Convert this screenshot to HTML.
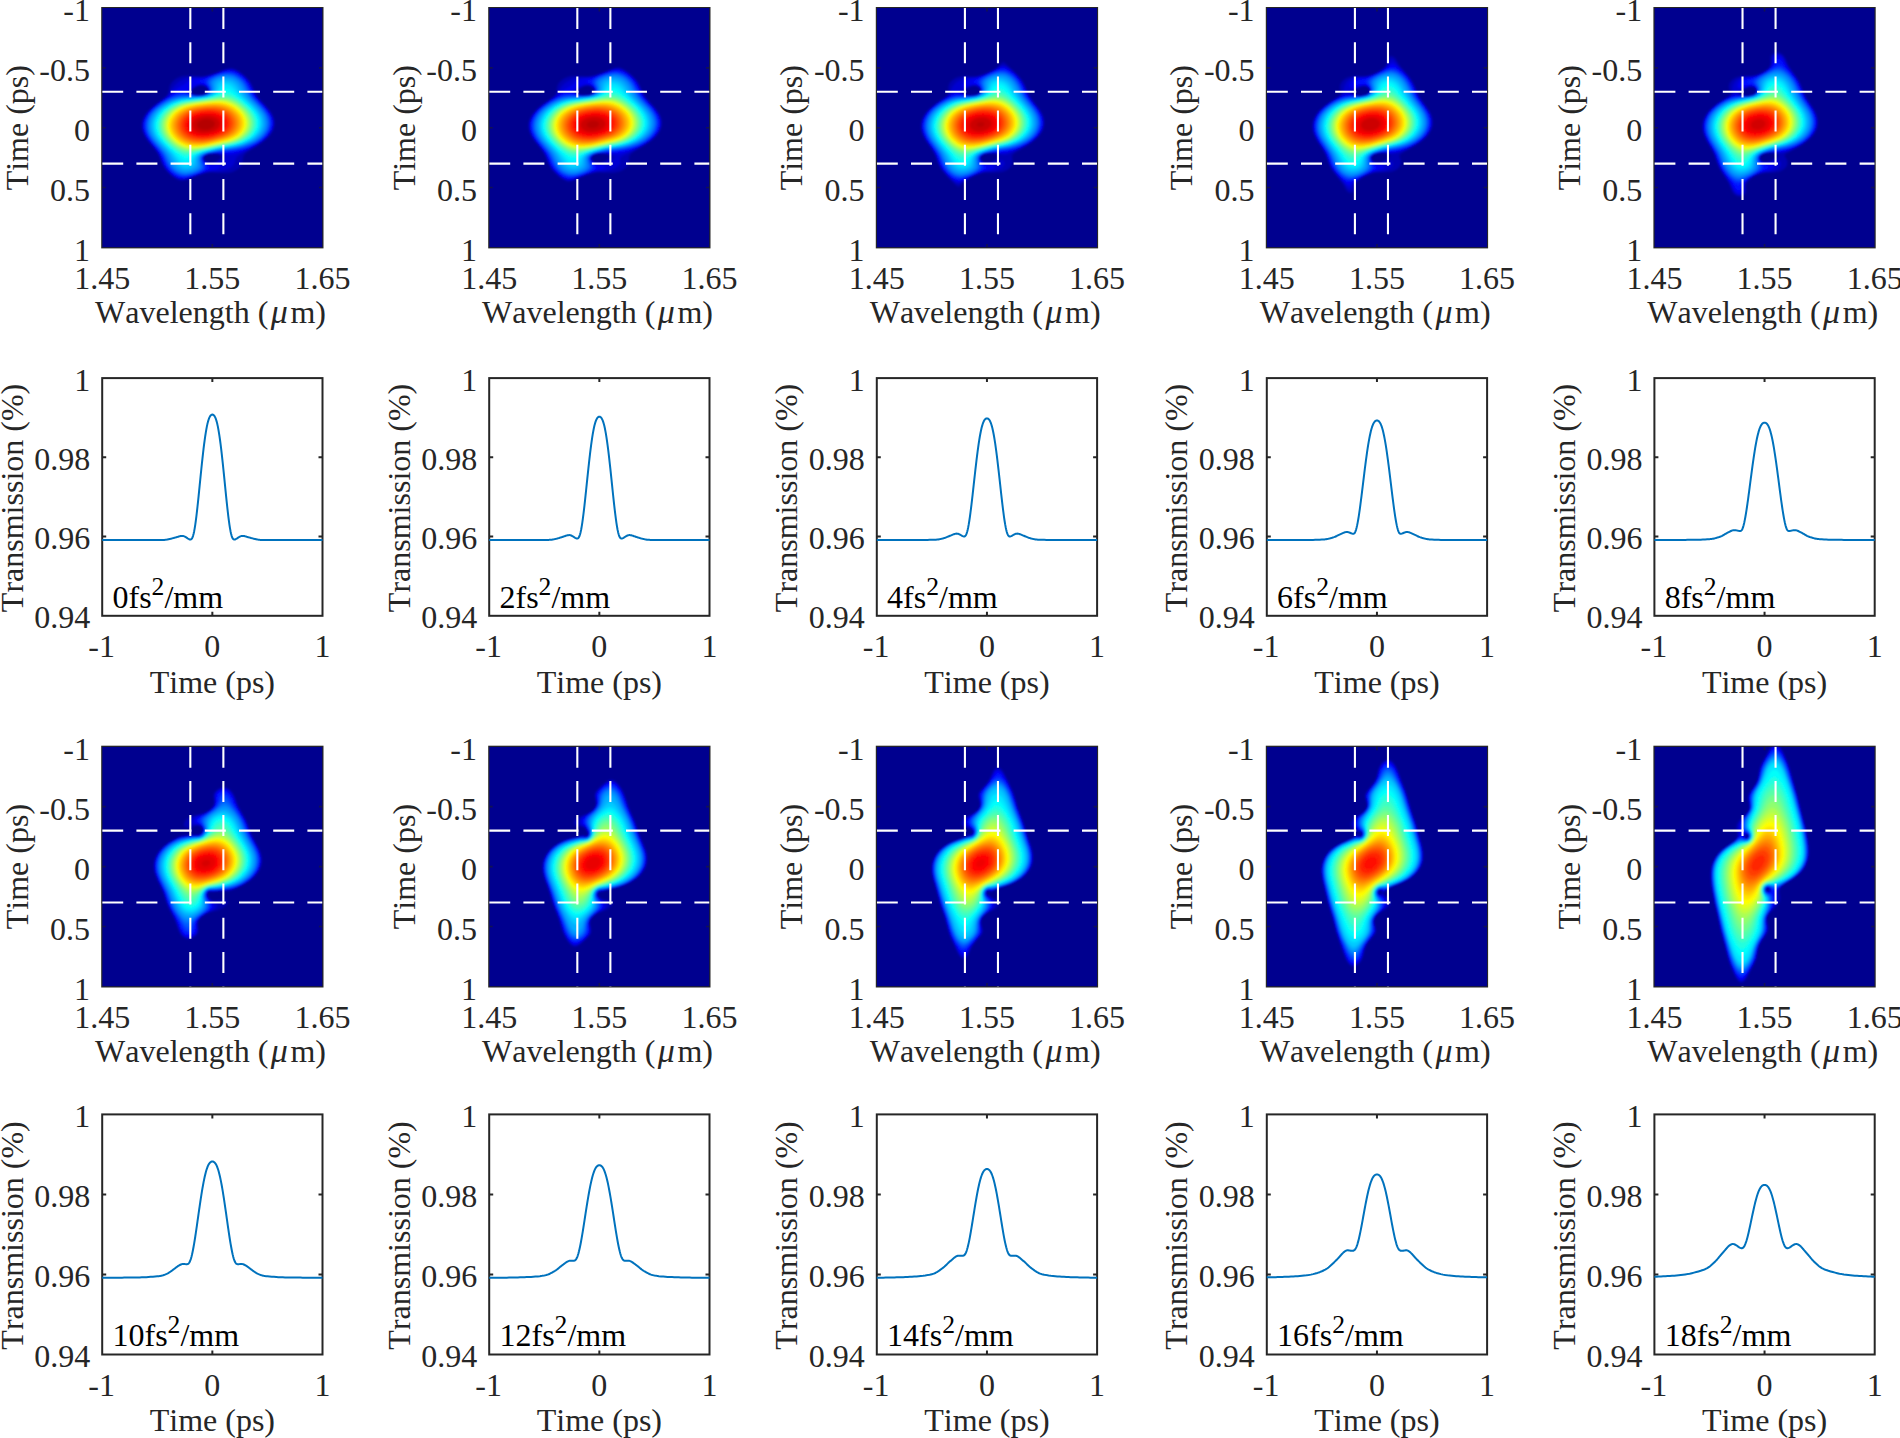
<!DOCTYPE html><html><head><meta charset="utf-8"><title>Figure</title>
<style>html,body{margin:0;padding:0;background:#fff}svg{display:block}text{font-family:"Liberation Serif","Times New Roman",Times,serif;font-size:32px;font-kerning:none}</style></head><body>
<svg width="1900" height="1438" viewBox="0 0 1900 1438">
<rect width="1900" height="1438" fill="#fff"/>
<defs><filter id="b" x="-5%" y="-5%" width="110%" height="110%"><feGaussianBlur stdDeviation="1.1"/></filter>
<clipPath id="c00"><rect x="102.2" y="8" width="220.3" height="239.4"/></clipPath>
<clipPath id="c01"><rect x="489.2" y="8" width="220.3" height="239.4"/></clipPath>
<clipPath id="c02"><rect x="876.8" y="8" width="220.3" height="239.4"/></clipPath>
<clipPath id="c03"><rect x="1266.8" y="8" width="220.3" height="239.4"/></clipPath>
<clipPath id="c04"><rect x="1654.4" y="8" width="220.3" height="239.4"/></clipPath>
<clipPath id="c20"><rect x="102.2" y="746.7" width="220.3" height="239.8"/></clipPath>
<clipPath id="c21"><rect x="489.2" y="746.7" width="220.3" height="239.8"/></clipPath>
<clipPath id="c22"><rect x="876.8" y="746.7" width="220.3" height="239.8"/></clipPath>
<clipPath id="c23"><rect x="1266.8" y="746.7" width="220.3" height="239.8"/></clipPath>
<clipPath id="c24"><rect x="1654.4" y="746.7" width="220.3" height="239.8"/></clipPath>
</defs>
<g>
<rect x="102.2" y="8" width="220.3" height="239.4" fill="#00008f" stroke="#262626" stroke-width="2"/>
<g clip-path="url(#c00)">
<rect x="102.2" y="8" width="220.3" height="239.4" fill="#00008f"/>
<g filter="url(#b)" transform="translate(102.2 8)">
<path fill="#0000b4" fill-rule="evenodd" d="M126.7 60.4l1.6 -0.2 1.2 0.1 2.3 0.5 2.3 1 2.3 1.4 3.5 2.5 2.9 2.4 2.2 2.2 2.7 3.3 2 3.3 3 7.1 2.3 4.2 2.3 3 6.2 6.6 3.7 4.4 2.3 3.3 1.1 2.2 1.3 3.3 0.4 2.2 0.1 2.1 -0.3 3.3 -1.1 3.3 -1.2 2.2 -1.4 2.2 -1.9 2.2 -3.5 3.3 -3.3 2.7 -3.5 2.4 -9.5 5.9 -2.9 2.2 -1.1 1.1 -0.9 1.1 -0.5 1.1 -0.6 2.2 -0.7 4.4 -0.9 2.2 -1.5 2.1 -1.1 1.2 -3.2 2.2 -2.5 1.1 -2.5 0.7 -3.5 0.5 -5.8 0.2 -9.3 -0.8 -4.6 0.3 -4.6 1.1 -3.9 1.3 -13.6 5.2 -3.4 0.4 -3.5 -0.7 -3.5 -1.9 -3.5 -2.6 -4 -3.7 -2.6 -3.3 -2.1 -3.3 -1 -2.2 -1.9 -5.1 -2.3 -4.9 -2.4 -3.3 -6.3 -7.6 -2.4 -3.3 -1.3 -2.2 -2.1 -4.4 -0.9 -3.3 -0.3 -2.2 0.1 -2.2 0.3 -2.2 0.9 -3.2 1 -2.2 2.1 -3.3 2.8 -3.3 1.5 -1.5 2.3 -2.1 4.7 -3.6 6.7 -4.9 2.4 -2.2 1.5 -2.2 0.7 -2.2 0.6 -3.3 0.5 -2.2 1.5 -2.8 1.2 -1.5 1.2 -1.2 3.1 -2.2 2.2 -1.1 3.3 -1.1 4.1 -0.4 5.8 0 8.1 0.8 2.4 -0.1 2.7 -0.3 4.2 -1 1.2 -0.5 2.3 -0.6 12.8 -4.9zM97 77.8l-2.4 0.9 -2.3 1.3 -1.6 1.3 -1 1.1 -0.5 1.1 0.1 1.1 0.8 1.1 2.5 1.1 0.9 0.2 7 0 0.7 -0.2 0.4 -0.4 1.2 -0.4 1.1 -0.2 1.5 -1.2 0.6 -2.2 -0.8 -2.2 -1.3 -1.1 -2.3 -1.2 -1.1 -0.2 -1.2 -0.1zM106.3 146.1l-1.2 0.7 -1.2 0.2 -1.6 1.3 -0.8 1.1 -0.1 1.1 0.2 0.9 1.2 1.7 1.1 1 2.4 1 1.1 0.2 2.3 0 1.2 -0.2 2.3 -0.9 2.3 -1.2 1.9 -1.4 1.1 -1.1 0.5 -1.1 0 -1.1 -0.9 -1.1 -2.6 -1.1 -2.3 -0.3 -5.8 0.1z"/>
<path fill="#0000d0" fill-rule="evenodd" d="M125.1 61.5l2.1 -0.3 2.3 0.1 3.5 0.9 2.3 1.2 3.5 2.2 2.3 1.9 3 2.8 1.9 2.2 1.6 2.2 1.2 2.2 3.9 8.7 2.1 3.4 3.7 4.3 6.2 6.7 2.6 3.3 2 3.3 1.5 3.3 0.5 2.2 0.4 2.1 -0.2 3.3 -0.5 2.2 -0.8 2.2 -1.8 3.3 -1.7 2.2 -2.4 2.6 -3.5 3 -3.5 2.5 -4.6 2.9 -14.1 7.7 -3.2 2.2 -1.1 1.1 -0.7 1.1 -1.3 4.4 -1.2 2.2 -0.9 1.1 -1.4 1.1 -1.8 1.1 -2.5 1.1 -2 0.6 -4.6 1 -4 0.6 -6.5 0 -4.6 0.9 -7 2.2 -10.4 3.9 -3.5 0.9 -2.3 0.1 -1.2 -0.1 -3.5 -1.2 -3.5 -2.1 -2.3 -1.7 -2.3 -2.2 -2.7 -2.9 -2.3 -3.3 -1.1 -2.2 -3.1 -7.7 -2.4 -4.4 -2.4 -3.2 -7.2 -8.9 -2.8 -4.4 -1 -2.2 -0.8 -2.2 -0.5 -2.2 -0.2 -2.2 -0 -2.2 0.2 -2.2 0.6 -2.1 0.8 -2.2 1.2 -2.2 1.5 -2.2 2.8 -3.3 5.4 -4.9 8.6 -6.1 3.9 -3.3 1.8 -2.2 0.8 -1.7 1.7 -2.7 3 -3.9 2.8 -2.7 3.3 -2.2 2.2 -1.1 2.8 -1.1 4.3 -1.1 3.2 -0.3 8.1 0.2 4.6 -0.6 7 -2.1 11.6 -4.2zM95.8 77.6l-2.3 1 -3.7 2.7 -1.5 2.2 0.1 1.1 1 1.1 2.4 1.1 1.7 0.4 7 -0.1 3.4 -1.1 1.8 -1.4 0.7 -1.1 0.1 -1.1 -0.9 -2.2 -1.7 -1.6 -1.1 -0.7 -2.3 -0.7 -2.4 -0.1zM106.3 145.9l-1.2 0.6 -1.2 0.2 -2 1.6 -0.8 1.1 0 1.1 0.2 1.1 1.5 2 2.3 1.7 1.2 0.3 1.1 0.3 2.3 -0.1 2.4 -0.3 1.1 -0.6 1.2 -0.3 4.1 -1.9 1.8 -1.1 1.2 -1.1 0.5 -1.1 -0.5 -1.1 -1.4 -1.1 -2.2 -0.9 -2.4 -0.6 -3.4 -0.2z"/>
<path fill="#0000ec" fill-rule="evenodd" d="M122.9 62.6l3.1 -0.5 2.3 -0.1 3.5 0.6 2.3 0.9 3.5 2.1 3.3 2.5 2.5 2.4 2.3 2.7 2.4 3.7 2.9 6.6 2.3 4.4 3.5 4.4 5.3 5.5 3.4 4 2.3 3.2 1.4 2.7 1.2 3.3 0.6 4.3 -0.6 4.4 -1.3 3.3 -1.3 2.1 -2.3 2.9 -2.8 2.7 -4.2 3.4 -4.6 3 -3.5 1.8 -7 3.3 -5.8 2.3 -4.6 1.4 -4.7 0.8 -3.5 -0 -9.3 -1.4 -3.4 -0.1 -5.8 0.5 -2.4 0.8 -1.1 0.7 -1.3 1.1 -0.7 1.1 -0.1 1.1 0.2 1.1 1.9 2.6 2.3 1.6 2.3 0.9 3.5 0.2 4.6 -0.2 1.2 -0 1 0.4 0.3 1.1 -0.5 1.1 -1.4 1.1 -2.6 1.1 -7.2 1.5 -4.7 1.4 -10.4 3.8 -7 2.3 -2.3 0.3 -2.3 0.1 -2.4 -0.4 -2.3 -0.9 -2.3 -1.2 -3.4 -2.5 -2.4 -2.2 -2.3 -2.7 -1.3 -1.7 -1.3 -2.2 -1.1 -2.2 -3.1 -7.7 -1.8 -3.3 -2.5 -3.3 -6.4 -7.7 -2.3 -3.3 -1.3 -2.2 -1 -2.2 -1.2 -3.5 -0.3 -3.1 0.2 -4.4 1.3 -4 1.2 -2.3 2.3 -3.3 2.1 -2.4 3.5 -3.3 6 -4.5 7.8 -5.4 3.9 -3.3 3.4 -3.2 2.3 -2 7 -4.1 5.1 -3.9 2.2 -1.1 3.1 -0.8 8.2 -0.7 4.6 -1.1zM95.8 76.8l-2.3 0.7 -2.3 1.1 -2.4 1.5 -1.2 1.2 -0.6 1.1 -0.2 1.1 0.4 1.1 1.2 1.1 1.6 0.8 2.3 0.8 2.3 0.2 4.7 -0.1 2.3 -0.3 2.3 -0.9 2.1 -1.6 0.7 -1.1 0.2 -1.1 -0.3 -1.1 -0.6 -1.1 -2.1 -2 -1.1 -0.9 -2.3 -0.8 -2.4 -0.2z"/>
<path fill="#0008ff" fill-rule="evenodd" d="M121.5 63.7l3.3 -0.7 2.4 -0.2 2.3 0.2 3.5 1 2.3 1.1 3.5 2.3 3.4 2.9 2 2.2 2.7 4.1 3.6 8 1.2 2.2 1.5 2.2 2.8 3.3 8.1 8.8 2.4 3.3 1.3 2.2 1 2.2 0.7 2.2 0.6 3.2 0 2.2 -0.3 2.2 -1.1 3.3 -1.2 2.2 -2.4 3.3 -2.1 2.2 -3.3 2.8 -3.5 2.4 -3.5 2.1 -4.6 2.3 -4.7 2 -5.8 1.9 -5.8 1.1 -3.5 0.5 -5.8 0.3 -9.3 -0.2 -3.5 0.2 -3.4 0.5 -2.4 0.8 -1.6 0.9 -1.3 1.1 -0.5 1.1 -0.2 1.1 0.2 1.1 0.4 1.1 1.9 2.3 2.3 1.9 1.8 1.3 1.1 1.1 -0.3 1.1 -1.5 1.1 -2.1 1.1 -5.2 2.2 -8.9 3.2 -3.5 1.1 -3.5 0.8 -2.3 0.2 -2.3 -0.3 -3.5 -1.1 -3.5 -2.1 -2.3 -1.8 -2.3 -2.2 -1.8 -2.2 -1.5 -2.2 -1.2 -2.2 -2.7 -6.6 -2.2 -4.4 -2.3 -3.3 -6.9 -8.2 -2 -2.8 -1.5 -2.3 -2 -4.3 -0.8 -3.3 -0.3 -2.2 0 -2.2 0.3 -2.2 0.5 -2.1 1.2 -2.8 2.3 -3.8 2.3 -2.7 2.9 -2.8 4.1 -3.3 5.8 -4 11.6 -7.4 2.3 -1.3 2.3 -0.9 2.4 -0.6 2.3 -0 1.1 0.4 2 1.7 1.7 1.1 2.7 1.1 2.9 0.7 3.5 0.3 3.5 -0.2 2.3 -0.3 2.3 -0.9 2.4 -1.7 0.8 -1.2 0.1 -1.1 -0.1 -1.1 -1.3 -2.2 -1.9 -1.8 -1.1 -0.8 -2.3 -1.3 -3.5 -0.8 -2.4 -0 -0.7 -0.8 2.6 -1.1 2.8 -0.8 12.2 -4.7z"/>
<path fill="#0024ff" fill-rule="evenodd" d="M120.5 64.8l3.2 -0.6 2.3 -0.2 3.5 0.2 2.3 0.6 2.3 1 3.5 2.1 3 2.4 2.1 2.2 1.7 2.2 1.3 2.2 3.6 7.7 1.9 3.3 2.6 3.3 9.1 9.9 2.4 3.3 1.9 3.3 1.2 3.3 0.5 2.2 0.1 2.1 -0.4 3.3 -1.1 3.3 -1.9 3.3 -1.7 2.2 -2.1 2.2 -2.6 2.2 -3.1 2.2 -3.4 2.1 -3.5 1.7 -4.6 2 -5.8 1.8 -8.2 1.4 -22 1.9 -3.5 0.7 -3.4 1.6 -1.1 1.1 -0.7 1.1 -0.1 1.1 0.1 1.1 1 2.2 3.3 4.4 0.4 1.1 -0.3 1.1 -1 1.1 -3.9 2.2 -8.2 3.2 -3.5 1.1 -3.5 0.7 -2.3 0.2 -2.3 -0.1 -2.4 -0.5 -2.3 -0.9 -2.3 -1.3 -2.3 -1.7 -2.4 -2.1 -2.3 -2.8 -2.1 -3.5 -3.3 -7.7 -1.7 -3.3 -2.4 -3.3 -7.3 -8.8 -2.3 -3.3 -1.3 -2.2 -1.8 -4.4 -0.5 -2.2 -0.3 -2.2 -0 -2.2 0.3 -2.2 0.6 -2.1 0.8 -2.2 1.2 -2.2 2.3 -3.3 3.1 -3.3 3.1 -2.7 4.7 -3.4 4.6 -2.9 5.8 -3.4 4.6 -2.3 3.5 -1 3.5 -0.3 2.3 0.3 4.5 1.4 3.7 0.8 3.4 0.4 2.4 0 4.6 -0.6 2.3 -0.8 1.8 -0.9 1.2 -1.1 0.6 -1.1 0.2 -1.1 -0.1 -1.1 -0.4 -1.1 -0.9 -1.5 -3.5 -4 -0.5 -1.1 0.3 -1.1 1.2 -1.1 4.1 -2.2 6.5 -2.5z"/>
<path fill="#0040ff" fill-rule="evenodd" d="M119.3 65.9l3.2 -0.7 3.5 -0.3 3.5 0.4 2.3 0.7 2.4 1 3.4 2.2 2.6 2.2 2 2.2 2.4 3.6 3.5 7.4 1.9 3.3 2.7 3.3 9.1 9.9 2.4 3.3 1.3 2.2 1.1 2.2 0.7 2.2 0.6 3.2 0 2.2 -0.4 2.2 -1.1 3.3 -1.1 2.2 -1.6 2.2 -1.9 2.2 -2.4 2.2 -2.9 2.2 -3.5 2.2 -3.8 2 -3.2 1.3 -4.9 1.5 -7 1.5 -5.8 0.9 -19.7 2.2 -4.7 1.2 -2.3 1.2 -1.6 1.4 -0.6 1.1 -0.2 1.1 0.4 2.2 2.4 4.4 0.4 1.1 0.1 1.1 -0.4 1.1 -1 1.1 -1.6 1.1 -2 1.1 -2.9 1.2 -4.6 1.6 -3.5 0.9 -2.3 0.4 -2.3 0.1 -2.3 -0.1 -3.5 -1 -2.4 -1.2 -2.7 -1.9 -2.4 -2.2 -1.8 -2.2 -2.3 -3.8 -3.1 -7.2 -1.8 -3.3 -2.4 -3.3 -7.4 -8.8 -2.3 -3.3 -1.3 -2.2 -1.8 -4.4 -0.6 -2.2 -0.2 -2.2 -0 -2.2 0.3 -2.2 0.5 -2.1 0.9 -2.2 1.7 -3.2 1.8 -2.3 2.9 -3.1 2.8 -2.4 4.2 -3.1 4.6 -3 5.8 -3.1 3.5 -1.6 3.5 -1 2.3 -0.4 2.3 -0.2 2.3 0.2 9.3 1.4 3.5 0.2 2.3 -0.1 4.7 -0.9 1.1 -0.4 2.3 -1.2 1.2 -1.1 0.7 -1.1 0.2 -1.1 -0.1 -1.1 -0.8 -2.1 -2.6 -4.5 -0.2 -1.1 0.5 -1.1 1.1 -1.1 1.6 -1.1 2.2 -1.1 5.5 -2.2z"/>
<path fill="#005cff" fill-rule="evenodd" d="M124.7 65.9l3.6 0.3 3.5 0.9 3.5 1.8 3.5 2.7 1.9 2 1.7 2.2 1.3 2.2 3.1 6.6 2 3.3 2.7 3.3 8.3 8.8 2.6 3.3 1.9 3 1.2 2.5 0.7 2.2 0.5 2.2 0.1 2.1 -0.2 2.2 -0.8 3.3 -1 2.2 -1.4 2.2 -1.4 1.8 -3.8 3.7 -4.7 3.3 -4.2 2.2 -2.4 0.9 -5.8 1.8 -5.8 1.4 -5.8 0.9 -12.8 1.6 -9.3 1.6 -3.5 1 -2.3 1.1 -1 0.7 -1.2 1.1 -0.6 1.1 -0.3 1.1 0.3 2.2 1.8 4.4 0.2 1.1 -0.1 1.1 -0.5 1.1 -1 1.1 -1.6 1.1 -2.1 1.1 -2.6 1.1 -3.4 1.1 -5.3 1 -2.3 0.1 -2.3 -0.3 -2.4 -0.6 -2.3 -1.1 -3.6 -2.4 -2.2 -2.2 -1.2 -1.4 -2.3 -3.7 -3.1 -7 -1.8 -3.3 -2.4 -3.3 -7.8 -9.1 -2 -3 -1.5 -2.4 -1.3 -3.1 -0.7 -2.2 -0.4 -2.2 -0.1 -2.2 0.2 -2.2 0.4 -2.1 0.7 -2.2 1 -2.2 1.4 -2.3 2.3 -3 2.4 -2.4 2.6 -2.2 3.2 -2.4 5 -3.1 4.2 -2.3 3.5 -1.5 4.7 -1.3 4.6 -0.6 4.7 0.1 8.1 0.7 4.6 -0.1 2.4 -0.3 3.4 -0.9 2.4 -1.1 1.7 -1.5 0.6 -1.1 0.3 -1.1 0 -1.1 -0.3 -1.1 -1.9 -4.4 -0.3 -1.1 0.1 -1.1 0.6 -1.1 1.1 -1.1 1.6 -1.1 4.9 -2.2 5.5 -1.6z"/>
<path fill="#0078ff" fill-rule="evenodd" d="M123.4 67l3.8 0.1 4 1 2.3 1.1 1.8 1.1 2.7 2.2 2 2.2 1.5 2.2 3.9 7.7 2 3.3 2.8 3.3 8.3 8.7 2.3 2.9 2.3 3.6 1.2 2.4 1.2 4.4 0.1 2.1 -0.2 2.2 -0.5 2.2 -0.8 2.2 -1.2 2.2 -1.6 2.2 -2 2.2 -2 1.8 -3.7 2.6 -3.2 1.7 -3.5 1.5 -5.8 1.9 -7 1.7 -4.6 0.8 -11.6 1.5 -11.6 2.3 -3.5 1.1 -2.3 1.3 -1.8 1.6 -0.9 2.2 0.1 2.2 1.3 4.4 -0 1.1 -0.3 1.1 -0.6 1.1 -1.2 1.1 -1.7 1.1 -1.9 0.9 -3.5 1.3 -3.5 0.8 -2.3 0.3 -3.5 -0.2 -2.3 -0.5 -2.3 -0.9 -1.3 -0.6 -2.2 -1.6 -1.9 -1.7 -1.6 -1.9 -2.3 -3.6 -3 -6.6 -1.9 -3.3 -2.5 -3.3 -7.7 -9 -2.2 -3.1 -1.3 -2.2 -1.2 -2.5 -0.6 -1.9 -0.5 -2.2 -0.3 -2.2 -0 -2.2 0.3 -2.2 0.6 -2.1 0.9 -2.2 1.8 -3.3 1.3 -1.8 2.3 -2.6 2.5 -2.2 4.4 -3.3 3.5 -2.2 4.2 -2.2 2.6 -1.1 4.9 -1.5 5.8 -0.9 4.7 -0.2 9.2 0.3 4.7 -0.3 4.6 -1 2.4 -1.1 1.2 -0.8 1.2 -1.1 0.7 -1.1 0.2 -1.1 -0.1 -2.2 -1.3 -4.4 -0.1 -1.1 0.3 -1.1 0.7 -1.1 1.2 -1.1 1.7 -1.1 2.4 -1.1 3.5 -1.2z"/>
<path fill="#0094ff" fill-rule="evenodd" d="M118.4 69.2l3 -0.6 2.3 -0.2 2.3 0.1 3.5 0.7 2.7 1.1 1.8 1.1 1.5 1.1 2.2 2.2 2.2 3.1 3 5.7 2 3.3 3.6 4.4 6.5 6.6 2.3 2.6 2.3 2.9 2.1 3.3 1.4 3.3 0.9 4.3 -0.2 3.3 -0.8 3.3 -1.1 2.2 -1.4 2.2 -1.9 2.2 -2.3 2.2 -2.4 1.8 -2.5 1.5 -5.7 2.6 -4.6 1.7 -5.8 1.5 -5.8 1.1 -14 2 -10.4 2.4 -3.5 1.3 -2.8 1.7 -1.1 1.1 -0.7 1.1 -0.4 2.2 0.5 4.4 -0.1 2.2 -0.5 1.1 -0.7 0.9 -1.2 1 -2.3 1.3 -2.3 0.9 -3.5 0.8 -3.5 0.3 -2.3 -0.3 -2.3 -0.6 -2.3 -1.1 -1.7 -1 -1.8 -1.6 -1.6 -1.7 -1.9 -2.7 -3.5 -7.2 -2 -3.3 -1.7 -2.2 -7.9 -9 -2.3 -3 -2.1 -3.4 -1.5 -3.3 -0.6 -2.2 -0.5 -2.5 0.1 -4.1 1.1 -4.3 1.2 -2.4 1.2 -2 2.2 -2.8 2.8 -2.7 2.7 -2.2 3.1 -2.2 3.8 -2.2 3.9 -1.8 5.8 -2 4.7 -0.9 4.6 -0.3 10.4 -0.2 5.9 -0.5 4.6 -1.2 2.3 -1.1 2.3 -1.9 0.7 -1.1 0.3 -1.1 0.1 -2.2 -0.6 -4.4 0.2 -1.1 0.4 -1.1 1 -1.1 1.4 -1.1 2.1 -1.1z"/>
<path fill="#00afff" fill-rule="evenodd" d="M118.1 71.4l2.1 -0.6 2.3 -0.3 2.3 -0 2.4 0.4 2.3 0.7 2.3 1.2 2.3 1.8 1.3 1.2 1.6 2.2 3.9 6.6 2.3 3.3 3 3.3 8.7 8.8 2.6 3.3 2.1 3.3 1.1 2.2 0.7 2.2 0.5 3.2 0 2.2 -0.3 2.2 -1.2 3.3 -1.2 2.2 -1.6 2.2 -3.5 3.3 -2.6 1.9 -2.3 1.4 -4.8 2.2 -4.5 1.6 -5.8 1.5 -4.6 0.9 -11.6 1.7 -9.3 2 -5.8 1.6 -3.8 1.7 -1.6 1.1 -1.1 1.1 -0.7 1.1 -0.7 2.2 -0.1 4.4 -0.2 1.1 -0.5 1.1 -0.9 1.1 -2 1.4 -1.7 0.8 -1.8 0.5 -3.5 0.4 -3.5 -0.4 -2.3 -0.9 -3 -1.8 -2.2 -2.2 -1.8 -2.4 -3.4 -6.4 -2.2 -3.3 -2.7 -3.3 -7.9 -8.8 -1.7 -2.2 -2 -3.3 -1.9 -4.4 -0.5 -2.2 -0.3 -2.2 -0 -2.2 0.3 -2.2 0.6 -2.1 0.9 -2.2 1.2 -2.2 1.5 -2.2 1.9 -2.2 2.3 -2.2 2.7 -2.2 3.3 -2.2 3.3 -1.8 3.5 -1.6 4.6 -1.6 5.8 -1.2 3.5 -0.3 11.6 -0.5 4.7 -0.6 4.6 -1 3.1 -1.3 1.7 -1.1 1.2 -1.1 0.7 -1.1 0.7 -2.2 0.1 -4.4 0.3 -1.1 0.5 -1.1 0.9 -1.1 1.2 -1z"/>
<path fill="#00cbff" fill-rule="evenodd" d="M119.3 73.6l3.2 -0.7 3.5 0.3 2.3 0.7 1.6 0.8 1.6 1.1 2.6 2.8 4 6 2.7 3.3 10 9.9 3.9 4.4 2.3 3.3 1.2 2.2 0.9 2.2 0.6 2.2 0.3 3.2 -0.1 2.2 -0.6 2.2 -0.8 2.2 -2 3.3 -3.1 3.3 -1.9 1.6 -2.6 1.7 -4.2 2.2 -4.8 1.9 -5.8 1.6 -5.8 1.2 -12.8 2 -10.4 2.5 -4.6 1.5 -3 1.4 -1.6 1.1 -1.2 1.1 -0.8 1.1 -0.5 1.1 -1.4 5.5 -0.8 1.3 -1.2 1.1 -2.3 1.1 -2.3 0.4 -2.4 0 -1.1 -0.2 -2.3 -0.8 -2.4 -1.5 -2.3 -2.3 -5.9 -9 -2.8 -3.3 -8.3 -8.8 -2.6 -3.3 -2.1 -3.3 -1 -2.2 -0.9 -2.2 -0.5 -2.2 -0.3 -2.2 0.1 -2.2 0.2 -2.2 0.6 -2.1 0.9 -2.2 1.2 -2.2 1.6 -2.2 1.9 -2.2 2.3 -2.2 2.8 -2.2 3.4 -2.2 5.9 -2.9 4.7 -1.5 4.6 -1 4.7 -0.5 10.4 -0.6 5.8 -0.8 4.7 -1.1 3.5 -1.5 1.7 -1.1 1.2 -1.1 0.9 -1.1 0.9 -2.2 1 -4.4 0.7 -1.1 1.1 -1.1z"/>
<path fill="#00e7ff" fill-rule="evenodd" d="M120.2 76.9l2.3 -0.8 2.3 -0 2.4 0.7 2.3 1.4 2.3 2.3 3.4 4.1 3.1 3.3 9.8 9.1 4.7 5.2 2.4 3.3 1.2 2.2 0.9 2.2 0.6 2.2 0.3 3.2 -0.2 2.2 -0.5 2.2 -0.9 2.2 -2 3.3 -3.1 3.3 -2.3 1.8 -2.2 1.5 -4.4 2.2 -5 1.9 -4.6 1.2 -4.7 1 -12.8 2 -10.4 2.6 -4.6 1.4 -2.5 0.9 -2.2 1.1 -1.7 1.1 -1.3 1.1 -1.7 2.2 -2.3 4.2 -1.1 1.1 -1.2 0.6 -2.3 0.4 -1.2 -0.1 -2.3 -0.7 -1.7 -1.1 -1.8 -1.6 -6.8 -8.3 -9.8 -9.9 -3.6 -4.4 -2.1 -3.3 -1.1 -2.2 -0.8 -2.2 -0.5 -2.2 -0.3 -2.2 -0 -2.2 0.3 -2.2 0.6 -2.1 0.9 -2.2 1.2 -2.2 1.6 -2.2 3 -3.3 4.2 -3.3 5.1 -3.1 4.6 -1.9 5.9 -1.6 4.6 -0.7 11.6 -1 4.7 -0.5 4.6 -0.9 4 -1.3 2.4 -1.1 1.8 -1.1 1.4 -1.1 1.7 -2.2 1.5 -2.8 1 -1.6z"/>
<path fill="#04fffb" fill-rule="evenodd" d="M121.6 81.3l0.9 -0.5 1.2 -0.2 1.1 0 2.4 0.7 2.3 1.4 15.1 12.8 3.5 3.4 2.9 3.3 2.4 3.3 1.2 2.2 1.2 3.3 0.5 2.2 0.1 3.2 -0.4 2.2 -0.6 2.2 -1.1 2.2 -2.4 3.3 -3.5 3.3 -3.4 2.2 -5.1 2.5 -3.5 1.2 -4.6 1.2 -16.3 2.9 -13.9 3.5 -4.6 1.6 -3.2 1.4 -3.4 2.2 -3.9 3.1 -1.1 0.6 -1.2 0.3 -1.2 0 -2.3 -0.8 -3.5 -2.5 -12.7 -11.8 -5 -5.4 -3 -4.4 -1.1 -2.2 -0.8 -2.2 -0.7 -3.3 -0.2 -2.2 0.2 -2.2 0.4 -2.1 0.8 -2.2 1 -2.2 1.4 -2.2 1.8 -2.2 3.5 -3.3 4.7 -3.3 5.1 -2.6 4.6 -1.6 4.7 -1 17.4 -1.9 4.6 -0.8 4 -0.9 3.2 -1.1 4.5 -2.2z"/>
<path fill="#20ffdf" fill-rule="evenodd" d="M122.2 84.6l2.6 -0.2 2.4 0.5 3.4 1.7 4.7 3.1 5.8 4.5 5.2 4.7 3.9 4.4 2.1 3.3 1.5 3.3 0.8 3.3 0.1 3.2 -0.3 2.2 -1.2 3.3 -1.3 2.2 -2.7 3.3 -2.6 2.2 -3.2 2.1 -2.3 1.2 -5.8 2.2 -7 1.8 -13.9 2.5 -12.8 3.1 -7.7 2.5 -6.2 2.7 -3.5 0.8 -1.2 0 -2.3 -0.6 -2.3 -1.1 -3.5 -2.3 -4.6 -3.7 -4 -3.5 -3.3 -3.3 -2.8 -3.3 -2.7 -4.4 -1 -2.2 -0.7 -2.2 -0.4 -2.2 -0.1 -2.2 0.3 -3.3 0.6 -2.1 0.9 -2.2 2 -3.3 2.9 -3.3 3.6 -3.1 2.3 -1.6 3.5 -1.9 3.5 -1.5 3.5 -1.2 5.8 -1.1 15.1 -1.7 6.5 -1.1 6.3 -1.7 8.1 -3.3z"/>
<path fill="#3cffc3" fill-rule="evenodd" d="M121.1 86.8l2.6 -0.2 3.5 0.6 3.4 1.4 4.7 2.8 4.6 3.4 4.6 4.1 3.6 3.8 2.6 3.9 1.5 3.3 0.8 3.3 0.1 3.2 -0.3 2.2 -1.2 3.3 -1.3 2.2 -2.8 3.3 -2.6 2.2 -2.7 1.7 -3.1 1.6 -3.8 1.5 -3.5 1.1 -4.6 1.1 -12.8 2.3 -16 3.9 -9.6 2.8 -2.3 0.5 -2.3 0.2 -2.3 -0.3 -2.3 -0.8 -2.4 -1.1 -3.5 -2.2 -3.4 -2.7 -3.5 -3 -3.2 -3.3 -2.6 -3.3 -2 -3.3 -1 -2.2 -0.7 -2.2 -0.5 -2.2 -0.1 -2.2 0.3 -3.3 0.7 -2.1 0.9 -2.2 2 -3.3 2.9 -3.3 4 -3.3 2.8 -1.8 3.4 -1.7 3.5 -1.3 3.5 -1 5.8 -1.1 12.8 -1.4 5.8 -0.9 4.6 -1 8.2 -2.3z"/>
<path fill="#57ffa8" fill-rule="evenodd" d="M116.2 89l4 -0.7 3.5 -0.1 3.5 0.7 3.4 1.4 4.7 2.6 5.1 3.8 4.2 3.9 3.1 3.8 2 3.3 1.3 3.3 0.6 3.2 -0.2 3.3 -0.9 3.3 -1.1 2.2 -2.4 3.3 -2.4 2.2 -3.1 2.2 -2.7 1.5 -4.4 1.8 -3.5 1.1 -4.8 1.1 -11.7 2.2 -24.4 5.8 -2.3 0.4 -2.3 0.1 -2.4 -0.2 -2.3 -0.6 -2.3 -0.9 -3.5 -1.9 -3.5 -2.4 -2.9 -2.5 -2.9 -2.7 -2.3 -2.8 -1.6 -2.2 -1.3 -2.2 -1.4 -3.3 -0.6 -2.2 -0.3 -2.2 0.2 -3.3 0.4 -2.1 0.8 -2.2 1.8 -3.3 2.6 -3.3 3.7 -3.3 3.3 -2.2 2.8 -1.5 3.5 -1.5 3.5 -1 5.8 -1.2 18.6 -2.4z"/>
<path fill="#73ff8c" fill-rule="evenodd" d="M115 90.1l5.2 -0.7 3.5 0.2 3.5 0.7 3.4 1.4 3.5 1.9 4.7 3.2 4.6 4.3 2.8 3.3 2 3.3 1.3 3.3 0.6 3.2 -0.2 3.3 -0.9 3.3 -1.1 2.2 -2.5 3.3 -2.4 2.2 -3.1 2.2 -2.3 1.2 -3.5 1.5 -4.6 1.5 -14 2.8 -20.9 4.7 -4.6 0.8 -3.5 0.2 -3.5 -0.3 -2.3 -0.6 -2.3 -0.9 -2.3 -1.2 -3.5 -2.3 -2.5 -1.9 -2.4 -2.2 -3 -3.3 -2.3 -3.3 -1.2 -2.2 -0.8 -2.2 -0.6 -2.2 -0.3 -2.2 0.1 -3.3 0.8 -3.2 1.6 -3.3 2.4 -3.3 3.3 -3.3 3.1 -2.2 4 -2.2 3.6 -1.5 3.5 -1 5.8 -1.2 16.2 -2.1z"/>
<path fill="#8fff70" fill-rule="evenodd" d="M112.8 91.2l5.1 -0.6 3.5 -0.1 3.4 0.4 3.5 1 4.7 2.3 3.4 2.2 4.3 3.6 3.1 3.3 1.9 2.6 1.5 2.9 1.1 3.3 0.4 3.2 -0.4 3.3 -1.3 3.3 -2.1 3.3 -2.1 2.2 -2.9 2.2 -3.5 2 -2.9 1.3 -4 1.4 -3.5 0.8 -10.5 2.1 -13.9 3.2 -8.1 1.4 -4.7 0.5 -3.4 0 -2.4 -0.4 -2.3 -0.6 -2.3 -1 -2.3 -1.2 -3.5 -2.3 -3.3 -2.8 -2.2 -2.2 -2.6 -3.3 -1.9 -3.3 -1.2 -3.3 -0.5 -2.2 -0.1 -2.2 0.2 -2.2 0.4 -2.1 1.3 -3.3 2.1 -3.3 3.1 -3.3 2.8 -2.2 3.6 -2.2 4.1 -1.8 3.5 -1.1 7.2 -1.5z"/>
<path fill="#abff54" fill-rule="evenodd" d="M109.6 92.3l5.9 -0.7 4.7 -0.2 3.5 0.4 3.5 0.9 3.4 1.4 3.5 2 3.8 2.8 3.2 3 2.1 2.5 2.1 3.3 1.3 3.3 0.6 3.2 -0.1 3.3 -1 3.3 -1.8 3.3 -1.9 2.2 -2.5 2.2 -3.4 2.2 -3.5 1.7 -4.7 1.6 -24.4 5.4 -5.8 1 -5.8 0.8 -3.5 0.2 -2.3 0 -2.3 -0.3 -3.5 -1 -2.3 -1 -3.5 -1.9 -2.8 -2.1 -2.5 -2.2 -2.9 -3.3 -2.2 -3.3 -1.5 -3.3 -0.6 -2.2 -0.3 -2.2 0 -2.2 0.3 -2.2 1.1 -3.2 1.9 -3.3 2.8 -3.3 2.5 -2.2 3.3 -2.2 4.4 -2.2 3.5 -1.2 3.5 -0.8 4.6 -0.9z"/>
<path fill="#c7ff38" fill-rule="evenodd" d="M117.4 92.3l4 0.2 3.4 0.6 3.5 1.1 3.5 1.7 3.5 2.3 3.4 2.9 2.4 2.5 2.1 3 1.7 3.3 0.8 3.3 0.1 3.2 -0.3 2.2 -1.3 3.3 -1.4 2.2 -1.8 2.2 -2.6 2.2 -3.1 2 -2.7 1.3 -2.9 1.1 -3.7 1.1 -23.2 5.1 -7 1 -5.8 0.5 -3.5 -0.2 -2.3 -0.3 -3.5 -1.1 -2.3 -1 -3.1 -1.8 -2.9 -2.2 -2.4 -2.2 -2.8 -3.3 -2 -3.3 -1.2 -3.3 -0.5 -2.2 -0.1 -2.2 0.3 -3.3 1.1 -3.2 1.9 -3.3 2.9 -3.3 2.6 -2.2 3.5 -2.2 2.7 -1.4 3.5 -1.3 4.6 -1.2 4.7 -0.8 8.1 -1.2 12.8 -1.5z"/>
<path fill="#e3ff1c" fill-rule="evenodd" d="M110.8 93.4l4.7 -0.3 3.5 -0 3.5 0.4 3.5 0.9 3.5 1.4 3.5 2 3.4 2.6 3 2.9 1.7 2.2 1.9 3.3 1.2 3.3 0.3 3.2 -0.4 3.3 -0.7 2.2 -1.9 3.3 -2 2.2 -2.6 2.2 -2.8 1.7 -3.3 1.6 -3.6 1.3 -3.5 0.9 -8.2 1.7 -10.4 2.4 -5.8 1 -5.8 0.6 -3.5 0.1 -3.5 -0.3 -3.5 -0.7 -2.3 -0.8 -3.5 -1.7 -2.3 -1.6 -2.3 -1.8 -2.2 -2.2 -2.6 -3.3 -1.8 -3.3 -1.1 -3.3 -0.3 -3.3 0.3 -3.3 1.2 -3.2 1.9 -3.3 3 -3.3 2.7 -2.2 3.5 -2.2 3.5 -1.5 3.5 -1.2 3.5 -0.8 5.8 -1z"/>
<path fill="#feff01" fill-rule="evenodd" d="M105.6 94.5l9.9 -0.7 3.5 0.1 3.5 0.5 3.5 1 3.5 1.5 3.3 2 2.8 2.2 2.3 2.2 2.6 3.3 1.7 3.3 0.9 3.3 0.1 3.2 -0.4 2.2 -1.3 3.3 -1.4 2.2 -2 2.2 -2.7 2.2 -3.9 2.2 -2.6 1.1 -3.6 1.1 -10.9 2.4 -7.9 2 -6.6 1.1 -5.3 0.5 -3.4 0.1 -3.5 -0.2 -2.3 -0.4 -3.5 -1 -2.3 -1 -2.4 -1.3 -3.1 -2.2 -3.3 -3.3 -2.4 -3.3 -1.6 -3.3 -0.8 -3.3 -0.2 -3.3 0.7 -3.2 1.4 -3.3 2.3 -3.3 2.4 -2.5 3.5 -2.5 3 -1.6 3.9 -1.6 3.5 -1 4.7 -1 5.8 -0.9z"/>
<path fill="#ffe400" fill-rule="evenodd" d="M100.6 95.6l12.6 -1 3.5 0 3.5 0.3 3.3 0.7 3.2 1.1 3.9 1.9 2.4 1.6 2.3 2 3 3.3 2.1 3.3 1.1 3.3 0.4 3.2 -0.4 3.3 -1.3 3.3 -1.4 2.2 -2.1 2.2 -1.4 1.2 -3.4 2.1 -2.6 1.1 -5.6 1.8 -20.2 4.8 -8.9 0.9 -3.4 0.1 -3.5 -0.3 -3.3 -0.7 -2.5 -0.9 -2.8 -1.3 -3 -1.9 -2.9 -2.5 -2.8 -3.3 -1.9 -3.3 -1.1 -3.3 -0.4 -3.3 0.4 -3.3 1.1 -3.2 1.3 -2.2 2.7 -3.3 2.6 -2.2 2.1 -1.5 3.7 -1.8 3.3 -1.3 3.5 -1 5.8 -1.1z"/>
<path fill="#ffc800" fill-rule="evenodd" d="M107.5 95.6l5.7 -0.2 4.7 0.2 2.3 0.3 3.4 0.8 3 1.1 2.9 1.4 2.7 1.9 2.5 2.2 2.8 3.3 1.3 2.1 1.1 3 0.5 2.5 -0.1 2.2 -0.7 3.3 -1 2.2 -2.2 2.8 -1.7 1.6 -2.9 2 -2.6 1.3 -3.2 1.3 -3.5 1 -16.2 4 -3.5 0.7 -4.7 0.6 -4.6 0.2 -3.5 -0.1 -2.3 -0.3 -3.4 -0.8 -2.8 -1.1 -2.2 -1.1 -2.1 -1.3 -2.3 -2 -2.3 -2.4 -2.1 -3.1 -1.4 -3.1 -0.7 -3.5 0.2 -3.3 0.9 -3.2 1.1 -2.2 2.4 -3.3 2.4 -2.2 3.2 -2.2 3.3 -1.6 3.5 -1.3 4.6 -1.2 5.8 -1.1z"/>
<path fill="#ffac00" fill-rule="evenodd" d="M105.8 96.7l5.1 -0.3 3.5 0.1 3.5 0.3 3.5 0.7 3.4 1.1 2.9 1.4 2.9 1.9 2.4 2 2.3 2.7 1.4 2.2 0.9 2.2 0.7 3.2 -0.2 3.3 -0.6 2.2 -1.1 2.2 -1.6 2.2 -1.8 1.8 -2.2 1.5 -2.5 1.4 -3.5 1.4 -5.4 1.6 -10.8 2.7 -3.5 0.8 -4.6 0.7 -3.5 0.3 -3.5 0 -3.5 -0.2 -2.3 -0.4 -3.5 -1 -2.3 -1 -2.3 -1.3 -2.4 -1.7 -2.3 -2.2 -2.4 -3.3 -1.1 -2.2 -0.9 -3.3 -0.2 -3.3 0.7 -3.2 1.6 -3.3 1.6 -2.2 2.1 -2.2 3.1 -2.2 2.5 -1.4 3.5 -1.5 4.6 -1.3 4.6 -1 5.9 -0.9z"/>
<path fill="#ff9000" fill-rule="evenodd" d="M104.7 97.8l5 -0.2 3.5 0 3.5 0.3 3.5 0.7 3.5 1.1 2.3 1.1 2.3 1.4 2.3 1.9 2.4 2.5 1.5 2.2 1 2.2 0.6 2.2 0.1 3.2 -0.4 2.2 -0.9 2.2 -1.4 2.2 -2.2 2.2 -1.8 1.4 -3.4 1.9 -2.7 1.1 -3.4 1.1 -9.1 2.4 -4.6 1 -4.7 0.8 -3.5 0.3 -3.5 -0 -3.4 -0.3 -2.4 -0.3 -3.4 -1 -2.4 -1 -2.3 -1.3 -2.2 -1.7 -2.3 -2.2 -1.6 -2.2 -1.2 -2.2 -1 -3.3 -0.1 -3.3 0.4 -2.2 1.3 -3.2 1.4 -2.2 2 -2.2 2.8 -2.2 2.8 -1.7 3.5 -1.4 4.2 -1.3 3.9 -0.9 4.7 -0.7z"/>
<path fill="#ff7400" fill-rule="evenodd" d="M104.4 98.9l7.7 -0.1 3.4 0.3 3.5 0.7 3.5 1.1 2.3 1.1 2.4 1.5 2.3 1.9 2 2.3 1.3 2.2 0.9 2.2 0.4 2.1 -0 2.2 -0.5 2.2 -0.9 2.2 -1.5 2.2 -1.7 1.7 -2.1 1.6 -2 1.1 -2.9 1.3 -3.5 1.2 -6.9 1.9 -4.7 1.1 -4.6 0.8 -3.5 0.3 -3.5 0.1 -3.5 -0.3 -2.3 -0.4 -2.3 -0.6 -2.7 -1 -2.2 -1.1 -2.1 -1.4 -2.1 -1.9 -1.8 -2.2 -1.3 -2.2 -1 -3.3 -0.2 -3.3 0.4 -2.2 0.8 -2.1 1.7 -2.9 1.4 -1.5 2.6 -2.2 3 -1.8 3.4 -1.5 3.6 -1.2 4.6 -1z"/>
<path fill="#ff5900" fill-rule="evenodd" d="M105.3 100l6.8 0 3.4 0.5 2.7 0.6 3.2 1 2.3 1.2 2.3 1.5 2 1.8 1.8 2.2 1.2 2.2 0.7 2.2 0.2 2.1 -0.2 2.2 -0.8 2.2 -1.2 2.2 -1 1.1 -2.4 2.2 -1.8 1.1 -4.8 2.2 -3.3 1.1 -6.7 1.8 -4.6 0.9 -3.5 0.4 -5.8 0.1 -3.5 -0.4 -2.3 -0.5 -2.3 -0.7 -2.3 -1 -2.4 -1.3 -1.8 -1.5 -2 -2.2 -1.4 -2.2 -0.9 -2.2 -0.5 -2.2 0.1 -3.3 0.7 -2.1 1.1 -2.2 1.6 -2.2 2 -1.8 2.1 -1.5 2.5 -1.4 3.5 -1.4 3.5 -1 3.5 -0.8 4.6 -0.6z"/>
<path fill="#ff3d00" fill-rule="evenodd" d="M97.1 102.2l4.5 -0.7 3.5 -0.3 3.5 0 3.5 0.2 3.4 0.6 2.4 0.6 2.3 0.9 2.3 1.1 2.3 1.7 1.5 1.4 1.7 2.2 1 2.2 0.5 2.1 0 2.2 -0.5 2.2 -1.1 2.2 -1.7 2.2 -1.3 1.1 -3.5 2.3 -2.4 1 -3.5 1.2 -4.6 1.3 -4.6 1 -5.8 0.6 -5.9 -0.2 -4.6 -1 -2.3 -0.8 -2.3 -1.3 -2.4 -1.7 -1.3 -1.3 -1 -1.2 -1.1 -2.1 -0.8 -2.2 -0.2 -2.2 0.1 -2.2 0.7 -2.1 1.2 -2.2 0.9 -1.1 1.5 -1.7 2.4 -1.7 1.7 -1 2.9 -1.4 3.5 -1.1z"/>
<path fill="#ff2100" fill-rule="evenodd" d="M98.7 103.3l6.4 -0.7 3.5 0 3.5 0.4 2.3 0.4 3.3 1 3.7 1.8 1.9 1.5 1.5 1.6 1.1 1.7 0.9 2.2 0.3 2.1 -0.3 2.2 -0.8 2.2 -0.7 1.1 -1.6 1.9 -1.8 1.4 -4 2.2 -5.8 2 -5.8 1.4 -5.8 0.5 -3.5 -0.2 -2.4 -0.2 -4.6 -1.3 -3.5 -1.8 -1.9 -1.5 -1 -1.1 -0.9 -1.1 -1.1 -2.2 -0.6 -2.2 -0.1 -2.2 0.5 -2.2 0.5 -1.1 1.1 -1.9 1.2 -1.4 2.3 -2 2 -1.2 2.3 -1.1 2.7 -1z"/>
<path fill="#ff0500" fill-rule="evenodd" d="M101.9 104.4l5.5 -0.2 4.7 0.5 2.3 0.5 2.3 0.8 3.5 2 2 1.9 0.8 1.1 0.7 1.2 0.6 2 0 2.2 -0.2 1.1 -0.4 1.3 -1.3 2 -2.3 2.2 -3.8 2.2 -5.4 2 -5.8 1.1 -4.6 0.3 -4.7 -0.4 -2.3 -0.5 -2.3 -0.8 -1.3 -0.6 -2.2 -1.4 -1.2 -1 -1.6 -2 -0.7 -1.3 -0.6 -2 -0.1 -1.1 0.2 -2.2 0.5 -1.4 1 -1.8 1.3 -1.6 2.1 -1.7 3.7 -2.1 4.7 -1.5z"/>
<path fill="#e80000" fill-rule="evenodd" d="M99.1 106.6l4.8 -0.6 4.7 0.1 2.3 0.3 2.3 0.6 1.7 0.7 2.1 1.1 1.5 1.1 1 1.1 0.8 1.1 0.9 2.1 0.1 2.2 -0.3 1.1 -0.8 1.9 -1.2 1.4 -1.1 1.1 -2.4 1.5 -4.1 1.8 -4.3 1.1 -4.3 0.5 -4.7 -0.1 -3.5 -0.8 -1.9 -0.7 -1.5 -0.8 -1.9 -1.4 -1.1 -1.1 -1.3 -2.2 -0.4 -1.5 0 -1.8 0.5 -2.2 1.4 -2.1 1.1 -1.1 1.7 -1.4 3.4 -1.7z"/>
<path fill="#cc0000" fill-rule="evenodd" d="M99.2 108.8l3.6 -0.6 3.5 -0.1 4.1 0.7 3 1.1 1.7 1.1 1.1 1.1 0.8 1.1 0.5 1 0.2 1.1 -0.1 1.1 -0.8 2.2 -1.3 1.6 -2.2 1.7 -2.4 1.2 -3.5 1 -3.5 0.5 -3.4 0.1 -3.3 -0.6 -2.9 -1.1 -2 -1.3 -0.9 -0.9 -0.7 -1.1 -0.7 -2.2 0.2 -2.2 1.2 -2.1 2.1 -1.9 2.5 -1.4z"/>
<path fill="#b50000" fill-rule="evenodd" d="M99.1 112.1l2.5 -0.8 2.3 -0.2 2.4 0.1 3.3 0.9 1.7 1.1 0.9 1 0.4 1.1 0.1 1.1 -0.4 1.1 -0.8 1.1 -1.3 1.1 -2.1 1.1 -1.8 0.6 -2.4 0.3 -2.3 0 -3.5 -0.8 -1.8 -1.2 -1 -1.1 -0.4 -1.1 -0.1 -1.1 0.4 -1.1 0.6 -1.1 1.2 -1z"/>
</g>
<path d="M102.2 67.85h3.5M322.5 67.85h-3.5M102.2 127.7h3.5M322.5 127.7h-3.5M102.2 187.55h3.5M322.5 187.55h-3.5M212.35 8v3.5M212.35 247.4v-3.5" stroke="#1a1a3a" stroke-width="1.6" fill="none" opacity="0.7"/>
<path d="M190.32 8V247.4M223.37 8V247.4M102.2 91.79H322.5M102.2 163.61H322.5" stroke="#fff" stroke-width="2.1" stroke-dasharray="21 13.2" fill="none"/>
</g>
<text x="90" y="21.3" text-anchor="end" fill="#262626">-1</text>
<text x="90" y="81.15" text-anchor="end" fill="#262626">-0.5</text>
<text x="90" y="141" text-anchor="end" fill="#262626">0</text>
<text x="90" y="200.85" text-anchor="end" fill="#262626">0.5</text>
<text x="90" y="260.7" text-anchor="end" fill="#262626">1</text>
<text x="102.2" y="289.2" text-anchor="middle" fill="#262626">1.45</text>
<text x="212.35" y="289.2" text-anchor="middle" fill="#262626">1.55</text>
<text x="322.5" y="289.2" text-anchor="middle" fill="#262626">1.65</text>
<text x="210.55" y="322.6" text-anchor="middle" fill="#262626">Wavelength (<tspan font-style="italic" font-size="34px" dx="2.5">μ</tspan><tspan dx="2.5">m)</tspan></text>
<text transform="translate(27.5 127.7) rotate(-90)" text-anchor="middle" fill="#262626">Time (ps)</text>
</g>
<g>
<rect x="489.2" y="8" width="220.3" height="239.4" fill="#00008f" stroke="#262626" stroke-width="2"/>
<g clip-path="url(#c01)">
<rect x="489.2" y="8" width="220.3" height="239.4" fill="#00008f"/>
<g filter="url(#b)" transform="translate(489.2 8)">
<path fill="#0000b4" fill-rule="evenodd" d="M124.1 60.4l2 -0.7 2.3 -0.3 1.2 0.1 2.3 0.5 2.4 1.2 3.5 2.2 3.5 2.8 3.3 3 2.9 3.3 2.8 4.4 3.8 8.5 2.2 3.6 3.6 4.4 4.1 4.4 3.6 4.4 2.2 3.3 1.2 2.2 1.2 3.3 0.3 2.2 0.1 2.1 -0.3 3.3 -1.2 3.3 -1.1 2.2 -2.5 3.3 -2.1 2.2 -3.1 2.8 -5.9 4.1 -10.6 6.3 -3.1 2.2 -1.2 1.1 -0.9 1.1 -0.7 2.2 -0.3 4.4 -0.6 2.2 -0.4 1.1 -0.7 1.1 -1.3 1.5 -1.2 1 -2.3 1.5 -3.4 1.5 -5.4 1.1 -5.2 0 -9.3 -0.5 -4.7 0.4 -4.6 1.2 -1.2 0.5 -2.1 0.6 -5.7 2.2 -6.2 2.8 -3.5 1.2 -2.4 0.3 -1.1 -0.1 -2.4 -0.8 -3.5 -2 -2.3 -1.7 -4.5 -4.1 -2.9 -3.3 -1.6 -2.2 -1.8 -3.3 -3.2 -7.9 -2.2 -4.2 -2.5 -3.4 -5.3 -6.5 -2.4 -3.3 -1.3 -2.2 -2 -4.4 -1 -4.4 -0.1 -2.2 0.2 -2.2 0.7 -3.2 0.5 -1.1 1 -2.2 2.1 -3.3 4.1 -4.4 4.7 -4 8.6 -5.9 4 -3.3 1.6 -2.2 0.4 -1.1 0.6 -5.3 1.1 -3.2 1.2 -1.6 1.2 -1.3 2.2 -1.8 1.3 -0.8 2.9 -1.4 4.1 -1.1 1.1 -0.1 5.9 -0.1 9.3 0.6 4.6 -0.4 4.2 -1.1 6.4 -2.1zM96.9 77.8l-3.5 1.1 -2.2 1.3 -1.6 1.1 -1.1 1.1 -0.6 1.1 -0.1 1.1 0.7 1.1 2.6 1.2 2.3 0.2 5.9 -0.1 1.1 -0.1 1.2 -0.8 1.2 -0.2 1.6 -1.3 0.9 -1.1 -0 -1.1 -0.2 -1 -1.2 -1.6 -1.1 -0.9 -2.4 -1 -1.1 -0.2zM107.4 145.9l-0.6 0.2 -0.5 0.4 -2 0.7 -1.5 1.3 -0.4 0.9 -0.1 1.1 0.5 1.6 1.6 1.7 2 1.1 2.2 0.4 2.3 -0.1 3.5 -1.2 3.5 -1.9 1.9 -1.6 0.8 -1.1 0.1 -1.1 -0.8 -1.1 -3.1 -1.4 -3.5 -0.1z"/>
<path fill="#0000d0" fill-rule="evenodd" d="M123.1 61.5l3 -0.8 2.3 -0.2 2.4 0.3 3.5 1.4 3.5 2.1 3.5 2.7 2.4 2.2 2.9 3.3 2.3 3.3 1.1 2.2 2.9 6.6 1.9 3.3 2.5 3.3 8.7 9.9 2.4 3.3 1.3 2.2 1.4 3.3 0.8 4.3 -0.2 3.3 -0.9 3.3 -1 2.2 -1.3 2.2 -1.8 2.2 -3.3 3.3 -4.6 3.7 -7 4.3 -7 3.7 -10 4.8 -1.9 1.1 -1.5 1.1 -0.6 1.1 0.2 3.3 -0.1 1.1 -0.4 1.1 -0.7 1.1 -1 1.1 -1.4 1.1 -1.9 1.1 -2.7 1.1 -4.9 1.3 -3.5 0.6 -5.8 0.2 -4.7 0.8 -7 2.2 -10.5 4.2 -3.5 1.2 -3.5 0.4 -2.3 -0.4 -1.2 -0.4 -3.5 -1.9 -3.5 -2.7 -3.5 -3.3 -2.7 -3.3 -2.6 -4.4 -2.7 -6.6 -2.2 -4.4 -2.2 -3.3 -7.8 -9.9 -2.1 -3.3 -1.6 -3.3 -0.8 -2.2 -0.4 -2.2 -0.3 -2.2 0.1 -2.2 0.2 -2.2 1.5 -4.3 1.2 -2.2 2.4 -3.3 3.7 -3.8 3.5 -2.9 11 -7.6 2.7 -2.2 1.9 -2.2 1.9 -3.7 2.3 -3.5 2.6 -2.7 3.3 -2.4 4.6 -2.3 2.2 -0.8 3.7 -0.9 3.5 -0.3 7 0 4.6 -0.7 7 -2.3zM94.6 77.8l-3.5 1.6 -2.5 1.9 -1.8 2.2 0.1 1.1 0.8 1.1 1.1 0.6 2.3 0.9 1.2 0.1 3.5 0.1 4.6 -0.3 3.2 -1.4 1.2 -1.1 0.8 -1.1 0.1 -1.1 -0.2 -1.1 -0.4 -0.6 -1.2 -1.4 -2.3 -1.6 -1.2 -0.3 -2.3 -0.2 -2.3 0.2zM106.3 146l-2.4 1.1 -1.4 1.2 -0.4 1.1 -0.2 1.1 0.2 1.1 0.6 1.1 1.2 1.3 2.4 1.4 1.1 0.3 2.4 0.2 2.3 -0.2 3.5 -1.1 3.5 -1.3 4 -1.7 1.7 -1.1 0.6 -1.1 -0.7 -1.1 -1.8 -1.1 -3.2 -1.1 -2.9 -0.7 -4.7 -0.1 -4.7 0.4z"/>
<path fill="#0000ec" fill-rule="evenodd" d="M125.5 61.5l2.9 -0.2 1.8 0.2 2.9 0.9 2.3 1.2 3.5 2.3 2.7 2.2 3.3 3.3 2.2 2.8 2.3 4.1 2.8 6.3 2.6 4.4 3.6 4.4 5.1 5.5 2.3 2.7 2.3 3.4 1.4 2.7 1.2 3.3 0.5 4.3 -0.2 2.2 -0.4 2.2 -1.3 3.1 -2.3 3.5 -1.2 1.4 -3.1 3 -2.8 2.3 -4.6 3 -3.5 2 -4.7 2.2 -7 2.9 -4.7 1.5 -3.5 0.8 -2.3 0.4 -4.7 -0 -8.1 -0.8 -4.7 -0 -4.7 0.5 -1.1 0.3 -3 1.4 -1.2 1.1 -0.6 2.2 0.7 2.2 0.6 0.7 2.3 2.1 2.3 1 2.4 0.5 4.6 0.5 1.2 0.4 0.5 0.3 -0.1 1.1 -1.3 1.1 -2.4 1.1 -9.5 2.6 -9.4 3.4 -7 2.8 -3.5 1 -1.1 0.2 -2.4 0.1 -1.4 -0.2 -3.2 -1.1 -3.5 -2.2 -1.5 -1.1 -3.2 -2.9 -2.4 -2.6 -2.3 -3.3 -1.2 -2.2 -3.1 -7.7 -2.4 -4.4 -3.2 -4.4 -5.4 -6.6 -2.3 -3.3 -1 -1.8 -1.6 -3.7 -0.8 -2.7 -0.2 -1.7 -0 -4.4 0.2 -1.1 1.2 -3.7 2.3 -4.1 3.5 -4.1 2.5 -2.3 5.7 -4.4 10.1 -6.6 3 -2.2 6.7 -5.8 7 -4.1 3.7 -3.3 1.6 -1.1 2.4 -1.1 1.7 -0.4 3.6 -0.7 4.5 -0.5 4.7 -1.2 16.3 -6zM94.6 76.8l-2.3 0.6 -3.5 1.4 -2.2 1.4 -1.1 1.1 -0.6 1.1 -0.1 1.1 0.5 1.1 1.2 1.1 2.3 1.1 2.3 0.7 3.5 0.2 2.3 -0.1 3.5 -0.3 2.4 -0.9 1.2 -0.7 1.3 -1.1 0.6 -1.1 0.1 -1.1 -0.2 -1.1 -1.9 -2.6 -2.3 -1.5 -2.3 -0.8 -2.4 0z"/>
<path fill="#0008ff" fill-rule="evenodd" d="M124.4 62.6l2.9 -0.3 2.3 0.2 2.3 0.6 2.4 0.9 3.5 2.1 2.6 2 3.2 3.1 2 2.4 2.7 4.4 2.4 5.5 2.4 4.4 2.5 3.3 8.9 9.9 2.3 3.3 1.3 2.1 1 2.3 0.7 2.2 0.5 3.2 -0.1 3.3 -1.4 4.4 -1.9 3.3 -1.8 2.2 -2.1 2.2 -2.7 2.2 -3.9 2.7 -3.5 2 -4.6 2.3 -4.7 1.9 -4.7 1.6 -5.8 1.3 -8.2 0.8 -10.5 0.1 -3.5 0.2 -4.6 0.9 -2.4 0.9 -2.1 1.8 -0.6 1.1 -0.2 1.1 0.3 1.1 0.4 1.1 1.1 1.5 2.3 2.3 2.2 1.7 0.8 1.1 -0.3 1.1 -1.3 1.1 -2 1.1 -5 2.2 -8.4 3.1 -7 2.3 -2.3 0.3 -2.4 0 -2.3 -0.4 -2.3 -0.9 -2.4 -1.3 -3.5 -2.7 -2.3 -2.2 -2.2 -2.6 -2.5 -3.9 -4 -9.3 -1.2 -2.2 -3.1 -4.4 -5.7 -6.9 -3.5 -5.2 -1.1 -2.2 -1.2 -3.3 -0.7 -4.4 -0 -2.2 0.7 -3.7 1.2 -3 1.1 -2.1 2.4 -3.2 3.2 -3.3 3.8 -3.2 4.6 -3.2 4.7 -2.9 8.2 -4.7 3.5 -1.8 3.5 -1 2.3 0.1 2.3 0.7 4 1.7 4.2 0.9 3.5 0.2 5.8 -0.5 3.5 -1.4 1.8 -1.4 0.5 -1.1 0.2 -1.1 -0.2 -1.1 -0.4 -1.1 -0.8 -1.1 -2.2 -2.1 -2.4 -1.5 -2 -0.8 -1.9 -1.1 1 -1.1 7.6 -3.3 11.7 -4.3 3.4 -1.2z"/>
<path fill="#0024ff" fill-rule="evenodd" d="M124 63.7l3.3 -0.2 2.3 0.2 2.3 0.7 2.4 0.9 2.9 1.7 2.8 2.2 2.3 2.2 1.9 2.2 2.2 3.3 3.6 7.7 1.9 3.3 2.6 3.3 8.8 9.9 2.4 3.3 1.8 3.3 0.8 2.2 0.6 2.2 0.3 3.2 -0.4 3.3 -1.2 3.3 -1.2 2.2 -1.5 2.2 -2 2.2 -3 2.7 -3.5 2.5 -3.5 2 -3.5 1.8 -3.5 1.5 -5.8 1.9 -7 1.4 -5.8 0.7 -17.5 1.6 -3.5 0.8 -2.4 0.9 -1.1 0.7 -1.5 1.3 -0.6 1.1 -0.2 1.1 0.1 1.1 1 2.2 3.2 4.4 0.2 1.1 -0.3 1.1 -1 1.1 -1.6 1.1 -2.1 1.1 -8.9 3.5 -3.5 1.1 -3.5 0.8 -2.3 0.3 -2.4 -0.1 -2.3 -0.5 -2.3 -0.9 -2.4 -1.4 -2.4 -1.7 -2.4 -2.2 -2.2 -2.6 -2.5 -4 -3.3 -7.7 -1.8 -3.3 -2.3 -3.3 -7.1 -8.8 -2.3 -3.3 -1.2 -2.2 -1.8 -4.4 -0.5 -2.2 -0.2 -2.2 -0 -2.2 0.3 -2.2 0.6 -2.1 0.9 -2.2 1.9 -3.3 1.7 -2.2 3.2 -3.3 2.8 -2.3 4.6 -3.4 5.9 -3.5 4.6 -2.5 4.7 -2.1 3.5 -0.9 3.5 -0.2 9.3 1.7 2.4 0.2 3.5 0.1 4.6 -0.6 3.5 -1.3 1.1 -0.6 1.1 -1.1 0.6 -1.1 0.2 -1.1 -0.1 -1.1 -1 -2.2 -3.6 -4.4 -0.4 -1.1 0.4 -1.1 1.1 -1.1 1.9 -1.1 4.8 -2.2 7.9 -2.8 3.5 -1.1z"/>
<path fill="#0040ff" fill-rule="evenodd" d="M122.9 64.8l3.2 -0.3 2.3 0.2 2.4 0.5 2.3 0.8 2.3 1.2 3 2 2.4 2.2 2 2.2 2.2 3.3 3.8 7.7 1.9 3.3 2.6 3.3 8.9 9.9 2.3 3.3 1.3 2.2 1 2.2 0.7 2.2 0.5 3.2 -0 2.2 -0.4 2.2 -1.1 3.3 -1.2 2.2 -1.6 2.2 -2 2.2 -2.4 2.2 -5.2 3.6 -3.5 1.9 -3.5 1.5 -4.7 1.6 -8.1 1.8 -5.9 0.8 -9.3 1 -10.5 1.6 -3.5 1 -2.3 1.1 -0.9 0.6 -1.1 1.1 -0.7 1.1 -0.2 1.1 0.4 2.2 2.3 4.4 0.4 1.1 -0 1.1 -0.4 1.1 -1 1.1 -1.6 1.1 -2 1.1 -3.4 1.4 -4.7 1.7 -3.5 1 -2.3 0.4 -2.3 0.2 -2.4 -0.2 -2.3 -0.6 -2.3 -1 -2.4 -1.3 -2.3 -1.8 -2.1 -2 -1.8 -2.2 -2 -3.3 -3.5 -7.7 -1.8 -3.3 -2.3 -3.3 -7.2 -8.8 -2.2 -3.3 -1.3 -2.2 -1.8 -4.4 -0.5 -2.2 -0.2 -2.2 -0 -2.2 0.3 -2.2 0.6 -2.1 0.9 -2.2 1.6 -2.8 2 -2.7 2.6 -2.7 3.3 -2.8 3.7 -2.7 4.7 -2.9 4.7 -2.5 3.5 -1.5 4.6 -1.5 3.5 -0.4 3.5 0 8.2 1 5.8 0 4.7 -0.9 1.2 -0.4 2.3 -1.1 1.6 -1.4 0.6 -1.1 0.2 -1.1 -0.4 -2.2 -2.9 -5.5 -0.1 -1.1 0.5 -1.1 1 -1.1 1.7 -1.1 4.6 -2.2 6 -2.1z"/>
<path fill="#005cff" fill-rule="evenodd" d="M121.7 65.9l3.2 -0.3 2.4 -0 2.3 0.4 2.3 0.7 2.4 1.1 2.3 1.5 2.6 2.1 2.1 2.2 2.3 3.3 3.9 7.7 2 3.3 2.6 3.3 8.9 9.9 2.4 3.3 1.3 2.2 1.4 3.3 0.5 2.2 0.3 2.1 -0 2.2 -0.4 2.2 -1.2 3.3 -1.2 2.2 -1.6 2.2 -3.2 3.3 -4.3 3.3 -3.9 2.2 -2.8 1.3 -5.9 1.9 -7 1.7 -5.8 0.9 -11.7 1.5 -9.3 1.7 -4.7 1.5 -2.3 1.3 -1.4 1.4 -0.7 1.1 -0.2 1.1 0.2 2.2 1.7 4.4 0.2 1.1 -0.2 1.1 -0.5 1.1 -1.1 1.1 -1.5 1.1 -2 1.1 -2.6 1.1 -3.6 1.2 -3.5 0.9 -2.3 0.3 -2.3 0.1 -2.4 -0.2 -3.5 -1.1 -2.3 -1.2 -2.3 -1.7 -1.8 -1.6 -1.9 -2.2 -2.2 -3.3 -3.5 -7.7 -1.8 -3.3 -2.4 -3.3 -7.4 -9 -2.1 -3.1 -1.3 -2.2 -1.8 -4.4 -0.5 -2.2 -0.2 -2.2 -0 -2.2 0.4 -2.2 0.5 -2.1 0.9 -2.2 1.3 -2.2 1.6 -2.4 2.8 -3.1 2.5 -2.2 2.9 -2.2 5.1 -3.3 4.2 -2.3 3.5 -1.5 4.7 -1.6 4.6 -0.7 3.5 -0.1 9.4 0.5 5.8 -0.3 4.7 -1.1 2.3 -1 1 -0.7 1.1 -1.1 0.7 -1.1 0.3 -1.1 -0.3 -2.2 -1.8 -4.4 -0.2 -1.1 0.1 -1.1 0.6 -1.1 1.1 -1.1 1.6 -1.1 2.1 -1.1 5.9 -2.2z"/>
<path fill="#0078ff" fill-rule="evenodd" d="M121.1 67l2.7 -0.3 3.5 0.1 2.3 0.5 2.3 0.7 2.4 1.2 1.6 1.1 2.6 2.2 1.6 1.7 2.3 3.3 3 6 2.7 4.4 2.6 3.3 8.1 8.8 2.6 3.3 2 3.3 1.4 3.3 0.6 2.2 0.3 2.1 -0.2 3.3 -0.9 3.3 -1.1 2.2 -1.4 2.2 -1.8 2.2 -2.4 2.2 -2.6 2.1 -2.1 1.2 -4.9 2.4 -5.9 2.1 -7 1.8 -5.8 1 -11.7 1.5 -5.8 1.2 -5.8 1.4 -2.4 0.9 -2.3 1.2 -2.2 1.9 -0.6 1.1 -0.3 1.1 0.1 2.2 1 4.4 0 1.1 -0.2 1.1 -0.7 1.1 -1.1 1.1 -1.7 1.1 -2.2 1.1 -2.8 1.1 -2.1 0.5 -2.4 0.6 -2.3 0.3 -2.3 0 -2.4 -0.3 -3.2 -1.1 -2 -1.1 -1.8 -1.2 -2.3 -2.1 -1.2 -1.4 -2.3 -3.5 -3.4 -7.2 -1.8 -3.3 -2.5 -3.3 -7.5 -9 -2.3 -3.4 -1.1 -1.9 -1.2 -2.8 -0.5 -1.6 -0.6 -2.2 -0.2 -2.2 0.2 -3.3 1.2 -4.3 1 -2.3 2.2 -3.2 1.9 -2.2 2.3 -2.2 4.2 -3.3 3.4 -2.2 6.5 -3.3 5.2 -1.8 5.8 -1.1 4.7 -0.3 9.3 0 5.9 -0.5 4.6 -1.2 2.4 -1.3 1.7 -1.5 0.9 -2.2 -0.1 -2.2 -1.2 -4.4 0 -1.1 0.3 -1.1 0.7 -1.1 1.2 -1.1 1.7 -1.1 2.3 -1.1 3 -1.1z"/>
<path fill="#0094ff" fill-rule="evenodd" d="M117.8 69.2l3.6 -0.8 2.4 -0.2 2.3 0.1 2.3 0.4 2.4 0.7 2.3 1.2 2.8 1.9 2.2 2.2 2 2.7 3.9 7.2 2.1 3.3 2.8 3.3 8.2 8.8 2.6 3.3 2 3.3 1.4 3.3 0.6 2.2 0.3 2.1 -0.2 3.3 -1 3.3 -1 2.2 -1.5 2.2 -3 3.3 -4.5 3.3 -3.4 1.9 -3.2 1.4 -6.1 2.1 -5.8 1.4 -5.9 1 -10.5 1.5 -5.8 1.2 -7 2 -2.3 0.8 -1.9 1 -1.5 1.1 -1.1 1.1 -0.6 1.1 -0.4 1.1 -0.1 2.2 0.3 4.4 -0.6 1.9 -1.1 1.5 -1.2 1 -2 1.1 -3.8 1.3 -2.4 0.5 -2.3 0.3 -3.5 -0.3 -3.5 -1.1 -3.5 -2.1 -2.1 -1.9 -1.4 -1.7 -1.7 -2.7 -3.3 -6.6 -2 -3.3 -2.5 -3.3 -7.5 -8.8 -1.7 -2.3 -1.9 -3.2 -1.6 -3.7 -0.7 -2.9 -0.2 -2.2 0.1 -3.3 1.3 -4.3 1 -2.2 2.2 -3.3 2 -2.2 2.3 -2.2 2.8 -2.2 3.3 -2.2 3.4 -1.9 3.5 -1.6 4.7 -1.7 4.7 -1 4.6 -0.5 10.5 -0.4 4.7 -0.5 3.5 -0.6 2.3 -0.7 2.4 -1.1 1.6 -1 1.1 -1.1 0.7 -1.1 0.3 -1.1 0.1 -2.2 -0.4 -4.4 0.3 -1.1 0.5 -1.1 0.9 -1.1 1.5 -1.1 2 -1.1z"/>
<path fill="#00afff" fill-rule="evenodd" d="M123.2 70.3l2.9 0.2 3.5 0.9 2.3 1.2 2.8 2.1 2.8 3.3 3.9 6.6 2.3 3.3 2.9 3.3 7.4 7.7 3.6 4.4 2 3.3 1.1 2.2 0.7 2.2 0.4 2.2 0.1 2.1 -0.2 2.2 -0.5 2.2 -0.9 2.2 -1.3 2.2 -1.7 2.2 -3.5 3.3 -2 1.5 -3.2 1.8 -4.9 2.2 -4.8 1.6 -5.8 1.5 -15.2 2.3 -5.4 1.2 -7.9 2.2 -2.9 1.1 -2.2 1.1 -1.5 1.1 -1 1.1 -0.8 1.1 -0.6 2.2 -0.3 4.4 -0.8 2.2 -1.1 1.2 -2.3 1.6 -3.5 1.2 -3.5 0.4 -3.5 -0.5 -2.3 -0.8 -1.8 -0.9 -1.5 -1.1 -2.6 -2.6 -1.2 -1.8 -3.7 -6.6 -2.1 -3.3 -2.7 -3.3 -7.7 -8.8 -2.3 -3.3 -1.3 -2.2 -1.8 -4.4 -0.5 -2.2 -0.2 -2.2 -0 -2.2 0.3 -2.2 0.6 -2.1 0.9 -2.2 1.3 -2.2 1.5 -2.2 2 -2.2 2.3 -2.2 2.9 -2.2 3.4 -2.2 6 -2.9 5.8 -1.9 4.7 -0.9 14 -1 5.8 -0.8 4.7 -1.3 2.5 -1.1 1.7 -1.1 1.1 -1.1 0.7 -1.1 0.8 -2.2 0.2 -4.1 0.3 -1.4 0.6 -1.1 0.9 -1.1 1.7 -1.3 2.3 -1 2.4 -0.6z"/>
<path fill="#00cbff" fill-rule="evenodd" d="M118.6 73.6l2.8 -0.8 3.5 0 3.5 0.9 2 1 1.5 1.1 2.4 2.4 4.4 6.4 2.5 3.3 9.8 9.9 2.9 3.3 2.5 3.3 1.3 2.2 1.4 3.3 0.5 2.2 0.3 3.2 -0.2 2.2 -0.5 2.2 -0.9 2.2 -2.1 3.3 -3.1 3.3 -2.9 2.2 -4.3 2.5 -4.6 2 -5.9 1.7 -5.8 1.3 -14.7 2.4 -8.5 2.2 -4.8 1.6 -3.5 1.7 -1.6 1.1 -1.1 1.1 -1.4 2.2 -1.5 5.5 -1.4 1.9 -1.2 0.9 -2.3 1 -2.3 0.4 -3.5 -0.3 -2.4 -0.8 -2.3 -1.4 -2.3 -2.3 -1.3 -1.6 -5 -7.7 -2.7 -3.3 -8 -8.8 -2.6 -3.3 -2 -3.3 -1 -2.2 -0.8 -2.2 -0.5 -2.2 -0.3 -2.2 -0 -2.2 0.4 -2.2 0.6 -2.1 0.9 -2.2 1.2 -2.2 1.6 -2.2 2 -2.2 2.4 -2.2 2.9 -2.2 2.8 -1.8 5.9 -2.8 4.6 -1.6 4.7 -1 14 -1.2 5.8 -0.8 4.7 -1.2 4.1 -1.7 1.6 -1.1 1.2 -1.1 0.8 -1.1 1 -2.2 0.8 -3.3 1 -2.1 1.2 -1.2z"/>
<path fill="#00e7ff" fill-rule="evenodd" d="M121.9 75.8l1.9 -0.2 2.3 0.4 2.3 1 2.4 1.8 2.3 2.5 4.6 5.5 11.3 11 3 3.3 1.7 2.2 2.1 3.3 1 2.2 0.7 2.2 0.5 2.2 0.1 2.1 -0.2 2.2 -0.6 2.2 -0.9 2.2 -2.1 3.3 -3.1 3.3 -3 2.2 -4.6 2.6 -4.5 1.8 -4.8 1.4 -5.9 1.3 -9.3 1.5 -4.7 0.9 -8.1 2.1 -5.1 1.6 -2.7 1.1 -2.1 1.1 -2.8 2.2 -1.7 2.2 -2 3.8 -1.1 1.4 -1.2 0.8 -1.2 0.4 -2.3 0.3 -1.3 -0.1 -2.2 -0.8 -2.3 -1.4 -1.2 -1.1 -7.1 -8.8 -10.5 -11 -2.5 -3.3 -1.5 -2.2 -1.2 -2.2 -1.3 -3.3 -0.5 -2.2 -0.2 -2.2 -0 -2.2 0.3 -2.2 0.6 -2.1 1 -2.2 1.2 -2.2 1.6 -2.2 3.2 -3.3 4.3 -3.3 4.4 -2.6 4.7 -2 5.8 -1.6 4.7 -0.7 15.2 -1.7 4.6 -0.9 4.7 -1.5 2.3 -1.1 1.7 -1.1 1.3 -1.1 1.7 -2.2 2.5 -4.4 1.2 -1.1 1 -0.6z"/>
<path fill="#04fffb" fill-rule="evenodd" d="M121.9 80.2l1.9 -0.4 1.1 0 2.4 0.8 2.3 1.5 16.3 14.5 3.3 3.4 2.7 3.3 1.5 2.2 1.6 3.3 0.8 2.2 0.4 2.2 -0 3.2 -0.3 2.2 -0.8 2.2 -1.1 2.2 -2.4 3.3 -3.7 3.3 -3.4 2.2 -4.7 2.2 -3.2 1.2 -4.7 1.3 -16.3 2.9 -12.9 3.4 -4.6 1.6 -3.6 1.7 -3.2 2.2 -3.7 3.3 -1.2 0.8 -1.1 0.5 -1.2 0.2 -1.2 -0.1 -2.3 -0.8 -1.2 -0.8 -2.3 -1.9 -13.8 -13.3 -3.9 -4.4 -2.9 -4.4 -1.1 -2.2 -1 -3.3 -0.4 -2.2 -0.1 -2.2 0.1 -2.2 0.5 -2.1 0.8 -2.2 1.1 -2.2 1.4 -2.2 1.9 -2.2 3.5 -3.3 4.6 -3.1 4.6 -2.3 3.5 -1.3 4.7 -1.2 4.7 -0.7 14 -1.7 4.6 -0.9 3.6 -0.9 3 -1.1 4.2 -2.2 1.6 -1.1 4 -3.5z"/>
<path fill="#20ffdf" fill-rule="evenodd" d="M120.1 84.6l2.5 -0.8 2.3 0 2.4 0.5 3.5 1.9 5.8 4.2 7.5 6.3 4.3 4.4 3.2 4.4 1.7 3.3 1 3.3 0.3 3.2 -0.2 2.2 -1 3.3 -1.1 2.2 -2.4 3.3 -2.4 2.2 -2.7 2 -2.2 1.3 -3.7 1.7 -3.5 1.3 -7 1.8 -14 2.6 -11.6 3 -5.4 1.7 -2.8 1.1 -8.2 3.7 -2.3 0.5 -1.2 -0.1 -2.3 -0.7 -2.3 -1.2 -2.4 -1.6 -8.1 -6.7 -3.9 -3.8 -2.8 -3.3 -3 -4.4 -1.1 -2.2 -0.8 -2.2 -0.5 -2.2 -0.3 -2.2 0.2 -3.3 0.4 -2.1 0.8 -2.2 1.8 -3.3 2.7 -3.3 3.6 -3.3 2.9 -2 2.3 -1.4 3.5 -1.6 3.5 -1.3 3.5 -0.9 3.5 -0.7 14 -1.7 7.5 -1.4 4 -1.1 3.1 -1.1z"/>
<path fill="#3cffc3" fill-rule="evenodd" d="M119.2 86.8l3.4 -0.6 3.5 0.3 3.5 1.3 3.5 1.9 5.8 4.2 4.6 3.9 3.6 3.8 2.9 3.9 1.7 3.3 1 3.3 0.3 3.2 -0.2 2.2 -1 3.3 -1.1 2.2 -2.5 3.3 -2.4 2.2 -2.2 1.6 -2.8 1.7 -4.2 1.9 -3.5 1.1 -5.5 1.4 -14.3 2.8 -14.6 3.8 -9.9 3.2 -3.5 0.7 -2.4 -0.1 -2.3 -0.6 -2.3 -1 -2.4 -1.4 -3.5 -2.5 -3.5 -2.8 -3.3 -3.2 -3 -3.3 -2.3 -3.3 -1.3 -2.2 -1 -2.2 -0.6 -2.2 -0.4 -2.2 -0.1 -3.3 0.3 -2.2 0.7 -2.1 1.5 -3.3 2.4 -3.3 3.6 -3.6 2.7 -1.9 3.8 -2.2 4 -1.8 3.5 -1.1 5.9 -1.2 14 -1.9 5.8 -1 5.8 -1.5z"/>
<path fill="#57ffa8" fill-rule="evenodd" d="M115.3 89l3.8 -0.8 3.5 -0.3 3.5 0.4 3.5 1.2 4.7 2.6 5.8 4.3 3.9 3.6 3.7 4.4 1.9 3.3 1.3 3.3 0.5 3.2 -0.2 3.3 -1 3.3 -1.1 2.2 -2.5 3.3 -2.4 2.2 -2.9 2 -2.4 1.3 -3.5 1.5 -4.6 1.6 -4.7 1.1 -11.7 2.2 -23.3 6 -4.7 0.7 -2.3 0 -2.3 -0.4 -3.5 -1.3 -2.4 -1.3 -3.5 -2.3 -2.8 -2.3 -3 -2.8 -2.4 -2.7 -3.1 -4.4 -1.6 -3.3 -0.7 -2.2 -0.4 -2.2 -0.1 -3.3 0.4 -2.2 0.6 -2.1 1.6 -3.3 2.4 -3.3 3.4 -3.3 3.1 -2.2 3.8 -2.2 3.5 -1.4 3.5 -1.1 5.8 -1.2 17.5 -2.6z"/>
<path fill="#73ff8c" fill-rule="evenodd" d="M114.3 90.1l4.8 -0.8 3.5 0 3.5 0.5 3.5 1.2 3.5 1.8 4.7 3.2 4.5 4 3 3.3 2.2 3.3 1.5 3.3 0.8 3.3 0.1 2.1 -0.5 3.3 -1.2 3.3 -2.2 3.3 -2.1 2.2 -2.9 2.2 -3.2 1.9 -3.2 1.4 -3.8 1.3 -4.7 1.2 -11.7 2.3 -19.8 4.8 -3.5 0.7 -3.5 0.4 -2.3 0 -2.4 -0.3 -3.5 -1.1 -2.3 -1.1 -3.5 -2.1 -2.3 -1.8 -3.5 -3.1 -2.1 -2.3 -2.5 -3.3 -1.8 -3.3 -0.9 -2.2 -0.6 -2.2 -0.2 -3.3 0.1 -2.2 0.5 -2.1 1.4 -3.3 2.1 -3.3 3.2 -3.3 2.8 -2.2 3.6 -2.2 3.7 -1.7 3.5 -1.2 5.8 -1.3 17.5 -2.6z"/>
<path fill="#8fff70" fill-rule="evenodd" d="M112.4 91.2l5.5 -0.8 3.5 0 3.5 0.4 3.5 1.1 4.7 2.3 3.5 2.3 4.1 3.5 3 3.3 2.3 3.3 1.5 3.3 0.6 2.2 0.3 3.2 -0.4 3.3 -1.3 3.3 -2.2 3.3 -2.2 2.2 -2.9 2.2 -2.8 1.6 -3.5 1.6 -3.8 1.2 -4.4 1.1 -10.5 2.1 -15.1 3.6 -7 1.3 -3.5 0.4 -3.5 -0.1 -2.4 -0.4 -2.3 -0.6 -2.3 -1 -2.4 -1.3 -3.5 -2.4 -3.1 -2.7 -2.2 -2.2 -2.5 -3.3 -1.9 -3.3 -0.8 -2.2 -0.6 -2.2 -0.3 -3.3 0.2 -2.2 0.5 -2.1 1.3 -3.3 2.2 -3.3 3.2 -3.3 2.9 -2.2 3.5 -2 3.5 -1.6 3.5 -1.1 7 -1.5z"/>
<path fill="#abff54" fill-rule="evenodd" d="M109.7 92.3l5.9 -0.8 4.7 -0.1 3.5 0.3 3.5 1 3.5 1.5 3.5 2 3.5 2.7 3.4 3.3 1.9 2.2 2 3.3 1.3 3.3 0.6 3.2 -0.2 3.3 -1 3.3 -1.9 3.3 -1.9 2.2 -2.6 2.2 -3.5 2.2 -4 1.8 -3.5 1.1 -25.6 5.9 -7 1.3 -4.7 0.6 -3.5 0.1 -2.3 -0.2 -2.4 -0.4 -2.3 -0.7 -2.3 -1 -3.5 -2.1 -2.7 -2 -2.4 -2.2 -2.9 -3.3 -2.2 -3.3 -1 -2.2 -0.7 -2.2 -0.6 -3.3 0.2 -3.3 0.9 -3.2 1.6 -3.3 2.8 -3.5 2.3 -2.2 3.5 -2.5 3.5 -1.8 4.7 -1.7 3.5 -1 4.6 -0.9z"/>
<path fill="#c7ff38" fill-rule="evenodd" d="M116.3 92.3l4 0 3.5 0.5 3.5 1 3.5 1.5 3.5 2.2 3.5 2.8 2.9 3 2.4 3.3 1.1 2.2 1.1 3.3 0.3 3.2 -0.2 2.2 -1 3.3 -1.2 2.2 -1.7 2.2 -2.6 2.5 -2.7 1.9 -3.1 1.6 -3.5 1.4 -3.5 1.1 -23.3 5.2 -7 1.2 -5.9 0.5 -3.5 -0.1 -2.3 -0.4 -3.5 -1.1 -2.3 -1 -3 -1.8 -2.9 -2.2 -2.3 -2.2 -1.9 -2.2 -2.3 -3.3 -1.4 -3.3 -0.6 -2.2 -0.3 -2.2 0.2 -3.3 0.9 -3.2 1.6 -3.3 2.6 -3.3 2.5 -2.2 3.1 -2.2 3.8 -2 3.5 -1.3 3.9 -1.1 5.4 -1.1 7 -1.1 12.8 -1.7z"/>
<path fill="#e3ff1c" fill-rule="evenodd" d="M111.3 93.4l4.3 -0.3 3.5 -0 3.5 0.4 3.5 0.9 3.5 1.5 3.5 2 3.5 2.8 2.6 2.6 2.1 2.7 1.5 2.8 1.1 3.3 0.4 3.2 -0.5 3.3 -0.8 2.2 -2 3.3 -2 2.2 -2.4 2 -2.3 1.5 -3.5 1.7 -4.1 1.4 -21.6 5 -5.8 1.1 -5.9 0.7 -3.5 0.1 -3.5 -0.3 -3.5 -0.7 -2.3 -0.9 -2.3 -1.1 -2.8 -1.7 -2.8 -2.2 -2.2 -2.2 -2.6 -3.3 -1.7 -3.3 -1 -3.3 -0.4 -3.3 0.4 -3.3 1.2 -3.2 2 -3.3 3.1 -3.3 2.9 -2.2 2.7 -1.7 3.5 -1.6 3.5 -1.2 4.3 -1 6.1 -1.1z"/>
<path fill="#feff01" fill-rule="evenodd" d="M106.8 94.5l5.3 -0.5 4.7 -0.1 3.5 0.2 3.5 0.7 3.5 1.1 3.5 1.8 3.4 2.3 2.5 2.2 2.2 2.5 2 3 1.4 3.3 0.6 3.2 -0.2 3.3 -0.6 2.2 -1.7 3.3 -1.7 2.2 -2.4 2.2 -2 1.4 -3.6 1.9 -2.8 1.1 -3.7 1.1 -18.6 4.4 -8.7 1.4 -3.5 0.2 -3.5 0.1 -3.5 -0.4 -2.3 -0.5 -3.5 -1.2 -2.3 -1.2 -2.4 -1.5 -2.3 -1.9 -2.7 -2.7 -2.3 -3.3 -1.6 -3.3 -0.8 -3.3 -0.1 -3.3 0.7 -3.2 1.5 -3.3 2.4 -3.3 2.2 -2.2 3 -2.2 3.5 -2 3.5 -1.4 3.5 -1 5.9 -1.3z"/>
<path fill="#ffe400" fill-rule="evenodd" d="M102.3 95.6l11 -1 3.5 0.1 3.5 0.3 3 0.6 4 1.4 3.5 1.8 2.3 1.6 3.1 2.9 1.9 2.2 2 3.3 1.1 3.3 0.4 3.2 -0.5 3.3 -1.4 3.3 -1.5 2.2 -2.1 2.2 -2.9 2.2 -4.7 2.2 -5.9 1.8 -15.1 3.7 -5.9 1.3 -8.2 0.7 -3.5 -0.1 -3.5 -0.4 -3.5 -0.9 -2.3 -1 -2.3 -1.2 -2.4 -1.7 -2.5 -2.2 -2.8 -3.3 -1.9 -3.3 -1.1 -3.3 -0.3 -3.3 0.4 -3.3 1.2 -3.2 1.3 -2.2 1.8 -2.2 2.8 -2.6 3.5 -2.3 3.6 -1.7 3.4 -1.2 4.6 -1.2 4.7 -0.9z"/>
<path fill="#ffc800" fill-rule="evenodd" d="M109.6 95.6l4.8 -0.1 3.5 0.1 2.4 0.4 3.5 0.8 3.5 1.4 3.1 1.8 2.9 2.2 2.2 2.2 1.7 2.2 1.7 3.1 0.8 2.4 0.4 3.2 -0.5 3.3 -0.9 2.2 -1.4 2.2 -1.9 2.2 -2.3 1.9 -2.4 1.4 -2.3 1.1 -3.5 1.3 -19.8 5 -4.7 0.9 -4.6 0.5 -5.9 -0.1 -2.3 -0.3 -3.5 -0.8 -2.4 -1 -2.3 -1.1 -3.1 -2.2 -2.3 -2.2 -2.6 -3.3 -1.2 -2.2 -1.1 -3.3 -0.3 -3.3 0.3 -3.3 1 -2.6 1.6 -2.8 1.9 -2.3 2.5 -2.1 3.3 -2.2 3.5 -1.6 3.5 -1.2 4.7 -1.2 5.8 -1.1z"/>
<path fill="#ffac00" fill-rule="evenodd" d="M108.8 96.7l4.5 -0.1 3.5 0.2 3.5 0.6 2.3 0.6 2.5 0.9 3.3 1.7 2.4 1.6 2.3 2.2 1.9 2.2 1.3 2.2 1 2.2 0.6 3.2 -0.2 3.3 -0.6 2.2 -1.2 2.2 -1.7 2.2 -2.5 2.2 -2.1 1.4 -3.5 1.7 -3.5 1.2 -16.3 4.2 -4.7 0.9 -3.5 0.3 -3.5 0.2 -3.5 -0.1 -3.5 -0.6 -2.3 -0.6 -2.4 -0.9 -2.3 -1.2 -2.3 -1.5 -2.4 -2 -2.3 -2.8 -1.4 -2.4 -1.2 -3.3 -0.3 -3.3 0.4 -3.3 0.8 -2.1 1.7 -3 2.2 -2.5 2.5 -2.1 2.3 -1.5 3.5 -1.6 4 -1.4 4.3 -1.1 5.7 -1.1 5.8 -0.7z"/>
<path fill="#ff9000" fill-rule="evenodd" d="M109 97.8l4.3 0 3.5 0.3 3.5 0.7 2.3 0.7 2.3 1 2.9 1.7 1.8 1.3 2.3 2.2 1.5 2 1.2 2.2 0.8 2.2 0.4 3.2 -0.2 2.2 -0.7 2.2 -1.2 2.2 -1.8 2.2 -2.3 1.9 -2.2 1.4 -5.1 2.2 -3.5 1.1 -11.4 2.9 -3.5 0.7 -4.6 0.6 -3.5 0.1 -3.5 -0.1 -3.5 -0.5 -2.4 -0.7 -2.3 -0.8 -2.3 -1.2 -2.4 -1.6 -2.3 -2.1 -2.1 -2.8 -1.2 -2.2 -0.7 -2.2 -0.4 -3.3 0.4 -3.3 0.8 -2.1 2 -3.3 2.2 -2.2 2.5 -1.9 2.4 -1.4 3.4 -1.6 3.5 -1.1 4.7 -1.1 4.7 -0.8 4.6 -0.6z"/>
<path fill="#ff7400" fill-rule="evenodd" d="M97.8 100l8.5 -1 4.6 0 3.5 0.2 3.5 0.6 2.4 0.6 3.5 1.4 2.3 1.3 2.3 1.7 1.7 1.8 1.7 2.2 1 2.2 0.7 2.2 0.1 3.2 -0.5 2.2 -1 2.2 -1.3 1.9 -1.4 1.4 -2.1 1.7 -2.8 1.6 -5.7 2.2 -7.9 2.2 -4.6 1.1 -7 0.8 -5.9 -0 -3.5 -0.6 -2.3 -0.6 -2.3 -0.8 -2.4 -1.2 -2.7 -2 -1.9 -1.9 -1.8 -2.5 -1 -2.2 -0.6 -2.2 -0.1 -3.3 0.4 -2.2 0.8 -2.1 1.4 -2.2 1.9 -2.2 2.5 -2 2.1 -1.3 2.5 -1.3 3.5 -1.3 3.5 -0.9z"/>
<path fill="#ff5900" fill-rule="evenodd" d="M98.4 101.1l7.9 -0.8 3.5 -0.1 3.5 0.3 3.5 0.5 2.3 0.6 3.5 1.5 2.2 1.3 1.5 1.1 2.2 2.2 1.4 2.2 1 2.2 0.4 2.1 0 2.2 -0.5 2.2 -1.1 2.2 -1.3 1.7 -1.6 1.6 -3 2.1 -2.4 1.2 -6.4 2.2 -8.7 2.2 -3.5 0.5 -3.5 0.2 -5.9 -0.2 -4.6 -1 -2.4 -0.9 -2.3 -1.2 -2.4 -1.8 -2 -2.2 -1.5 -2.2 -0.8 -2.2 -0.5 -2.2 0 -2.2 0.5 -2.2 0.9 -2.1 1.1 -1.9 1.3 -1.4 2.2 -2 2.4 -1.5 2.3 -1.2 3.5 -1.3 3.5 -1z"/>
<path fill="#ff3d00" fill-rule="evenodd" d="M99.6 102.2l6.7 -0.6 3.5 -0 3.5 0.3 2.3 0.5 3.1 0.9 2.5 1.1 1.8 1.1 1.9 1.5 1.7 1.8 1.4 2.2 0.7 2.2 0.3 2.1 -0.3 2.2 -0.9 2.2 -0.6 1.1 -1.9 2.2 -1.3 1.1 -3.7 2.2 -5.9 2.2 -4.6 1.3 -4.7 0.9 -5.8 0.5 -3.5 -0.1 -2.4 -0.3 -4.6 -1.3 -2.2 -1 -1.8 -1.1 -1.9 -1.6 -1.5 -1.7 -1.3 -2.2 -0.7 -2 -0.2 -1.3 0 -2.2 0.5 -2.2 1 -2.1 1.1 -1.6 1.5 -1.7 2 -1.6 2.3 -1.4 3.3 -1.4 2.5 -0.9z"/>
<path fill="#ff2100" fill-rule="evenodd" d="M102.2 103.3l6.4 -0.2 2.6 0.2 3.2 0.5 2.4 0.7 2.3 1 1.9 1.1 1.5 1.1 1.3 1.2 1.4 2.1 0.9 2.2 0.2 1 -0 2.2 -0.2 1.1 -0.9 2.2 -0.8 1.1 -1.8 2 -1.8 1.3 -4 2.1 -5.9 2 -5.8 1.2 -5.8 0.3 -4.7 -0.4 -2.3 -0.5 -2.4 -0.8 -3.5 -1.9 -1.1 -1 -1.9 -2.1 -0.6 -1.1 -0.9 -2.2 -0.3 -2.2 0.2 -2.2 0.8 -2.1 0.7 -1.1 1.8 -2.2 1.2 -1.1 3.6 -2.3 2.5 -1 3.4 -1.1z"/>
<path fill="#ff0500" fill-rule="evenodd" d="M98.5 105.5l5.4 -0.8 3.5 0 2.4 0.2 4.6 0.9 2.1 0.8 2.1 1.1 1.5 1.1 1.1 1.1 1.4 1.9 0.6 1.4 0.2 1 0.1 2.2 -0.7 2.2 -0.6 1.1 -1.9 2.2 -1.4 1.1 -2.1 1.3 -5 2 -5.5 1.3 -4.7 0.5 -4.7 -0.2 -2.3 -0.4 -2.3 -0.8 -3.1 -1.5 -1.5 -1.1 -1.3 -1.2 -1.1 -1.8 -0.6 -1.4 -0.4 -2.2 0.3 -2.2 0.3 -1.1 1.3 -2.1 0.9 -1.1 2.8 -2.2 1.9 -1.1 2.7 -1.1z"/>
<path fill="#e80000" fill-rule="evenodd" d="M97.6 107.7l5.2 -1 4.6 -0.1 4.7 0.8 3.4 1.4 1.7 1.1 1.1 1.1 1.5 2.2 0.5 2.1 -0.4 2.2 -0.5 1.1 -1.7 2.2 -1.3 1.1 -1.8 1.1 -2.5 1.2 -4.7 1.4 -4.6 0.6 -3.5 -0.1 -3.5 -0.6 -3.5 -1.3 -1.8 -1.2 -1.1 -1.1 -1.4 -2.2 -0.5 -2.2 0.2 -2.2 1.1 -2.1 2.1 -2.2 1.5 -1.1 2.1 -1.1z"/>
<path fill="#cc0000" fill-rule="evenodd" d="M98.9 109.9l3.9 -0.8 3.5 -0.1 3.5 0.6 2.3 0.8 2.3 1.6 1 1.2 0.6 1 0.2 1.1 0 1.1 -0.4 1.1 -1.4 2.1 -1.4 1.2 -2.1 1.2 -3.5 1.2 -3.5 0.6 -2.3 0 -3.5 -0.4 -2.3 -0.8 -2.4 -1.5 -1.2 -1.4 -0.5 -1.1 -0.3 -1.1 0 -1.1 0.8 -2.2 1.2 -1.4 2.7 -1.8z"/>
<path fill="#ba0000" fill-rule="evenodd" d="M101.1 113.2l2.8 -0.5 2.4 0.2 1.1 0.3 1.8 1 0.7 1.1 0.1 1.1 -0.5 1.1 -1.1 1.1 -1 0.6 -2.3 0.8 -2.3 0.2 -1.2 -0.1 -1.4 -0.4 -0.9 -0.4 -1.2 -0.9 -0.5 -0.9 -0.1 -1.1 0.4 -1.1 1 -1.1z"/>
</g>
<path d="M489.2 67.85h3.5M709.5 67.85h-3.5M489.2 127.7h3.5M709.5 127.7h-3.5M489.2 187.55h3.5M709.5 187.55h-3.5M599.35 8v3.5M599.35 247.4v-3.5" stroke="#1a1a3a" stroke-width="1.6" fill="none" opacity="0.7"/>
<path d="M577.32 8V247.4M610.37 8V247.4M489.2 91.79H709.5M489.2 163.61H709.5" stroke="#fff" stroke-width="2.1" stroke-dasharray="21 13.2" fill="none"/>
</g>
<text x="477" y="21.3" text-anchor="end" fill="#262626">-1</text>
<text x="477" y="81.15" text-anchor="end" fill="#262626">-0.5</text>
<text x="477" y="141" text-anchor="end" fill="#262626">0</text>
<text x="477" y="200.85" text-anchor="end" fill="#262626">0.5</text>
<text x="477" y="260.7" text-anchor="end" fill="#262626">1</text>
<text x="489.2" y="289.2" text-anchor="middle" fill="#262626">1.45</text>
<text x="599.35" y="289.2" text-anchor="middle" fill="#262626">1.55</text>
<text x="709.5" y="289.2" text-anchor="middle" fill="#262626">1.65</text>
<text x="597.55" y="322.6" text-anchor="middle" fill="#262626">Wavelength (<tspan font-style="italic" font-size="34px" dx="2.5">μ</tspan><tspan dx="2.5">m)</tspan></text>
<text transform="translate(414.5 127.7) rotate(-90)" text-anchor="middle" fill="#262626">Time (ps)</text>
</g>
<g>
<rect x="876.8" y="8" width="220.3" height="239.4" fill="#00008f" stroke="#262626" stroke-width="2"/>
<g clip-path="url(#c02)">
<rect x="876.8" y="8" width="220.3" height="239.4" fill="#00008f"/>
<g filter="url(#b)" transform="translate(876.8 8)">
<path fill="#0000b4" fill-rule="evenodd" d="M124.8 54.9l0.7 -0.6 1.1 -0.1 1 0.4 1.1 0.8 10.8 10.1 2.4 2.6 3.5 4.4 2.5 4.4 3.4 8.2 2.1 3.9 2.3 3.2 6.9 8.9 2 3.3 1.1 2.2 1.2 3.3 0.6 3.3 -0.1 3.2 -0.6 3.3 -0.8 2.2 -1.9 3.3 -2.6 3.3 -2.6 2.6 -4.3 3.5 -3.3 2.2 -12.1 7.1 -2.8 2.2 -0.9 1.1 -0.3 1.1 0.6 5.5 -0.3 2.2 -1 2.2 -0.8 1.1 -2.6 2.2 -1.9 1.1 -2.6 1 -3.3 0.6 -4.3 0.4 -7.5 -0.2 -3.3 0.1 -1.8 0.3 -4 1.1 -5.6 2.2 -2.4 1.1 -3.9 2.2 -1.6 1.1 -2.6 2.1 -2.9 3.2 -1 0.9 -1.1 0 -1.1 -0.7 -2.1 -1.8 -8.1 -8.1 -4.5 -5.5 -2.2 -3.3 -2.1 -4.4 -2.5 -6.8 -2.1 -4.2 -2.3 -3.6 -5.8 -8.5 -2.3 -4.4 -0.9 -2.2 -1.1 -4.4 -0.1 -2.2 0.2 -3.3 0.8 -3.2 1.4 -3.3 2 -3.3 3.9 -4.4 3 -2.7 4.3 -3.3 7.6 -5 2.7 -2.2 0.9 -1.1 0.6 -1.1 0.3 -1.1 -0.4 -4.4 0.2 -1.8 0.5 -1.5 0.6 -1.4 1 -1.4 1.6 -1.6 1.4 -1.1 1.7 -1.1 2.6 -1.1 4.6 -0.9 3.2 -0.1 6.5 0.3 3.2 -0.1 2.6 -0.3 3.9 -1 5.8 -2.3 6.4 -3.3 1.7 -1.1 2.7 -2.2zM97.5 77.9l-1.1 0.2 -3.3 1 -3.8 2.2 -1.3 1.1 -0.9 1.1 -0.5 1.1 0.5 1.1 1.7 1.1 1.1 0.3 4.3 0.2 5.4 -0.4 1.1 -0.8 1.3 -0.4 1.1 -1.1 0.5 -1.1 0.1 -1.1 -0.8 -2.2 -1.3 -1.1 -0.9 -0.4 -1.9 -0.7zM108.2 145.9l-2.6 1.3 -0.6 0.6 -1.2 1.6 -0.1 1.1 0.2 0.9 1.1 1.6 1.1 0.9 2.5 1 1.8 0.1 1.1 -0.2 3.2 -1 2.2 -1 3.5 -2.3 1.1 -1.1 0.5 -1.1 -0.4 -1.1 -1.9 -1.1 -1.8 -0.5 -4.3 -0.2z"/>
<path fill="#0000d0" fill-rule="evenodd" d="M123.6 58.2l1.9 -0.8 1.1 -0.1 1 0.1 1.1 0.4 2.2 1.3 4.3 3.4 4.3 4 3.4 3.8 2.4 3.3 2.4 4.4 2.6 6.3 1.8 3.6 2.1 3.3 6 7.7 2.4 3.3 2.4 4.4 1.2 3.3 0.5 2.2 0.2 2.1 -0.3 3.3 -0.8 3.3 -1 2.2 -1.3 2.2 -1.7 2.2 -3.2 3.3 -2.9 2.5 -6.5 4.3 -7.6 4.1 -4.3 2 -5.4 2.1 -2.1 0.7 -2.2 0.3 -2.1 -0.1 -6.5 -1.3 -5.4 -0.4 -5.4 0.8 -1 0.3 -2.1 1.2 -1.2 1.3 -0.5 0.9 0 1.1 0.2 1.1 1.7 2.2 0.8 0.6 2.1 1 2.2 0.2 2.1 -0.2 8.7 -2.7 2.1 -0.4 2.2 0.1 1.1 0.5 0.8 0.9 0.3 1.1 0 1.1 -0.4 1.1 -0.7 1.1 -1.1 1.1 -1.4 1.1 -2.1 1.1 -4.1 1.3 -3.2 0.7 -5.4 0.3 -2.1 0.3 -2.2 0.4 -3.2 1.1 -5.4 2.2 -4.3 2.1 -8.7 5.3 -1 0.3 -1.1 0.1 -1.1 -0.2 -1.1 -0.5 -2.1 -1.4 -4.3 -3.7 -4.3 -4.5 -3 -3.8 -2 -3.3 -1 -2.2 -2.6 -6.6 -1.9 -4.4 -3.4 -5.5 -4.7 -6.6 -2.5 -4.4 -1.7 -4.4 -0.5 -2.2 -0.3 -2.2 0.1 -4.4 0.5 -2.1 0.7 -2.2 2.3 -4.4 2.6 -3.3 2.3 -2.4 5.4 -4.5 10.7 -7.2 2.9 -2.4 0.8 -1.1 1.7 -5 1.1 -2.1 2.1 -2.8 2.5 -2.2 3.8 -2.2 2.8 -1.1 1.7 -0.5 3.3 -0.6 5.4 -0.1 2.1 -0.2 2.2 -0.4 4.3 -1.3 5.4 -2.2 4.3 -2.1zM95.3 77.7l-2.2 0.7 -2.1 1 -2.2 1.2 -1 0.9 -1.9 2 -0.3 1.1 0.5 1.1 2.7 1.5 5.4 0.6 5.4 -0.7 2.8 -1.4 1 -1.1 0.7 -1.1 0.1 -1.1 -0.4 -1.1 -1 -1.6 -1 -1 -2.2 -1.1 -2.1 -0.2z"/>
<path fill="#0000ec" fill-rule="evenodd" d="M123.7 59.3l1.8 -0.5 2.1 0.1 2.2 0.8 2.1 1.2 3.3 2.5 3.2 2.9 3.2 3.4 2.3 2.8 2.1 3.4 1 2.2 2.7 6.5 2.4 4.4 3.1 4.4 6 7.7 2.1 3.3 1.1 2.2 1.2 3.3 0.6 4.3 -0.2 3.3 -0.6 2.7 -1.1 2.6 -2.2 3.4 -1.9 2.3 -2.4 2.3 -4.1 3.2 -3.4 2.2 -3.3 1.9 -4.3 2 -7.5 3 -5.4 1.4 -5.4 0.4 -9.7 -0.3 -2.2 0.1 -4.3 0.8 -1 0.3 -2.2 1.2 -1.3 1.3 -0.6 1.1 0 1.1 0.1 1.1 1.8 2.5 2.2 1.6 2.1 0.6 2.2 0.3 4.3 0.2 1.1 0.3 0.7 1.1 -0.4 1.1 -1.2 1.1 -2.2 1.1 -8.8 2.4 -6.5 2.5 -5.4 2.5 -7.5 4 -2.2 1 -2.1 0.2 -2.2 -0.5 -3.2 -2 -3.2 -2.7 -3.3 -3.3 -3.3 -4.1 -2.1 -3.3 -1.1 -2.2 -2.9 -7.7 -2.1 -4.4 -2.1 -3.3 -4.7 -6.6 -3.2 -5.5 -1.1 -2.4 -1.1 -3.6 -0.3 -2.8 0.1 -4.4 0.2 -1.4 0.9 -2.9 1.3 -2.6 2.1 -3.3 2.6 -2.9 3.6 -3.3 4.6 -3.5 3.2 -2.2 15.1 -9.4 1.1 -0.4 1.1 0.1 2.7 2.2 2.5 1.1 2.3 0.7 2.8 0.4 2.6 0.2 1.9 -0.2 3.5 -0.6 2.2 -0.9 1.9 -1.8 0.7 -1.1 0.1 -1.1 -0.2 -1.1 -0.6 -1.1 -1.9 -2 -1.1 -0.7 -1.1 -0.4 -3.2 -0.4 -3.3 0.4 -7.5 2.1 -1.1 -0.1 0.2 -1.1 2.2 -3.3 1.1 -1.1 1.5 -1.1 2.4 -1.1 4.4 -1.1 3.3 -0.6 3.2 -0.9 3.3 -1.1 7.5 -3.3z"/>
<path fill="#0008ff" fill-rule="evenodd" d="M124.6 60.4l2 -0.1 2.1 0.4 2.2 0.9 2.1 1.3 3.3 2.5 2.9 2.7 2.4 2.8 2.1 2.7 1.8 3.3 2.9 6.6 2.2 4.4 2.1 3.3 7.3 9.3 2.1 3.3 1.9 3.9 1 3.3 0.4 3.2 -0.2 3.3 -0.9 3.4 -1.1 2.3 -1.2 2 -2.7 3.3 -2.3 2.2 -2.8 2.2 -2.9 1.9 -3.2 1.9 -4.3 2.1 -6.5 2.6 -6.4 1.7 -6.5 0.8 -11.9 0.5 -5.3 1.2 -2.2 1.1 -1.7 1.6 -0.5 1.1 -0.1 1.1 0.1 1.1 0.5 1.1 1.7 2.3 2.2 1.8 1.9 1.4 0.8 1.1 -0.5 1.1 -1.4 1.1 -4.3 2.2 -18.1 8.1 -1.1 0.4 -2.1 0.4 -1.1 0 -2.2 -0.5 -3.2 -1.8 -3.2 -2.5 -3.3 -3.3 -3.2 -4.1 -1.9 -3.3 -1 -2.2 -2.5 -6.6 -1.6 -3.3 -1.9 -3.3 -6.2 -8.8 -2.1 -3.7 -0.9 -1.8 -1.2 -3.3 -0.9 -4.4 0 -2.2 0.2 -2.2 0.8 -3.2 0.9 -2.3 1.1 -2.1 2.3 -3.3 3 -3.3 2.6 -2.2 3.9 -2.9 5.4 -3.5 5.4 -3 4.3 -2 3.2 -0.9 2.2 -0.1 7.5 1.4 5.4 0.4 5.4 -0.8 2.2 -0.9 1.3 -0.9 1 -1.1 0.6 -1.1 0.2 -1.1 -0.2 -1.1 -1.2 -2.2 -1.7 -1.8 -3.3 -2.1 -1.2 -0.5 -1 -1.1 0.8 -1.1 4.1 -2.2 13.5 -5.8 5.4 -2.6 3.2 -1.2z"/>
<path fill="#0024ff" fill-rule="evenodd" d="M121.1 62.6l3.3 -0.7 2.2 0 2.1 0.4 2.2 0.8 2.1 1.3 3.3 2.4 2.5 2.4 2.8 3.3 2.7 4.4 3.4 7.7 1.8 3.3 2.9 4.3 6.9 8.9 2.1 3.3 1.1 2.2 0.9 2.2 0.6 2.2 0.4 3.2 -0.3 3.3 -0.9 3.3 -1.6 3.3 -1.5 2.2 -1.9 2.2 -2.4 2.2 -2.8 2.2 -3.4 2.2 -2.6 1.5 -4.3 2 -5.4 1.9 -4.3 1.1 -5.4 0.9 -16.1 1.8 -4.3 1 -2.2 1.1 -1.1 0.8 -1 1.1 -0.6 1.1 -0.1 1.1 0.1 1.1 0.5 1.6 3.5 5 0.3 1.1 -0.4 1.1 -1 1.1 -1.5 1.1 -4.2 2.2 -11.7 5.1 -2.2 0.7 -2.2 0.4 -2.1 0 -2.2 -0.5 -3.2 -1.7 -3.2 -2.5 -2.7 -2.6 -2.6 -3.3 -2.5 -4.4 -3.1 -7.7 -2.1 -4.2 -2.2 -3.5 -5.4 -7.7 -2.5 -4.4 -1.8 -4.4 -0.5 -2.2 -0.3 -2.2 -0.1 -2.2 0.2 -2.2 0.5 -2.1 0.7 -2.2 1 -2.2 2.1 -3.3 2.9 -3.3 2.3 -2.2 3.1 -2.5 3.3 -2.3 5.4 -3.2 4.3 -2.1 4.3 -1.7 3.2 -0.6 3.2 0 8.7 0.9 3.2 -0.1 4.3 -0.7 2.2 -0.9 1 -0.6 1.8 -1.6 0.5 -1.1 0.2 -1.1 -0.1 -1.1 -0.4 -1.1 -0.9 -1.6 -3 -3.9 -0.3 -1.1 0.4 -1.1 1.1 -1.1 3.6 -2.2 7.9 -3.6z"/>
<path fill="#0040ff" fill-rule="evenodd" d="M120.7 63.7l2.6 -0.5 2.2 -0.1 2.1 0.2 3.3 1.2 2.1 1.2 3.2 2.4 2.3 2.2 2.1 2.6 2.5 4 3.5 7.7 1.8 3.3 2.2 3.3 7.7 9.9 2 3.3 1.2 2.2 0.8 2.2 0.6 2.2 0.4 3.2 -0.2 3.3 -0.9 3.3 -1 2.2 -1.4 2.2 -1.7 2.2 -2.1 2.2 -2.6 2.2 -3.2 2.2 -3.2 1.8 -3.2 1.6 -3.2 1.2 -5.4 1.6 -5.4 1 -12.9 1.8 -7.6 1.4 -3.2 1.1 -1.1 0.6 -1.6 1.1 -1 1.1 -0.5 1.1 -0.2 1.1 0.3 2.2 2.5 5.5 -0 1.1 -0.4 1.1 -0.9 1.1 -1.4 1.1 -3.9 2.2 -4.8 2.2 -5.3 2 -2.2 0.5 -2.2 0.3 -2.1 -0.1 -2.2 -0.6 -2.1 -0.9 -3.3 -2.3 -2.4 -2.2 -2.7 -3.3 -2.6 -4.4 -3.2 -7.7 -1.6 -3.3 -2 -3.3 -6.2 -8.8 -2.5 -4.4 -1.8 -4.4 -0.8 -4.4 -0.1 -2.2 0.2 -2.2 0.5 -2.1 0.7 -2.2 1.7 -3.3 1.5 -2.2 2.8 -3.3 2.3 -2.2 2.8 -2.2 3.7 -2.6 3.3 -1.9 4.3 -2.2 4.3 -1.7 3.2 -0.8 4.3 -0.3 7.6 0.4 4.3 0 3.2 -0.5 2.2 -0.7 2.1 -1 1.2 -0.8 1 -1.1 0.6 -1.1 0.2 -1.1 -0.3 -2.2 -2.3 -4.4 -0.4 -1.1 -0 -1.1 0.4 -1.1 1 -1.1 1.4 -1.1 4 -2.2 6.2 -2.7z"/>
<path fill="#005cff" fill-rule="evenodd" d="M120.1 64.8l3.2 -0.5 2.2 -0.1 2.1 0.4 2.2 0.7 3.2 1.7 2.2 1.6 2.1 2 2.5 3 2.1 3.3 3.5 7.7 1.8 3.3 2.3 3.3 7.7 9.9 1.7 2.6 1.5 2.9 0.9 2.2 0.6 2.2 0.4 3.2 -0.3 3.3 -0.9 3.3 -1 2.2 -1.3 2.2 -1.8 2.2 -2.1 2.2 -4.2 3.3 -3.7 2.2 -2.3 1.1 -4.1 1.5 -5.4 1.5 -4.3 1 -10.8 1.6 -6.5 1.3 -5.4 1.2 -3.2 1.4 -2.2 1.5 -0.9 1.1 -0.6 1.1 -0.2 1.1 0.2 2.2 1.5 4.4 0.2 1.1 -0.1 1.1 -0.5 1.1 -0.9 1.1 -1.4 1.1 -3.8 2.2 -5.2 2.2 -3.3 1.1 -2.2 0.4 -2.2 0.2 -2.1 -0.2 -2.2 -0.6 -2.1 -1 -3 -2.1 -2.4 -2.3 -2.2 -2.7 -2.2 -3.8 -3.3 -7.7 -1.6 -3.3 -2.1 -3.3 -6.2 -8.8 -2.6 -4.4 -1.7 -4.4 -0.9 -4.4 0 -2.2 0.2 -2.2 0.4 -2.1 0.8 -2.2 1 -2.2 2.1 -3.3 1.8 -2.2 2.2 -2.2 2.6 -2.2 3.1 -2.3 3.4 -2.1 4.2 -2.2 5.3 -2.1 4.3 -0.9 4.3 -0.3 7.6 0.1 6.4 -0.6 3.3 -1.1 2.1 -1.2 1.7 -1.6 0.8 -2.2 -0.3 -2.2 -1.6 -4.4 -0.1 -1.1 0.1 -1.1 0.5 -1.1 1 -1.1 1.4 -1.1 3.9 -2.2 5.3 -2.2z"/>
<path fill="#0078ff" fill-rule="evenodd" d="M119.6 65.9l2.6 -0.4 3.3 -0.1 2.1 0.4 2.2 0.8 2.1 1.1 2.2 1.5 2.4 2.2 1.9 2.3 2.2 3.3 3.6 7.6 2.5 4.4 9 11.5 2.1 3.2 1.5 2.9 0.9 2.2 0.6 2.2 0.4 3.2 -0.3 3.3 -0.9 3.3 -1 2.2 -1.2 2 -1.1 1.4 -2.1 2.4 -2.2 1.9 -3.2 2.2 -4.3 2.2 -5.4 2.1 -5.4 1.5 -5.4 1.1 -10.8 1.7 -6.4 1.6 -4.3 1.2 -2.2 0.9 -2.2 1.4 -1.6 1.7 -0.8 2.2 0.1 2.2 1 4.4 0 1.1 -0.3 1.1 -0.6 1.1 -0.9 1.1 -3.2 2.2 -4.8 2.2 -5 1.4 -2.2 0.2 -2.1 -0.1 -3.3 -0.8 -2.1 -1.1 -2.6 -1.8 -2.2 -2.2 -1.8 -2.2 -2 -3.4 -3.8 -8.7 -1.2 -2.2 -2.1 -3.3 -5.9 -8.1 -3.2 -5.5 -1.5 -4 -0.6 -2.2 -0.3 -2.2 0.1 -4.4 1.2 -4.3 1.1 -2.3 2.1 -3.2 1.8 -2.2 2.2 -2.2 2.6 -2.2 3.1 -2.2 5.9 -3.3 4.9 -2 4.3 -1.1 5.4 -0.6 8.6 -0.3 5.4 -0.7 1.1 -0.2 3.2 -1.2 1.1 -0.7 1.3 -0.9 0.9 -1.1 0.7 -1.1 0.2 -1.1 -0.1 -2.2 -1 -4.4 0.2 -1.9 0.7 -1.4 1 -1.1 1.4 -1.1 1.8 -1.1 5 -2.2z"/>
<path fill="#0094ff" fill-rule="evenodd" d="M120.6 67l2.7 -0.2 2.2 0.2 3.9 1.1 3.6 2.2 2.4 2.2 1.9 2.3 2.2 3.5 2.5 5.2 2.4 4.4 3.2 4.4 7 8.6 2.1 3.4 1.1 2.1 1.3 3.5 0.4 2.2 0.2 2.1 -0.2 3.3 -0.9 3.3 -1.9 3.5 -1.4 2 -2.1 2.2 -4.3 3.3 -5.1 2.7 -4.3 1.8 -5.4 1.6 -5.4 1.2 -10.8 1.8 -6.4 1.6 -5.4 1.8 -2.2 1 -1.3 0.8 -1.4 1.1 -0.9 1.1 -0.5 1.1 -0.3 1.1 -0.1 2.2 0.3 4.4 -0.6 2.2 -0.7 1.1 -1.1 1.1 -3.1 2 -2.9 1.3 -4.6 1.1 -2.2 0.2 -2.1 -0.2 -3.3 -1 -2.1 -1.2 -1.6 -1.1 -1.7 -1.6 -2.1 -2.6 -2.1 -3.5 -2.9 -6.6 -1.7 -3.3 -2.2 -3.3 -7.2 -9.9 -2.2 -4.1 -1.1 -2.6 -0.8 -3.2 -0.3 -2.2 0.1 -4.4 1.2 -4.3 1 -2.2 2.2 -3.3 1.9 -2.2 2.2 -2.2 2.7 -2.2 2.7 -1.9 5.4 -2.9 5.4 -2.1 4.3 -1 4.3 -0.6 9.7 -0.6 5.4 -1 3.2 -1.1 2.2 -1.2 2 -1.9 1 -2.2 0.1 -2.2 -0.4 -4.4 0.5 -2 0.8 -1.3 2.5 -2 2.2 -1.3 2.7 -1.1z"/>
<path fill="#00afff" fill-rule="evenodd" d="M119.1 69.2l2.1 -0.3 2.1 0 2.2 0.2 2.1 0.7 2.2 1 2.1 1.5 1.5 1.3 1.9 2.2 2 3.3 2.9 5.5 2 3.3 2.5 3.3 7.2 8.8 2.3 3.3 1.7 3.3 0.9 2.2 0.6 2.2 0.4 3.2 -0.2 3.3 -1 3.3 -1 2.2 -1.5 2.2 -2.9 3.3 -4.2 3.2 -4.3 2.3 -4.3 1.8 -5.4 1.6 -5.4 1.2 -10.7 2 -5.4 1.4 -5.9 1.9 -2.4 1.1 -1.8 1.1 -1.3 1.1 -0.9 1.1 -1 2.2 -0.3 2.2 -0.2 3.3 -0.6 2.2 -0.6 1.1 -1 1.1 -2.4 1.6 -3.2 1.3 -3.2 0.7 -3.3 -0.1 -3.2 -0.9 -2.1 -1.2 -1.9 -1.4 -1.4 -1.4 -1.5 -1.9 -1.7 -2.9 -2.9 -5.9 -1.8 -3.3 -2.3 -3.3 -6.6 -8.8 -2.6 -4.4 -1.8 -4.4 -0.8 -4.4 -0.1 -2.2 0.2 -2.2 0.5 -2.1 0.7 -2.2 1.1 -2.2 1.3 -2.2 1.7 -2.2 2.1 -2.2 2.5 -2.2 3.1 -2.2 5.7 -3.2 4.3 -1.7 5.4 -1.3 12.9 -1.4 4.3 -0.7 4.3 -1.3 3 -1.4 1.4 -1.1 1 -1.1 0.6 -1.1 0.7 -2.2 0.4 -5.5 0.4 -1.1 0.7 -1.1 1.5 -1.5 2.2 -1.3 2.2 -0.9z"/>
<path fill="#00cbff" fill-rule="evenodd" d="M118.8 71.4l3.4 -0.4 3.3 0.5 3.2 1.4 2.4 1.8 1.9 2.1 1.1 1.4 4.4 7.5 2.3 3.3 7.4 8.8 2.6 3.3 2.1 3.3 1.2 2.2 0.8 2.2 0.6 2.2 0.4 3.2 0 2.2 -0.4 2.2 -0.7 2.2 -1.8 3.3 -2.6 3.3 -3.9 3.3 -3.6 2.2 -5 2.2 -4.9 1.6 -4.3 1.1 -14 2.8 -6.5 1.8 -4.3 1.6 -2 1 -1.8 1.1 -1.3 1.1 -0.9 1.1 -1.2 2.2 -1.4 6.1 -0.9 1.6 -1.3 1.2 -2.1 1.3 -3.2 1 -3.3 0.1 -3.2 -0.8 -1.2 -0.6 -2 -1.4 -2.8 -3 -1.6 -2.4 -2.8 -5.3 -2 -3.3 -8.4 -11 -3.4 -5.5 -1.8 -4.4 -0.6 -2.2 -0.3 -2.2 0 -2.2 0.2 -2.2 0.5 -2.1 0.7 -2.2 1.1 -2.2 1.3 -2.2 1.7 -2.2 2.2 -2.2 4.1 -3.4 3.2 -2 2.3 -1.2 4.2 -1.8 5.4 -1.4 4.3 -0.7 9.7 -1.1 4.3 -0.9 4.3 -1.3 3.2 -1.6 1.4 -1.1 1.7 -2.2 0.9 -2.2 0.9 -4.4 1.1 -2.2 1.1 -1.1 1.6 -1z"/>
<path fill="#00e7ff" fill-rule="evenodd" d="M120.1 73.6l3.2 0 2.2 0.6 2.1 1 2.2 1.7 2.1 2.6 5.8 8.4 8.7 9.9 3.4 4.4 1.9 3.3 1 2.2 0.8 2.2 0.5 2.2 0.2 3.2 -0.3 2.2 -0.5 2.2 -0.9 2.2 -2 3.3 -3.1 3.3 -2.8 2.2 -3.7 2.2 -4.6 2 -4 1.3 -4.7 1.2 -12.9 2.6 -7.5 2.3 -4.5 1.6 -2.2 1.1 -1.8 1.1 -2.3 2.2 -1.4 2.2 -1.9 4.9 -1 1.6 -1.1 0.9 -2.2 1.1 -2.1 0.4 -2.2 -0.1 -2.1 -0.6 -2.7 -1.6 -1.6 -1.6 -1.1 -1.3 -5.2 -8.1 -9.6 -12.1 -2.2 -3.3 -1.3 -2.2 -1.8 -4.4 -0.9 -4.4 0 -2.2 0.2 -2.2 0.5 -2.1 0.7 -2.2 1.1 -2.2 1.3 -2.2 3.2 -3.7 2 -1.8 2.9 -2.2 4.8 -2.8 4.3 -1.8 4.3 -1.2 4.3 -0.8 10.8 -1.4 4.3 -0.9 4.3 -1.4 3.5 -1.8 1.4 -1.1 1.9 -2.2 1.1 -2.2 1.2 -3.3 0.6 -1.1 0.9 -1.1 1.3 -1 1 -0.5z"/>
<path fill="#04fffb" fill-rule="evenodd" d="M119.8 76.9l2.4 -0.3 1.9 0.3 2.4 1.1 1.4 1.1 1.9 1.9 5.7 6.9 9.1 9.9 3.4 4.4 1.4 2.2 1.7 3.3 0.7 2.2 0.5 2.2 0.2 3.2 -0.3 2.2 -0.5 2.2 -0.9 2.2 -2 3.3 -3.1 3.3 -2.9 2.2 -3.8 2.2 -3.8 1.6 -4.3 1.4 -16.2 3.6 -7.4 2.2 -4.5 1.5 -3.8 1.8 -3.2 2.2 -2.1 2.2 -2.7 4.2 -1.1 1.2 -1.1 0.8 -1 0.4 -2.2 0.3 -1.7 -0.3 -1.5 -0.7 -2.2 -1.5 -2.1 -2.4 -5 -6.4 -8.4 -9.9 -2.5 -3.3 -1.9 -3.3 -1.1 -2.2 -1.1 -3.3 -0.4 -2.2 -0.2 -2.2 0.1 -2.2 0.3 -2.2 0.6 -2.1 0.9 -2.2 2 -3.3 2.8 -3.3 3.8 -3.3 3.6 -2.3 4.3 -2.1 5.4 -1.8 4.3 -0.9 14 -2.2 4.3 -1.1 3.3 -1.2 2.9 -1.6 1.5 -1.1 2.2 -2.2 3.1 -4.5 1 -1.1z"/>
<path fill="#20ffdf" fill-rule="evenodd" d="M119.3 81.3l1.9 -0.7 2.1 0 2.2 0.8 2.1 1.4 3.3 2.9 8.6 8.5 3.4 3.6 2.7 3.3 2.2 3.3 1.2 2.2 0.9 2.2 0.8 3.3 0.2 3.2 -0.3 2.2 -0.5 2.2 -0.9 2.2 -2.1 3.3 -3.1 3.3 -3.4 2.5 -4.3 2.3 -3.3 1.3 -3.2 1 -15.1 3.4 -12.3 3.8 -3.9 1.6 -3.1 1.7 -3 2.2 -3.6 3 -1 0.6 -2.2 0.5 -1.1 -0.1 -2.1 -0.9 -2.2 -1.6 -2.1 -2 -9.7 -10.2 -4.6 -5.8 -2.6 -4.4 -0.9 -2.2 -1 -3.3 -0.3 -2.2 -0.1 -2.2 0.2 -2.2 0.5 -2.1 0.8 -2.2 1.1 -2.2 2.2 -3.3 3.2 -3.3 3.6 -2.8 4.3 -2.5 3.3 -1.3 4.3 -1.3 4.3 -0.9 11.8 -1.9 4.3 -1 3.3 -1 3.8 -1.6 2 -1.1z"/>
<path fill="#3cffc3" fill-rule="evenodd" d="M118.9 84.6l2.3 -0.6 2.1 0.1 2.2 0.6 3.2 1.9 4.3 3.4 5.4 4.9 3.8 4 2.6 3.3 2 3.3 1.1 2.2 1 3.3 0.4 2.2 0 3.2 -0.4 2.2 -0.8 2.2 -1.1 2.2 -2.4 3.3 -3.6 3.3 -3.5 2.2 -5 2.2 -5.9 1.8 -11.9 2.7 -10.9 3.2 -6 2.2 -7.9 3.9 -2.1 0.8 -2.2 0.3 -1.1 -0.1 -1.1 -0.3 -2.1 -1 -2.2 -1.5 -3.2 -2.7 -6.1 -6 -4.5 -5.5 -2.7 -4.4 -1.3 -3.3 -0.6 -2.2 -0.3 -2.2 -0.1 -2.2 0.2 -2.2 0.5 -2.1 0.8 -2.2 1.1 -2.2 2.3 -3.3 3.2 -3.3 4.3 -3.1 4.6 -2.4 3 -1.1 4.2 -1.2 14 -2.4 6.5 -1.6 4.3 -1.4 2.7 -1.1z"/>
<path fill="#57ffa8" fill-rule="evenodd" d="M118.1 86.8l3.1 -0.5 2.1 0.2 2.2 0.6 3.2 1.7 3.2 2.2 4.4 3.6 4.2 4.3 2.7 3.3 2.1 3.3 1.1 2.2 1 3.3 0.4 2.2 0 3.2 -0.4 2.2 -1.3 3.3 -1.3 2.2 -2.8 3.3 -2.5 2.1 -3.2 2 -3.3 1.6 -6 2 -12.3 2.9 -9.1 2.6 -6.9 2.2 -8.8 3.2 -3.2 0.5 -2.2 -0.1 -3.2 -1.2 -3.2 -2 -5.4 -4.6 -4.3 -4.6 -2.2 -2.9 -1.6 -2.6 -1.9 -4.4 -0.6 -2.2 -0.4 -2.2 0 -2.2 0.2 -2.2 0.5 -2.1 0.8 -2.2 1.1 -2.2 1.4 -2.2 3 -3.3 2.6 -2.2 3.5 -2.3 4.5 -2.1 3.1 -1 3.2 -0.9 12.9 -2.3 5.9 -1.3 3.9 -1.1z"/>
<path fill="#73ff8c" fill-rule="evenodd" d="M114.7 89l3.2 -0.7 3.3 -0.2 2.1 0.2 3.3 1.1 4.3 2.5 3.2 2.4 3.8 3.5 2.9 3.3 2.4 3.3 1.2 2.2 1.3 3.3 0.6 3.3 0 3.2 -0.4 2.2 -1.2 3.3 -1.3 2.2 -1.8 2.2 -3.2 2.8 -3.2 2.1 -3.6 1.7 -5 1.7 -13 3.2 -21.5 6.3 -2.2 0.5 -2.1 0.2 -3.3 -0.3 -3.2 -1.1 -3.2 -1.9 -2.2 -1.7 -2.9 -2.5 -4 -4.4 -3 -4.4 -2 -4.4 -0.6 -2.2 -0.3 -2.2 -0.1 -2.2 0.2 -2.2 0.5 -2.1 0.8 -2.2 1.8 -3.3 2.7 -3.3 3.7 -3.2 3.7 -2.3 3.8 -1.8 5.4 -1.7 17.2 -3.3z"/>
<path fill="#8fff70" fill-rule="evenodd" d="M114.3 90.1l3.6 -0.6 3.3 0 2.1 0.3 3.3 1.1 3.2 1.8 3.2 2.3 3.3 2.8 3 3.3 2.4 3.3 1.8 3.3 1.1 3.3 0.3 2.2 0 3.2 -0.4 2.2 -1.2 3.3 -1.4 2.2 -2.9 3.3 -2.7 2.2 -3.3 1.9 -3.3 1.4 -5.3 1.7 -9.7 2.4 -20.5 5.5 -4.3 0.8 -2.1 0.1 -2.2 -0.2 -2.2 -0.5 -2.1 -0.9 -4.3 -2.6 -4.3 -3.8 -3.3 -3.7 -2.7 -4.3 -1 -2.2 -0.7 -2.2 -0.5 -2.2 -0.2 -2.2 0 -2.2 0.4 -2.2 0.7 -2.1 0.9 -2.2 2.1 -3.3 3.1 -3.3 2.9 -2.2 3.7 -2.2 4.3 -1.8 5.4 -1.5 15 -2.9z"/>
<path fill="#abff54" fill-rule="evenodd" d="M113.1 91.2l3.8 -0.5 3.2 -0.1 2.1 0.3 3.3 1 3.2 1.5 3.2 2.2 3.9 3.3 2.9 3.3 1.9 2.6 1.5 2.9 1.1 3.3 0.5 3.2 -0.3 3.3 -0.6 2.2 -1.5 3.3 -1.6 2.2 -2.2 2.2 -2.9 2.2 -3.7 2.1 -3 1.2 -4.6 1.4 -18.3 4.8 -9.7 2.4 -5.4 0.7 -2.1 0 -2.2 -0.3 -2.2 -0.5 -2.1 -0.9 -2.2 -1.3 -2.1 -1.5 -4.2 -3.7 -2.7 -3.3 -1.5 -2.2 -1.2 -2.2 -0.8 -2.2 -0.7 -2.2 -0.3 -2.2 -0.1 -2.2 0.5 -3.3 0.6 -2.1 1 -2.2 2.2 -3.3 2.9 -3.1 3.2 -2.4 3.2 -1.9 3.4 -1.4 3.4 -1.1 4.5 -1.1z"/>
<path fill="#c7ff38" fill-rule="evenodd" d="M111.2 92.3l4.6 -0.6 3.2 0 3.2 0.4 2.2 0.6 3.2 1.4 3.3 2.1 3.2 2.6 2.2 2.3 2.1 2.6 1.8 2.9 1.4 3.3 0.7 3.3 -0.1 3.2 -0.4 2.2 -1.3 3.3 -1.3 2.2 -1.9 2.2 -2.6 2.2 -3.5 2.2 -3.6 1.6 -5.4 1.7 -17.2 4.6 -7.5 1.7 -6.5 0.9 -4.3 -0.2 -3.3 -0.9 -2.1 -0.9 -2.2 -1.3 -2.1 -1.5 -3.7 -3.5 -2.7 -3.3 -1.9 -3.3 -0.9 -2.2 -0.6 -2.2 -0.4 -2.2 -0.1 -2.2 0.5 -3.3 0.7 -2.1 1 -2.2 2.2 -3.3 2.6 -2.8 3.3 -2.5 3.2 -1.8 4.3 -1.7 3.8 -1.1 4.8 -1.1z"/>
<path fill="#e3ff1c" fill-rule="evenodd" d="M108.7 93.4l4.9 -0.7 3.3 -0.1 3.2 0.2 2.1 0.4 3.3 1.1 3.2 1.7 2.5 1.8 2.9 2.5 2.6 3 2.1 3.3 1.1 2.2 0.9 3.3 0.2 3.2 -0.2 2.2 -1.1 3.3 -1.1 2.2 -1.7 2.2 -2.8 2.7 -2.5 1.7 -4 2 -3.6 1.3 -3.7 1.1 -16.4 4.3 -8.6 1.6 -3.2 0.3 -3.3 -0 -3.2 -0.6 -2.2 -0.7 -2.1 -1 -2.2 -1.3 -3.3 -2.6 -3.1 -3.4 -1.5 -2.1 -1.2 -2.2 -1.3 -3.3 -0.5 -2.2 -0.3 -2.2 0.3 -3.3 0.9 -3.2 1.6 -3.3 2.6 -3.3 2.5 -2.2 3.3 -2.3 4.3 -2.1 3.3 -1.1 5.4 -1.4z"/>
<path fill="#feff01" fill-rule="evenodd" d="M105.8 94.5l4.6 -0.7 4.3 -0.3 3.2 0 3.3 0.5 3.2 1 2.2 1 2.8 1.8 2.5 1.9 2.5 2.5 2.5 3.3 1.2 2.2 1.2 3.3 0.4 3.2 0 2.2 -0.8 3.3 -1 2.2 -1.4 2.2 -2 2.2 -2.7 2.2 -3.1 1.8 -3.5 1.5 -3 1 -12.2 3.4 -5 1.3 -5.4 1.1 -4.3 0.6 -3.2 0.2 -3.3 -0.2 -2.1 -0.3 -3.3 -1.1 -2.1 -1 -3.2 -2.2 -3.3 -3.1 -1.5 -1.9 -1.5 -2.2 -1.6 -3.3 -0.6 -2.2 -0.4 -2.2 0 -3.3 0.7 -3.2 1.4 -3.3 2.3 -3.3 2.2 -2.2 2.9 -2.2 4 -2.2 4 -1.5 4.3 -1.2 6.5 -1.4z"/>
<path fill="#ffe400" fill-rule="evenodd" d="M111.1 94.5l3.6 -0.2 3.2 0.2 3.3 0.5 3.2 1.1 3.2 1.7 2.2 1.5 3.1 2.9 1.9 2.2 1.5 2.3 1.4 3.2 0.5 2.2 0.3 3.2 -0.5 3.3 -0.9 2.2 -1.2 2.2 -1.7 2.2 -2.3 2.1 -1.7 1.2 -1.9 1.1 -3.9 1.6 -17 5 -4.6 1.1 -5.3 0.9 -5.4 0.3 -2.3 -0.1 -3.1 -0.6 -2.2 -0.7 -2.1 -0.9 -2.2 -1.3 -2.1 -1.7 -3.3 -3.3 -2.1 -3.2 -1.6 -3.7 -0.7 -3.3 -0 -3.3 0.7 -3.2 1.4 -3.3 2.3 -3.2 2.4 -2.3 3 -2.2 4.4 -2.2 2.9 -1.1 3.9 -1.1 6.1 -1.3 7.5 -1.3z"/>
<path fill="#ffc800" fill-rule="evenodd" d="M108.1 95.6l6.6 -0.3 3.2 0.2 2.2 0.4 2.6 0.8 2.8 1.2 3.2 2.1 2.5 2.2 2.8 3.3 1.2 2 1 2.4 0.7 3.3 0.1 2.1 -0.2 2.2 -1.2 3.3 -1.3 2.2 -1.9 2.2 -1.5 1.4 -3 1.9 -2.4 1.2 -3.3 1.3 -6.3 1.9 -8.7 2.5 -5.4 1.3 -3.3 0.5 -3.2 0.3 -3.2 -0 -2.6 -0.2 -1.7 -0.3 -3.3 -1.1 -2.1 -1 -2.2 -1.4 -3.1 -2.8 -2.3 -2.8 -2 -3.8 -0.9 -3.3 -0.3 -3.3 0.5 -3.3 0.7 -2.1 2 -3.6 2.8 -3 2.6 -2.1 3.2 -1.9 3.3 -1.4 3.8 -1.2 4.4 -1.1 5.5 -1.1z"/>
<path fill="#ffac00" fill-rule="evenodd" d="M107.8 96.7l3.7 -0.2 3.2 0 3.2 0.4 2.2 0.5 3.2 1.2 2.2 1.1 2.1 1.5 2.3 2.1 1.9 2.2 1.4 2.2 1 2.2 0.8 3.3 -0 3.2 -0.5 2.2 -0.9 2.2 -1.3 2.2 -2 2.2 -1.6 1.3 -3.2 2 -2.4 1.1 -3 1.1 -7.1 2.2 -5.8 1.6 -4.4 1 -6.4 0.8 -5.4 -0.2 -3.2 -0.6 -2.2 -0.8 -2.2 -1 -2.1 -1.4 -3 -2.7 -1.7 -2.2 -1.9 -3.3 -1 -3.3 -0.3 -3.3 0.5 -3.3 1.3 -3.2 1.4 -2.2 1.9 -2.2 2.6 -2.2 3.4 -2.1 2.8 -1.2 3.7 -1.3 5.4 -1.4 5.4 -1z"/>
<path fill="#ff9000" fill-rule="evenodd" d="M108.1 97.8l3.4 -0.1 3.2 0.2 3.2 0.5 2.2 0.6 2.1 0.8 2.3 1.3 2.1 1.4 2.1 2 1.7 2.1 1.3 2.2 0.8 2.2 0.6 3.2 -0.1 2.2 -0.5 2.2 -0.9 2.2 -1.5 2.2 -1.4 1.6 -2.1 1.7 -2.2 1.4 -3.2 1.5 -4.2 1.5 -6.6 2 -7.6 1.8 -6.4 0.6 -3.3 -0.1 -2.1 -0.3 -2.9 -0.7 -2.5 -1 -2.2 -1.2 -1.5 -1.1 -2.3 -2.2 -2.4 -3.3 -1 -2.2 -0.8 -3.3 0 -3.3 0.4 -2.2 1.2 -2.9 1.6 -2.5 2.1 -2.2 2.8 -2.2 3.2 -1.8 3.2 -1.3 4.3 -1.3 4.3 -1 5.4 -0.8z"/>
<path fill="#ff7400" fill-rule="evenodd" d="M99.4 100l4.5 -0.7 4.3 -0.3 3.3 0 3.2 0.3 3.2 0.6 2.2 0.8 2.1 1 2.5 1.6 2.4 2.2 1.6 2 1.3 2.4 0.7 2.2 0.4 3.2 -0.3 2.2 -0.8 2.2 -1.2 2.2 -1.9 2.2 -1.3 1.1 -2.3 1.6 -3.2 1.6 -3 1.2 -5.6 1.8 -7.6 1.8 -3.2 0.4 -3.2 0.2 -3.3 -0.1 -2.1 -0.2 -2.2 -0.5 -2.1 -0.8 -2.2 -1 -2.2 -1.4 -2.4 -2.4 -1.6 -2.2 -1.2 -2.2 -0.6 -2.2 -0.4 -3.3 0.3 -2.2 0.6 -2.1 1 -2.2 1.1 -1.6 1.6 -1.7 2.6 -2.2 1.8 -1.1 2.6 -1.4 3.3 -1.2 3.2 -0.9z"/>
<path fill="#ff5900" fill-rule="evenodd" d="M100 101.1l7.2 -0.8 3.2 0 3.2 0.3 2.5 0.5 2.9 0.9 2.2 1 2.1 1.5 2.3 2.1 1.6 2.2 1 2.2 0.6 2.2 0.1 2.1 -0.3 2.2 -0.8 2.2 -1.3 2.2 -2 2.2 -1.4 1.1 -4.1 2.3 -3.2 1.4 -4.3 1.4 -4.3 1.1 -3.3 0.6 -5.4 0.5 -3.2 -0.1 -2.2 -0.3 -2.1 -0.4 -2.2 -0.8 -2.1 -1.1 -2 -1.3 -1.3 -1.1 -1.8 -2.2 -1.2 -2.2 -0.8 -2.2 -0.3 -2.2 0 -2.2 0.5 -2.2 0.9 -2.1 1.4 -2.2 1.3 -1.5 2.1 -1.8 2.3 -1.5 2.1 -1.1 3.2 -1.2 3.3 -0.9z"/>
<path fill="#ff3d00" fill-rule="evenodd" d="M101.4 102.2l3.6 -0.4 3.2 -0.1 5.4 0.5 4.3 1.3 2.2 1 2.1 1.6 1.6 1.6 1.5 2.2 0.9 2.2 0.5 2.1 -0.1 2.2 -0.6 2.2 -1.1 2.2 -0.8 1.1 -1.9 1.8 -2 1.5 -4.3 2.2 -6.4 2.2 -5.6 1.2 -5.4 0.3 -3.2 -0.2 -2.2 -0.4 -2.1 -0.6 -2.2 -0.9 -3.2 -2.2 -1.5 -1.6 -1.4 -2.2 -1.2 -3.3 -0.1 -2.2 0.2 -2.2 0.8 -2.1 1 -2 1.1 -1.4 2.2 -2 3.7 -2.3 4.9 -2z"/>
<path fill="#ff2100" fill-rule="evenodd" d="M104.7 103.3l4.6 0 4.3 0.6 2.2 0.7 1.9 0.9 1.8 1.1 1.3 1.1 1.4 1.6 1.1 1.7 0.4 1.1 0.5 2.1 -0.1 2.2 -0.2 1.1 -0.6 1.6 -1 1.7 -2.1 2.2 -3.3 2.3 -4.9 2.1 -5.9 1.6 -5.4 0.6 -4.3 -0.2 -4.3 -1.1 -3.3 -1.6 -1.8 -1.5 -1.4 -1.7 -0.9 -1.6 -0.8 -2.2 -0.2 -2.2 0.3 -2.2 0.5 -1.6 0.9 -1.6 1.3 -1.7 1.7 -1.6 1.5 -1.1 2.2 -1.3 2.2 -0.9 3.5 -1.1 4 -0.8z"/>
<path fill="#ff0500" fill-rule="evenodd" d="M100.5 105.5l5.6 -0.6 4.3 0.3 2.1 0.5 2.2 0.7 2.2 1.1 1 0.8 1.6 1.6 0.8 1.1 0.9 1.8 0.3 1.4 0 2.2 -0.3 1.1 -1 2.2 -0.8 1.1 -2.4 2.2 -3.9 2.2 -3.8 1.4 -4.3 1 -4.3 0.3 -4.3 -0.4 -3.8 -1.2 -2.7 -1.6 -1.1 -1 -1 -1.4 -1.3 -2.6 -0.2 -1.1 0 -2.2 0.4 -1.5 0.8 -1.7 1.6 -2.2 3 -2.4 1.6 -0.9 2.7 -1.1z"/>
<path fill="#e80000" fill-rule="evenodd" d="M99.6 107.7l4.3 -0.7 4.3 0.1 3.3 0.6 3.2 1.5 2.2 1.9 1 1.8 0.4 1.3 0.1 1.1 -0.3 2.2 -1.2 2.2 -2.2 2.2 -1.8 1.1 -2.5 1.2 -4.3 1.3 -4.3 0.4 -3.3 -0.2 -3.2 -0.8 -2.2 -1.1 -2.1 -1.9 -1.3 -2.2 -0.4 -2.2 0 -1.1 0.6 -1.9 0.8 -1.3 0.8 -1.1 1.6 -1.5 3.3 -1.8z"/>
<path fill="#cc0000" fill-rule="evenodd" d="M101.3 109.9l2.6 -0.4 3.3 0.1 2.1 0.5 2.2 0.9 1.4 1.1 0.9 1.1 0.5 1 0.2 1.1 -0.1 1.1 -0.3 1.1 -0.6 1.1 -1 1.1 -2.1 1.6 -2.2 1 -3.2 0.9 -3.2 0.2 -2.2 -0.2 -2.1 -0.7 -2.2 -1.2 -1.4 -1.6 -0.6 -1.1 -0.2 -1.1 -0 -1.1 0.9 -2.2 0.9 -1 1.5 -1.3 2.1 -1.2z"/>
<path fill="#bc0000" fill-rule="evenodd" d="M101.9 114.2l2 -0.3 1.1 0 1.3 0.3 1.2 1.1 0.2 1.1 -0.5 1.1 -1.8 1.1 -1.5 0.4 -2.1 -0.2 -1.1 -0.5 -0.7 -0.8 -0.2 -1.1 0.5 -1.1z"/>
</g>
<path d="M876.8 67.85h3.5M1097.1 67.85h-3.5M876.8 127.7h3.5M1097.1 127.7h-3.5M876.8 187.55h3.5M1097.1 187.55h-3.5M986.95 8v3.5M986.95 247.4v-3.5" stroke="#1a1a3a" stroke-width="1.6" fill="none" opacity="0.7"/>
<path d="M964.92 8V247.4M997.97 8V247.4M876.8 91.79H1097.1M876.8 163.61H1097.1" stroke="#fff" stroke-width="2.1" stroke-dasharray="21 13.2" fill="none"/>
</g>
<text x="864.6" y="21.3" text-anchor="end" fill="#262626">-1</text>
<text x="864.6" y="81.15" text-anchor="end" fill="#262626">-0.5</text>
<text x="864.6" y="141" text-anchor="end" fill="#262626">0</text>
<text x="864.6" y="200.85" text-anchor="end" fill="#262626">0.5</text>
<text x="864.6" y="260.7" text-anchor="end" fill="#262626">1</text>
<text x="876.8" y="289.2" text-anchor="middle" fill="#262626">1.45</text>
<text x="986.95" y="289.2" text-anchor="middle" fill="#262626">1.55</text>
<text x="1097.1" y="289.2" text-anchor="middle" fill="#262626">1.65</text>
<text x="985.15" y="322.6" text-anchor="middle" fill="#262626">Wavelength (<tspan font-style="italic" font-size="34px" dx="2.5">μ</tspan><tspan dx="2.5">m)</tspan></text>
<text transform="translate(802.1 127.7) rotate(-90)" text-anchor="middle" fill="#262626">Time (ps)</text>
</g>
<g>
<rect x="1266.8" y="8" width="220.3" height="239.4" fill="#00008f" stroke="#262626" stroke-width="2"/>
<g clip-path="url(#c03)">
<rect x="1266.8" y="8" width="220.3" height="239.4" fill="#00008f"/>
<g filter="url(#b)" transform="translate(1266.8 8)">
<path fill="#0000b4" fill-rule="evenodd" d="M122.3 48.4l1.5 -0.5 1.1 0.1 2.1 0.9 1 0.9 1.5 1.9 2.4 4.3 1.5 2.2 8.4 9.9 2.5 3.3 2 3.3 2.1 4.4 1.6 4.2 2.1 4.5 2.1 3.4 5.6 7.7 2.2 3.3 2.3 4.4 1.1 3.3 0.5 3.3 -0.1 3.2 -0.6 3.3 -0.9 2.2 -1.9 3.3 -2.5 3.3 -2.6 2.5 -3.1 2.6 -3.2 2.2 -5.2 3.2 -8.8 4.9 -3.2 2.2 -0.9 1.1 -0.3 1.1 1.5 4.4 0.2 2.2 -0.6 2.2 -0.5 1.1 -2 2.2 -1.4 1.1 -1.8 1 -3.1 1.2 -5.3 0.6 -8.4 0.1 -3.1 0.2 -4.7 1.3 -5.3 2.2 -2.2 1.1 -3.5 2.2 -2.4 2.2 -1 1 -1.1 2.2 -0.4 2.2 -0.3 3.3 -0.4 1.1 -0.7 0.8 -1 0.6 -1.1 0.2 -1 -0.1 -1.1 -0.4 -1 -0.7 -1.1 -1 -1 -1.6 -2.3 -4.4 -1.4 -2.2 -9.4 -12 -3.1 -5.5 -3.7 -9.9 -1 -2.3 -3.2 -5.4 -3.7 -5.5 -3 -5.5 -1.3 -3.3 -0.8 -3.3 -0.2 -2.2 0.1 -4.4 0.9 -3.2 1.4 -3.3 2 -3.3 1.8 -2.2 2.8 -2.9 5.2 -4.3 9.4 -6 3 -2.2 1.1 -1.1 0.6 -1.1 0.1 -1.1 -1 -4.4 0 -1.1 0.3 -2.2 1.2 -2.4 1.7 -2 1.2 -1.1 1.7 -1.1 2.3 -1.1 4.6 -1 3.2 -0.1 7.3 0.2 3.1 -0.2 4.4 -1.1 3 -1.1 4.6 -2.2 1.9 -1.1 3 -2.2 2.1 -2.2 1.2 -2.2 0.3 -1.1 0.5 -4.5 0.4 -0.9zM93.4 79l-4.1 2.2 -3 2.3 -0.6 1.1 0.1 1.1 1.5 1.1 6.1 1.1 3.2 -0.8 2.1 -0.1 0.7 -0.2 1.8 -1.1 1.8 -2.2 -0.1 -1.6 -0.9 -1.7 -1.4 -1.1 -0.9 -0.4 -2.1 -0.4 -2.1 0.2zM113.3 144.9l-2.1 0.7 -3.1 0.4 -1 0.8 -1.1 0.4 -1 1.2 -0.3 1 0.1 2.2 1.2 1.5 1.1 0.9 3.1 0.7 1 0 3.2 -0.7 4.2 -1.9 2.1 -1.3 1.8 -1.4 0.9 -1.1 -0.2 -1.1 -2.5 -1.4 -4.6 -0.8z"/>
<path fill="#0000d0" fill-rule="evenodd" d="M123.5 51.7l0.3 -0.3 1.1 -0.3 1 0.3 1.1 0.7 5 6.1 9 9.9 3.9 5.5 2.3 4.4 2.7 6.6 2.2 4.4 2.9 4.4 4.9 6.6 2 3.3 1.2 2.2 1.2 3.3 0.6 2.2 0.3 2.2 0 3.2 -0.8 3.3 -1.3 3.3 -1.3 2.2 -2.7 3.3 -2.8 2.8 -4.2 3.3 -3.2 2 -5.2 3 -4.2 2.1 -7.3 2.9 -4.2 1 -3.1 0.1 -8.4 -1 -3.2 -0 -5.2 1.1 -1 0.7 -1.1 0.4 -1.3 1.4 -0.4 1.1 0 1.1 0.2 1.1 0.5 0.9 1 1.2 1.1 0.7 2.1 0.9 2 0.1 9.5 -2.1 2.1 -0.2 1 0.1 1.6 0.6 0.8 1.1 0.2 1.1 -0.2 1.1 -0.7 1.1 -1 1.1 -1.4 1.1 -2 1.1 -2.5 0.9 -3.2 0.8 -6.2 0.7 -3.2 0.6 -3.1 1 -3.2 1.4 -4.2 2 -3.9 2.5 -2.6 2.2 -1.1 1 -1.4 2.2 -1.4 3.6 -1.1 1.2 -1 0.1 -1.1 -0.4 -1 -0.8 -4.5 -5.9 -7.5 -8.7 -3.2 -4.4 -1.9 -3.3 -1.9 -4.4 -2 -5.5 -2 -4.4 -1.9 -3.3 -5 -7.7 -2.9 -5.5 -1.1 -3.3 -0.7 -4.4 0.1 -3.3 0.5 -3.2 1.2 -3.3 1.9 -3.3 2.5 -3.3 2.2 -2.3 4.2 -3.6 6.3 -4.2 6.8 -4.2 3 -2.2 1 -1.1 0.8 -2.2 0.5 -4.4 0.8 -2.2 1.2 -2.2 0.9 -1.1 1.7 -1.6 2.6 -1.7 2.7 -1.1 3.1 -0.3 7.3 -0.1 3.2 -0.3 4.2 -1.3 5.2 -2.3 4.2 -2.3 3.1 -2.2 1.3 -1.1 1.1 -1.1 1.5 -2.2 1.4 -3.3zM95.5 78l-3.1 1 -5.2 2.7 -2.2 1.8 -0.8 1.1 0.3 1.1 2.7 1.5 4.2 0.8 2 0.1 2.1 -0.2 1.1 -0.4 3.1 -0.6 1.9 -1.2 1 -1.1 0.7 -1.1 0 -1.1 -0.2 -1.1 -0.8 -1.1 -1.5 -1.5 -2.1 -0.8 -2.1 -0.2z"/>
<path fill="#0000ec" fill-rule="evenodd" d="M123.5 56l1.4 -0.8 1 -0.1 1.1 0.3 2 1.5 4.2 3.9 5.3 5.3 3.1 3.7 2.1 2.9 2.3 4.2 3.7 8.8 1.1 2.2 2 3.3 6.6 9 3.1 5.4 1.3 3.2 0.8 4.4 -0.1 3.2 -0.9 4.1 -1.1 2.4 -2 3.3 -2 2.3 -2.2 2.3 -4.2 3.3 -3.2 2 -7.3 3.7 -6.3 2.5 -5.2 1.5 -5.2 0.6 -8.4 -0.1 -3.2 0.1 -5.2 1.2 -2.1 1.1 -1.6 1.6 -0.4 1.1 -0.1 1.1 0.2 1.1 0.9 1.6 1 1.2 2.1 1.3 3.1 0.8 4.9 0.6 1 1.1 -0.4 1.1 -1.1 1.1 -2 1.1 -8.6 2.7 -5.3 2.2 -4.2 2.1 -4.1 2.4 -2.1 1.6 -2.6 2.1 -2.7 2.7 -1 0.5 -1.1 -0.1 -1 -0.4 -1.1 -0.8 -4.1 -4 -4.2 -4.4 -4.4 -5.5 -1.9 -3.1 -1.3 -2.4 -3.4 -8.8 -2 -4.4 -1.2 -2.2 -5.8 -8.8 -2 -3.7 -1.2 -2.9 -0.9 -2.8 -0.5 -3.8 0.1 -4.4 0.4 -1.8 0.8 -2.5 1.3 -2.7 2.1 -3.2 2.6 -2.9 3.5 -3.3 6.4 -4.6 5.3 -3.2 5.2 -2.8 3.1 -1.3 3.2 -0.7 2.1 0.2 4.2 1.1 3.1 0.5 2.1 0.2 2.1 -0.1 5.2 -1.1 2.1 -1.3 1.2 -1.2 0.5 -1.1 0.1 -1.1 -0.2 -1.1 -1.6 -2.1 -1 -0.9 -2.1 -1 -3.2 0 -8.3 2.7 -2.1 0.4 -1.2 -0.2 -1 -1.1 -0.2 -1.1 0.6 -2.2 1.2 -2.2 1.1 -1.1 1.5 -1.1 2.6 -1.1 2.7 -0.5 5.2 -0.3 4.2 -0.8 6.3 -2.4 4.2 -2 4.2 -2.5 3.3 -2.5z"/>
<path fill="#0008ff" fill-rule="evenodd" d="M124.5 58.2l1.4 -0.1 2.1 0.5 2.1 1.2 2.1 1.6 3.1 2.7 3.2 3.2 2.1 2.4 2.8 3.9 2.3 4.4 2.7 6.6 1.6 3.3 1.3 2.2 7.9 11 1.9 3.3 1.1 2.2 1.3 4.4 0.3 3.2 -0.2 3.3 -1.1 3.6 -2.2 4.1 -2.7 3.3 -2.3 2.2 -2.7 2.2 -2.6 1.8 -4.2 2.4 -4.2 2 -5.2 2 -6.3 1.7 -5.2 0.7 -12.6 0.8 -4.2 1.1 -2.1 1 -1.9 1.9 -0.5 1.1 -0.1 1.1 0.2 1.1 0.4 1.1 0.9 1.4 1 1.1 3.8 3 0.5 1.1 -0.4 1.1 -1.3 1.1 -1.9 1.1 -12.2 5.9 -9.4 5.6 -2.1 0.7 -1.1 0 -1 -0.2 -1.1 -0.5 -2.1 -1.3 -3.1 -2.7 -4.2 -4.4 -3.1 -4.2 -2 -3.3 -1.1 -2.2 -2.5 -6.6 -1.9 -4.4 -3.2 -5.5 -3.7 -5.5 -2.4 -4.2 -1.9 -4.6 -1 -4.4 -0 -4.4 0.9 -4.3 1.4 -3.3 1.7 -2.7 2.2 -2.8 2.1 -2.2 4 -3.3 3.1 -2.2 3.2 -2 5.3 -2.8 5.2 -2.3 3.1 -0.7 3.2 -0.2 8.4 0.8 3.1 0 5.2 -1.1 2.1 -1.2 1.6 -1.5 0.4 -1.1 0.1 -1.1 -0.1 -1.1 -0.6 -1.1 -1.4 -1.8 -2.1 -1.5 -2.1 -0.6 -2.1 -0.1 -5.2 0.9 -1.7 -0.2 -0.8 -1.1 0.2 -1.1 0.7 -1.1 1.2 -1.1 1.5 -0.6 1.5 -0.5 3.7 -0.5 3.1 -0.8 6.3 -2.3 7.3 -3.6 9.5 -5.4z"/>
<path fill="#0024ff" fill-rule="evenodd" d="M123.6 60.4l2.3 -0.1 2.1 0.4 2.1 1 2.1 1.3 3.1 2.6 2.1 2.1 2.4 2.6 2.3 3.3 1.9 3.3 3.3 7.7 1.6 3.3 2.1 3.3 7.1 9.9 2 3.3 1 2.2 1.1 3.3 0.4 2.2 0.2 2.1 -0.3 3.3 -0.9 3.3 -1 2.2 -1.3 2.2 -1.7 2.2 -2.4 2.5 -2.3 1.9 -3.1 2.2 -3 1.8 -4.1 2.1 -5.3 2.1 -5.2 1.4 -6.3 1.1 -13.6 1.6 -3.1 0.7 -3.2 1.4 -1.4 1 -0.9 1.1 -0.5 1.1 -0.2 1.1 0.1 1.1 0.8 2.1 3.1 4.5 0.2 1.1 -0.4 1.1 -0.9 1.1 -1.5 1.1 -3.8 2.2 -14.5 7.1 -3.1 0.8 -1.1 -0.1 -2.1 -0.5 -3.1 -1.9 -3.1 -2.7 -3.2 -3.3 -2.1 -2.8 -1.3 -2.1 -1.7 -3.3 -3.3 -8.3 -1.8 -3.8 -7 -11 -1.9 -3.3 -1.4 -3.3 -0.7 -2.2 -0.8 -4.4 0 -2.2 0.2 -2.2 0.5 -2.1 0.7 -2.2 1.1 -2.2 2 -3.3 1.8 -2.2 3.2 -3.1 3 -2.4 3.2 -2.2 4.2 -2.5 3.2 -1.6 4.2 -1.8 4.1 -1.1 4.2 -0.3 7.4 0.4 3.1 -0.1 5.2 -1.1 2.1 -1.1 1 -0.7 0.9 -1.1 0.5 -1.1 0.2 -1.1 -0.2 -1.1 -0.3 -1.1 -1 -1.7 -2.1 -2.2 -2.2 -1.6 -0.9 -1.1 0.8 -1.1 3.7 -2.2 16.4 -8 3.1 -1.3z"/>
<path fill="#0040ff" fill-rule="evenodd" d="M120.4 62.6l2.4 -0.6 3.1 -0.2 2.1 0.5 2.1 0.9 2.1 1.3 3.1 2.5 2.2 2.2 2.7 3.3 2.6 4.4 3.4 7.7 1.7 3.3 2 3.3 7.2 9.9 2 3.3 1 2.2 1.4 4.4 0.3 3.2 -0.3 3.3 -0.9 3.3 -1 2.2 -1.3 2.2 -1.8 2.2 -2.1 2.2 -2.6 2.2 -3.1 2.2 -6 3.2 -3.2 1.3 -5.2 1.5 -5.3 1.1 -14.6 2.2 -5.2 1.2 -3.2 1.3 -1.9 1.4 -0.9 1.1 -0.5 1.1 -0.2 1.1 0.4 2.3 2.4 5.4 0 1.1 -0.4 1.1 -0.9 1.1 -1.3 1.1 -3.6 2.2 -6.7 3.3 -4.2 1.9 -2.1 0.7 -2.1 0.4 -2.1 -0.1 -2.1 -0.5 -2.1 -1.1 -3.1 -2.3 -3.1 -3.2 -2.7 -3.5 -2.5 -4.4 -3.5 -8.8 -1.6 -3.3 -6.5 -10 -2.5 -4.3 -1.4 -3.3 -0.7 -2.2 -0.8 -4.4 0 -2.2 0.2 -2.2 0.5 -2.1 0.7 -2.2 1.7 -3.3 1.4 -2.2 1.8 -2.2 2.2 -2.2 2.6 -2.2 3.7 -2.7 3.2 -1.9 4.2 -2.2 5.2 -2 4.2 -0.9 3.1 -0.3 9.4 0 4.2 -0.6 3.2 -1.1 2.1 -1.2 1.2 -1.4 0.6 -1.1 0.2 -1.1 -0.1 -1.1 -0.9 -2.4 -2.6 -4.2 -0.2 -1.1 0.5 -1.1 1.1 -1.1 1.6 -1.1 3.9 -2.2 7.2 -3.4z"/>
<path fill="#005cff" fill-rule="evenodd" d="M120.2 63.7l2.6 -0.5 2.1 -0.1 2.1 0.3 3.1 1.2 2.2 1.3 3 2.5 2.1 2.2 2.1 2.7 2.2 3.6 3.4 7.7 1.7 3.3 2.1 3.3 7.2 9.9 2 3.3 1 2.2 1.4 4.4 0.3 3.2 -0.3 3.3 -0.9 3.3 -1 2.2 -1.4 2.2 -1.7 2.2 -2.1 2.2 -4.5 3.5 -3.4 2 -2.3 1.1 -2.6 1.1 -5.3 1.6 -5.2 1.1 -10.5 1.7 -6.3 1.3 -5.2 1.5 -2.1 1 -2.4 1.7 -0.9 1.1 -0.5 1.1 -0.2 1.1 0.2 2.2 1.4 4.4 0.2 1.1 -0.1 1.1 -0.5 1.1 -0.9 1.1 -1.2 1.1 -3.5 2.2 -4.4 2.2 -5 2 -2.1 0.6 -2.1 0.2 -2.1 -0.1 -2.1 -0.6 -2.1 -1.1 -3.1 -2.3 -2.1 -2.1 -2.6 -3.2 -2.6 -4.7 -3 -7.4 -1.6 -3.3 -1.9 -3.3 -5.8 -8.8 -2.4 -4.3 -1.6 -4.5 -0.8 -4.4 0 -2.2 0.2 -2.2 0.5 -2.1 0.7 -2.2 1 -2.2 2.1 -3.3 1.9 -2.2 2.1 -2.2 2.7 -2.2 3 -2.2 6 -3.4 5 -2.1 4 -1.1 3.6 -0.5 9.4 -0.4 4.2 -0.5 2.1 -0.4 2.1 -0.8 2.1 -1.2 1.7 -1.7 0.6 -1.1 0.2 -1.1 -0.3 -2.2 -1.8 -4.4 -0.3 -1.1 0.1 -1.1 0.5 -1.1 1 -1.1 1.4 -1.1 3.8 -2.2 4.6 -2.2z"/>
<path fill="#0078ff" fill-rule="evenodd" d="M119.9 64.8l2.9 -0.5 2.1 0 2.1 0.4 2 0.8 2.8 1.5 2.5 2 2.1 2.1 2.1 2.6 2.1 3.5 3.3 7.4 1.7 3.3 3 4.4 6.4 8.8 1.4 2.2 1.6 3.3 1.4 4.3 0.3 3.3 -0.2 3.3 -1 3.3 -1 2.2 -1.2 2.1 -2.9 3.4 -2.5 2.2 -3 2.2 -4.2 2.2 -5.2 2 -5.3 1.5 -5.2 1.1 -9.4 1.6 -5.3 1.2 -5.2 1.6 -3.1 1.5 -2 1.6 -0.9 1.1 -0.5 1.1 -0.3 2.2 0.9 4.4 0.2 2.2 -0.6 1.7 -1.1 1.6 -1.3 1.1 -3.5 2.2 -4.8 2.2 -2.9 1 -2.1 0.4 -2.1 0.2 -2.1 -0.2 -2.1 -0.7 -3.1 -1.7 -2.1 -1.8 -2.1 -2.2 -2.1 -2.7 -2.1 -3.8 -2.9 -7.2 -1.6 -3.3 -2 -3.3 -6 -9.1 -2.1 -3.8 -1.1 -2.5 -0.7 -2.2 -0.5 -2.2 -0.3 -2.2 0.2 -4.4 1.2 -4.3 1.1 -2.2 1.3 -2.2 1.7 -2.2 2 -2.2 2.4 -2.2 2.9 -2.2 5.5 -3.3 5 -2.2 3.6 -1.1 5 -1 10.4 -0.7 4.2 -0.7 2.1 -0.6 2.1 -0.8 1.1 -0.7 1.3 -1 1 -1.1 0.5 -1.1 0.2 -1.1 -0.1 -2.2 -0.9 -3.3 -0.4 -2.2 0.2 -1.1 0.6 -1.1 1 -1.1 1.4 -1.1 3.8 -2.2 5 -2.2z"/>
<path fill="#0094ff" fill-rule="evenodd" d="M120.5 65.9l2.3 -0.2 2.1 0.1 2.1 0.5 2 0.8 2.1 1.2 2.6 2 1.6 1.7 2.2 2.7 2 3.5 3 6.4 1.7 3.3 2.2 3.3 6.7 8.9 3.2 5.4 1.3 3.3 0.8 4.4 0 3.4 -1.1 4.2 -1 2.2 -1.1 1.6 -1.2 1.7 -2.1 2.2 -4.2 3.3 -4 2.2 -5.2 2.2 -5.3 1.6 -5.2 1.2 -9.4 1.7 -6.3 1.6 -5.2 1.8 -2.1 1 -1.6 1 -1.3 1.1 -0.8 1.1 -0.8 2.2 -0.1 2.2 0.4 4.4 -0.6 2.2 -0.6 1.1 -0.9 1.1 -3 2.2 -4.7 2.2 -3.8 1.1 -2.1 0.2 -2.1 -0.1 -3.2 -1 -2.1 -1.1 -2 -1.6 -2.1 -2.1 -2.1 -2.8 -2.1 -3.8 -2.7 -6.4 -2.3 -4.4 -6.5 -9.8 -3.2 -5.5 -1 -2.5 -0.9 -3.1 -0.5 -3.3 0.2 -4.4 1.2 -4.3 1 -2.3 2.1 -3.2 3 -3.3 2.5 -2.2 2.9 -2.2 5.2 -2.9 5.3 -2.1 4.1 -1.2 5.3 -0.9 9.4 -1 5.2 -1.1 2.1 -0.8 2.1 -1.2 2 -2 0.6 -1.1 0.3 -1.1 -0 -2.2 -0.7 -4.4 0.2 -1.1 0.3 -1.1 0.7 -1.1 1.1 -1.1 3.2 -2.2 4.9 -2.2z"/>
<path fill="#00afff" fill-rule="evenodd" d="M118.9 68.1l2.8 -0.4 2.1 0.1 2.1 0.4 2.1 0.8 2.1 1.1 2.1 1.6 1.8 1.9 1.7 2.2 1.7 2.9 2.9 5.9 1.9 3.3 2.2 3.3 6.7 8.8 2.2 3.3 1.6 3.3 1.1 3.3 0.5 2.2 0.1 2.1 -0.3 3.3 -0.9 3.3 -1.1 2.2 -1.4 2.2 -3 3.3 -4.1 3.2 -4.3 2.3 -4.1 1.7 -5.2 1.6 -14.7 3 -5.2 1.4 -6.2 2.2 -3.2 1.8 -1.8 1.5 -0.9 1.1 -0.5 1.1 -0.6 2.2 -0.3 5.5 -0.9 2.2 -1.3 1.5 -2.4 1.8 -3.9 1.7 -3.1 0.7 -3.2 0.1 -3.1 -0.8 -2.1 -1.1 -2.1 -1.6 -1.2 -1.2 -1.9 -2.4 -1.9 -3.1 -3 -6.6 -1.8 -3.3 -2 -3.3 -6.1 -8.8 -2.5 -4.4 -1.6 -4.4 -0.8 -4.4 0 -2.2 0.2 -2.2 0.5 -2.1 0.7 -2.2 1.1 -2.2 1.3 -2.2 1.7 -2.2 2.1 -2.2 4.1 -3.3 2.7 -1.8 2.8 -1.5 4.6 -1.9 5.2 -1.5 4.2 -0.8 10.4 -1.4 3.2 -0.7 3.1 -1 2.8 -1.5 1.4 -1.1 0.9 -1.1 0.6 -1.1 0.6 -2.2 0.2 -5.5 0.9 -2.2 0.9 -1.1 1.1 -1 1.9 -1.2 2.3 -1.1z"/>
<path fill="#00cbff" fill-rule="evenodd" d="M118.2 70.3l2.5 -0.4 2.1 0 2.1 0.3 2.1 0.8 2 1.2 1.9 1.4 2.8 3.3 6.3 11 9.3 12.1 2.1 3.3 1.2 2.2 1.6 4.4 0.5 3.3 0.1 2.1 -0.3 2.2 -1 3.3 -1.7 3.3 -2.6 3.3 -2.5 2.2 -4 2.8 -4.2 2 -5 1.8 -5.5 1.4 -9.4 1.9 -4.2 1 -5.2 1.7 -4.4 1.7 -2.1 1.1 -1.6 1.1 -2.1 2.2 -1 2.2 -0.8 4.4 -0.6 2.2 -1.1 1.7 -1.5 1.6 -2.6 1.5 -3.2 0.9 -3.1 0.2 -3.2 -0.8 -1.5 -0.7 -1.7 -1.1 -2 -1.9 -1.1 -1.4 -2 -3.2 -4.7 -8.9 -7.7 -11 -3.2 -5.5 -1.7 -4.4 -0.7 -4.4 -0.1 -2.2 0.3 -2.2 0.4 -2.1 0.8 -2.2 1 -2.2 1.4 -2.2 1.7 -2.2 2.2 -2.2 4.1 -3.3 5.1 -3 4.2 -1.7 5.2 -1.5 13.6 -2.3 4.2 -0.9 3.2 -1.1 3 -1.6 1.3 -1.1 1.6 -2.2 0.8 -2.2 0.6 -4.4 1 -2.3 1.1 -1.2 2.1 -1.6 2.1 -0.9z"/>
<path fill="#00e7ff" fill-rule="evenodd" d="M118.5 72.5l3.2 -0.3 3.2 0.6 2.1 0.9 2.7 2.1 2.5 3 5.7 9.1 7.9 9.9 2.4 3.3 2 3.3 1.1 2.2 1.4 4.4 0.3 3.2 -0.1 2.2 -0.4 2.2 -0.7 2.2 -1.8 3.3 -2.6 3.3 -2.5 2.2 -3.3 2.3 -4.3 2.1 -4.1 1.6 -5.2 1.4 -13.6 3 -6.3 2 -4.6 1.9 -3.6 2.2 -2.2 2.2 -1.2 2.2 -1.9 5.5 -1.2 1.7 -1 1 -2.1 1.2 -2.1 0.6 -3.1 0.1 -2.1 -0.6 -1.6 -0.7 -1.6 -1.1 -1.2 -1.1 -1.8 -2.2 -5.9 -9.9 -8 -11 -3.3 -5.5 -1.7 -4.4 -0.8 -4.4 -0 -2.2 0.2 -2.2 0.5 -2.1 0.8 -2.2 1 -2.2 1.4 -2.2 2.8 -3.3 3.8 -3.3 2.8 -1.9 2.6 -1.4 4.7 -2.1 4.2 -1.2 4.2 -0.9 10.5 -1.8 4.2 -1 3.1 -1.1 3.3 -1.8 1.3 -1.1 1.8 -2.2 0.9 -2.2 1.1 -3.5 1 -2 1 -1.1 1.1 -0.8 1.1 -0.6z"/>
<path fill="#04fffb" fill-rule="evenodd" d="M117.5 75.8l2.1 -0.7 2.1 -0.2 1.1 0.2 2.3 0.7 1.8 1.1 1.1 1 2.1 2.3 5.6 7.7 10 12.1 1.5 2.2 1.9 3.3 1.3 3.3 0.6 2.2 0.3 3.2 -0.1 2.2 -0.4 2.2 -0.7 2.2 -1.8 3.3 -2.7 3.3 -2.5 2.2 -3.6 2.4 -4.2 2 -4.2 1.5 -4.1 1.1 -12.6 2.9 -6.9 2.2 -4.6 1.8 -2.8 1.5 -2.9 2.2 -1.9 2.2 -2.9 5.5 -1 1.2 -1.1 0.8 -1 0.5 -2.1 0.5 -2.1 -0.1 -2.1 -0.7 -2.1 -1.4 -2.1 -2.2 -5.8 -8.5 -8.5 -11 -2.2 -3.3 -1.2 -2.2 -1.7 -4.4 -0.8 -4.4 -0 -2.2 0.2 -2.2 0.5 -2.1 0.8 -2.2 1.1 -2.2 1.4 -2.2 2.8 -3.3 4 -3.4 2.1 -1.4 3.1 -1.7 4.2 -1.7 4.2 -1.3 14.6 -2.8 3.7 -0.9 3.7 -1.3 3.1 -1.7 2 -1.4 1 -1.1 1.6 -2.2 2.4 -4.4 0.9 -1.1z"/>
<path fill="#20ffdf" fill-rule="evenodd" d="M118.5 79.1l2.2 -0.7 2.1 0.1 2.1 0.8 2.1 1.5 2 2.1 11.6 12.8 4.2 5.4 2.1 3.3 1.1 2.2 1.1 3.3 0.5 2.2 0.1 3.2 -0.3 2.2 -0.5 2.2 -0.9 2.2 -2.1 3.3 -2.2 2.5 -3.8 3 -3.5 2 -3.1 1.3 -3.2 1.1 -15.7 3.9 -6.3 1.9 -5.1 1.9 -3.3 1.6 -2.8 1.7 -2.6 2.2 -2.9 3.4 -2.1 1.9 -2.1 0.8 -1.1 0.1 -2.1 -0.5 -2.1 -1.3 -2.1 -2 -10.4 -12.4 -4.2 -5.4 -2.6 -4.4 -1.4 -3.3 -0.6 -2.2 -0.4 -2.2 -0.2 -2.2 0.1 -2.2 0.4 -2.2 0.6 -2.1 1 -2.2 2 -3.3 2.8 -3.3 4 -3.3 3.6 -2.2 4.3 -1.9 4.2 -1.4 4.8 -1.1 11.9 -2.4 3.5 -0.9 3 -1.1 2.3 -1.1 3.3 -2.2 2.3 -2.2 2.4 -2.7z"/>
<path fill="#3cffc3" fill-rule="evenodd" d="M119.9 82.4l1.8 -0.2 2.1 0.4 2.1 1.1 2.1 1.5 4.2 3.8 5.2 5.2 4.1 4.7 2.5 3.3 1.9 3.3 1 2.2 0.7 2.2 0.5 3.3 0 3.2 -0.4 2.2 -0.8 2.2 -1.1 2.2 -2.4 3.3 -2.2 2.2 -3.8 2.7 -4.2 2.1 -6.2 2.1 -13.7 3.3 -10.4 3.5 -6.1 2.8 -6.5 4.3 -2.1 1 -2.1 0.3 -2.1 -0.4 -1 -0.5 -2.1 -1.5 -3.2 -2.8 -7.3 -7.8 -4.2 -5.4 -2.7 -4.8 -1.2 -3.3 -0.5 -2.2 -0.3 -2.2 0 -2.2 0.2 -2.2 0.5 -2.1 0.8 -2.2 1.1 -2.2 2.3 -3.3 3.2 -3.3 2.9 -2.2 4.2 -2.4 4.2 -1.7 4.2 -1.3 14.6 -3 5.3 -1.5 5.3 -2.2 7.2 -4.5z"/>
<path fill="#57ffa8" fill-rule="evenodd" d="M117.8 85.7l2.9 -0.6 2.1 0.2 2.1 0.6 2.1 1.2 3.1 2.2 4.2 3.7 4.2 4.2 3.1 3.9 1.5 2.2 1.8 3.3 1.2 3.3 0.4 2.2 0.2 3.2 -0.3 2.2 -1 3.3 -1.1 2.2 -2.4 3.3 -3.8 3.3 -3.6 2.2 -4.4 2 -4.3 1.3 -11.4 2.8 -8.6 2.7 -6.1 2.2 -8.3 3.8 -2.1 0.7 -2.1 0.4 -1.1 -0 -2.1 -0.4 -2.1 -1 -2.1 -1.4 -3.1 -2.6 -5.2 -5.3 -4.1 -5.2 -2.5 -4.4 -1.2 -3.3 -0.6 -2.2 -0.3 -2.2 0 -2.2 0.2 -2.2 0.5 -2.1 0.8 -2.2 1.2 -2.2 2.3 -3.3 3.3 -3.3 3.5 -2.5 4.2 -2.2 3.1 -1.2 4.2 -1.3 13.6 -2.9 5.3 -1.3 5 -1.8z"/>
<path fill="#73ff8c" fill-rule="evenodd" d="M116 87.9l2.6 -0.6 3.1 -0.1 2.1 0.5 3.2 1.4 3.1 2.1 4.2 3.5 3.1 3.2 2.7 3.2 2.2 3.3 1.1 2.2 0.9 2.2 0.8 3.3 0.1 3.2 -0.2 2.2 -1 3.3 -1.1 2.2 -2.5 3.3 -1.9 1.8 -1.9 1.5 -3.8 2.2 -5.5 2.2 -16.1 4.3 -9.4 3 -8.4 3.1 -3.1 0.9 -3.1 0.4 -2.1 -0.3 -2.1 -0.7 -2.1 -1.1 -4.2 -3.1 -3.1 -3 -2.1 -2.3 -3.4 -4.5 -2.3 -4.4 -1.3 -4.4 -0.3 -2.2 -0.1 -2.2 0.3 -2.2 0.5 -2.1 0.8 -2.2 1.1 -2.2 2.4 -3.3 3.3 -3.3 3.2 -2.2 4.3 -2.2 3 -1.2 4.2 -1.2 17.8 -4z"/>
<path fill="#8fff70" fill-rule="evenodd" d="M116.9 89l2.7 -0.2 3.2 0.3 2.1 0.7 3.1 1.6 3.1 2.2 3.5 3.1 3.1 3.3 2.4 3.3 1.9 3.3 0.9 2.2 0.6 2.2 0.4 3.2 -0.3 3.3 -0.6 2.2 -1 2.2 -1.3 2.2 -1.8 2.2 -2.5 2.3 -3.2 2.1 -4.2 2 -4.1 1.5 -11.6 3 -19.9 6.1 -4.1 0.7 -3.2 -0.1 -3.1 -0.9 -2.1 -1.1 -2.1 -1.4 -4.2 -3.6 -2.1 -2.2 -2.2 -2.9 -2.7 -4.4 -1.6 -4.4 -0.4 -2.2 -0.2 -2.2 0.1 -2.2 0.4 -2.2 0.6 -2.1 1 -2.2 2.1 -3.3 2.9 -3.1 3.1 -2.4 3.8 -2.2 3.6 -1.6 6.3 -1.8 13.6 -3 11.5 -3z"/>
<path fill="#abff54" fill-rule="evenodd" d="M111.1 91.2l4.3 -0.9 3.2 -0.2 3.1 0.3 2.1 0.5 2.1 0.9 3.1 1.8 3.2 2.4 3.1 3.1 2.6 3.1 2.1 3.3 1.1 2.2 1 3.3 0.4 3.2 -0.3 3.3 -1 3.3 -1.2 2.2 -2.5 3.3 -2.2 1.9 -1.9 1.4 -4 2.2 -6.1 2.2 -10 2.7 -14.6 4.3 -6.3 1.4 -3.1 0.3 -3.2 -0.2 -2.1 -0.6 -3.1 -1.5 -4.2 -3.1 -3.3 -3.3 -3.3 -4.4 -2.1 -4.4 -0.7 -2.2 -0.5 -2.2 -0.2 -2.2 0.1 -2.2 0.4 -2.2 0.7 -2.1 1.6 -3.3 2.5 -3.3 2.7 -2.6 3.1 -2.2 4.2 -2.2 4.2 -1.5 4.2 -1.2z"/>
<path fill="#c7ff38" fill-rule="evenodd" d="M109.7 92.3l4.7 -0.8 3.1 -0.3 3.2 0.3 2.1 0.5 3.1 1.2 3.1 1.9 3.2 2.5 2.1 2 2.2 2.6 2.1 3.3 1.5 3.3 0.9 3.3 0.1 3.2 -0.2 2.2 -1.1 3.3 -1.1 2.2 -1.7 2.2 -2.7 2.7 -2.4 1.7 -3.9 2.1 -5.2 1.8 -17.8 5.1 -9.5 2.3 -5.2 0.7 -3.1 -0.2 -2.1 -0.5 -2.1 -0.8 -2.1 -1.1 -3.7 -2.8 -3.6 -3.7 -2.8 -4 -1.1 -2.2 -0.9 -2.2 -0.6 -2.2 -0.3 -2.2 0.1 -3.3 0.3 -2.2 0.7 -2.1 1.7 -3.3 2.5 -3.3 2.4 -2.2 3.2 -2.3 4.1 -2.1 3.2 -1.2 5.3 -1.5z"/>
<path fill="#e3ff1c" fill-rule="evenodd" d="M107.7 93.4l4.6 -0.8 3.1 -0.3 3.2 0.1 3.1 0.5 3.2 1.1 2.1 1.1 2.3 1.6 2.9 2.4 2.1 2.2 2.3 3.1 1.8 3.3 1 3.3 0.4 3.2 -0.1 2.2 -0.8 3.3 -0.9 2.2 -1.4 2.2 -2 2.2 -3.5 2.8 -2.8 1.6 -2.5 1.1 -6.7 2.2 -16.2 4.5 -5.3 1.2 -4.2 0.7 -3.1 0.1 -3.1 -0.3 -3.2 -0.9 -2.1 -1.1 -3.1 -2.1 -3.4 -3.2 -2.9 -3.7 -2 -4 -0.8 -2.2 -0.4 -2.2 -0.2 -3.3 0.2 -2.2 0.6 -2.1 1.4 -3.3 2.3 -3.3 2.1 -2.2 3.1 -2.4 4.2 -2.3 4.2 -1.7 4.6 -1.3z"/>
<path fill="#feff01" fill-rule="evenodd" d="M112.9 93.4l3.6 -0.1 3.1 0.3 2.1 0.4 3.2 1.3 2.5 1.4 2.7 2 2.5 2.4 1.8 2.2 1.5 2.2 1.6 3.3 0.6 2.2 0.5 3.2 -0.3 3.3 -0.7 2.2 -1 2.2 -1.4 2.2 -2 2.2 -2.7 2.2 -2.5 1.5 -4 1.8 -14.8 4.5 -5.3 1.4 -5.2 1.1 -6.3 0.8 -3.1 -0.1 -2.1 -0.4 -2.1 -0.6 -2.1 -1 -2.1 -1.2 -2.1 -1.6 -3 -2.9 -2.4 -3.3 -1.7 -3.3 -0.8 -2.2 -0.4 -2.2 -0.2 -2.2 0.1 -2.2 0.7 -3.2 1.4 -3.3 2.1 -3 2.5 -2.5 2.9 -2.2 4 -2.2 3.2 -1.3 4.2 -1.3 6.2 -1.4 9.5 -1.8z"/>
<path fill="#ffe400" fill-rule="evenodd" d="M109.9 94.5l3.4 -0.3 3.2 0 2.4 0.3 2.8 0.7 3.2 1.3 2.2 1.3 2.8 2.2 2.2 2.2 2.2 2.9 1.4 2.6 1.2 3.3 0.3 2.2 -0 3.2 -0.5 2.2 -0.8 2.2 -1.2 2.2 -1.8 2.2 -2.4 2.2 -1.5 1.1 -4.1 2.1 -7 2.3 -15.1 4.4 -7.3 1.2 -3.1 0.2 -2.1 -0.1 -3.1 -0.6 -2.1 -0.7 -2.1 -1 -2.1 -1.3 -3.6 -3.2 -2.6 -3.3 -1.8 -3.3 -1 -3.3 -0.5 -3.3 0.3 -3.3 1 -3.2 1.7 -3.3 2.8 -3.3 2.7 -2.2 3.6 -2.2 2.6 -1.2 6.3 -2.1 4.7 -1.1 6.8 -1.3z"/>
<path fill="#ffc800" fill-rule="evenodd" d="M107.8 95.6l4.5 -0.4 3.1 0 3.2 0.4 2.1 0.5 2.1 0.7 2.1 1 3.1 2.2 2.1 1.9 2.1 2.4 1.4 2.3 1.5 3.3 0.5 2.2 0.2 3.2 -0.3 2.2 -0.6 2.2 -1.1 2.2 -1.6 2.2 -2.3 2.2 -1.9 1.4 -3.1 1.8 -6.3 2.3 -13.6 4.1 -7.1 1.4 -5.5 0.3 -4.2 -0.5 -2.7 -0.9 -2.5 -1.3 -3.2 -2.3 -2.8 -3 -2.1 -3.3 -1.3 -3.1 -0.8 -3.5 0.1 -3.3 0.7 -3.2 1.6 -3.3 1.5 -2.2 3.1 -3.1 3.2 -2.1 2.6 -1.4 4.7 -1.8 5.2 -1.5 5.3 -1.1z"/>
<path fill="#ffac00" fill-rule="evenodd" d="M107.7 96.7l3.5 -0.3 3.2 0.1 3.1 0.3 2.1 0.6 3.2 1.2 2.1 1.1 2.1 1.5 2 2 1.9 2.3 1.3 2.2 0.9 2.2 0.6 2.2 0.2 3.2 -0.3 2.2 -0.7 2.2 -1.1 2.2 -1.7 2.2 -1.1 1.1 -2.8 2.2 -2.4 1.3 -3.1 1.4 -5 1.7 -7.2 2.2 -4.6 1.2 -6.3 1 -3.1 0.2 -2.9 -0.2 -2.3 -0.4 -2.1 -0.6 -2.1 -0.9 -2.1 -1.3 -2.8 -2.3 -2.5 -2.8 -1.5 -2.7 -1.2 -3.3 -0.4 -3.3 0.2 -3.3 1.1 -3.2 1.1 -2.2 1.8 -2.4 3.1 -2.8 3.2 -2 3.1 -1.5 3.3 -1.2 5.1 -1.4 5.2 -1.1z"/>
<path fill="#ff9000" fill-rule="evenodd" d="M108.5 97.8l5.9 0 3.1 0.6 2.1 0.6 2.4 1 2.9 1.7 1.8 1.6 2 2.2 1.4 2.2 1 2.2 0.6 2.2 0.3 2.1 -0.1 2.2 -0.5 2.2 -1 2.2 -1.4 2.2 -2 2.1 -1.6 1.2 -1.7 1.1 -3 1.6 -8 2.8 -5.6 1.6 -4.2 1 -6.3 0.7 -3.2 -0.1 -2 -0.3 -2.1 -0.5 -2.1 -0.7 -2.1 -1.1 -2.1 -1.4 -2.6 -2.5 -1.6 -2.2 -1.6 -3.3 -0.7 -3.3 -0 -3.3 0.4 -2.2 1.4 -3.2 1.5 -2.2 2 -2.2 2.9 -2.2 2.5 -1.4 3.1 -1.4 4.2 -1.4 4.2 -1 5.2 -0.9z"/>
<path fill="#ff7400" fill-rule="evenodd" d="M100.3 100l3.6 -0.6 4.2 -0.4 3.1 0 3.2 0.3 3.1 0.7 3 1.1 2.3 1.3 2.1 1.6 2.1 2.3 1.5 2.5 0.9 2.2 0.5 2.2 0 3.2 -0.6 2.2 -1 2.2 -1.5 2.2 -1.9 1.9 -1.9 1.4 -4.2 2.2 -4.4 1.7 -5.2 1.6 -6.3 1.5 -5.3 0.5 -3.1 -0.1 -2.1 -0.3 -2.1 -0.5 -2.1 -0.7 -2.1 -1.1 -2.1 -1.5 -2.2 -2.2 -1.6 -2.2 -1 -2.2 -0.6 -2.2 -0.3 -2.2 0.1 -2.2 0.4 -2.2 1 -2.4 1.2 -1.9 1.9 -2.2 2.2 -1.9 2.2 -1.4 5.1 -2.3 3.1 -1z"/>
<path fill="#ff5900" fill-rule="evenodd" d="M101.1 101.1l3.9 -0.5 3.1 -0.2 3.1 0 3.2 0.4 3.1 0.9 2.1 0.9 2.1 1.2 2 1.7 1.9 2.2 1.2 2.2 0.8 2.2 0.3 2.1 -0.1 2.2 -0.6 2.2 -1.1 2.2 -1.6 2.2 -1.7 1.6 -2.1 1.5 -2.5 1.3 -2.5 1.1 -6.6 2.2 -4.1 1 -3.2 0.5 -5.2 0.2 -3.2 -0.3 -2 -0.5 -2.1 -0.8 -2.1 -1.1 -2.9 -2.3 -1.3 -1.5 -1.2 -1.8 -0.9 -2.2 -0.5 -2.2 -0.1 -2.2 0.2 -2.2 0.7 -2.1 1.2 -2.2 1.6 -2.1 1.3 -1.2 1.9 -1.5 2.1 -1.3 2.1 -1 3.1 -1.2 3.1 -0.9z"/>
<path fill="#ff3d00" fill-rule="evenodd" d="M102.7 102.2l5.4 -0.4 3.1 0.2 2.1 0.3 2.1 0.5 2.1 0.8 3.2 1.9 1.2 1.1 1.9 2.2 1.1 2 0.4 1.3 0.4 3.2 -0.4 2.2 -0.4 1.4 -1.1 1.9 -0.8 1.1 -1.3 1.4 -2.1 1.6 -2.4 1.4 -2.3 1.1 -4.7 1.7 -6.3 1.5 -5.2 0.4 -4.2 -0.4 -2.1 -0.5 -2.1 -0.8 -2.1 -1.1 -2.3 -1.9 -1.7 -2.2 -1.1 -2.2 -0.6 -2.2 -0.1 -2.2 0.3 -2.2 0.7 -2.1 1.3 -2.2 1.4 -1.7 1.8 -1.6 2.4 -1.6 3.1 -1.5 3.2 -1.1z"/>
<path fill="#ff2100" fill-rule="evenodd" d="M99.1 104.4l5.9 -0.9 5.2 0 4.2 0.9 2.5 1.1 1.7 1.1 1.4 1.1 1.7 2.1 0.6 1.2 0.8 2.2 0.1 2.1 -0.3 2.2 -0.9 2.2 -0.8 1.1 -2 2.2 -1.5 1.1 -2.3 1.4 -4.5 1.9 -3.8 1.1 -2.1 0.4 -5.3 0.5 -4.2 -0.4 -3.1 -0.9 -1.5 -0.7 -1.8 -1.1 -1.9 -1.8 -1.1 -1.5 -1 -2.2 -0.3 -1.1 -0.1 -1.1 -0 -2.2 0.4 -1.5 0.7 -1.7 1.4 -2.2 1 -1.1 2.8 -2.2 3.5 -1.9z"/>
<path fill="#ff0500" fill-rule="evenodd" d="M102.3 105.5l3.7 -0.3 4.2 0.2 3.9 1.2 2.4 1.3 2.1 2 1 1.5 0.7 1.8 0.2 1 -0 2.2 -0.7 2.2 -1.5 2.2 -2.4 2.2 -3.6 2.1 -3.3 1.2 -4 1 -4.2 0.3 -4.2 -0.3 -3 -1 -2.1 -1.1 -1.4 -1.1 -1 -1.1 -1.3 -2.2 -0.3 -1.1 -0.3 -2.2 0.1 -1.1 0.6 -2.2 1.3 -2.1 0.9 -1.1 2.8 -2.2 2 -1.1 2.7 -1.1z"/>
<path fill="#e80000" fill-rule="evenodd" d="M101.5 107.7l4.5 -0.4 3.7 0.4 3.1 1.1 1.6 0.9 1 1 1.1 1.4 0.5 1.1 0.4 2.1 -0.1 1.1 -0.8 2.2 -1.7 2.2 -2.5 1.9 -3 1.4 -3.3 1 -3.1 0.4 -3.2 -0 -3.1 -0.7 -2.1 -0.8 -2.1 -1.6 -1.2 -1.6 -0.9 -2.2 -0 -2.2 0.3 -1.1 0.8 -1.6 1.2 -1.6 1.2 -1.1 1.6 -1.1 2.3 -1.1z"/>
<path fill="#cd0000" fill-rule="evenodd" d="M99.7 111l3.2 -0.9 2.1 -0.1 2.1 0.1 2.8 0.9 1.7 1.1 1 1.1 0.5 1 0.2 1.2 0 1 -0.4 1.1 -0.6 1.1 -1.1 1.2 -1.4 1 -2.7 1.3 -3.2 0.7 -2.1 0 -2.1 -0.2 -2.1 -0.7 -1.6 -1.1 -1 -1.1 -0.5 -1.1 -0.3 -1.1 0.1 -1.1 0.3 -1.1 0.6 -1.1 0.9 -1 1.4 -1.1z"/>
</g>
<path d="M1266.8 67.85h3.5M1487.1 67.85h-3.5M1266.8 127.7h3.5M1487.1 127.7h-3.5M1266.8 187.55h3.5M1487.1 187.55h-3.5M1376.95 8v3.5M1376.95 247.4v-3.5" stroke="#1a1a3a" stroke-width="1.6" fill="none" opacity="0.7"/>
<path d="M1354.92 8V247.4M1387.97 8V247.4M1266.8 91.79H1487.1M1266.8 163.61H1487.1" stroke="#fff" stroke-width="2.1" stroke-dasharray="21 13.2" fill="none"/>
</g>
<text x="1254.6" y="21.3" text-anchor="end" fill="#262626">-1</text>
<text x="1254.6" y="81.15" text-anchor="end" fill="#262626">-0.5</text>
<text x="1254.6" y="141" text-anchor="end" fill="#262626">0</text>
<text x="1254.6" y="200.85" text-anchor="end" fill="#262626">0.5</text>
<text x="1254.6" y="260.7" text-anchor="end" fill="#262626">1</text>
<text x="1266.8" y="289.2" text-anchor="middle" fill="#262626">1.45</text>
<text x="1376.95" y="289.2" text-anchor="middle" fill="#262626">1.55</text>
<text x="1487.1" y="289.2" text-anchor="middle" fill="#262626">1.65</text>
<text x="1375.15" y="322.6" text-anchor="middle" fill="#262626">Wavelength (<tspan font-style="italic" font-size="34px" dx="2.5">μ</tspan><tspan dx="2.5">m)</tspan></text>
<text transform="translate(1192.1 127.7) rotate(-90)" text-anchor="middle" fill="#262626">Time (ps)</text>
</g>
<g>
<rect x="1654.4" y="8" width="220.3" height="239.4" fill="#00008f" stroke="#262626" stroke-width="2"/>
<g clip-path="url(#c04)">
<rect x="1654.4" y="8" width="220.3" height="239.4" fill="#00008f"/>
<g filter="url(#b)" transform="translate(1654.4 8)">
<path fill="#0000b4" fill-rule="evenodd" d="M119.3 45.1l2.5 -0.8 2 -0 1 0.2 2 0.9 2.2 1.9 0.8 1.1 1.3 2.2 2.6 6.1 2 3.6 6.5 8.9 2 3.3 1.8 3.3 3.6 9.2 1.9 4 2.1 3.5 5.6 8.6 1.8 3.3 1 2.2 1 3.3 0.3 2.2 0.1 3.2 -0.5 3.3 -1.1 3.3 -1.8 3.3 -2.6 3.3 -3.8 3.8 -3 2.3 -5 3.3 -12.8 7.1 -1.6 1.1 -0.9 1.1 0.1 1.1 1.4 2.2 0.9 1.8 0.4 2.6 -0.4 2.1 -0.5 1.2 -1.8 2.2 -2.7 1.9 -2.9 1.4 -5 0.9 -8.9 0.2 -5 0.9 -3.6 1.3 -4.3 2.1 -3.1 2.3 -1.2 1.1 -0.9 1.1 -0.8 1.4 -0.6 1.8 -0.1 1.1 0.4 5.5 -0.2 1.1 -0.5 1.1 -0.9 1.1 -1.1 0.9 -2 0.8 -2 0.2 -1.9 -0.3 -2 -1 -1 -0.9 -1 -1 -1.3 -2 -3.7 -8.8 -1.9 -3.2 -4.5 -6.6 -3.1 -5.5 -1.9 -4.4 -1.5 -4.5 -2 -5.2 -2 -3.9 -4.3 -7.3 -2.3 -4.4 -1.6 -4.4 -0.8 -4.4 -0.2 -3.3 0.7 -4.3 1.2 -3.3 1.8 -3.3 2.6 -3.3 2.9 -3.1 2 -1.8 3 -2.3 3 -2.1 8 -5 2.5 -2.2 0.5 -1.1 -0 -1.1 -1.4 -3.3 -0.4 -2.2 0.1 -1.1 0.6 -2.4 1 -1.7 1.1 -1.4 2.8 -2.2 3.1 -1.4 4.9 -1 9 0 4.9 -0.8 3 -1 2.7 -1.3 3.7 -2.2 2.6 -2.2 1 -1.1 0.9 -1.7 0.6 -2.7 -0.4 -4.3 0.2 -2.2 0.5 -1.1 0.9 -1.1zM95 78.9l-3 1.1 -4 2.3 -1.6 1.2 -0.9 1.1 -0.1 1.1 1.2 1.1 3.4 0.7 1 0.4 3.6 0 1.4 -0.7 3 -0.4 1.4 -1.1 1.5 -1.9 0.2 -1.4 -0.2 -0.5 -1 -1.7 -2 -1.2 -1.9 -0.2zM112.9 145l-1 0.5 -3 0.4 -1 0.9 -1 0.3 -1 1.2 -0.3 1.1 0.2 2.2 1.1 1.3 2 1.1 2 0.2 2 -0.2 2.9 -1 4 -2 2.6 -1.6 1.2 -1.1 0.2 -1.1 -2 -1.3 -5 -1z"/>
<path fill="#0000d0" fill-rule="evenodd" d="M120.2 46.2l1.6 -0.5 1 -0.1 2 0.3 2 1.1 1.5 1.4 1.5 2.2 2.5 5.4 1.9 3.3 7.2 9.9 2.8 4.4 1.6 3.3 2.8 7.2 2 4.4 2.9 4.9 4.4 6.6 3 5.5 1.1 3.3 0.8 4.4 -0.1 3.2 -0.7 3.3 -1.4 3.3 -1.3 2.2 -2.5 3.3 -2.2 2.2 -3 2.6 -3 2.1 -5 3.1 -3.9 2.1 -6 2.6 -5 1.6 -3.9 0.5 -8 -0.7 -3 0 -4.9 1.1 -2.4 1.5 -0.9 1.1 -0.3 1.1 0.2 2.2 0.7 1.1 1.7 1.4 2 0.5 3 0 0.9 -0.1 1.9 -0.7 4.1 -1.1 2 -0.3 2 0.1 1 0.4 1 0.7 0.7 1.3 0.1 1.1 -0.3 1.1 -0.5 1.1 -0.8 1.1 -1.2 1.1 -1.5 1.1 -2.3 1.1 -3.6 1.1 -6.5 0.6 -5 1.2 -5 2.1 -3.9 2.4 -2.9 2.5 -1 1.1 -1.2 2.1 -0.5 2.2 -0.1 5.5 -0.4 1.1 -0.7 1.1 -1.2 0.9 -1 0.5 -1 0.2 -2 0 -1.2 -0.5 -1.7 -1 -1.9 -2.3 -1.2 -2.2 -1.9 -4.4 -1.7 -3.2 -6.7 -9.9 -3 -5.5 -1.8 -4.4 -2.3 -6.6 -1.4 -3.2 -1.8 -3.4 -4.6 -7.7 -2.1 -4.4 -0.8 -2.2 -0.9 -3.3 -0.3 -2.2 -0.1 -3.3 0.4 -3.3 1 -3.2 1.6 -3.3 2.3 -3.3 3.3 -3.7 4 -3.4 3 -2.2 11.7 -7.2 1.6 -1.1 1.1 -1.1 0.2 -1.1 -0.7 -3.3 -0 -1.1 0.3 -2.2 0.9 -2.2 0.6 -1.1 1.9 -2.2 2.9 -2.2 2.4 -1.1 2.9 -0.5 8 -0.3 4.9 -1.2 5 -2.1 4 -2.4 2.7 -2.3 1.7 -2.2 0.5 -1.1 0.5 -2.2 0.1 -5.4 0.4 -1.1 0.8 -1.1zM94 78.7l-5 2.2 -3 1.8 -2.3 1.9 0 1.1 1.7 1.1 1.6 0.6 3 0.6 3 0.2 2 -0.2 2 -0.7 1.9 -0.3 2 -1.3 1 -1.3 0.4 -0.9 -0 -1.1 -0.3 -1.1 -1.1 -1.5 -2 -1.2 -0.9 -0.2 -2 0z"/>
<path fill="#0000ec" fill-rule="evenodd" d="M121.4 47.3l1.4 -0.3 2 0.4 1.6 1 1.3 1.3 1 1.4 2.6 4.9 2 3.3 7.4 9.7 2.9 4.8 2.1 4.2 2.5 6.6 2 4.4 2 3.3 4.5 6.6 1.8 3 2.2 4.7 1 3.3 0.4 3.3 -0.1 3.2 -0.5 2.9 -0.9 2.6 -1.8 3.3 -3.7 4.4 -2.5 2.4 -2.7 2 -3.3 2.2 -4 2.2 -5.9 2.7 -3 1.1 -4 1.2 -5.9 0.8 -8 0.1 -2.9 0.2 -4 1 -2 1.1 -0.7 0.6 -0.9 1.1 -0.4 2.2 0.2 1.1 0.8 1.3 1 0.9 1 0.9 2 0.7 2 0.2 4.9 -0.1 1.8 0.5 0.8 1.1 0 1.1 -0.5 1.1 -0.9 1.1 -2.2 1.3 -2.1 0.9 -6.8 1.7 -5 1.9 -4.9 2.7 -3 2.1 -2.6 2.6 -1.3 2.1 -0.6 2.2 -0.4 4.4 -0.3 1.1 -0.6 1.1 -1.2 0.9 -1 0.4 -2 -0.1 -1.9 -0.9 -2 -2.1 -1 -1.7 -2.5 -5.3 -1.4 -2.1 -6.1 -8.6 -2.2 -3.5 -2.7 -5.7 -2.6 -7.5 -1.9 -4.4 -7.5 -13.2 -1.9 -4.7 -1.1 -5.2 0 -4.4 0.9 -4.3 0.9 -2.2 1.3 -2.5 2.9 -4.1 2.2 -2.2 3.8 -3.4 3 -2.1 6.9 -4.3 4 -2.1 4 -1.7 3 -0.5 1.9 0.2 7 1.1 4 -0.1 3.9 -1 2.3 -1.5 0.9 -1.1 0.5 -1.1 0 -1.1 -0.2 -1.1 -0.7 -1.1 -1.8 -1.7 -1 -0.3 -1.9 -0.4 -3 0.4 -6 2 -2 0.4 -1 0 -1.1 -0.4 -0.8 -1.1 -0.1 -1.1 0.2 -1.1 0.9 -2.2 1.6 -2.2 1.3 -1.1 2.1 -1.1 3.9 -0.9 5.9 -0.6 4 -1.1 5 -2.2 4 -2.3 3.4 -2.8 1.7 -2.2 1 -2.2 0.3 -1.1 0.3 -4.3 0.4 -1.1 0.8 -1.3z"/>
<path fill="#0008ff" fill-rule="evenodd" d="M121.9 50.6l0.9 -0.4 1 -0.1 1 0.3 1 0.7 1 1 5.1 7.2 7.8 9.6 1.7 2.5 1.9 3.3 1.3 2.8 2.4 6 1.9 4.4 1.9 3.3 6.5 9.9 2.2 4.3 0.9 2.3 0.8 3.3 0.3 3.2 -0.3 3.3 -0.7 2.6 -1.2 2.9 -1.3 2.2 -1.7 2.2 -2 2.2 -4.7 3.9 -3 2 -4 2.2 -5.9 2.6 -6 1.9 -5.9 1.1 -11.9 1 -4 1 -2 1.1 -1.9 1.9 -0.4 1.1 -0.1 1.1 0.7 2.2 0.7 1 2 1.8 2 1.1 1.6 0.5 2 1.1 0.2 1.1 -0.8 1.1 -1.6 1.1 -10.4 4.7 -3.9 2.2 -3 2 -2.5 2.1 -2 2.1 -1.2 2.2 -1.3 3.9 -1 1.6 -1 0.4 -1 0 -0.9 -0.4 -1 -0.8 -1 -1.1 -3.8 -5.8 -8.2 -10.9 -2.9 -5.1 -1.6 -3.7 -3.7 -9.9 -2.9 -5.5 -4.6 -7.7 -2.1 -4.8 -1 -3.5 -0.5 -3.8 0.1 -3.3 0.6 -3.2 1.2 -3.3 1.6 -3 1.9 -2.7 1.8 -2 3.2 -3.1 3 -2.3 3 -2 3.9 -2.3 6 -2.9 4 -1.3 3.9 -0.3 7 0.6 4 -0.2 3.9 -1 2.6 -1.7 0.9 -1.1 0.4 -1.1 0.1 -1.1 -0.2 -1.1 -0.8 -1.4 -1 -1.2 -2 -1.2 -1.9 -0.5 -2 0 -5 0.8 -1 -0.1 -1.2 -0.8 -0.2 -1.1 0.2 -1.1 0.6 -1.1 1 -1.1 1.8 -1.1 1.8 -0.5 5.9 -1.3 5 -1.7 5 -2.5 4.9 -3 2.4 -2 2 -2.2 1.3 -2.2 1.3 -3.8z"/>
<path fill="#0024ff" fill-rule="evenodd" d="M123.7 56l1.1 0 1 0.3 1 0.6 3.9 3.4 4 4.1 3 3.5 2 2.7 1.9 3 2.2 4.4 2.6 6.6 1.5 3.3 2.6 4.4 5.8 8.8 1.8 3.3 0.9 2.2 1 3.3 0.5 3.3 -0.1 3.2 -0.7 3.3 -0.9 2.2 -1.8 3.3 -1.7 2.2 -2 2.2 -2.5 2.2 -2.2 1.6 -3 2 -3 1.6 -3.9 1.8 -5.3 1.8 -3.7 0.9 -3.9 0.7 -13.9 2 -3 0.9 -2 1 -1 0.8 -1.2 1.4 -0.5 1.1 -0.1 1.1 0.1 1.1 0.7 1.7 1 1.5 3.2 3.4 0.3 1.1 -0.4 1.1 -1.1 1.1 -1.5 1.1 -9.4 5.2 -4 2.5 -3 2.2 -3 2.6 -2 1.5 -1 0.3 -0.9 -0.1 -1 -0.4 -2 -1.4 -3 -3 -3 -3.3 -4 -5.1 -3.1 -5.4 -1.5 -3.3 -2.3 -6.6 -1.4 -3.3 -1.7 -3.3 -5.8 -9.9 -2.4 -5.5 -1.1 -4.4 -0.2 -3.3 0.3 -3.3 0.8 -3.2 1.4 -3.3 1.2 -2.2 1.6 -2.2 2.3 -2.6 3.2 -2.9 2.8 -2.1 4 -2.6 2.9 -1.6 4 -1.9 3 -1.1 2 -0.5 3.9 -0.5 7 0.2 4 -0.2 3.9 -1.1 2 -1 0.9 -0.8 0.9 -1.1 0.5 -1.1 0.1 -1.1 -0.1 -1.1 -0.5 -1.1 -0.8 -1.3 -2 -1.9 -1 -0.7 -1.9 -0.7 -3.7 -0.9 -0 -1.1 1.5 -1.1 7.1 -3 9.2 -4.7 5.2 -3.3 5.5 -4.5 1 -0.6z"/>
<path fill="#0040ff" fill-rule="evenodd" d="M122 59.3l1.8 -0.4 2 0.2 1.9 0.9 2 1.3 3 2.6 3 3.1 2.6 3.3 2.2 3.3 2.1 4.2 2.8 6.8 1.5 3.3 2.6 4.4 5.8 8.8 1.3 2.2 1.4 3.3 1 3.3 0.5 3.3 -0.1 3.2 -0.9 3.8 -1.2 2.8 -1.3 2.2 -1.6 2.2 -1.8 1.9 -4.3 3.6 -5.7 3.4 -4.8 2.1 -3.1 1 -7 1.5 -13.9 2.5 -3.9 1 -3 1.4 -1.8 1.4 -0.9 1.1 -0.4 1.1 -0.2 1.1 0.1 1.1 0.8 2.2 1.9 3.3 0.5 1.1 0.1 1.1 -0.4 1.1 -0.8 1.1 -2.9 2.2 -15.9 9.4 -2 0.8 -1 0.1 -1.9 -0.3 -1 -0.4 -2 -1.3 -3 -2.7 -3.1 -3.4 -3.2 -4.4 -1.6 -3 -1.2 -2.5 -3.3 -8.8 -1.5 -3.3 -6 -10.1 -2 -3.8 -1.8 -4.8 -0.9 -4.4 0.1 -4.4 0.3 -2.2 0.6 -2.1 1.4 -3.3 1.3 -2.2 1.6 -2.2 1.9 -2.2 2.3 -2.2 3.2 -2.5 3 -2 3.9 -2.3 5 -2.2 4 -1.2 3.9 -0.6 9 -0.3 3 -0.3 2.9 -0.9 2 -1 1 -0.7 1.2 -1.4 0.5 -1.1 0.1 -1.1 -0.1 -1.1 -0.7 -2 -1 -1.5 -2.5 -3.1 -0.3 -1.1 0.5 -1.1 1.2 -1.1 3.5 -2.2 8 -4.4 8.5 -5z"/>
<path fill="#005cff" fill-rule="evenodd" d="M120.4 61.5l2.4 -0.6 2 -0.1 2 0.6 1.9 1 2 1.4 3 2.6 2.6 2.8 2.4 3.3 1.9 3.3 1.1 2.2 2.6 6.6 1.6 3.3 1.9 3.3 6.6 9.9 1.2 2.2 1.5 3.3 1 3.3 0.5 3.3 -0.2 3.2 -0.9 3.9 -1.8 3.8 -1.5 2.2 -1.8 2.2 -3.7 3.3 -5.2 3.3 -4.8 2.1 -5 1.5 -5 1.2 -9.6 1.8 -5.3 1.3 -4.9 1.5 -2 0.9 -2.3 1.8 -0.8 1.1 -0.5 1.1 -0.2 1.1 0.3 2.2 1.7 4.4 0.2 1.1 -0.1 1.1 -0.3 0.9 -0.9 1.3 -1.1 1.1 -3.2 2.2 -10.7 5.9 -2 0.8 -2 0.5 -1.9 0 -1 -0.2 -2 -0.9 -3 -2.2 -3 -3 -3.2 -4.2 -2.7 -5.1 -4.6 -11.4 -1.7 -3.3 -4.7 -7.7 -2 -3.7 -1.9 -5.1 -0.9 -4.4 -0.1 -2.2 0.1 -2.2 1 -4.3 0.8 -2.3 1.8 -3.2 1.7 -2.2 1.9 -2.2 2.3 -2.2 2.8 -2.2 5.4 -3.4 4.3 -2.1 4.7 -1.6 4 -0.8 8.9 -0.6 5 -0.7 2.9 -1 2 -1.2 1.7 -1.8 0.4 -1.1 0.2 -1.1 0 -1.1 -0.7 -2.2 -1.7 -3.3 -0.4 -1.1 0 -1.1 0.5 -1.1 1 -1.1 1.3 -1.1 3.5 -2.2 8.1 -4.4z"/>
<path fill="#0078ff" fill-rule="evenodd" d="M121.4 62.6l2.4 -0.2 2 0.3 1.9 0.8 2 1.2 3 2.3 2 2.1 2 2.5 2 3 2 3.9 2.5 6.1 2.2 4.4 7.2 11 3 5.5 1.1 3.3 0.8 4.4 -0.1 3.2 -0.8 3.7 -1.9 4 -1.6 2.2 -1.5 1.8 -3 2.8 -2.9 2 -2 1.1 -4 1.9 -5 1.7 -5 1.3 -9.9 2 -5 1.2 -5.9 1.9 -3 1.6 -1.9 1.6 -0.8 1.1 -0.7 2.2 0.1 2.2 0.8 3.3 0.3 2.2 -0.2 1.1 -0.4 1.1 -0.8 1.1 -1.1 1.1 -3.1 2.2 -3.9 2.2 -4.5 2.2 -3.7 1.1 -2 0.1 -1.9 -0.3 -2 -0.9 -3 -2.1 -3 -3.1 -2 -2.6 -1.9 -3.2 -1.1 -2.1 -4.4 -11.1 -1.8 -3.3 -4.7 -7.7 -2 -3.7 -2 -4.9 -0.9 -4.6 -0.1 -2.2 0.1 -2.2 1 -4.3 0.9 -2.4 1.8 -3.1 1.6 -2.2 2 -2.2 2.4 -2.2 2.8 -2.2 5.3 -3.3 5 -2.1 3 -0.9 4.9 -1 9 -0.9 5 -0.9 2.9 -1.2 1 -0.8 1.3 -1 0.9 -1.1 0.5 -1.1 0.2 -1.1 -0.1 -2.2 -1.4 -4.4 -0.1 -1.1 0.1 -1.1 0.5 -1.1 0.9 -1.1 1.2 -1.1 5.3 -3.3 6.6 -3.2z"/>
<path fill="#0094ff" fill-rule="evenodd" d="M119.4 64.8l2.4 -0.4 2 0 2 0.4 2.5 1.1 2.4 1.7 1.9 1.6 2 2.2 1.6 2.2 2.5 4.4 3.3 7.7 1.2 2.2 2.7 4.4 5.7 8.4 2 3.6 1 2.3 1 3.3 0.4 3.3 -0.1 3.2 -0.7 3.3 -0.9 2.2 -1.2 2.2 -2.5 3.3 -3.7 3.3 -2.3 1.6 -2.9 1.6 -5 2.2 -5 1.5 -13.4 3 -4.5 1.2 -4.9 1.7 -3.1 1.5 -1.6 1.1 -1.1 1.1 -0.8 1.1 -0.5 1.1 -0.3 2.2 0.3 4.4 -0.1 2.2 -0.9 2.2 -1.9 2.1 -1.5 1.2 -3.4 2.1 -5 2.1 -2 0.4 -2 0.2 -2.9 -0.5 -2.2 -1 -2.8 -2.1 -2 -2.1 -2 -2.5 -1.9 -3.2 -1 -2.2 -2.6 -6.6 -2.1 -4.4 -6 -9.9 -2.3 -4.3 -1.7 -4.5 -0.9 -4.4 -0.1 -2.2 0.1 -2.2 1 -4.3 0.9 -2.2 1.1 -2.2 1.6 -2.4 1.7 -2 2.2 -2.2 2.8 -2.2 5.2 -3.3 4 -1.9 4 -1.3 4.9 -1.1 12 -1.8 2.9 -0.8 2 -0.9 2 -1.1 1.9 -2.1 0.9 -2.2 -0 -2.2 -0.6 -4.4 0.4 -2.2 0.6 -1.1 2.2 -2.2 3.3 -2.2 4.2 -2z"/>
<path fill="#00afff" fill-rule="evenodd" d="M118.8 67l2 -0.3 2 0 2 0.4 2.6 1 2.3 1.5 2 1.8 3 3.8 1.6 2.8 4.8 9.9 2 3.3 6.8 9.9 1.8 3.3 0.9 2.2 1.3 4.4 0.2 3.2 -0.3 3.3 -0.9 3.3 -1.1 2.2 -1.4 2.2 -2.9 3.3 -3.9 3.1 -3.9 2.2 -4 1.8 -4 1.3 -13.9 3.2 -4.9 1.5 -5 1.8 -3.2 1.6 -1.5 1.1 -1.1 1.1 -1.3 2.2 -0.6 2.2 -0.1 4.4 -0.4 2.2 -0.8 1.4 -1.5 1.9 -1.4 1.1 -2 1.3 -2 0.9 -3 1 -2 0.4 -2 -0 -2.9 -0.8 -2 -1 -2 -1.5 -2 -2.1 -1.9 -2.6 -1.8 -3.3 -4.4 -9.9 -1.8 -3.3 -5.6 -8.8 -2.2 -4.4 -1.5 -4.4 -0.7 -4.4 0.3 -4.4 0.5 -2.1 0.7 -2.2 1 -2.2 1.4 -2.2 3.1 -3.9 1.7 -1.6 2.8 -2.2 4.4 -2.8 4 -1.8 5 -1.6 3.9 -0.9 9 -1.5 4 -0.9 2.9 -1 2.9 -1.6 1.2 -1.1 1.5 -2.2 0.5 -2.2 0.1 -5.5 0.8 -2.1 0.8 -1.2 2.2 -1.9 2.2 -1.4 2.7 -1.3z"/>
<path fill="#00cbff" fill-rule="evenodd" d="M118.1 69.2l2.7 -0.3 2 0.1 2 0.5 1.9 0.8 3 2.3 2 2.1 1.5 2.2 5.8 11 8.4 12.1 1.9 3.3 1.5 3.3 1.3 4.4 0.2 3.2 -0.3 3.3 -0.9 3.3 -1.7 3.3 -2.6 3.3 -3.8 3.3 -4.3 2.6 -4 1.8 -4 1.3 -12.9 3.2 -4.9 1.4 -6 2.2 -3.3 1.8 -2.6 2.2 -1.4 2.2 -0.7 2.2 -0.9 5.5 -1 1.9 -1.2 1.4 -2.8 1.9 -2 0.9 -2 0.6 -3 0.2 -2.9 -0.7 -2 -1 -2 -1.5 -1.5 -1.5 -1.5 -2 -2 -3.5 -4.2 -8.8 -6.9 -11 -2.4 -4.4 -1.8 -4.4 -0.9 -4.4 0 -4.4 0.4 -2.2 0.6 -2.1 0.9 -2.2 1.2 -2.2 1.5 -2.2 1.9 -2.2 3.6 -3.3 2.1 -1.6 3 -1.7 4 -1.9 5 -1.6 3.9 -0.9 9 -1.7 3.9 -0.9 3 -1.2 3 -1.7 1.3 -1.1 1.4 -2.2 0.7 -2.2 0.6 -4.4 0.9 -2.2 0.7 -1.1 1.4 -1.4 1.9 -1.3 2 -1z"/>
<path fill="#00e7ff" fill-rule="evenodd" d="M118.2 71.4l2.6 -0.2 3 0.5 3 1.5 1.9 1.6 1.8 2.1 1.2 1.8 3.9 7 2.1 3.3 6.4 8.8 2.2 3.3 1.8 3.3 1 2.2 1.2 4.4 0.3 3.2 -0.1 2.2 -0.4 2.2 -0.8 2.2 -1.7 3.3 -2 2.7 -3 2.8 -3.1 2.2 -3.8 2 -4 1.6 -4 1.2 -9.9 2.4 -4 1.1 -5.9 2.1 -3.7 1.7 -3.3 2.2 -1.9 2.2 -1.2 2.2 -1.2 4.4 -0.6 1.6 -1 1.6 -1.1 1.2 -1.9 1.2 -3 1 -3 0.1 -2 -0.5 -1.6 -0.7 -1.6 -1.1 -1.7 -1.7 -1.3 -1.6 -1.7 -2.9 -4.3 -8.1 -7.2 -11 -3 -5.5 -1.5 -4.4 -0.7 -4.4 0.2 -4.4 0.5 -2.1 0.8 -2.2 1 -2.2 1.4 -2.2 2.7 -3.3 3.7 -3.3 4.4 -2.9 4 -1.8 4 -1.4 3.9 -1 10 -2 3.9 -1 3 -1.2 3 -1.7 1.5 -1.3 1.6 -2.2 0.8 -2.2 1.3 -4.4 1.3 -2.2 1.2 -1.1 1.2 -0.9 2 -0.9z"/>
<path fill="#04fffb" fill-rule="evenodd" d="M116.4 74.7l2.4 -0.8 2 -0.2 1 0.2 2.5 0.8 2.5 1.7 2.4 2.7 5.7 8.8 9 12.1 2 3.3 1.1 2.2 1.2 3.3 0.5 2.2 0.3 3.2 -0.2 2.2 -0.4 2.2 -0.7 2.2 -1.7 3.3 -2.4 3 -2.7 2.5 -3.2 2.2 -4 2 -3.3 1.3 -3.6 1.1 -13 3.4 -6 2.1 -4.9 2.2 -3.3 2.2 -2 2.2 -1.4 2.2 -2.2 5 -1 1.3 -1 0.8 -1 0.6 -2 0.7 -2 0.2 -2 -0.4 -1.3 -0.5 -1.6 -1.1 -1.2 -1.1 -1.8 -2.2 -5.3 -8.8 -7.7 -11 -2.5 -4.4 -1.7 -4.4 -0.9 -4.4 -0 -4.4 0.3 -2.2 0.7 -2.1 0.9 -2.2 1.2 -2.2 2.4 -3.3 3.4 -3.3 2.2 -1.7 2.6 -1.6 4.4 -2.1 4 -1.4 3.9 -1 10 -2.1 3.9 -1.1 3 -1.2 3 -1.7 1.8 -1.5 1.8 -2.2 2.4 -5.1 0.9 -1.6 1 -1z"/>
<path fill="#20ffdf" fill-rule="evenodd" d="M119.6 76.9l1.2 0 2 0.4 2 1.1 2 1.8 13 16.5 3.9 5.5 1.7 3.3 0.8 2.2 1.1 4.4 0.1 2.1 -0.1 2.2 -0.5 2.2 -0.7 2.2 -1.7 3.3 -2.7 3.3 -2.5 2.2 -3.3 2.2 -3.2 1.6 -4 1.5 -14.9 4.2 -5.9 2 -4.2 1.7 -4 2.2 -2.7 2.2 -2 2.2 -3 4.4 -1.3 1.1 -1.7 0.8 -1 0.2 -1 0.1 -2 -0.5 -1 -0.5 -1.5 -1.2 -2.4 -2.7 -11.7 -16 -2.1 -3.3 -1.7 -3.3 -1.6 -4.4 -0.7 -4.4 -0 -2.2 0.2 -2.2 0.5 -2.1 0.8 -2.2 1.7 -3.3 2.5 -3.3 3.1 -3 3.5 -2.5 4.2 -2.2 4.3 -1.6 4.9 -1.4 10.9 -2.4 3.8 -1.2 2.6 -1.1 2.1 -1.1 2.9 -2.2 2.1 -2.2 2.4 -3.6 1 -1.1 2 -1.4z"/>
<path fill="#3cffc3" fill-rule="evenodd" d="M117.8 81.3l2 -0.7 2 0.2 2 0.8 2 1.5 2.9 2.9 7 7.7 3.3 4.1 2.4 3.3 1.9 3.3 1 2.2 1.1 3.3 0.4 2.2 0 3.2 -0.2 2.2 -0.6 2.2 -0.9 2.2 -2 3.3 -2.4 2.7 -3.7 2.8 -3.3 1.9 -5.9 2.3 -12.6 3.5 -9.4 3.3 -3.9 1.7 -2.8 1.6 -3 2.2 -3.1 2.8 -2 1.4 -2 0.8 -1 -0 -2 -0.5 -1.9 -1.3 -2 -1.8 -7 -8.1 -5 -6.5 -1.9 -3.2 -1.2 -2.3 -1.3 -3.3 -0.6 -2.2 -0.5 -4.4 0.2 -2.2 0.3 -2.2 0.7 -2.1 0.9 -2.2 2 -3.3 2.8 -3.3 2.6 -2.3 4 -2.6 3.6 -1.7 3.3 -1.2 4 -1.2 10.9 -2.5 6 -1.9 3 -1.4 2.9 -1.7 5 -4.2z"/>
<path fill="#57ffa8" fill-rule="evenodd" d="M117.3 84.6l2.5 -0.6 2 0.1 2 0.8 2 1.2 3.9 3.4 4 4 3.7 4.3 2.5 3.3 1.8 3 1.1 2.5 1.1 3.3 0.4 2.2 0.1 3.2 -0.3 2.2 -0.6 2.2 -0.9 2.2 -2 3.3 -3.2 3.3 -3 2.2 -4.2 2.2 -5.4 2 -11.9 3.4 -9 3.1 -5.6 2.5 -6.3 3.6 -2 0.9 -2 0.5 -1 0 -1 -0.2 -2 -0.8 -1.9 -1.3 -2 -1.8 -3 -2.9 -3 -3.4 -4.3 -5.6 -1.6 -2.8 -1.3 -2.7 -1.5 -4.4 -0.4 -4.4 0.1 -2.2 0.4 -2.2 0.6 -2.1 0.9 -2.2 2 -3.3 2.9 -3.3 3.2 -2.6 4 -2.4 3.5 -1.6 3.4 -1.2 13.9 -3.4 5 -1.5 3.9 -1.6z"/>
<path fill="#73ff8c" fill-rule="evenodd" d="M116.8 86.8l3 -0.4 2 0.2 2 0.7 3 1.8 2.9 2.4 4 3.9 3 3.5 2.4 3.3 1.8 3.3 0.9 2.2 0.7 2.2 0.5 3.3 -0.1 3.2 -0.5 2.2 -0.7 2.2 -1.1 2.2 -2.4 3.3 -3.5 3.1 -3.9 2.4 -4 1.8 -13 3.8 -7.9 2.7 -4.4 1.6 -10.5 4.3 -2 0.4 -2 -0 -2 -0.5 -1.9 -1 -2 -1.4 -3 -2.6 -4.4 -4.7 -3.6 -5 -1.4 -2.7 -1 -2.2 -1.2 -4.4 -0.2 -2.2 0 -2.2 0.2 -2.2 0.5 -2.1 0.8 -2.2 1.1 -2.2 2.4 -3.3 3.3 -3.3 3.1 -2.2 4.2 -2.2 6.2 -2.2 15.8 -4z"/>
<path fill="#8fff70" fill-rule="evenodd" d="M114.2 89l2.6 -0.6 3 -0.2 2 0.4 3 1.2 2.9 1.9 3 2.5 3 3 3 3.6 1.6 2.5 1.7 3.3 1.1 3.3 0.4 2.2 0.1 3.2 -0.3 2.2 -1 3.3 -1.1 2.2 -2.5 3.3 -2 1.9 -1.8 1.4 -3.8 2.2 -4.3 1.8 -12.9 3.9 -19.9 6.7 -3 0.4 -2 -0.1 -2 -0.6 -1.9 -0.9 -4 -2.9 -4 -4.1 -2 -2.5 -1.9 -2.8 -2.2 -4.4 -1.2 -4.4 -0.3 -2.2 0 -2.2 0.3 -2.2 0.5 -2.1 0.8 -2.2 1.1 -2.2 2.4 -3.3 2.2 -2.2 3.3 -2.6 4 -2.2 2.9 -1.2 4 -1.3 14.6 -3.7z"/>
<path fill="#abff54" fill-rule="evenodd" d="M114.4 90.1l2.4 -0.4 3 0.1 3 0.8 2 0.9 2.9 1.9 3 2.5 2.9 3 2.1 2.6 1.8 2.9 1.1 2.2 0.8 2.2 0.7 3.3 0.1 3.2 -0.2 2.2 -1.1 3.3 -1.1 2.2 -2.5 3.3 -2.4 2.2 -1.5 1.1 -4 2.2 -5.8 2.2 -23.6 7.4 -6 1.5 -3 0.2 -2 -0.2 -2 -0.6 -2.9 -1.6 -4 -3.2 -3.2 -3.5 -3 -4.4 -2 -4.4 -1 -4.4 -0.2 -2.2 0.2 -2.2 0.4 -2.2 0.6 -2.1 1.6 -3.3 2.4 -3.3 2.3 -2.2 3.9 -2.9 3.9 -2 3 -1.1 4 -1.2z"/>
<path fill="#c7ff38" fill-rule="evenodd" d="M114.4 91.2l2.4 -0.2 3 0.2 2 0.5 3 1.3 2.9 1.9 3 2.6 2.3 2.5 2.5 3.3 1.2 2.2 1.4 3.3 0.7 3.3 0.2 2.1 -0.4 3.3 -0.6 2.2 -0.9 2.2 -1.4 2.2 -1.8 2.2 -2.5 2.2 -2.7 1.8 -3 1.5 -6.1 2.2 -19.7 6.1 -5.9 1.4 -4 0.4 -2 -0.2 -2 -0.5 -2 -0.9 -1.9 -1.1 -3.7 -3 -3.3 -3.8 -2.5 -3.9 -1.8 -4.4 -0.5 -2.2 -0.3 -2.2 0 -2.2 0.2 -2.2 0.6 -2.1 0.8 -2.2 1.9 -3.3 2.6 -3.1 2.9 -2.4 3.5 -2.2 3.5 -1.6 4 -1.4 5 -1.4 14.9 -3.6z"/>
<path fill="#e3ff1c" fill-rule="evenodd" d="M113.6 92.3l3.2 -0.2 3 0.4 2 0.5 3 1.4 2.9 2 2 1.7 2 2.1 2.4 3.1 1.6 2.9 1.1 2.6 0.7 3.3 0.2 2.1 -0.4 3.3 -0.6 2.2 -0.9 2.2 -1.4 2.2 -1.9 2.2 -2.6 2.2 -2.2 1.4 -2.9 1.5 -7.1 2.6 -16.8 5.1 -5.9 1.3 -3 0.3 -2 -0 -2 -0.3 -2 -0.6 -2 -0.9 -1.9 -1.2 -2 -1.5 -2 -1.9 -2.9 -3.6 -2.1 -3.7 -1.4 -4 -0.4 -2.2 -0.1 -2.2 0.2 -3.3 0.6 -2.1 0.8 -2.2 2 -3.3 2.3 -2.7 3 -2.6 3 -1.8 3.6 -1.7 4.3 -1.5 6 -1.6 11.9 -2.7z"/>
<path fill="#feff01" fill-rule="evenodd" d="M112 93.4l2.8 -0.2 3 0.1 3 0.7 2 0.7 3 1.7 1.9 1.5 2.3 2.1 1.8 2.2 1.9 2.8 1.3 2.7 1 3.3 0.4 2.2 -0.1 3.2 -0.5 2.2 -0.8 2.2 -1.2 2.2 -1.7 2.2 -2.2 2.2 -2.2 1.6 -3.1 1.7 -5.5 2.2 -14.2 4.5 -7.9 1.8 -5 0.5 -3 -0.3 -2 -0.5 -2 -0.8 -1.9 -1.1 -2 -1.5 -1.7 -1.5 -2.8 -3.3 -2 -3.3 -1 -2.2 -0.7 -2.2 -0.4 -2.2 -0.2 -2.2 0.3 -3.3 1 -3.2 1.7 -3.3 2.6 -3.3 2.5 -2.2 3.4 -2.2 3.2 -1.6 4 -1.5 5 -1.4 9.9 -2.2z"/>
<path fill="#ffe400" fill-rule="evenodd" d="M110 94.5l2.9 -0.3 2.9 0 2.4 0.3 2.6 0.7 3 1.3 2 1.3 2.6 2.2 2 2.2 1.6 2.2 1.7 3.3 0.8 2.2 0.6 3.3 -0.1 3.2 -0.5 2.2 -0.8 2.2 -1.2 2.2 -2.8 3.3 -2.8 2.2 -1.9 1.1 -5.2 2.2 -13.2 4.4 -4.7 1.2 -3.9 0.8 -5 0.5 -3 -0.2 -2 -0.5 -2 -0.7 -2 -1 -3 -2.3 -2.9 -3.1 -2.3 -3.5 -1.4 -3.3 -0.6 -2.2 -0.3 -2.2 0.1 -3.3 0.8 -3.2 0.8 -2.2 0.9 -1.6 2.1 -2.8 2.2 -2.2 3.1 -2.2 4.3 -2.2 6.4 -2.2 4.3 -1.1 6.4 -1.4z"/>
<path fill="#ffc800" fill-rule="evenodd" d="M108.5 95.6l3.4 -0.3 2.9 0 2.7 0.3 2.3 0.6 2 0.7 3.3 2 1.7 1.3 1.9 2 1.7 2.2 1.3 2.1 1 2.3 0.8 3.3 0.2 3.2 -0.3 2.2 -0.7 2.2 -1.1 2.2 -1.5 2.2 -2.2 2.2 -1.5 1.1 -2.6 1.6 -3.7 1.7 -2.9 1.1 -11.3 3.7 -7 1.6 -2.9 0.4 -3 0 -4 -0.5 -2.3 -0.8 -2.1 -1.1 -3 -2.2 -2.5 -2.8 -2 -3 -0.9 -1.9 -0.8 -2.2 -0.5 -3.3 0.1 -3.3 0.7 -3.2 1.5 -3.3 2.5 -3.3 2.4 -2.2 2.9 -2 2.6 -1.3 4.4 -1.8 5 -1.5 5.1 -1.1z"/>
<path fill="#ffac00" fill-rule="evenodd" d="M109.2 96.7l2.7 -0.2 2.9 0.2 3 0.5 2 0.6 2 0.9 2 1.3 2 1.6 1.9 2.1 2 2.8 1 2.1 0.8 2.4 0.3 2.2 0.1 2.1 -0.4 2.2 -0.7 2.2 -1.1 2.2 -1.6 2.2 -1.1 1.1 -2.2 1.8 -2.4 1.5 -2.6 1.3 -5.3 2 -9.6 3 -4 0.9 -2.9 0.4 -5 0.1 -4 -0.8 -2 -0.8 -2 -1.1 -2.9 -2.4 -2.2 -2.6 -1.9 -3.3 -1.1 -3.3 -0.4 -3.3 0.3 -3.3 1.1 -3.2 1.1 -2.2 1.6 -2.2 2.5 -2.4 2.8 -2 4.1 -2.1 4 -1.5 4.9 -1.3 5 -1z"/>
<path fill="#ff9000" fill-rule="evenodd" d="M101.8 98.9l7.1 -1 4.9 0.1 3 0.6 2 0.6 2 0.9 2 1.2 2.3 2 1.7 1.9 1.5 2.5 0.9 2.2 0.6 2.2 0.2 2.1 -0.1 2.2 -0.6 2.2 -1.5 3.3 -1.8 2.2 -1.2 1.2 -3 2.1 -2 1.1 -5 2.2 -7.9 2.6 -3.1 0.7 -3.9 0.7 -4.9 0.2 -3 -0.4 -2.1 -0.5 -2.9 -1.2 -2.9 -2.1 -2.1 -2.2 -2.1 -3.3 -1.2 -3.3 -0.4 -3.3 0.3 -3.3 0.6 -2.1 1 -2.2 1.9 -2.7 1.7 -1.7 2.8 -2.2 3.4 -1.9 3.5 -1.4 3.5 -1.1z"/>
<path fill="#ff7400" fill-rule="evenodd" d="M102.3 100l6.6 -0.7 4.9 0.2 4 1.1 2 0.9 2 1.3 1.8 1.6 1.2 1.2 1.4 2.1 1 2.2 0.6 2.2 0.3 2.1 -0.2 2.2 -0.5 2.2 -1.7 3.3 -1.9 2.2 -1.2 1.1 -1.8 1.3 -3 1.7 -5.9 2.4 -7 2 -6 0.9 -2.9 0 -2 -0.2 -2 -0.3 -2 -0.7 -3 -1.5 -2 -1.6 -1.9 -2.2 -1.7 -2.9 -0.8 -2.2 -0.5 -3.3 0.3 -3.3 0.7 -2.1 1.1 -2.2 1.8 -2.6 2 -1.9 3 -2 2.3 -1.2 3.7 -1.5 3 -0.9z"/>
<path fill="#ff5900" fill-rule="evenodd" d="M103.5 101.1l5.4 -0.4 4.5 0.4 3.7 1.1 2.2 1.1 1.5 1.1 2 1.9 1.1 1.4 1.1 2.2 0.7 2.2 0.3 2.1 -0.1 2.2 -1.1 3.3 -1 1.8 -1.2 1.5 -2.8 2.4 -4 2.3 -5.9 2.4 -6 1.5 -5 0.5 -4.5 -0.3 -3.8 -1.1 -2.6 -1.4 -2 -1.7 -1.9 -2.4 -1.1 -2.2 -0.7 -2.2 -0.2 -3.3 0.3 -2.2 0.7 -2.1 1.1 -2.2 1.8 -2.2 2 -1.9 2.1 -1.4 2.9 -1.5 3 -1.2 2.9 -0.8z"/>
<path fill="#ff3d00" fill-rule="evenodd" d="M99.5 103.3l3.4 -0.7 3 -0.3 5 0.1 2.9 0.5 2 0.7 2 1 2 1.5 1.5 1.6 1.4 2.2 0.8 2.2 0.3 2.1 -0.1 2.2 -0.6 2.2 -1.2 2.2 -0.8 1.1 -1.3 1.4 -2 1.6 -4 2.2 -4.9 1.9 -5 1.2 -5 0.4 -3.9 -0.4 -3 -0.9 -1.6 -0.8 -1.6 -1.1 -1.2 -1.1 -1.6 -1.9 -0.7 -1.4 -0.8 -2.2 -0.4 -2.2 0.1 -2.2 1 -3.2 0.8 -1.5 1.4 -1.8 2.6 -2.4 4 -2.3 2 -0.9z"/>
<path fill="#ff2100" fill-rule="evenodd" d="M101.8 104.4l4.1 -0.5 4 0.1 2 0.4 1.9 0.6 3 1.5 2.4 2.3 0.8 1.1 0.8 1.5 0.6 2.8 -0.1 2.2 -0.2 1.1 -1.3 2.7 -2 2.4 -2 1.6 -3.9 2.2 -4 1.4 -5 1 -4 0.1 -3.9 -0.6 -2.3 -0.9 -1.9 -1.1 -1.8 -1.6 -1.2 -1.7 -0.8 -1.6 -0.4 -1.7 -0.2 -2.2 0.3 -2.2 0.4 -1.1 1.1 -2.1 1.8 -2.2 1.3 -1.1 1.7 -1.2 3 -1.5 2.9 -1.1z"/>
<path fill="#ff0500" fill-rule="evenodd" d="M100.2 106.6l4.7 -0.8 4 0.1 2 0.4 2 0.7 1.3 0.7 1.5 1.1 1.9 2.2 0.6 1.1 0.5 2.1 0.1 1.1 -0.4 2.2 -0.6 1.3 -1.3 2 -2.5 2.2 -3.1 1.8 -4 1.5 -3 0.5 -4 0.2 -2.9 -0.4 -3 -1.1 -2.1 -1.4 -1.8 -2.2 -0.9 -2.2 -0.2 -2.5 0.3 -1.9 0.4 -1.1 1.3 -2.1 2.3 -2.2 1.6 -1.1 2.1 -1.1z"/>
<path fill="#e80000" fill-rule="evenodd" d="M100.7 108.8l3.2 -0.6 2 -0.1 2 0.1 3 0.9 2 1.1 1.7 1.9 0.8 2.1 0.1 1.1 -0.4 2.2 -1.3 2.2 -1.9 1.9 -2 1.2 -3 1.2 -2 0.5 -3 0.3 -3 -0.3 -1.9 -0.6 -2 -1.1 -1.1 -0.9 -0.8 -1.1 -0.6 -1.1 -0.4 -2.2 0.4 -2.2 1.2 -2.1 2.3 -2.2 2 -1.2z"/>
<path fill="#d20000" fill-rule="evenodd" d="M100.8 112.1l2.1 -0.6 2 -0.2 2 0.2 1.5 0.6 1.5 1.1 0.8 1 0.3 1.1 -0.1 1.1 -0.4 1.1 -0.7 1.1 -1.2 1.1 -2.7 1.3 -2 0.5 -2 0 -2 -0.4 -1 -0.4 -1.3 -1 -0.7 -1.1 -0.3 -1.1 0 -1.1 0.3 -1.1 0.8 -1.1 1.1 -1z"/>
</g>
<path d="M1654.4 67.85h3.5M1874.7 67.85h-3.5M1654.4 127.7h3.5M1874.7 127.7h-3.5M1654.4 187.55h3.5M1874.7 187.55h-3.5M1764.55 8v3.5M1764.55 247.4v-3.5" stroke="#1a1a3a" stroke-width="1.6" fill="none" opacity="0.7"/>
<path d="M1742.52 8V247.4M1775.57 8V247.4M1654.4 91.79H1874.7M1654.4 163.61H1874.7" stroke="#fff" stroke-width="2.1" stroke-dasharray="21 13.2" fill="none"/>
</g>
<text x="1642.2" y="21.3" text-anchor="end" fill="#262626">-1</text>
<text x="1642.2" y="81.15" text-anchor="end" fill="#262626">-0.5</text>
<text x="1642.2" y="141" text-anchor="end" fill="#262626">0</text>
<text x="1642.2" y="200.85" text-anchor="end" fill="#262626">0.5</text>
<text x="1642.2" y="260.7" text-anchor="end" fill="#262626">1</text>
<text x="1654.4" y="289.2" text-anchor="middle" fill="#262626">1.45</text>
<text x="1764.55" y="289.2" text-anchor="middle" fill="#262626">1.55</text>
<text x="1874.7" y="289.2" text-anchor="middle" fill="#262626">1.65</text>
<text x="1762.75" y="322.6" text-anchor="middle" fill="#262626">Wavelength (<tspan font-style="italic" font-size="34px" dx="2.5">μ</tspan><tspan dx="2.5">m)</tspan></text>
<text transform="translate(1579.7 127.7) rotate(-90)" text-anchor="middle" fill="#262626">Time (ps)</text>
</g>
<g>
<rect x="102.2" y="378.1" width="220.3" height="237.7" fill="#fff" stroke="#262626" stroke-width="2"/>
<path d="M102.2 457.33h4M322.5 457.33h-4M102.2 536.57h4M322.5 536.57h-4M212.35 378.1v4M212.35 615.8v-4" stroke="#262626" stroke-width="2" fill="none"/>
<path d="M102.2 539.97 104.4 539.97 106.61 539.97 108.81 539.97 111.01 539.97 113.21 539.97 115.42 539.97 117.62 539.97 119.82 539.97 122.03 539.97 124.23 539.97 126.43 539.97 128.64 539.97 130.84 539.97 133.04 539.97 135.25 539.97 137.45 539.97 139.65 539.97 141.85 539.97 144.06 539.97 146.26 539.97 148.46 539.97 150.67 539.97 152.87 539.97 155.07 539.97 157.27 539.97 157.83 539.97 158.38 539.97 158.93 539.97 159.48 539.97 160.03 539.97 160.58 539.97 161.13 539.97 161.68 539.97 162.23 539.97 162.78 539.97 163.33 539.96 163.88 539.94 164.43 539.91 164.99 539.87 165.54 539.8 166.09 539.73 166.64 539.63 167.19 539.53 167.74 539.42 168.29 539.3 168.84 539.19 169.39 539.07 169.94 538.94 170.49 538.82 171.04 538.68 171.59 538.55 172.15 538.4 172.7 538.26 173.25 538.11 173.8 537.96 174.35 537.81 174.9 537.66 175.45 537.51 176 537.35 176.55 537.19 177.1 537.03 177.65 536.86 178.2 536.69 178.75 536.52 179.31 536.36 179.86 536.21 180.41 536.08 180.96 535.98 181.51 535.92 182.06 535.89 182.61 535.92 183.16 536 183.71 536.14 184.26 536.33 184.81 536.59 185.36 536.88 185.91 537.22 186.46 537.57 187.02 537.94 187.57 538.31 188.12 538.66 188.67 538.97 189.22 539.24 189.77 539.44 190.32 539.53 190.87 539.46 191.42 539.14 191.97 538.48 192.52 537.4 193.07 535.84 193.62 533.76 194.18 531.18 194.73 528.1 195.28 524.56 195.83 520.61 196.38 516.3 196.93 511.65 197.48 506.74 198.03 501.61 198.58 496.31 199.13 490.88 199.68 485.39 200.23 479.88 200.78 474.4 201.34 469 201.89 463.71 202.44 458.57 202.99 453.63 203.54 448.91 204.09 444.45 204.64 440.26 205.19 436.38 205.74 432.81 206.29 429.57 206.84 426.66 207.39 424.09 207.94 421.87 208.49 419.97 209.05 418.39 209.6 417.13 210.15 416.15 210.7 415.43 211.25 414.94 211.8 414.66 212.35 414.57 212.9 414.66 213.45 414.94 214 415.43 214.55 416.15 215.1 417.13 215.65 418.39 216.21 419.97 216.76 421.87 217.31 424.09 217.86 426.66 218.41 429.57 218.96 432.81 219.51 436.38 220.06 440.26 220.61 444.45 221.16 448.91 221.71 453.63 222.26 458.57 222.81 463.71 223.36 469 223.92 474.4 224.47 479.88 225.02 485.39 225.57 490.88 226.12 496.31 226.67 501.61 227.22 506.74 227.77 511.65 228.32 516.3 228.87 520.61 229.42 524.56 229.97 528.1 230.52 531.18 231.08 533.76 231.63 535.84 232.18 537.4 232.73 538.48 233.28 539.14 233.83 539.46 234.38 539.53 234.93 539.44 235.48 539.24 236.03 538.97 236.58 538.66 237.13 538.31 237.68 537.94 238.24 537.57 238.79 537.22 239.34 536.88 239.89 536.59 240.44 536.33 240.99 536.14 241.54 536 242.09 535.92 242.64 535.89 243.19 535.92 243.74 535.98 244.29 536.08 244.84 536.21 245.4 536.36 245.95 536.52 246.5 536.69 247.05 536.86 247.6 537.03 248.15 537.19 248.7 537.35 249.25 537.51 249.8 537.66 250.35 537.81 250.9 537.96 251.45 538.11 252 538.26 252.55 538.4 253.11 538.55 253.66 538.68 254.21 538.82 254.76 538.94 255.31 539.07 255.86 539.19 256.41 539.3 256.96 539.42 257.51 539.53 258.06 539.63 258.61 539.73 259.16 539.8 259.71 539.87 260.27 539.91 260.82 539.94 261.37 539.96 261.92 539.97 262.47 539.97 263.02 539.97 263.57 539.97 264.12 539.97 264.67 539.97 265.22 539.97 265.77 539.97 266.32 539.97 266.87 539.97 267.43 539.97 269.63 539.97 271.83 539.97 274.03 539.97 276.24 539.97 278.44 539.97 280.64 539.97 282.85 539.97 285.05 539.97 287.25 539.97 289.45 539.97 291.66 539.97 293.86 539.97 296.06 539.97 298.27 539.97 300.47 539.97 302.67 539.97 304.88 539.97 307.08 539.97 309.28 539.97 311.49 539.97 313.69 539.97 315.89 539.97 318.09 539.97 320.3 539.97 322.5 539.97" stroke="#0072bd" stroke-width="2" fill="none" stroke-linejoin="round"/>
<text x="90.2" y="390.7" text-anchor="end" fill="#262626">1</text>
<text x="90.2" y="469.93" text-anchor="end" fill="#262626">0.98</text>
<text x="90.2" y="549.17" text-anchor="end" fill="#262626">0.96</text>
<text x="90.2" y="628.4" text-anchor="end" fill="#262626">0.94</text>
<text x="101.6" y="657.3" text-anchor="middle" fill="#262626">-1</text>
<text x="212.35" y="657.3" text-anchor="middle" fill="#262626">0</text>
<text x="322.5" y="657.3" text-anchor="middle" fill="#262626">1</text>
<text x="212.35" y="692.6" text-anchor="middle" fill="#262626">Time (ps)</text>
<text transform="translate(22.6 497.95) rotate(-90)" text-anchor="middle" fill="#262626">Transmission (%)</text>
<text x="112.5" y="607.5" fill="#000">0fs<tspan dy="-13" font-size="25.6px">2</tspan><tspan dy="13">/mm</tspan></text>
</g>
<g>
<rect x="489.2" y="378.1" width="220.3" height="237.7" fill="#fff" stroke="#262626" stroke-width="2"/>
<path d="M489.2 457.33h4M709.5 457.33h-4M489.2 536.57h4M709.5 536.57h-4M599.35 378.1v4M599.35 615.8v-4" stroke="#262626" stroke-width="2" fill="none"/>
<path d="M489.2 539.97 491.4 539.97 493.61 539.97 495.81 539.97 498.01 539.97 500.22 539.97 502.42 539.97 504.62 539.97 506.82 539.97 509.03 539.97 511.23 539.97 513.43 539.97 515.64 539.97 517.84 539.97 520.04 539.97 522.25 539.97 524.45 539.97 526.65 539.97 528.85 539.97 531.06 539.97 533.26 539.97 535.46 539.97 537.67 539.97 539.87 539.96 542.07 539.95 544.27 539.93 544.83 539.93 545.38 539.92 545.93 539.92 546.48 539.91 547.03 539.91 547.58 539.9 548.13 539.89 548.68 539.88 549.23 539.87 549.78 539.85 550.33 539.82 550.88 539.77 551.43 539.72 551.99 539.65 552.54 539.56 553.09 539.47 553.64 539.36 554.19 539.25 554.74 539.13 555.29 539.01 555.84 538.89 556.39 538.76 556.94 538.62 557.49 538.48 558.04 538.32 558.59 538.16 559.15 538 559.7 537.82 560.25 537.65 560.8 537.47 561.35 537.29 561.9 537.11 562.45 536.93 563 536.75 563.55 536.57 564.1 536.38 564.65 536.19 565.2 536 565.75 535.81 566.31 535.63 566.86 535.46 567.41 535.32 567.96 535.21 568.51 535.13 569.06 535.1 569.61 535.12 570.16 535.2 570.71 535.33 571.26 535.53 571.81 535.78 572.36 536.07 572.91 536.4 573.46 536.75 574.02 537.11 574.57 537.46 575.12 537.79 575.67 538.09 576.22 538.33 576.77 538.5 577.32 538.54 577.87 538.39 578.42 537.97 578.97 537.19 579.52 535.99 580.07 534.31 580.62 532.15 581.18 529.5 581.73 526.39 582.28 522.86 582.83 518.95 583.38 514.7 583.93 510.15 584.48 505.36 585.03 500.37 585.58 495.23 586.13 489.99 586.68 484.69 587.23 479.38 587.78 474.11 588.34 468.91 588.89 463.83 589.44 458.9 589.99 454.16 590.54 449.64 591.09 445.36 591.64 441.35 592.19 437.62 592.74 434.2 593.29 431.09 593.84 428.3 594.39 425.84 594.94 423.7 595.49 421.88 596.05 420.36 596.6 419.14 597.15 418.19 597.7 417.5 598.25 417.03 598.8 416.76 599.35 416.67 599.9 416.76 600.45 417.03 601 417.5 601.55 418.19 602.1 419.14 602.65 420.36 603.21 421.88 603.76 423.7 604.31 425.84 604.86 428.3 605.41 431.09 605.96 434.2 606.51 437.62 607.06 441.35 607.61 445.36 608.16 449.64 608.71 454.16 609.26 458.9 609.81 463.83 610.37 468.91 610.92 474.11 611.47 479.38 612.02 484.69 612.57 489.99 613.12 495.23 613.67 500.37 614.22 505.36 614.77 510.15 615.32 514.7 615.87 518.95 616.42 522.86 616.97 526.39 617.52 529.5 618.08 532.15 618.63 534.31 619.18 535.99 619.73 537.19 620.28 537.97 620.83 538.39 621.38 538.54 621.93 538.5 622.48 538.33 623.03 538.09 623.58 537.79 624.13 537.46 624.68 537.11 625.24 536.75 625.79 536.4 626.34 536.07 626.89 535.78 627.44 535.53 627.99 535.33 628.54 535.2 629.09 535.12 629.64 535.1 630.19 535.13 630.74 535.21 631.29 535.32 631.84 535.46 632.39 535.63 632.95 535.81 633.5 536 634.05 536.19 634.6 536.38 635.15 536.57 635.7 536.75 636.25 536.93 636.8 537.11 637.35 537.29 637.9 537.47 638.45 537.65 639 537.82 639.55 538 640.11 538.16 640.66 538.32 641.21 538.48 641.76 538.62 642.31 538.76 642.86 538.89 643.41 539.01 643.96 539.13 644.51 539.25 645.06 539.36 645.61 539.47 646.16 539.56 646.71 539.65 647.27 539.72 647.82 539.77 648.37 539.82 648.92 539.85 649.47 539.87 650.02 539.88 650.57 539.89 651.12 539.9 651.67 539.91 652.22 539.91 652.77 539.92 653.32 539.92 653.87 539.93 654.43 539.93 656.63 539.95 658.83 539.96 661.03 539.97 663.24 539.97 665.44 539.97 667.64 539.97 669.85 539.97 672.05 539.97 674.25 539.97 676.46 539.97 678.66 539.97 680.86 539.97 683.06 539.97 685.27 539.97 687.47 539.97 689.67 539.97 691.88 539.97 694.08 539.97 696.28 539.97 698.49 539.97 700.69 539.97 702.89 539.97 705.09 539.97 707.3 539.97 709.5 539.97" stroke="#0072bd" stroke-width="2" fill="none" stroke-linejoin="round"/>
<text x="477.2" y="390.7" text-anchor="end" fill="#262626">1</text>
<text x="477.2" y="469.93" text-anchor="end" fill="#262626">0.98</text>
<text x="477.2" y="549.17" text-anchor="end" fill="#262626">0.96</text>
<text x="477.2" y="628.4" text-anchor="end" fill="#262626">0.94</text>
<text x="488.6" y="657.3" text-anchor="middle" fill="#262626">-1</text>
<text x="599.35" y="657.3" text-anchor="middle" fill="#262626">0</text>
<text x="709.5" y="657.3" text-anchor="middle" fill="#262626">1</text>
<text x="599.35" y="692.6" text-anchor="middle" fill="#262626">Time (ps)</text>
<text transform="translate(409.6 497.95) rotate(-90)" text-anchor="middle" fill="#262626">Transmission (%)</text>
<text x="499.5" y="607.5" fill="#000">2fs<tspan dy="-13" font-size="25.6px">2</tspan><tspan dy="13">/mm</tspan></text>
</g>
<g>
<rect x="876.8" y="378.1" width="220.3" height="237.7" fill="#fff" stroke="#262626" stroke-width="2"/>
<path d="M876.8 457.33h4M1097.1 457.33h-4M876.8 536.57h4M1097.1 536.57h-4M986.95 378.1v4M986.95 615.8v-4" stroke="#262626" stroke-width="2" fill="none"/>
<path d="M876.8 539.97 879 539.97 881.21 539.97 883.41 539.97 885.61 539.97 887.81 539.97 890.02 539.97 892.22 539.97 894.42 539.97 896.63 539.97 898.83 539.97 901.03 539.97 903.24 539.97 905.44 539.97 907.64 539.97 909.84 539.97 912.05 539.97 914.25 539.97 916.45 539.97 918.66 539.97 920.86 539.97 923.06 539.97 925.27 539.95 927.47 539.92 929.67 539.87 931.87 539.82 932.43 539.8 932.98 539.79 933.53 539.77 934.08 539.75 934.63 539.73 935.18 539.71 935.73 539.68 936.28 539.65 936.83 539.61 937.38 539.56 937.93 539.49 938.48 539.42 939.03 539.33 939.59 539.23 940.14 539.12 940.69 539 941.24 538.87 941.79 538.73 942.34 538.6 942.89 538.45 943.44 538.3 943.99 538.14 944.54 537.97 945.09 537.79 945.64 537.59 946.19 537.38 946.75 537.16 947.3 536.93 947.85 536.7 948.4 536.47 948.95 536.24 949.5 536.01 950.05 535.78 950.6 535.56 951.15 535.34 951.7 535.11 952.25 534.88 952.8 534.66 953.35 534.43 953.9 534.22 954.46 534.03 955.01 533.87 955.56 533.74 956.11 533.65 956.66 533.61 957.21 533.63 957.76 533.7 958.31 533.84 958.86 534.04 959.41 534.3 959.96 534.59 960.51 534.91 961.06 535.25 961.62 535.58 962.17 535.9 962.72 536.17 963.27 536.39 963.82 536.52 964.37 536.51 964.92 536.3 965.47 535.8 966.02 534.94 966.57 533.67 967.12 531.95 967.67 529.78 968.22 527.18 968.78 524.16 969.33 520.76 969.88 517.02 970.43 512.98 970.98 508.68 971.53 504.16 972.08 499.45 972.63 494.62 973.18 489.69 973.73 484.71 974.28 479.72 974.83 474.76 975.38 469.87 975.93 465.08 976.49 460.42 977.04 455.93 977.59 451.62 978.14 447.54 978.69 443.69 979.24 440.1 979.79 436.78 980.34 433.74 980.89 430.98 981.44 428.52 981.99 426.35 982.54 424.48 983.09 422.88 983.65 421.56 984.2 420.5 984.75 419.68 985.3 419.08 985.85 418.68 986.4 418.45 986.95 418.37 987.5 418.45 988.05 418.68 988.6 419.08 989.15 419.68 989.7 420.5 990.25 421.56 990.81 422.88 991.36 424.48 991.91 426.35 992.46 428.52 993.01 430.98 993.56 433.74 994.11 436.78 994.66 440.1 995.21 443.69 995.76 447.54 996.31 451.62 996.86 455.93 997.41 460.42 997.96 465.08 998.52 469.87 999.07 474.76 999.62 479.72 1000.17 484.71 1000.72 489.69 1001.27 494.62 1001.82 499.45 1002.37 504.16 1002.92 508.68 1003.47 512.98 1004.02 517.02 1004.57 520.76 1005.12 524.16 1005.68 527.18 1006.23 529.78 1006.78 531.95 1007.33 533.67 1007.88 534.94 1008.43 535.8 1008.98 536.3 1009.53 536.51 1010.08 536.52 1010.63 536.39 1011.18 536.17 1011.73 535.9 1012.28 535.58 1012.84 535.25 1013.39 534.91 1013.94 534.59 1014.49 534.3 1015.04 534.04 1015.59 533.84 1016.14 533.7 1016.69 533.63 1017.24 533.61 1017.79 533.65 1018.34 533.74 1018.89 533.87 1019.44 534.03 1019.99 534.22 1020.55 534.43 1021.1 534.66 1021.65 534.88 1022.2 535.11 1022.75 535.34 1023.3 535.56 1023.85 535.78 1024.4 536.01 1024.95 536.24 1025.5 536.47 1026.05 536.7 1026.6 536.93 1027.15 537.16 1027.71 537.38 1028.26 537.59 1028.81 537.79 1029.36 537.97 1029.91 538.14 1030.46 538.3 1031.01 538.45 1031.56 538.6 1032.11 538.73 1032.66 538.87 1033.21 539 1033.76 539.12 1034.31 539.23 1034.87 539.33 1035.42 539.42 1035.97 539.49 1036.52 539.56 1037.07 539.61 1037.62 539.65 1038.17 539.68 1038.72 539.71 1039.27 539.73 1039.82 539.75 1040.37 539.77 1040.92 539.79 1041.47 539.8 1042.02 539.82 1044.23 539.87 1046.43 539.92 1048.63 539.95 1050.84 539.97 1053.04 539.97 1055.24 539.97 1057.45 539.97 1059.65 539.97 1061.85 539.97 1064.05 539.97 1066.26 539.97 1068.46 539.97 1070.66 539.97 1072.87 539.97 1075.07 539.97 1077.27 539.97 1079.48 539.97 1081.68 539.97 1083.88 539.97 1086.09 539.97 1088.29 539.97 1090.49 539.97 1092.69 539.97 1094.9 539.97 1097.1 539.97" stroke="#0072bd" stroke-width="2" fill="none" stroke-linejoin="round"/>
<text x="864.8" y="390.7" text-anchor="end" fill="#262626">1</text>
<text x="864.8" y="469.93" text-anchor="end" fill="#262626">0.98</text>
<text x="864.8" y="549.17" text-anchor="end" fill="#262626">0.96</text>
<text x="864.8" y="628.4" text-anchor="end" fill="#262626">0.94</text>
<text x="876.2" y="657.3" text-anchor="middle" fill="#262626">-1</text>
<text x="986.95" y="657.3" text-anchor="middle" fill="#262626">0</text>
<text x="1097.1" y="657.3" text-anchor="middle" fill="#262626">1</text>
<text x="986.95" y="692.6" text-anchor="middle" fill="#262626">Time (ps)</text>
<text transform="translate(797.2 497.95) rotate(-90)" text-anchor="middle" fill="#262626">Transmission (%)</text>
<text x="887.1" y="607.5" fill="#000">4fs<tspan dy="-13" font-size="25.6px">2</tspan><tspan dy="13">/mm</tspan></text>
</g>
<g>
<rect x="1266.8" y="378.1" width="220.3" height="237.7" fill="#fff" stroke="#262626" stroke-width="2"/>
<path d="M1266.8 457.33h4M1487.1 457.33h-4M1266.8 536.57h4M1487.1 536.57h-4M1376.95 378.1v4M1376.95 615.8v-4" stroke="#262626" stroke-width="2" fill="none"/>
<path d="M1266.8 539.97 1269 539.97 1271.21 539.97 1273.41 539.97 1275.61 539.97 1277.81 539.97 1280.02 539.97 1282.22 539.97 1284.42 539.97 1286.63 539.96 1288.83 539.96 1291.03 539.96 1293.24 539.96 1295.44 539.95 1297.64 539.95 1299.84 539.94 1302.05 539.94 1304.25 539.93 1306.45 539.93 1308.66 539.92 1310.86 539.91 1313.06 539.88 1315.27 539.83 1317.47 539.76 1319.67 539.68 1321.87 539.58 1322.43 539.56 1322.98 539.53 1323.53 539.49 1324.08 539.45 1324.63 539.41 1325.18 539.35 1325.73 539.28 1326.28 539.2 1326.83 539.1 1327.38 539 1327.93 538.89 1328.48 538.76 1329.03 538.63 1329.59 538.49 1330.14 538.35 1330.69 538.2 1331.24 538.04 1331.79 537.88 1332.34 537.71 1332.89 537.54 1333.44 537.36 1333.99 537.16 1334.54 536.94 1335.09 536.72 1335.64 536.47 1336.19 536.22 1336.75 535.97 1337.3 535.7 1337.85 535.44 1338.4 535.17 1338.95 534.91 1339.5 534.66 1340.05 534.4 1340.6 534.15 1341.15 533.9 1341.7 533.64 1342.25 533.38 1342.8 533.12 1343.35 532.87 1343.9 532.64 1344.46 532.43 1345.01 532.25 1345.56 532.12 1346.11 532.03 1346.66 532 1347.21 532.01 1347.76 532.08 1348.31 532.2 1348.86 532.36 1349.41 532.55 1349.96 532.76 1350.51 532.99 1351.06 533.22 1351.62 533.44 1352.17 533.63 1352.72 533.77 1353.27 533.81 1353.82 533.68 1354.37 533.29 1354.92 532.56 1355.47 531.41 1356.02 529.82 1356.57 527.8 1357.12 525.38 1357.67 522.6 1358.22 519.5 1358.78 516.1 1359.33 512.45 1359.88 508.56 1360.43 504.48 1360.98 500.24 1361.53 495.88 1362.08 491.42 1362.63 486.91 1363.18 482.37 1363.73 477.84 1364.28 473.35 1364.83 468.92 1365.38 464.59 1365.93 460.38 1366.49 456.31 1367.04 452.42 1367.59 448.7 1368.14 445.19 1368.69 441.9 1369.24 438.83 1369.79 436.01 1370.34 433.43 1370.89 431.1 1371.44 429.02 1371.99 427.19 1372.54 425.61 1373.09 424.27 1373.65 423.16 1374.2 422.26 1374.75 421.58 1375.3 421.07 1375.85 420.73 1376.4 420.54 1376.95 420.47 1377.5 420.54 1378.05 420.73 1378.6 421.07 1379.15 421.58 1379.7 422.26 1380.25 423.16 1380.81 424.27 1381.36 425.61 1381.91 427.19 1382.46 429.02 1383.01 431.1 1383.56 433.43 1384.11 436.01 1384.66 438.83 1385.21 441.9 1385.76 445.19 1386.31 448.7 1386.86 452.42 1387.41 456.31 1387.96 460.38 1388.52 464.59 1389.07 468.92 1389.62 473.35 1390.17 477.84 1390.72 482.37 1391.27 486.91 1391.82 491.42 1392.37 495.88 1392.92 500.24 1393.47 504.48 1394.02 508.56 1394.57 512.45 1395.12 516.1 1395.68 519.5 1396.23 522.6 1396.78 525.38 1397.33 527.8 1397.88 529.82 1398.43 531.41 1398.98 532.56 1399.53 533.29 1400.08 533.68 1400.63 533.81 1401.18 533.77 1401.73 533.63 1402.28 533.44 1402.84 533.22 1403.39 532.99 1403.94 532.76 1404.49 532.55 1405.04 532.36 1405.59 532.2 1406.14 532.08 1406.69 532.01 1407.24 532 1407.79 532.03 1408.34 532.12 1408.89 532.25 1409.44 532.43 1409.99 532.64 1410.55 532.87 1411.1 533.12 1411.65 533.38 1412.2 533.64 1412.75 533.9 1413.3 534.15 1413.85 534.4 1414.4 534.66 1414.95 534.91 1415.5 535.17 1416.05 535.44 1416.6 535.7 1417.15 535.97 1417.71 536.22 1418.26 536.47 1418.81 536.72 1419.36 536.94 1419.91 537.16 1420.46 537.36 1421.01 537.54 1421.56 537.71 1422.11 537.88 1422.66 538.04 1423.21 538.2 1423.76 538.35 1424.31 538.49 1424.87 538.63 1425.42 538.76 1425.97 538.89 1426.52 539 1427.07 539.1 1427.62 539.2 1428.17 539.28 1428.72 539.35 1429.27 539.41 1429.82 539.45 1430.37 539.49 1430.92 539.53 1431.47 539.56 1432.02 539.58 1434.23 539.68 1436.43 539.76 1438.63 539.83 1440.84 539.88 1443.04 539.91 1445.24 539.92 1447.45 539.93 1449.65 539.93 1451.85 539.94 1454.05 539.94 1456.26 539.95 1458.46 539.95 1460.66 539.96 1462.87 539.96 1465.07 539.96 1467.27 539.96 1469.48 539.97 1471.68 539.97 1473.88 539.97 1476.08 539.97 1478.29 539.97 1480.49 539.97 1482.69 539.97 1484.9 539.97 1487.1 539.97" stroke="#0072bd" stroke-width="2" fill="none" stroke-linejoin="round"/>
<text x="1254.8" y="390.7" text-anchor="end" fill="#262626">1</text>
<text x="1254.8" y="469.93" text-anchor="end" fill="#262626">0.98</text>
<text x="1254.8" y="549.17" text-anchor="end" fill="#262626">0.96</text>
<text x="1254.8" y="628.4" text-anchor="end" fill="#262626">0.94</text>
<text x="1266.2" y="657.3" text-anchor="middle" fill="#262626">-1</text>
<text x="1376.95" y="657.3" text-anchor="middle" fill="#262626">0</text>
<text x="1487.1" y="657.3" text-anchor="middle" fill="#262626">1</text>
<text x="1376.95" y="692.6" text-anchor="middle" fill="#262626">Time (ps)</text>
<text transform="translate(1187.2 497.95) rotate(-90)" text-anchor="middle" fill="#262626">Transmission (%)</text>
<text x="1277.1" y="607.5" fill="#000">6fs<tspan dy="-13" font-size="25.6px">2</tspan><tspan dy="13">/mm</tspan></text>
</g>
<g>
<rect x="1654.4" y="378.1" width="220.3" height="237.7" fill="#fff" stroke="#262626" stroke-width="2"/>
<path d="M1654.4 457.33h4M1874.7 457.33h-4M1654.4 536.57h4M1874.7 536.57h-4M1764.55 378.1v4M1764.55 615.8v-4" stroke="#262626" stroke-width="2" fill="none"/>
<path d="M1654.4 539.97 1656.6 539.97 1658.81 539.97 1661.01 539.97 1663.21 539.97 1665.42 539.96 1667.62 539.96 1669.82 539.95 1672.02 539.95 1674.23 539.94 1676.43 539.93 1678.63 539.92 1680.84 539.91 1683.04 539.9 1685.24 539.88 1687.45 539.87 1689.65 539.86 1691.85 539.84 1694.05 539.82 1696.26 539.79 1698.46 539.74 1700.66 539.67 1702.87 539.57 1705.07 539.45 1707.27 539.32 1709.48 539.15 1710.03 539.11 1710.58 539.05 1711.13 538.99 1711.68 538.92 1712.23 538.84 1712.78 538.75 1713.33 538.65 1713.88 538.53 1714.43 538.41 1714.98 538.28 1715.53 538.13 1716.08 537.98 1716.63 537.82 1717.19 537.66 1717.74 537.49 1718.29 537.31 1718.84 537.12 1719.39 536.94 1719.94 536.74 1720.49 536.53 1721.04 536.3 1721.59 536.05 1722.14 535.79 1722.69 535.5 1723.24 535.2 1723.79 534.88 1724.35 534.55 1724.9 534.22 1725.45 533.9 1726 533.57 1726.55 533.26 1727.1 532.95 1727.65 532.65 1728.2 532.37 1728.75 532.09 1729.3 531.81 1729.85 531.53 1730.4 531.26 1730.95 531.01 1731.51 530.77 1732.06 530.57 1732.61 530.4 1733.16 530.27 1733.71 530.19 1734.26 530.16 1734.81 530.17 1735.36 530.21 1735.91 530.29 1736.46 530.38 1737.01 530.49 1737.56 530.62 1738.11 530.74 1738.66 530.87 1739.22 530.97 1739.77 531.04 1740.32 531.03 1740.87 530.88 1741.42 530.5 1741.97 529.8 1742.52 528.7 1743.07 527.19 1743.62 525.27 1744.17 522.99 1744.72 520.37 1745.27 517.46 1745.82 514.28 1746.38 510.87 1746.93 507.26 1747.48 503.47 1748.03 499.53 1748.58 495.48 1749.13 491.34 1749.68 487.15 1750.23 482.93 1750.78 478.71 1751.33 474.52 1751.88 470.38 1752.43 466.32 1752.98 462.36 1753.54 458.53 1754.09 454.84 1754.64 451.3 1755.19 447.95 1755.74 444.79 1756.29 441.82 1756.84 439.07 1757.39 436.54 1757.94 434.23 1758.49 432.15 1759.04 430.29 1759.59 428.66 1760.14 427.25 1760.69 426.05 1761.25 425.06 1761.8 424.27 1762.35 423.65 1762.9 423.21 1763.45 422.9 1764 422.73 1764.55 422.67 1765.1 422.73 1765.65 422.9 1766.2 423.21 1766.75 423.65 1767.3 424.27 1767.85 425.06 1768.41 426.05 1768.96 427.25 1769.51 428.66 1770.06 430.29 1770.61 432.15 1771.16 434.23 1771.71 436.54 1772.26 439.07 1772.81 441.82 1773.36 444.79 1773.91 447.95 1774.46 451.3 1775.01 454.84 1775.57 458.53 1776.12 462.36 1776.67 466.32 1777.22 470.38 1777.77 474.52 1778.32 478.71 1778.87 482.93 1779.42 487.15 1779.97 491.34 1780.52 495.48 1781.07 499.53 1781.62 503.47 1782.17 507.26 1782.72 510.87 1783.28 514.28 1783.83 517.46 1784.38 520.37 1784.93 522.99 1785.48 525.27 1786.03 527.19 1786.58 528.7 1787.13 529.8 1787.68 530.5 1788.23 530.88 1788.78 531.03 1789.33 531.04 1789.88 530.97 1790.44 530.87 1790.99 530.74 1791.54 530.62 1792.09 530.49 1792.64 530.38 1793.19 530.29 1793.74 530.21 1794.29 530.17 1794.84 530.16 1795.39 530.19 1795.94 530.27 1796.49 530.4 1797.04 530.57 1797.6 530.77 1798.15 531.01 1798.7 531.26 1799.25 531.53 1799.8 531.81 1800.35 532.09 1800.9 532.37 1801.45 532.65 1802 532.95 1802.55 533.26 1803.1 533.57 1803.65 533.9 1804.2 534.22 1804.75 534.55 1805.31 534.88 1805.86 535.2 1806.41 535.5 1806.96 535.79 1807.51 536.05 1808.06 536.3 1808.61 536.53 1809.16 536.74 1809.71 536.94 1810.26 537.12 1810.81 537.31 1811.36 537.49 1811.91 537.66 1812.47 537.82 1813.02 537.98 1813.57 538.13 1814.12 538.28 1814.67 538.41 1815.22 538.53 1815.77 538.65 1816.32 538.75 1816.87 538.84 1817.42 538.92 1817.97 538.99 1818.52 539.05 1819.07 539.11 1819.63 539.15 1821.83 539.32 1824.03 539.45 1826.23 539.57 1828.44 539.67 1830.64 539.74 1832.84 539.79 1835.05 539.82 1837.25 539.84 1839.45 539.86 1841.66 539.87 1843.86 539.88 1846.06 539.9 1848.26 539.91 1850.47 539.92 1852.67 539.93 1854.87 539.94 1857.08 539.95 1859.28 539.95 1861.48 539.96 1863.69 539.96 1865.89 539.97 1868.09 539.97 1870.29 539.97 1872.5 539.97 1874.7 539.97" stroke="#0072bd" stroke-width="2" fill="none" stroke-linejoin="round"/>
<text x="1642.4" y="390.7" text-anchor="end" fill="#262626">1</text>
<text x="1642.4" y="469.93" text-anchor="end" fill="#262626">0.98</text>
<text x="1642.4" y="549.17" text-anchor="end" fill="#262626">0.96</text>
<text x="1642.4" y="628.4" text-anchor="end" fill="#262626">0.94</text>
<text x="1653.8" y="657.3" text-anchor="middle" fill="#262626">-1</text>
<text x="1764.55" y="657.3" text-anchor="middle" fill="#262626">0</text>
<text x="1874.7" y="657.3" text-anchor="middle" fill="#262626">1</text>
<text x="1764.55" y="692.6" text-anchor="middle" fill="#262626">Time (ps)</text>
<text transform="translate(1574.8 497.95) rotate(-90)" text-anchor="middle" fill="#262626">Transmission (%)</text>
<text x="1664.7" y="607.5" fill="#000">8fs<tspan dy="-13" font-size="25.6px">2</tspan><tspan dy="13">/mm</tspan></text>
</g>
<g>
<rect x="102.2" y="746.7" width="220.3" height="239.8" fill="#00008f" stroke="#262626" stroke-width="2"/>
<g clip-path="url(#c20)">
<rect x="102.2" y="746.7" width="220.3" height="239.8" fill="#00008f"/>
<g filter="url(#b)" transform="translate(102.2 746.7)">
<path fill="#0000b4" fill-rule="evenodd" d="M120.6 40.7l1.8 -0.1 1.9 0.3 0.9 0.4 1.9 1.1 2.6 2.7 2.1 3.3 1.4 3.3 1.3 3.8 1.8 4.6 7 12.4 1.9 4.4 4.1 11 2.7 5.5 4.3 7.7 1.9 4.4 0.9 3.3 0.5 3.3 -0 3.2 -0.5 3.3 -1.8 4.4 -2 3.3 -2.3 2.8 -4.6 4.3 -4.7 3.2 -3.7 2.2 -2.8 1.4 -0.9 0.3 -0.9 0.7 -1.6 0.5 -1.2 0.6 -2.8 1.1 -3.7 0.8 -12.9 0.5 -2.8 0.7 -2.8 -0.2 -0.9 0.4 -0.6 0.5 -0.5 1.1 0.2 1.4 1.4 3 1.3 1.4 1.9 0.9 1.8 0.3 1.9 -0.1 6.5 -1.1 1.8 -0.1 0.9 0.1 1.4 0.8 0.5 0.9 0.1 1.3 -0.4 1.1 -0.6 1.1 -1.1 1.1 -3.2 2.2 -4.7 2.2 -4 0.8 -4.6 1.4 -4.4 2.2 -3 2.1 -1.2 1.2 -1.6 2.1 -0.8 2.2 -0.2 2.2 0.7 4.4 0.1 2.2 -0.3 1.1 -1.2 2.2 -2 2 -2.8 1.6 -2.8 0.8 -0.9 0.1 -1.8 -0.2 -1.9 -0.6 -2.8 -2.2 -1.2 -1.5 -1.9 -3.3 -4.3 -11.9 -5.2 -10 -1.5 -3.3 -2.1 -5.5 -1.4 -4.6 -1.8 -5.1 -5.9 -12.3 -2 -5.5 -0.8 -4.4 -0.1 -4.4 0.8 -4.3 1.2 -3.3 1.8 -3.3 1.6 -2.2 2.5 -2.9 3.7 -3.3 2.7 -2.1 5.6 -3.4 6.5 -3 3.7 -1 1.8 -0.2 12.1 -0.3 1.8 -0.6 1.9 -1.3 1 -1.7 0.2 -1.1 -0 -1.1 -0.3 -0.7 -0.9 -1.4 -1 -0.6 -1.8 -0.8 -1.9 0 -3.7 0.8 -1.1 0.5 -3.5 0.9 -1.8 0.1 -1 -0.3 -0.9 -0.6 -0.8 -1.2 -0.2 -1.1 0.4 -2.2 1.3 -2.2 1 -1.1 2.8 -2.2 2.1 -1.1 6.8 -1.1 4.5 -1.1 2.5 -1 0.9 -0.6 1.3 -0.6 1.7 -1.1 2.6 -2.1 0.9 -1.2 0.9 -1.5 0.6 -1.8 0.2 -2.2 -0.8 -5.4 0.3 -2.2 0.4 -1.1 0.8 -1.1 1.1 -1.1 2 -1.6 2.8 -1.3z"/>
<path fill="#0000d0" fill-rule="evenodd" d="M119.5 41.8l2 -0.3 1.8 0.2 1.9 0.6 0.9 0.5 2.6 2.3 2.2 3.3 1 2.2 3.4 8.7 7.9 14.3 1.9 4.4 2.3 6.6 1.8 4.4 6 11 2 4.4 0.8 2.2 1 4.4 0.1 3.2 -0.4 3.3 -0.9 3.3 -1 2.2 -1.3 2.2 -2.6 3.3 -3.6 3.6 -2.8 2.2 -3.7 2.4 -3.7 2.1 -6.5 3 -3.7 1.2 -4.6 0.8 -6.5 0.2 -6.5 0.7 -3.7 -0.2 -0.9 0.3 -0.9 0.7 -0.5 0.6 -0.4 1.1 0.1 1.1 0.8 2.3 0.9 1.4 1.8 1.7 1.9 1.1 3.2 1.2 1.2 1.1 0.4 1.1 -0.1 1.1 -0.5 1.1 -0.8 1.1 -1.2 1.1 -1.7 1.1 -4.2 1.6 -4.7 2.5 -1.8 1.2 -2.6 2.4 -1.6 2.2 -0.8 2.1 -0.3 2.2 0.5 5.5 -0.4 2.2 -0.5 1.1 -0.8 1.1 -1.2 1.1 -2.5 1.6 -2.8 0.9 -1.8 0 -0.9 -0.2 -1.9 -0.8 -1.9 -1.4 -1.1 -1.2 -1.5 -2.2 -1.5 -3.3 -3.1 -8.7 -5.2 -9.9 -2.5 -5.5 -4.5 -13 -1.8 -4.2 -4 -8.1 -2.1 -5.5 -0.9 -3.3 -0.4 -3.3 -0 -3.3 0.5 -3.3 1 -3.2 1 -2.2 2.1 -3.3 1.7 -2.2 4.8 -4.6 6.4 -4.5 6.5 -3.3 2.8 -1 4.6 -0.8 12.1 -0.5 1.8 -0.4 1.9 -1.2 0.9 -1.3 0.5 -1.1 0.2 -1.1 -0 -1.1 -0.4 -1.1 -0.7 -1.1 -0.5 -0.5 -1.9 -1.1 -0.9 -0.3 -4.6 -0.1 -1.9 -0.3 -1.2 -1 -0.3 -1.1 0.1 -1.1 0.3 -1.1 0.6 -1.1 0.9 -1.1 1.5 -1.2 1.9 -1 3.6 -0.7 3.7 -1.2 1.9 -0.9 2.8 -1.5 1.6 -1.2 2.5 -2.2 1.7 -2.2 0.9 -2.2 0.2 -2.2 -0.5 -5.4 0.4 -2.2 0.5 -1.1 0.9 -1.1 1.2 -1.1 2.6 -1.6z"/>
<path fill="#0000ec" fill-rule="evenodd" d="M118.6 42.9l2 -0.5 1.8 0 1.9 0.4 0.9 0.5 1.1 0.7 1.7 1.5 1.8 2.5 1 1.8 3.3 8.4 1.6 3.3 5.3 8.8 1.8 3.6 1.8 4.4 2.3 6.3 1.8 4.4 1.1 2.2 4.3 7.7 2.6 5.5 1.1 3.3 0.8 4.4 -0 3.2 -0.7 3.3 -1.1 3.3 -1 2.1 -1.9 2.7 -2.5 2.9 -3.7 3.3 -3.1 2.3 -5.5 3.3 -6.5 2.8 -4.6 1.4 -3.7 0.6 -7.4 0.4 -5.6 0.6 -3.7 -0.4 -0.9 0.3 -1.2 0.8 -0.8 1.1 -0.3 1.1 -0 1.1 0.4 1.6 0.9 1.7 1 1.4 4.6 4.1 0.5 1.1 0.1 1.1 -0.3 1.1 -0.6 1.1 -1 1.1 -3.2 2.2 -2.9 1.4 -3.7 2.4 -2.8 2.4 -1.2 1.5 -1.2 2.1 -0.6 2.2 -0.1 2.2 0.4 3.3 -0.3 2.2 -0.7 1.9 -0.9 1.2 -1.6 1.3 -2.1 1.2 -2.8 0.4 -1.8 -0.2 -1 -0.4 -1.8 -1.1 -1.1 -1 -1.7 -2.3 -1.9 -3.9 -1.6 -4.8 -1.8 -4.3 -4.9 -9.1 -2 -4.1 -1.7 -4.4 -3.3 -9.9 -1.9 -4.4 -4.1 -8.1 -1.9 -5.1 -0.9 -3.3 -0.3 -3.3 -0 -3.3 0.4 -2.9 0.9 -3.2 1.7 -3.7 3.3 -4.4 3.3 -3.5 2.8 -2.2 4.9 -3.1 6.2 -3.1 3.7 -1.2 4.7 -0.7 12 -0.6 1.8 -0.7 1 -0.7 0.9 -1.1 0.9 -1.8 0.2 -2.2 -0.3 -1.1 -0.8 -1.3 -1.9 -1.7 -1.8 -0.8 -2.8 -0.9 -1.3 -0.8 -0.4 -1.1 0.1 -1.1 0.4 -1.1 0.8 -1.1 1.5 -1.1 2.2 -1.1 4.1 -1.5 4.7 -2.4 2.7 -2 1.9 -1.8 1.7 -2.2 0.6 -1.1 0.3 -1.1 0.3 -2.2 -0.3 -5.4 0.1 -1.1 0.4 -1.1 0.6 -1.1 1 -1.1 1.4 -1.1z"/>
<path fill="#0008ff" fill-rule="evenodd" d="M119.4 44l2.1 -0.3 1.8 0.2 1 0.4 1.8 1.1 1.9 1.9 1.8 3.1 3.9 8.9 5.4 9.1 2.8 5.1 1.5 3.4 4.1 11 2.2 4.4 4.9 8.8 1.9 4.4 0.9 3.3 0.5 3.3 -0.1 3.2 -0.5 3.3 -0.7 2.2 -1 2.2 -2 3.3 -1.8 2.2 -3.4 3.3 -2.8 2.2 -2.8 1.8 -3.7 2.1 -4.6 2.2 -2.8 1 -3.7 1.1 -4.7 0.7 -11.1 1 -4.6 -0.4 -1.3 0.4 -1.4 1.1 -0.7 1.1 -0.3 1.1 -0 1.1 0.2 1.1 0.4 1.1 1.3 2.2 3.6 4.4 0.4 1.1 0.1 1.1 -0.2 1.1 -0.6 1.1 -0.9 1.1 -1.2 1.1 -5.9 3.8 -2.8 2.1 -1.8 1.8 -1.7 2.2 -0.9 2.1 -0.2 1.1 -0.3 6.6 -0.6 1.9 -0.9 1.4 -1.3 1.1 -2.2 1.1 -2.1 0.3 -1.7 -0.3 -1.1 -0.4 -1.8 -1.3 -1.4 -1.6 -1.4 -2.3 -3.9 -9.7 -7.2 -13.4 -1.8 -4.2 -2.1 -6.6 -2 -5.5 -6.2 -12.7 -1.7 -4.9 -0.8 -4.4 -0.1 -4.4 0.8 -4.3 0.9 -2.7 0.9 -1.9 2 -3.1 1.7 -2.2 2.1 -2.2 2.6 -2.2 3 -2.2 3.5 -2.1 5.5 -2.7 4.6 -1.4 5.6 -0.8 10.2 -0.4 1.8 -0.6 1.2 -0.8 0.9 -1.1 1.1 -2.2 0.2 -2.2 -0.3 -1.1 -1.2 -2.2 -0.9 -0.9 -3.6 -2.4 -1 -1.1 -0.1 -1.1 0.3 -1.1 0.9 -1.1 1.5 -1.1 6.6 -3.4 3.7 -2.4 3.5 -3 1.7 -2.2 0.9 -2.2 0.4 -2.2 0.1 -5.4 0.8 -2.2 0.8 -1.1 1.1 -1z"/>
<path fill="#0024ff" fill-rule="evenodd" d="M119.2 46.2l1.4 -0.4 0.9 -0.1 1.8 0.3 1.9 1.1 1.9 1.9 1.6 2.7 3.7 7.6 6.2 9.9 1.8 3.3 2.1 4.4 3.1 8.3 1.6 3.8 6 11 2.4 5.5 1 3.3 0.4 3.3 0 3.2 -0.6 3.3 -1.1 3.3 -1.2 2.2 -2.3 3.3 -1.9 2.2 -2.4 2.2 -2.9 2.2 -3.4 2.2 -3 1.7 -5.6 2.4 -5.5 1.5 -3.8 0.6 -10.1 1 -5.6 -0.3 -1.8 0.6 -1 0.8 -1 1.6 -0.3 1.1 -0 2.2 0.9 2.2 3.6 5.5 0.3 1.1 0.1 1.1 -0.2 1.1 -0.6 1.1 -0.8 1.1 -1.2 1.1 -7.6 5.5 -3.3 3.3 -0.8 1.1 -1 2.1 -0.6 2.2 -0.5 4.4 -0.8 2.2 -0.8 1.1 -1.1 0.9 -0.9 0.4 -1 0.2 -1.8 0 -1 -0.4 -1.7 -1.1 -2 -2.3 -1.1 -2.1 -3.4 -7.6 -5.8 -9.9 -2.7 -5.5 -4.6 -13.2 -1.8 -4 -4 -8.1 -2.2 -5.5 -0.8 -3.3 -0.4 -3.3 -0 -3.3 0.5 -3.3 1 -3.2 1 -2.2 2 -3.3 1.8 -2.2 2.1 -2.2 2.6 -2.2 3 -2.2 2.7 -1.6 4.6 -2.3 2.8 -1 2.7 -0.8 2.8 -0.5 4.7 -0.5 8.3 -0.2 1.8 -0.6 1.8 -1.3 1 -1.5 0.8 -1.8 0.2 -2.2 -0.2 -1.1 -0.8 -1.7 -0.9 -1.4 -2.4 -2.4 -0.8 -1.1 -0.2 -1.1 0.3 -1.1 0.8 -1.1 1.3 -1.1 6.6 -4 3.7 -2.6 1.3 -1.1 2.1 -2.2 1.4 -2.2 0.8 -2.2 0.7 -5.4 0.4 -1.1 0.5 -1.1 0.9 -1.1z"/>
<path fill="#0040ff" fill-rule="evenodd" d="M120.8 48.4l1.6 -0.1 0.9 0.4 1.3 0.8 1.5 1.6 4.9 8.2 6.2 9.4 2.8 4.9 1.9 4.1 2.5 6.9 1.9 4.4 6 11 2.5 5.5 0.9 3.3 0.5 3.3 -0 3.2 -0.6 3.3 -0.7 2.2 -1.6 3.3 -1.5 2.2 -1.7 2.2 -2.2 2.2 -2.6 2.2 -3.2 2.2 -3.9 2.3 -5.6 2.4 -2.8 0.9 -4.6 1 -10.2 1.1 -2.8 0.1 -2.7 -0.2 -1.9 0 -1.8 0.6 -1 0.7 -0.9 1 -0.5 1.1 -0.3 1.1 -0.1 2.2 0.9 2.5 2.5 4.1 0.4 1.1 0.3 1.1 -0 1.1 -0.2 1.1 -0.5 1.1 -2 2.2 -7 5.2 -2.7 2.5 -1.8 2.2 -1.2 2.1 -1.7 5.8 -0.9 1.7 -0.9 0.9 -1 0.4 -0.9 0.1 -0.9 -0.1 -1.9 -1 -1.8 -2.2 -4.2 -7.7 -6.2 -9.9 -2.7 -5.5 -4.7 -13.2 -6.4 -13.2 -1.9 -5.5 -0.8 -3.3 -0.2 -3.3 0.1 -3.3 0.7 -3.2 1.2 -3.3 1.2 -2.2 1.4 -2.2 1.8 -2.2 2.1 -2.2 2.6 -2.2 4.9 -3.3 5.5 -2.7 2.8 -0.9 3.2 -0.8 7.9 -1 6.5 0 1.8 -0.6 1.9 -1.3 1.2 -1.5 0.5 -1.1 0.6 -2.2 -0 -1.1 -0.2 -1.1 -0.8 -2.2 -2.8 -4.4 -0.1 -1.1 0.3 -1.1 0.7 -1.1 1.2 -1.1 8.7 -5.9 2.2 -1.8 2.2 -2.2 1.5 -2.2 0.6 -1.1 2.1 -6.5 0.8 -1.1 0.7 -0.7z"/>
<path fill="#005cff" fill-rule="evenodd" d="M120.4 52.8l1.1 -0.6 0.9 -0.1 0.9 0.3 1.9 1.5 9.3 12.2 2.7 4.2 1.9 3.3 1.8 4.1 4 10.2 2.2 4.4 4.9 8.8 1.9 4.4 1 3.3 0.4 3.3 -0 3.2 -0.5 3.3 -0.9 2.6 -1.5 2.9 -1.4 2.2 -1.8 2.2 -2.2 2.2 -2.6 2.2 -3.2 2.2 -4 2.2 -5.3 2.2 -4 1.1 -4.6 0.8 -8.3 1 -7.4 0 -1.8 0.5 -1.4 1 -0.9 1.1 -0.5 1.1 -0.5 2.2 0.1 1.1 0.5 2.2 2.6 5.5 0.2 2.2 -0.8 2.2 -1.8 2.2 -7.1 5.5 -3.5 3.3 -1.8 2.1 -2.7 4.7 -1 1 -0.9 0.4 -0.9 0 -0.9 -0.3 -1 -0.7 -2.8 -3.5 -7.4 -10.8 -1.8 -3.1 -2 -4.1 -4.8 -13.2 -6.2 -12.7 -1.9 -4.9 -0.9 -3.5 -0.4 -4.2 0.2 -3.3 0.7 -3.2 1.2 -3.3 1.1 -2.2 1.5 -2.2 1.7 -2.2 2.2 -2.2 2.6 -2.2 5.1 -3.3 4.7 -2.2 3.5 -1.2 4.7 -0.9 3.7 -0.4 8.3 -0.3 1.8 -0.6 1.9 -1.1 1.7 -2.1 0.9 -2.2 0.1 -1.1 -0.1 -2.2 -0.3 -1.1 -2 -4.4 -0.4 -1.1 -0 -1.1 0.3 -1.1 0.8 -1.1 1 -1.1 8.2 -5.8 3.5 -3 2.9 -3.3 2.8 -4.6z"/>
<path fill="#0078ff" fill-rule="evenodd" d="M120.4 57.1l1.1 -0.5 0.9 -0.2 0.9 0.2 1.9 0.9 1.9 1.6 2.7 2.9 3.7 4.6 1.9 2.6 2.6 4.4 2 4.3 3.9 10 2.3 4.4 4.9 8.8 1.9 4.4 0.9 3.3 0.5 3.3 -0 3.2 -0.6 3.3 -0.7 2.2 -1 2.4 -1.9 2.9 -1.9 2.4 -2.3 2.2 -2.6 2.2 -5.2 3.3 -5.1 2.2 -6 1.7 -12.1 1.8 -7.4 0.1 -1.8 0.6 -1 0.5 -0.9 0.8 -0.8 1.1 -0.6 1.1 -0.4 2.2 -0 1.1 0.4 2.2 1.9 5.5 0.1 2.2 -0.8 2.2 -1.7 2.2 -9.6 7.7 -4.2 3.9 -1.9 1 -0.9 0.1 -0.9 -0.1 -1 -0.5 -1.8 -1.5 -1.9 -1.9 -2.8 -3.4 -3.7 -5.3 -2.9 -5.5 -1.7 -4.3 -3.2 -8.9 -6 -12.5 -2 -5.1 -0.9 -3.3 -0.5 -4.4 0.2 -3.3 0.7 -3.2 0.6 -1.9 1.1 -2.5 1.3 -2.2 1.7 -2.2 1.9 -2.2 2.4 -2.2 4.7 -3.3 4.4 -2.2 5.6 -1.8 4.7 -0.9 3.7 -0.5 7.4 -0.4 1.8 -0.5 2.3 -1.4 1.8 -2.2 0.9 -2.2 0.2 -1.1 -0.1 -2.2 -1.4 -4.4 -0.5 -2.2 0.1 -1.1 0.3 -1.1 0.7 -1.1 2.3 -2.2 8.3 -6z"/>
<path fill="#0094ff" fill-rule="evenodd" d="M119.6 60.4l1.9 -0.5 1.8 0 1.9 0.7 2.8 2 2.8 2.8 2.7 3.4 1.9 2.6 1.8 3.3 6 14.3 6.1 10.9 1.8 3.9 1 2.4 0.9 3.6 0.3 3.4 -0.3 4 -0.9 3.3 -1.2 2.5 -1.6 2.7 -3.4 3.9 -3.9 3.3 -2.9 1.9 -2.8 1.4 -5.5 2.2 -5.6 1.4 -10.2 1.6 -7.4 0.3 -1.8 0.5 -1.1 0.6 -1.2 1.1 -0.8 1.1 -0.6 1.1 -0.5 2.2 -0.1 1.1 0.3 2.2 0.9 3.3 0.5 2.2 -0.2 2.2 -1 2.2 -0.9 1.2 -2 2.1 -2.7 2.2 -6.4 4.5 -2.8 1.3 -1.8 0.3 -0.9 -0.2 -1 -0.3 -1.8 -1.1 -2.8 -2.6 -2.8 -3.3 -2.8 -4.2 -2.7 -5.8 -3 -8.4 -1.4 -3.3 -4.9 -9.7 -1.8 -4.1 -1 -2.6 -0.9 -3.4 -0.3 -3.3 -0.1 -2.2 0.3 -3.3 0.9 -3.2 2 -4.4 3.3 -4.4 3.5 -3.3 1.5 -1.1 3.6 -2.2 5 -2.2 5.3 -1.5 6.5 -1.2 6.5 -0.4 1.8 -0.3 1.9 -0.8 1.8 -1.3 1.8 -2.2 0.6 -1.1 0.6 -2.2 0.1 -2.2 -0.9 -4.4 -0.1 -2.2 0.6 -2.2 0.7 -1.1 2.1 -2.2 2.8 -2.2 6.5 -4.4z"/>
<path fill="#00afff" fill-rule="evenodd" d="M118.4 63.7l2.2 -0.5 1.8 0 1.9 0.4 1.8 1 2.8 2.1 1.9 1.9 1.8 2.3 1.9 2.8 2.1 4.3 4.2 9.9 6.7 12.1 2.5 5.5 1.2 4.4 0.3 3.3 -0.2 3.2 -0.8 3.3 -0.8 2.2 -1.2 2.2 -1.5 2.2 -1.8 2.2 -2.3 2.2 -2 1.6 -2.5 1.7 -3 1.6 -4.6 2 -5.6 1.5 -10.2 1.8 -7.4 0.4 -1.8 0.6 -1.6 0.9 -1.2 1.1 -0.8 1.1 -0.9 2.2 -0.3 3.3 0.7 4.4 0.1 2.2 -0.4 2.2 -1.2 2.2 -1.9 2 -1.8 1.5 -2.8 1.9 -2.8 1.6 -1.8 0.7 -1.9 0.5 -1.8 0 -0.9 -0.2 -1.9 -0.8 -2.8 -2.1 -2.8 -3.1 -2.1 -3.1 -2.2 -4.4 -4.8 -12.1 -6.6 -13.2 -1.8 -5.5 -0.7 -4.4 0.1 -4.4 1.1 -4.3 0.9 -2.2 1.1 -2.2 1.5 -2.2 1.9 -2.2 3.6 -3.3 4.3 -2.8 3.7 -1.8 4.7 -1.5 7.4 -1.6 7.4 -0.7 2.8 -0.9 1.8 -1.2 1.6 -1.6 0.8 -1.1 1 -2.2 0.5 -3.3 -0.2 -5.5 0.5 -2.2 0.6 -1.1 1.8 -2.2 2.7 -2.2 4.6 -2.8z"/>
<path fill="#00cbff" fill-rule="evenodd" d="M119.2 65.9l1.4 -0.1 1.8 0.1 1.9 0.6 1.8 1 1.9 1.4 1.8 1.9 1.9 2.3 1.6 2.7 1.7 3.3 3.8 8.8 6.9 12.1 2.5 5.5 1.2 4.4 0.3 3.3 -0.2 3.2 -0.8 3.3 -0.8 2.2 -1.2 2.2 -1.4 2.2 -1.9 2.2 -3.7 3.3 -2.5 1.7 -2.8 1.6 -4.6 2 -4.6 1.4 -10.2 1.9 -7.4 0.6 -1.8 0.5 -1.9 1.1 -1.4 1.3 -0.7 1.1 -1 2.2 -0.5 3.3 0.3 4.4 -0.2 2.2 -0.8 2.2 -1.3 1.9 -2.7 2.6 -1.9 1.2 -2.8 1.3 -1.8 0.6 -1.9 0.2 -2.7 -0.5 -1.9 -0.8 -2.7 -2.1 -1.9 -2.3 -1.9 -2.7 -1.9 -3.8 -4.5 -11 -5.2 -9.9 -1.6 -3.3 -1.8 -5.5 -0.7 -4.4 0.1 -4.4 1.1 -4.3 0.9 -2.2 1.1 -2.2 2.4 -3.3 3.3 -3.3 2.2 -1.7 2.6 -1.6 3.9 -1.9 4 -1.4 7.1 -1.6 6.5 -0.7 1.8 -0.4 1.9 -0.7 1.8 -1.1 2.2 -2.1 0.8 -1.1 1.2 -2.2 0.5 -2.2 0.6 -6.6 0.9 -2.2 0.7 -1.1 2.2 -2.2 3 -2 2.7 -1.4z"/>
<path fill="#00e7ff" fill-rule="evenodd" d="M115.3 69.2l2.5 -0.8 1.8 -0.2 1.9 0.1 1.8 0.5 1.9 0.9 2.2 1.7 2 2.2 1.6 2.2 1.8 3.3 4.1 8.8 7.1 12.1 2.5 5.5 1.2 4.4 0.3 3.3 -0.2 3.2 -0.7 3.3 -0.9 2.2 -1.2 2.2 -1.5 2.2 -1.8 2.2 -3.8 3.3 -4.4 2.8 -4.6 2 -4.6 1.5 -9.3 1.8 -7.4 0.8 -1.8 0.5 -1.9 1 -1.8 1.7 -1.4 2.2 -1 3.3 -0.6 6.6 -0.8 2.2 -1.5 2.2 -2.6 2.2 -3.3 1.6 -2.7 0.5 -2.8 -0.3 -1.9 -0.8 -1.8 -1.3 -1.9 -1.8 -1.8 -2.6 -1.9 -3.4 -4.7 -10.6 -4.8 -8.8 -2.1 -4.4 -1.6 -4.4 -0.9 -4.4 -0.1 -4.4 0.8 -4.3 0.8 -2.2 1 -2.2 2.2 -3.3 3 -3.3 2.7 -2.2 1.9 -1.3 3.8 -2 3.6 -1.4 7.4 -1.9 8.3 -1.2 2.5 -1 2.1 -1.4 1.9 -1.9 1.6 -2.2 0.6 -1.1 0.7 -2.2 1.1 -5.5 0.6 -1.7 1 -1.6 2.1 -2.2 1.6 -1.1z"/>
<path fill="#04fffb" fill-rule="evenodd" d="M115.5 71.4l2.3 -0.7 1.8 -0.1 1.9 0.2 1.8 0.6 1.9 1.1 1.9 1.7 1.3 1.6 1.4 2.1 5.8 11.1 6.7 11 2.6 5.5 1.2 4.4 0.3 3.3 -0.2 3.2 -0.8 3.3 -0.8 2.2 -1.2 2.2 -2.4 3.3 -3.4 3.3 -3 2.2 -2 1.2 -3.7 1.7 -4.6 1.6 -9.6 2.1 -7.1 0.8 -1.8 0.5 -1.9 1 -1.3 1 -1.1 1.1 -1.4 2.2 -1.2 3.3 -0.8 4.4 -0.7 2.1 -0.9 1.8 -0.9 1.2 -1.9 1.6 -2.8 1.4 -2.7 0.4 -2.8 -0.5 -1.9 -1 -1.8 -1.5 -2.6 -3.3 -1.7 -3.3 -3.7 -7.7 -6.1 -11 -2.1 -4.4 -1.4 -4.4 -0.7 -4.4 0.1 -4.4 1 -4.3 0.9 -2.2 1.2 -2.2 2.5 -3.3 3.4 -3.3 3.6 -2.5 3.9 -1.9 4.5 -1.6 4.6 -1.2 6.5 -1 2.7 -0.7 1.9 -0.7 2.1 -1.4 2.4 -2.2 2.4 -3.3 0.9 -2.2 1.5 -4.7 0.9 -1.9 0.7 -1.1 2.1 -2z"/>
<path fill="#20ffdf" fill-rule="evenodd" d="M116.4 73.6l2.3 -0.5 2.8 0.4 2.4 1.2 2.2 2 2.6 3.5 4.4 7.7 7 11 2.8 5.5 1.1 3.3 0.5 2.2 0.4 3.3 -0.1 2.1 -0.3 2.2 -0.6 2.2 -0.9 2.2 -1.2 2.2 -2.4 3.3 -3.4 3.3 -2.5 1.8 -2.5 1.5 -3.9 1.8 -4.7 1.5 -8.3 1.8 -6.5 0.9 -1.8 0.5 -2.4 1.2 -2.4 2.2 -1.5 2.2 -1.6 3.3 -1.5 4.4 -0.8 1.6 -1.3 1.7 -1.5 1.3 -1.9 0.9 -2.7 0.4 -1.9 -0.4 -1.8 -0.9 -1 -0.7 -1.7 -1.7 -1.1 -1.5 -5.8 -10.6 -5.3 -8.8 -2.7 -5.5 -1.4 -4.4 -0.7 -4.4 0.1 -4.4 0.4 -2.2 0.6 -2.1 1 -2.2 1.2 -2.2 2.5 -3.3 3.5 -3.3 3.2 -2.2 4.4 -2.1 3.7 -1.3 4.6 -1.2 6.5 -1.2 1.8 -0.5 2.8 -1.2 1.9 -1.3 2.5 -2.2 2.8 -3.3 1.1 -2.2 1.9 -4.1 0.9 -1.5 1.9 -1.9z"/>
<path fill="#3cffc3" fill-rule="evenodd" d="M115.9 76.9l1.9 -0.7 1.8 -0.1 2.5 0.8 2.2 1.6 2.8 3.3 11.4 17.1 2.8 5.5 1.2 3.3 0.5 2.2 0.4 3.3 -0.1 2.1 -0.6 3.3 -0.7 2.2 -1.7 3.3 -2.4 3.3 -3.4 3.3 -2.8 1.9 -3.7 2 -4.7 1.8 -8.1 2 -8.5 1.4 -2.8 1.1 -2.5 1.9 -2 2.2 -1.5 2.2 -3.3 5.7 -1.8 2.2 -1.2 0.9 -1.6 0.6 -1.8 0.1 -1.9 -0.5 -2 -1.3 -2.6 -3 -9.9 -15.7 -1.9 -3.3 -1.6 -3.3 -1.5 -4.4 -0.7 -4.4 0.1 -4.4 0.5 -2.2 0.6 -2.1 1.5 -3.3 2.2 -3.3 2 -2.2 3.1 -2.6 3.7 -2.3 4 -1.7 6.2 -1.9 8.3 -1.8 3.7 -1.7 3.3 -2.3 2.5 -2.2 1.9 -2.2 3.5 -5.2 1.2 -1.4z"/>
<path fill="#57ffa8" fill-rule="evenodd" d="M116.4 80.2l1.4 -0.5 0.9 -0.2 1.9 0.3 1.8 0.9 1.9 1.5 2.8 3.2 4.6 6 3.7 5.1 2.2 3.5 1.8 3.3 0.9 2.2 1 3.3 0.4 2.2 0.2 3.2 -0.2 2.2 -0.4 2.2 -0.8 2.2 -1.6 3.3 -2.5 3.3 -2.9 2.7 -3.7 2.6 -3.7 1.9 -4.6 1.7 -7.4 1.8 -6.5 1.1 -2.8 0.9 -1.8 1 -2.3 1.7 -2.2 2.2 -4.8 5.6 -1.8 1.6 -1.9 0.9 -0.9 0.2 -1.9 -0.3 -0.9 -0.4 -1.8 -1.3 -1.9 -1.9 -1.9 -2.4 -7.4 -10.6 -2 -3.5 -1.6 -3.3 -1.2 -3.3 -0.6 -2.2 -0.5 -4.4 0.3 -4.4 0.6 -2.1 0.8 -2.2 1.7 -3.3 2.5 -3.3 2.4 -2.2 3 -2.2 3 -1.6 4.1 -1.7 4.2 -1.3 7.4 -1.7 3.8 -1.4 2.7 -1.6 4 -2.8 2.5 -2.2 3.7 -3.8z"/>
<path fill="#73ff8c" fill-rule="evenodd" d="M116.4 83.5l1.4 -0.5 0.9 0 1.9 0.3 1.8 0.8 1.9 1.4 2.8 2.8 3.7 4.3 3.7 4.9 2.2 3.6 1.7 3.3 0.9 2.2 0.8 3.3 0.3 2.2 0 3.2 -0.3 2.2 -0.6 2.2 -0.9 2.2 -1.9 3.3 -2.9 3.3 -2.5 2.2 -3.5 2.2 -3.5 1.7 -4.8 1.6 -5.4 1.4 -6.5 1.2 -2.8 0.9 -1.8 0.9 -1.7 1.1 -5.7 4.8 -3.7 2.6 -1.9 0.7 -0.9 0.1 -0.9 -0.1 -1.9 -0.6 -1.8 -1.3 -1.9 -1.7 -4.6 -5.5 -4.7 -6.7 -2.7 -5.5 -1.4 -4.4 -0.5 -4.4 0.3 -4.4 0.6 -2.1 0.8 -2.2 1.8 -3.3 2.6 -3.3 2.3 -2.2 3.2 -2.2 3.2 -1.7 4.3 -1.6 3.7 -1.1 5.9 -1.4 3.7 -1.4 5 -2.7 8 -5.4z"/>
<path fill="#8fff70" fill-rule="evenodd" d="M114 86.8l2.9 -1 1.8 -0.1 1.9 0.4 1.8 0.8 2.8 2 2.8 2.7 2.8 3.1 3.1 4.2 2 3.3 1.6 3.3 1 3.3 0.4 2.2 0.2 3.2 -0.2 2.2 -0.8 3.3 -0.9 2.2 -1.9 3.3 -2.9 3.3 -3.5 2.8 -3.7 2.1 -3.7 1.5 -4.1 1.3 -4.3 1.1 -6.4 1.3 -1.9 0.6 -2.7 1.4 -7.5 4.9 -2.7 1.2 -2.8 0.4 -1.9 -0.3 -0.9 -0.4 -1.8 -1.1 -1.9 -1.6 -1.9 -1.8 -2.7 -3.3 -3.7 -5.4 -2.4 -4.7 -1.4 -4.4 -0.6 -4.4 0.4 -4.4 0.5 -2.1 0.9 -2.2 1.8 -3.3 2.6 -3.3 2.5 -2.2 3.3 -2.2 2.6 -1.3 3.7 -1.5 12 -3.5 3.2 -1.4z"/>
<path fill="#abff54" fill-rule="evenodd" d="M116.6 87.9l2.1 0 1.9 0.4 2.7 1.4 1.9 1.3 2.8 2.6 2.8 3.1 2.3 3.3 2 3.3 1.4 3.3 0.7 2.2 0.4 2.2 0.2 2.2 -0.2 3.2 -0.5 2.2 -0.7 2.2 -1.1 2.2 -2.3 3.3 -3.4 3.3 -3.2 2.2 -4.5 2.2 -6.7 2.2 -7.6 1.8 -2.8 0.8 -2.8 1.2 -5.5 3.2 -3.7 1.4 -1.9 0.4 -1.8 0 -1.9 -0.5 -1.8 -0.8 -1.9 -1.3 -1.8 -1.7 -4 -4.5 -1.6 -2.2 -1.8 -3.2 -2 -4.5 -1 -4.4 -0.1 -4.4 0.3 -2.2 0.6 -2.1 0.8 -2.2 1.1 -2.2 2.5 -3.3 2.2 -2.2 2.9 -2.2 2.9 -1.6 5.5 -2.2 10.2 -3.1 11.1 -4.8 2.8 -1z"/>
<path fill="#c7ff38" fill-rule="evenodd" d="M113.1 90.1l2.8 -0.5 1.9 0 1.8 0.3 2.8 1.1 2.8 1.9 1.9 1.7 2.7 3 1.9 2.4 1.8 3 1.2 2.5 1.1 3.3 0.5 2.2 0.2 3.2 -0.2 2.2 -0.8 3.3 -1 2.2 -2 3.3 -3.1 3.3 -3.3 2.5 -4.6 2.4 -5.6 2 -10.1 2.6 -2.8 1 -6.5 3.1 -2.8 0.9 -1.8 0.3 -1.9 0 -1.8 -0.3 -1.9 -0.7 -1.8 -1.1 -1.9 -1.5 -3.7 -3.9 -1.9 -2.6 -1.5 -2.5 -1.9 -4.4 -1.1 -4.4 -0.1 -4.4 0.3 -2.2 0.6 -2.1 1.4 -3.3 2.2 -3.3 2 -2.2 2.6 -2.2 3.7 -2.2 5.2 -2.2 8.9 -2.7 9.2 -3.6z"/>
<path fill="#e3ff1c" fill-rule="evenodd" d="M113.9 91.2l2 -0.2 2.8 0.3 1.9 0.6 2.7 1.4 2.8 2.2 1.9 1.9 2.1 2.6 1.6 2.3 1.6 3.2 0.9 2.2 0.8 3.3 0.2 2.2 -0.2 3.2 -0.5 2.2 -0.8 2.2 -1.1 2.2 -2.4 3.3 -3.6 3.3 -3.5 2.2 -5.1 2.2 -3.9 1.3 -9.3 2.5 -6.5 2.6 -3.7 1.1 -2.7 0.3 -1.9 -0.1 -2.8 -0.7 -1.8 -1 -1.9 -1.3 -1.6 -1.4 -3 -3.5 -2.6 -4.2 -1.8 -4.4 -0.9 -4.4 0 -3.3 0.3 -2.2 0.6 -2.1 1.6 -3.7 2.1 -2.9 2 -2.2 2.8 -2.2 3.9 -2.2 5.5 -2.2 7.8 -2.4 7.4 -2.6 3.7 -1.1z"/>
<path fill="#feff01" fill-rule="evenodd" d="M108.5 93.4l2.8 -0.7 2.8 -0.3 2.8 0 1.8 0.4 2.8 1.1 1.8 1.1 2.2 1.7 2.2 2.2 2.1 2.7 1.7 2.8 1.1 2.6 0.9 2.9 0.4 3.3 -0.1 2.1 -0.6 3.3 -0.8 2.2 -1.1 2.2 -1.5 2.2 -2.7 2.9 -3.7 2.6 -4.5 2.2 -4.8 1.7 -8.3 2.3 -7.5 2.6 -2.7 0.7 -2.8 0.3 -1.9 0 -1.8 -0.4 -1.9 -0.7 -1.8 -1 -1.5 -1.1 -3.2 -3 -2.5 -3.6 -2.1 -4.4 -1.2 -4.4 -0.2 -3.3 0.2 -2.2 0.5 -2.2 1.2 -3.2 2 -3.3 1.9 -2.2 2.5 -2.2 3.4 -2.2 2.7 -1.3 3.7 -1.5z"/>
<path fill="#ffe400" fill-rule="evenodd" d="M107.7 94.5l3.6 -0.7 2.8 -0.2 2.8 0.1 1.8 0.5 2.8 1.2 1.8 1.2 1.9 1.5 1.8 1.9 1.7 2.2 1.4 2.2 1 2.2 1.1 3.3 0.4 3.3 0 2.1 -0.7 3.3 -0.8 2.2 -1.9 3.3 -1.8 2.2 -1.3 1.3 -2.6 2 -1.8 1.1 -4.7 2.2 -6.8 2.2 -5.4 1.5 -5.6 1.8 -2.7 0.6 -2.8 0.3 -1.8 0 -2.8 -0.6 -1.9 -0.7 -2.7 -1.8 -1.9 -1.7 -1.4 -1.6 -2.3 -3.3 -1.1 -2.2 -0.9 -2.2 -0.6 -2.2 -0.3 -2.2 0 -3.3 0.6 -3.3 1.2 -3.2 2 -3.3 1.9 -2.1 1.8 -1.6 2.8 -1.9 4.2 -2.1 2.8 -1.1 10.4 -3.3z"/>
<path fill="#ffc800" fill-rule="evenodd" d="M107.2 95.6l4.1 -0.7 1.9 -0.1 2.7 0.2 2.6 0.6 2.4 1.1 1.8 1.1 1.6 1.3 1.8 1.9 1.7 2.3 1.3 2.2 1.4 3.3 0.5 2.2 0.2 2.2 0 2.1 -0.7 3.3 -0.8 2.2 -2 3.3 -3 3.3 -1.4 1.1 -2.7 1.7 -4.7 2.1 -4.9 1.7 -9.9 2.9 -4.6 1 -2.8 0.2 -1.8 -0.2 -2.5 -0.6 -1.2 -0.5 -2.9 -1.7 -2.7 -2.5 -1.5 -1.9 -1.3 -2 -1.5 -3.5 -0.8 -3.3 -0.3 -3.3 0.4 -3.3 0.6 -2.1 0.7 -1.7 1.6 -2.7 1.8 -2.2 2.4 -2.2 3.3 -2.2 3.9 -1.8 3.9 -1.5 7.1 -2.2z"/>
<path fill="#ffac00" fill-rule="evenodd" d="M107.8 96.7l2.6 -0.3 2.8 -0.1 2.7 0.3 1.9 0.6 1.8 0.7 1.9 1.2 1.8 1.4 1.6 1.7 1.7 2.2 1.2 2.2 0.8 2.2 0.6 2.2 0.3 3.2 -0.2 2.2 -0.5 2.2 -0.9 2.2 -2 3.3 -1.6 1.8 -1.7 1.5 -3.9 2.5 -5.5 2.4 -9.3 2.8 -3.7 0.9 -2.8 0.5 -2.8 0.1 -1.8 -0.2 -2.8 -0.7 -1.8 -0.8 -2.8 -1.9 -2.2 -2.3 -2.2 -3.3 -1.4 -3.3 -0.6 -3.3 -0.1 -3.3 0.6 -3.3 1.4 -3.2 1.3 -2.2 2.3 -2.5 2.3 -1.9 3.2 -2 3.7 -1.7 5.2 -1.8 4.1 -1.2z"/>
<path fill="#ff9000" fill-rule="evenodd" d="M110.1 97.8l2.2 0 2.7 0.3 1.9 0.5 1.8 0.8 1.9 1.1 1.8 1.6 1.2 1.2 1.6 2.2 1.1 2.2 0.8 2.2 0.5 2.2 0.1 2.1 -0.2 2.2 -0.5 2.2 -1.5 3.3 -2.6 3.3 -2.3 2.1 -1.9 1.2 -4.4 2.2 -6.3 2.2 -6.9 1.7 -4.6 0.5 -2.8 -0.2 -1.8 -0.3 -1.9 -0.7 -1.8 -1 -2.8 -2.2 -1.9 -2.3 -1.7 -3.2 -1 -3.3 -0.3 -3.3 0.4 -3.3 1.1 -3.2 1.3 -2.2 1.7 -2.2 2.5 -2.2 2.5 -1.7 3.1 -1.6 4.3 -1.7 4.6 -1.4 4.7 -1z"/>
<path fill="#ff7400" fill-rule="evenodd" d="M103.6 100l4.9 -0.7 2.8 0 1.9 0.2 1.8 0.4 1.9 0.6 1.8 1 1.9 1.3 1.5 1.6 1.2 1.6 1 1.7 0.9 2.2 0.5 2.2 0.2 2.1 -0.2 2.2 -0.6 2.2 -1.6 3.3 -1.1 1.5 -1.6 1.8 -2.9 2.2 -4.1 2.2 -6 2.2 -3.9 1 -2.8 0.5 -4.6 0.3 -2.8 -0.3 -1.8 -0.5 -2.1 -1 -2.6 -1.8 -1.8 -2.1 -1.7 -2.7 -0.8 -2.2 -0.6 -3.3 0.2 -3.3 0.5 -2.2 0.9 -2.1 1.5 -2.5 1.7 -1.9 2.7 -2.2 3 -1.8 3.4 -1.5 3.1 -1.1z"/>
<path fill="#ff5900" fill-rule="evenodd" d="M105.2 101.1l2.4 -0.3 2.8 0 3.7 0.6 1.8 0.7 1.9 1 2.7 2.4 1 1.2 1.2 2.1 1 3.3 0.2 2.1 -0.2 2.2 -1 3.3 -2.1 3.3 -2.2 2.2 -3.2 2.2 -4.8 2.2 -5.6 1.7 -4.6 0.7 -2.8 0.1 -1.8 -0.2 -1.9 -0.4 -1.8 -0.7 -2.1 -1.2 -2.4 -2.2 -1.6 -2.2 -0.9 -2.2 -0.6 -2.2 -0.1 -3.3 0.3 -2.2 0.8 -2.1 1.2 -2.2 1.7 -2.2 1.8 -1.7 2.4 -1.6 2.2 -1.2 3.7 -1.5 3.7 -1.1z"/>
<path fill="#ff3d00" fill-rule="evenodd" d="M101.7 103.3l5 -0.8 3.7 0.1 3.7 0.8 2.8 1.5 1.8 1.7 0.9 1.1 1.3 2.2 0.8 3.3 0.1 2.1 -0.3 1.7 -1 2.7 -0.9 1.5 -1.4 1.8 -2.5 2.2 -3.5 2.1 -4.6 1.8 -4.6 1 -3.7 0.3 -3.7 -0.3 -1.9 -0.6 -2 -1 -1.7 -1.2 -1.8 -2.2 -1.2 -2.1 -0.6 -2.2 -0.2 -3.3 0.3 -2.2 0.8 -2.1 1.4 -2.2 1.3 -1.6 1.9 -1.7 3.7 -2.2 2.7 -1.2z"/>
<path fill="#ff2100" fill-rule="evenodd" d="M105 104.4l3.5 -0.1 2.8 0.4 2.8 1.1 2.5 1.9 1.6 2.2 0.6 1.1 0.6 2.2 0.1 2.1 -0.4 2.2 -0.4 1.1 -1.3 2.2 -2.4 2.6 -2.8 2 -3.7 1.7 -3.7 1 -3.7 0.5 -3.7 -0.2 -3.2 -1 -1.8 -1.1 -1.3 -1.1 -1.1 -1.4 -1 -1.9 -0.3 -1.1 -0.4 -2.2 0.2 -2.2 0.6 -2.2 0.9 -1.6 1.2 -1.6 1.6 -1.7 2.3 -1.6 2 -1.1 2.8 -1.1 3.1 -0.8z"/>
<path fill="#ff0500" fill-rule="evenodd" d="M103.6 106.6l3.1 -0.3 2.8 0.3 2.7 1 1.7 1.2 1.1 1.1 0.8 1.1 0.8 2.2 0.2 2.1 -0.4 2.2 -1.1 2.2 -1.9 2.2 -2.1 1.6 -2.8 1.5 -3.7 1.1 -2.8 0.4 -2.7 -0.1 -2.8 -0.6 -1.2 -0.6 -1.6 -1.1 -1 -1.1 -0.8 -1.2 -0.8 -2.1 -0.2 -1.1 0 -1.1 0.4 -2.2 0.6 -1.2 1.3 -2 2.4 -2.3 1.6 -1 2.1 -1z"/>
<path fill="#e80000" fill-rule="evenodd" d="M100.7 109.9l3.2 -0.9 1.9 -0.1 1.8 0.2 1.9 0.6 0.9 0.4 1.1 0.9 0.7 0.7 0.9 1.5 0.3 1 -0 2.2 -0.9 2.2 -1.9 2.2 -1.5 1.1 -2.4 1.2 -2.8 0.7 -1.9 0.1 -1.8 -0.1 -1.9 -0.5 -1.8 -1 -0.9 -0.9 -1 -1.4 -0.4 -1.4 0 -1.1 0.4 -2.2 1 -1.7 1.4 -1.5 1.5 -1.1z"/>
<path fill="#d70000" fill-rule="evenodd" d="M103.7 113.2l2.1 0 1.7 1 0.5 1.1 0 1.1 -0.4 1.1 -1.1 1.1 -0.7 0.5 -1.9 0.6 -1.9 0 -0.9 -0.3 -1 -0.8 -0.6 -1.1 0 -1.1 0.5 -1.1 1 -1.1 1 -0.5z"/>
</g>
<path d="M102.2 806.65h3.5M322.5 806.65h-3.5M102.2 866.6h3.5M322.5 866.6h-3.5M102.2 926.55h3.5M322.5 926.55h-3.5M212.35 746.7v3.5M212.35 986.5v-3.5" stroke="#1a1a3a" stroke-width="1.6" fill="none" opacity="0.7"/>
<path d="M190.32 746.7V986.5M223.37 746.7V986.5M102.2 830.63H322.5M102.2 902.57H322.5" stroke="#fff" stroke-width="2.1" stroke-dasharray="21 13.2" fill="none"/>
</g>
<text x="90" y="760" text-anchor="end" fill="#262626">-1</text>
<text x="90" y="819.95" text-anchor="end" fill="#262626">-0.5</text>
<text x="90" y="879.9" text-anchor="end" fill="#262626">0</text>
<text x="90" y="939.85" text-anchor="end" fill="#262626">0.5</text>
<text x="90" y="999.8" text-anchor="end" fill="#262626">1</text>
<text x="102.2" y="1028.3" text-anchor="middle" fill="#262626">1.45</text>
<text x="212.35" y="1028.3" text-anchor="middle" fill="#262626">1.55</text>
<text x="322.5" y="1028.3" text-anchor="middle" fill="#262626">1.65</text>
<text x="210.55" y="1061.7" text-anchor="middle" fill="#262626">Wavelength (<tspan font-style="italic" font-size="34px" dx="2.5">μ</tspan><tspan dx="2.5">m)</tspan></text>
<text transform="translate(27.5 866.6) rotate(-90)" text-anchor="middle" fill="#262626">Time (ps)</text>
</g>
<g>
<rect x="489.2" y="746.7" width="220.3" height="239.8" fill="#00008f" stroke="#262626" stroke-width="2"/>
<g clip-path="url(#c21)">
<rect x="489.2" y="746.7" width="220.3" height="239.8" fill="#00008f"/>
<g filter="url(#b)" transform="translate(489.2 746.7)">
<path fill="#0000b4" fill-rule="evenodd" d="M121 33l1.6 -0.2 1.8 0.5 1.8 1.2 0.9 0.8 1.8 1.9 2.6 3.5 1.3 2.2 1.7 3.3 2.1 5.5 3 9.3 6 13.7 4.7 13.7 5.7 13.8 1 3.3 0.8 4.4 0 4.3 -0.6 3.3 -1.1 3.3 -1.2 2.2 -1.4 2.2 -1.7 2.2 -1.5 1.6 -2.7 2.4 -2.6 2 -1.2 0.6 -0.6 0.6 -1.2 0.5 -0.6 0.5 -1.5 0.6 -1.2 0.8 -0.9 0.2 -0.9 0.7 -1.8 0.5 -0.8 0.6 -1.8 0.4 -0.9 0.6 -2.7 0.5 -0.9 0.5 -0.9 0.3 -3.2 0.4 -1.3 0.7 -3.5 0.3 -0.9 0.7 -2.7 0.5 -0.9 0.6 -1.8 0.5 -2.7 0.4 -0.8 0.6 -0.5 1.2 0.1 1.1 0.4 0.8 1 1.4 1.1 1.1 0.5 0.4 2.7 1.1 5.4 0.5 1 0.2 0.8 0.4 0.8 0.7 0.6 1.1 0 1.1 -0.4 1.1 -1.7 2.2 -2.9 2.2 -5.4 1.9 -5.3 2.4 -0.9 0.7 -0.9 0.4 -2.4 2.3 -1.2 1.5 -0.9 1.6 -0.3 1.2 0 3.3 0.9 4.4 0.2 2.2 -0.5 2.2 -0.6 1.1 -3.3 3.8 -6.2 5.6 -3.6 2.4 -1.8 0.5 -0.9 0 -1.7 -0.7 -1.8 -1.3 -1.8 -1.9 -2.1 -2.9 -1.9 -3.3 -2 -4.4 -1.5 -4.4 -2.3 -8 -5.9 -15 -4 -12.9 -4.1 -11.3 -1.5 -4.4 -0.9 -4.4 -0.3 -2.2 -0.1 -3.3 0.4 -3.3 0.8 -3.2 0.9 -2.2 2.5 -4.4 2.3 -2.9 1.8 -1.8 2.7 -2.3 1.8 -1.3 0.9 -0.4 0.9 -0.8 0.9 -0.3 0.9 -0.7 1.3 -0.5 0.5 -0.4 1.7 -0.6 0.9 -0.7 1.8 -0.4 0.9 -0.6 2.7 -0.6 0.9 -0.6 3.6 -0.5 0.8 -0.5 3.6 -0.5 0.9 -0.6 1.8 -0.3 1.8 -0.7 1.8 -0.1 0.9 0.6 0.9 0.1 0.9 -0.2 0.9 -1.1 -0 -1.1 -1.5 -3.3 -1.2 -2.1 -0.9 -0.7 -1.8 -0.7 -5.4 -0.7 -0.7 -0.2 -1.1 -0.6 -0.6 -0.5 -0.5 -1.1 -0.1 -1.1 0.3 -1.1 0.6 -1.1 1 -1.1 2.7 -2.2 8.7 -3.3 3.7 -2.2 2.4 -2.2 1.6 -2.2 0.8 -1.8 0.2 -1.5 -0.2 -3.2 -1.1 -4.4 -0 -1.1 0.5 -2.2 0.7 -1.1 1.7 -2.2 5.3 -5 4.5 -3.5 1.8 -1.1z"/>
<path fill="#0000d0" fill-rule="evenodd" d="M121.3 34.1l1.3 -0.1 1.8 0.5 1.8 1.2 1.8 1.6 1.8 2.1 1.8 2.6 1.2 2 1.5 3.3 1.3 3.3 3.1 9.5 6.4 14.6 5 14.3 4.2 9.9 1.6 4.4 0.9 3.3 0.5 3.3 0 3.3 -0.3 3.2 -1 3.3 -1 2.2 -2.9 4.4 -1.9 2.2 -2.6 2.4 -4.4 3.2 -4.5 2.5 -3.6 1.5 -0.8 0.5 -1.8 0.5 -1.8 0.8 -1.8 0.3 -1.8 0.7 -2.7 0.4 -2.6 0.8 -2.7 0.4 -0.9 0.4 -5.4 1.6 -2.7 0.2 -0.8 0.4 -0.8 1 -0.3 1.1 0.2 1.5 0.9 1.7 1 1.2 1.6 1.2 4.6 2.1 1.2 1.1 0.4 1.1 0 1.1 -0.3 1.1 -1.6 2.2 -1.2 1.1 -1.6 1.1 -4.1 1.8 -3.6 2.2 -2.7 2.3 -1.1 1.4 -1.1 2.2 -0.5 2.1 0 2.2 0.9 4.4 0.1 2.2 -0.6 2.2 -1.4 2.2 -3.4 3.6 -5.4 4.5 -2.7 1.5 -1.8 0.4 -0.9 -0.1 -1.7 -0.6 -0.9 -0.6 -1.8 -1.6 -1.8 -2.1 -3.1 -5 -1.9 -4.4 -3.7 -12 -6 -15.4 -4.1 -13.1 -4.8 -13.3 -0.9 -3.3 -0.7 -5.5 0.1 -3.3 0.5 -3.3 1 -3.2 0.9 -2.2 2.9 -4.4 1.9 -2.2 2.7 -2.6 4.5 -3.2 6.2 -3.1 3.6 -1.4 3.6 -1 7.1 -1.5 1.8 -0.7 2.7 -0.6 0.9 0 1.8 0.6 0.9 0.1 0.8 -0.2 1 -0.7 0.5 -1.1 0.1 -1.1 -0.3 -1.1 -1.6 -3.3 -1.4 -1.8 -1.8 -1.1 -3.1 -1.5 -1.1 -1.1 -0.4 -1.1 0.1 -1.1 0.3 -1.1 1.5 -2.2 1.2 -1.1 1.6 -1.1 1.7 -0.6 4.4 -2.3 1.8 -1.3 2.7 -2.5 1.4 -2.1 0.6 -1.1 0.2 -1.1 0.2 -3.3 -0.9 -4.3 -0.1 -2.2 0.6 -2.2 0.7 -1.1 2.8 -3.3 4.3 -3.8 2.7 -2.1 1.8 -1.1z"/>
<path fill="#0000ec" fill-rule="evenodd" d="M120.5 35.2l1.3 -0.2 1.7 0.2 1.8 0.8 1.8 1.4 1.8 1.9 1.8 2.3 2.7 4.8 1.7 4.4 3.2 9.6 6.8 15.4 4.1 12.1 4.7 11.2 1.8 5 0.9 3.7 0.2 2.1 0.1 3.3 -0.3 2.9 -0.9 3.3 -0.9 2.1 -0.9 1.7 -2.2 3.1 -3.2 3.4 -2.6 2.2 -3.6 2.4 -3.6 2 -8 3.3 -3.7 1 -7.9 1.7 -5.4 1.6 -2.7 0 -0.9 0.2 -1.4 0.9 -0.8 1.1 -0.3 1.1 0.1 1.1 0.3 1.1 1.3 2 0.8 1 3.5 2.5 1.2 1.1 0.6 1.1 0.1 1.1 -0.2 1.1 -0.4 1.1 -0.8 1.1 -1.1 1.1 -3.2 2.2 -3.2 1.9 -2.7 2 -1.5 1.6 -1.5 2.2 -0.8 2.1 -0.3 2.2 0.2 2.2 0.6 3.3 0 2.2 -0.2 1.1 -0.4 1.1 -1.4 2.2 -4.5 4.5 -4.5 3.3 -2.7 1.1 -1.8 0.1 -0.8 -0.3 -1.8 -1 -2.7 -2.6 -2.8 -4 -2.6 -5.5 -4.1 -13.1 -5.7 -14.3 -4 -13.2 -4.9 -13.3 -1.1 -4.3 -0.4 -4.4 0 -3.3 0.5 -3.3 1 -3.2 0.9 -2 0.9 -1.7 2.1 -2.9 1.9 -2.2 2.3 -2.2 4.6 -3.3 4.2 -2.3 5.4 -2.1 2.7 -0.8 11.6 -2.8 0.9 -0.1 2.7 0.7 0.9 0 1.2 -0.3 1.2 -1.1 0.4 -1.1 0.1 -1.1 -0.3 -1.4 -1.5 -3 -1.1 -1.7 -3.2 -2.7 -1 -1.1 -0.4 -1.1 -0.2 -1.1 0.2 -1.1 0.5 -1.1 0.8 -1.1 1.1 -1.1 1.4 -1.1 6.1 -3.7 2.7 -2.5 1.2 -1.5 1.1 -2.2 0.5 -2.2 0.1 -2.2 -0.7 -4.3 -0.1 -2.2 0.6 -2.1 0.9 -1.5 2.6 -3 3.8 -3.3 3.4 -2.4z"/>
<path fill="#0008ff" fill-rule="evenodd" d="M118 37.4l2 -0.9 1.8 -0.2 1.7 0.2 1.8 0.9 1.8 1.4 1.8 1.9 1.8 2.4 1.8 3.1 1.8 4.2 3.8 11.1 5.9 13.2 4.6 13.2 5.1 12.1 1.1 3.1 0.9 3.3 0.6 4.6 -0.1 3.2 -0.5 3.3 -0.9 2.7 -0.9 1.9 -1.9 3.1 -1.8 2.2 -3.4 3.3 -3 2.2 -3.3 2.1 -4.5 2.2 -5.3 2 -3.6 1.1 -8 1.8 -4.5 1.2 -4.5 0.3 -0.8 0.4 -1.2 1 -0.7 1.1 -0.2 1.1 0 1.1 0.2 1.1 0.5 1.1 1.4 1.8 3.6 3.7 0.6 1.1 0.2 1.1 -0.1 1.1 -0.4 1.1 -0.7 1.1 -1 1.1 -7.6 5.6 -1.9 2.1 -1.6 2.2 -0.8 2.1 -0.3 2.2 0.5 5.5 -0.1 2.2 -0.7 2.2 -1.4 2.2 -3.3 3.3 -3.8 2.9 -2.7 1.3 -1.8 0.2 -0.9 -0.1 -0.8 -0.2 -1.8 -1 -2.7 -2.6 -2.5 -3.8 -2 -4.1 -4 -12.3 -5.8 -14.3 -4.8 -15.4 -3.2 -8.5 -1.6 -4.7 -1.1 -5.5 -0.1 -4.4 0.3 -3.3 0.8 -3.2 0.9 -2.2 1.1 -2.2 1.5 -2.3 1.7 -2.1 2.1 -2.2 2.6 -2.2 3.4 -2.2 3.5 -1.9 2.7 -1.2 6.3 -2 10.7 -2.5 0.9 0 2.7 0.7 0.9 0 1.7 -0.7 0.9 -0.9 0.7 -1.4 0.1 -1.1 -0.5 -2.2 -2.1 -3.7 -3.2 -4 -0.4 -1.1 -0.2 -1.1 0.2 -1.1 0.4 -1.1 0.7 -1.1 1 -1.1 7.8 -5.9 2.5 -2.9 1.2 -2.2 0.6 -2.2 -0 -2.2 -0.5 -5.4 0.1 -1.1 0.8 -2.2 1.4 -2.2 2.1 -2.2 3.4 -2.9z"/>
<path fill="#0024ff" fill-rule="evenodd" d="M118.8 38.5l1.2 -0.4 1.8 -0.2 1.7 0.3 1.8 0.9 1.8 1.4 1.8 2 1.7 2.6 1.2 2.2 1.6 3.6 3.4 9.5 6.8 15.4 4.7 13.2 5.4 13.2 1.2 4.4 0.6 3.3 0 3.3 -0.4 3.2 -0.9 3.3 -1 2.2 -1.3 2.2 -1.6 2.2 -1.9 2.2 -2.4 2.2 -3 2.2 -2.5 1.6 -4.5 2.3 -5.3 2.1 -3.6 1.1 -11.6 2.8 -4.5 0.2 -0.9 0.2 -1.4 0.7 -1.1 1.1 -0.6 1.1 -0.2 1.1 0.1 2.2 1.1 2.2 3.5 4.4 0.6 1.1 0.2 1.1 -0.1 1.1 -0.4 1.1 -0.7 1.1 -0.9 1.1 -5.4 4.3 -2.5 2.3 -1.1 1.2 -1.3 2.1 -0.9 2.1 -0.4 2.2 0.1 5.5 -0.2 2.2 -0.8 2.2 -1.5 2.2 -3 3 -2.7 1.8 -2.7 1.1 -1.8 0.2 -0.9 -0.2 -1.7 -0.7 -0.9 -0.6 -1.8 -1.6 -1.8 -2.3 -1.7 -2.9 -1.8 -4.4 -3.7 -10.9 -5.4 -13.2 -4.4 -13.7 -3.9 -10.5 -1.7 -5.5 -0.7 -3.3 -0.3 -3.3 0.1 -3.3 0.5 -3.3 1 -3.2 1 -2.2 1.2 -2.2 1.6 -2.2 2 -2.2 2.4 -2.2 4.7 -3.3 5.5 -2.7 6.3 -2.1 7.2 -1.8 2.6 -0.4 0.9 -0.1 2.7 0.5 1.8 0.1 1.7 -0.7 0.9 -0.7 0.7 -0.9 0.4 -1.1 0 -2.2 -0.3 -1.1 -1.1 -2.2 -3.4 -5.5 -0.4 -1.1 -0.1 -1.1 0.2 -1.1 0.4 -1.1 0.6 -1.1 1 -1.1 6.5 -5.3 1.8 -1.8 1.3 -1.7 1.2 -2.2 0.6 -2.2 0.2 -2.2 -0.1 -5.4 0.4 -1.9 0.6 -1.4 1.5 -2.2 2.3 -2.4 2.7 -1.9z"/>
<path fill="#0040ff" fill-rule="evenodd" d="M119.8 39.6l1.1 -0.2 1.8 0.2 1.7 0.6 1.8 1.2 2.7 3 1.2 1.8 1.5 2.9 4.2 11.3 6.6 14.3 5.1 14.3 5.4 13.2 1.3 4.4 0.5 3.3 0.1 3.3 -0.4 3.2 -1 3.3 -0.9 2.2 -1.3 2.2 -1.6 2.2 -2 2.2 -2.4 2.2 -4.7 3.3 -4.5 2.4 -5.3 2.2 -7.2 2 -8 1.8 -3.6 0.1 -1.8 0.3 -1.7 0.9 -0.9 0.9 -0.9 1.5 -0.2 1.1 0.1 2.2 1 2.4 2.2 3.1 1.1 2.2 0.2 1.1 -0.1 1.1 -0.3 1.1 -1.5 2.2 -7.4 6.6 -1.4 1.6 -1.1 1.7 -1.2 3.2 -0.2 2.2 -0.1 4.4 -0.3 2.2 -0.6 1.6 -1.1 1.7 -2.5 2.7 -2.7 1.9 -2.7 1 -1.8 0.1 -0.9 -0.2 -1.7 -0.8 -1.8 -1.4 -1.8 -2.1 -1.8 -2.9 -1.8 -4.2 -3.7 -10.5 -5.5 -13.2 -4.2 -13.2 -4.5 -12.1 -1.3 -4.4 -0.7 -3.3 -0.4 -3.3 0.1 -3.3 0.5 -3.3 1 -3.2 1 -2.2 1.3 -2.2 1.6 -2.2 1.9 -2.2 2.5 -2.2 4.8 -3.3 4.7 -2.3 6.3 -2.2 8.9 -2.1 1.8 0 2.7 0.4 1.8 0 1.7 -0.5 1.2 -1 0.7 -1.1 0.4 -1.1 0.1 -2.2 -0.6 -2.2 -3.5 -6.6 -0.3 -2.2 0.5 -2.2 1.5 -2.2 7.4 -6.6 2.4 -3.3 0.5 -1.1 0.7 -2.2 0.3 -2.2 0.1 -4.3 0.3 -2.2 0.8 -2 0.9 -1.3 1.8 -2.1 1.8 -1.4 1.8 -1.1z"/>
<path fill="#005cff" fill-rule="evenodd" d="M117.5 41.8l1.6 -0.6 1.8 -0.3 1.7 0.2 1.8 0.7 1.8 1.4 1.8 1.9 1.4 2.2 1.2 2.2 4.3 10.9 6.7 14.3 4.7 13.2 5.9 14.3 1.3 4.4 0.5 3.3 0.1 3.3 -0.5 3.2 -0.6 2.4 -1.3 3.1 -1.2 2.2 -1.7 2.2 -1.9 2.2 -2.4 2.2 -4.7 3.3 -4.2 2.2 -5.8 2.3 -3.2 1 -9 2.2 -7.5 0.7 -1.7 0.9 -0.9 0.8 -0.7 0.9 -0.6 1.1 -0.2 1.1 0 2.2 0.7 2.2 2.6 4.4 0.4 1.1 0.1 1.1 -0.4 2.2 -1.4 2.2 -6.8 6.3 -1.2 1.4 -1.4 2.2 -1.3 3.2 -0.8 7.7 -0.6 1.9 -0.9 1.7 -1.8 2 -2.7 2 -2.7 0.9 -1.8 0 -1.7 -0.5 -1.8 -1.2 -1.8 -1.9 -1.8 -2.7 -1.8 -4 -3.3 -9.1 -5.7 -13.2 -1.7 -4.9 -3.3 -10.5 -3.8 -10.2 -1.7 -5.2 -0.7 -3.3 -0.3 -3.3 0.1 -3.3 0.5 -3.3 1 -3.2 1 -2.2 1.3 -2.2 1.6 -2.2 1.9 -2.2 2.5 -2.2 4.9 -3.3 4.8 -2.3 2.7 -1 3.9 -1.1 7.7 -1.6 6.3 0.2 1.7 -0.6 1.6 -1.3 0.7 -1.1 0.4 -1.1 0.2 -2.2 -0.5 -2.2 -2.2 -4.4 -0.9 -2.2 -0.2 -2.2 0.5 -2.2 1.4 -2.2 6.2 -5.7 2.6 -3.1 1.2 -2.2 0.7 -2.2 0.4 -2.2 0.3 -4.3 0.5 -2.2 0.5 -1.1 0.9 -1.6 1.6 -1.7 1.3 -1.1z"/>
<path fill="#0078ff" fill-rule="evenodd" d="M118.7 42.9l1.3 -0.3 1.8 0 1.1 0.3 1.5 0.7 1.8 1.5 1 1.1 1.5 2.2 1.1 2.1 4.1 9.9 6.6 13.7 1.8 4.5 3.2 9.3 5.9 14.3 1.3 4.4 0.5 3.3 0.1 3.3 -0.4 3.2 -0.6 2.2 -1.1 2.8 -1.5 2.7 -1.6 2.2 -2 2.2 -2.4 2.2 -4.8 3.3 -4.2 2.2 -5.7 2.2 -3.8 1.1 -7.9 1.8 -5.4 0.4 -1.8 0.4 -1.7 0.8 -1.3 1 -0.7 1.1 -0.5 1.1 -0.3 1.1 0 2.2 0.5 2.2 2.1 4.4 0.3 1.1 0 2.2 -0.3 1.1 -1.3 2.2 -6.6 6.5 -2.4 3.4 -1.4 3.2 -1.3 7.7 -0.9 2.2 -0.7 1.1 -2.2 2.1 -1.8 1 -1.8 0.5 -1.8 0 -1.7 -0.7 -1.8 -1.3 -1.4 -1.6 -1.4 -2.2 -1.7 -3.5 -3.2 -8.5 -4.8 -10.7 -1.8 -4.4 -4 -12.4 -4.2 -11 -1.7 -5.5 -0.7 -3.3 -0.3 -3.3 0 -3.3 0.6 -3.3 1.4 -4.3 1.2 -2.2 1.4 -2.2 1.8 -2.2 2.2 -2.2 4.4 -3.3 4.1 -2.2 2.7 -1.1 3.5 -1.1 9.9 -2.2 6.3 0 1.7 -0.5 1 -0.6 0.8 -0.9 0.9 -1.3 0.4 -1.1 0.2 -2.2 -0.6 -2.8 -1.6 -3.8 -0.7 -2.2 -0.1 -2.2 0.5 -2.2 1.3 -2.2 6 -5.8 2.4 -3 1.3 -2.2 0.7 -2.2 1.1 -6.5 0.7 -2.3 0.9 -1.6 1.4 -1.6 1.4 -1.1z"/>
<path fill="#0094ff" fill-rule="evenodd" d="M118.1 45.1l1.9 -0.5 0.9 -0.1 1.7 0.4 2.2 1.3 2 2.2 2.1 3.5 3.8 8.5 6 11.8 2.7 6.5 3.2 9.2 4.8 11.4 1.8 5 0.9 3.9 0.3 2.8 -0.1 3.2 -0.3 2.2 -0.8 2.9 -0.9 2.1 -1.5 2.7 -1.6 2.2 -3.1 3.3 -2.8 2.2 -3.4 2.2 -4.4 2.2 -2.8 1.1 -3.5 1.1 -9.9 2.4 -7.2 0.9 -1.7 0.8 -1.7 1.4 -1.2 2.2 -0.4 2.2 0 1.1 0.4 2.2 1.2 3.3 0.6 2.2 -0.2 2.2 -0.8 2.2 -1.5 2.2 -5.3 5.5 -2.5 3.3 -1.5 3.2 -1.4 6.6 -0.9 2.1 -0.8 1.2 -1.1 1.1 -1.7 1.2 -1.8 0.4 -1.8 -0.1 -1.1 -0.4 -1.5 -1 -1.2 -1.2 -1.5 -2.2 -1.8 -3.6 -3 -7.3 -5 -10.7 -1.8 -4.3 -4.1 -12.5 -4 -10.4 -1.7 -5.4 -0.9 -4 -0.3 -2.2 0 -3.3 0.3 -3.3 0.8 -3.2 0.9 -2.2 2.6 -4.4 1.8 -2.2 2.3 -2.2 1.3 -1.1 3.3 -2.2 4.5 -2.2 5.7 -1.8 8.9 -2.1 6.3 -0.1 1.7 -0.6 1.8 -1.3 1.2 -1.8 0.4 -1.1 0.3 -2.2 -0.3 -2.2 -1.3 -4.4 -0.5 -2.2 0 -2.2 0.6 -2.2 0.5 -1.1 1.5 -2.2 5.4 -5.5 2.5 -3.3 1.5 -3.3 1.5 -6.5 1 -2.2 1.8 -2.2z"/>
<path fill="#00afff" fill-rule="evenodd" d="M119 48.4l1.9 -0.4 1.4 0.4 1.2 0.6 1.8 1.7 2.7 4.3 7.8 14.2 2 4.2 1.8 4.2 4.6 12.5 4.2 9.9 1.9 5.5 0.6 3.3 0.3 3.3 -0.3 3.2 -0.6 2.8 -1 2.7 -0.8 1.6 -1 1.7 -1.6 2.2 -2 2.2 -2.5 2.2 -4.5 3 -5.3 2.5 -6.3 2.1 -8 2 -7.2 1 -1.7 0.8 -1.8 1.5 -1 1.4 -0.5 1.1 -0.5 2.2 0.1 2.2 1.1 4.4 0.2 2.2 -0.3 2.2 -0.4 1.1 -0.6 1.1 -1.5 2.2 -5.1 5.5 -2.5 3.3 -1.2 2.1 -2.6 6.6 -1.3 2.1 -1.8 1.3 -0.9 0.2 -1.8 -0.1 -0.9 -0.4 -1.1 -0.9 -1.5 -1.7 -0.9 -1.4 -8.1 -15.7 -3.3 -7.5 -4 -12.1 -4.2 -11 -1.8 -5.5 -0.7 -3.3 -0.3 -3.3 0.1 -3.4 0.5 -3.2 0.6 -2.1 0.9 -2.2 2.6 -4.4 2.9 -3.3 2.3 -1.9 2 -1.4 4.2 -2.2 6 -2.2 9.2 -2.3 6.3 -0.3 1.7 -0.6 1.9 -1.2 0.9 -1.1 0.6 -1.1 0.6 -2.2 -0 -3.3 -1 -4.4 -0.2 -2.2 0.2 -2.2 0.7 -2.2 0.8 -1.4 1.3 -1.9 5.2 -5.5 1.8 -2.2 2 -3.3 2.2 -5.7 0.9 -1.8 1 -1.2z"/>
<path fill="#00cbff" fill-rule="evenodd" d="M118.5 56l1.5 -0.8 0.9 -0.2 0.9 0.1 1.7 0.8 1.8 1.7 2.7 3.3 2.7 3.8 2.7 4.3 2.4 4.6 1.9 4.4 4.1 11 4.8 11 1.5 4.4 0.8 3.3 0.4 3.3 -0.1 3.2 -0.5 3.3 -0.7 2.2 -1 2.2 -1.3 2.2 -1.6 2.2 -3.3 3.3 -4.5 3.3 -4.2 2.2 -5 2 -9.8 2.7 -7.2 1.2 -1.7 0.7 -1.6 1.1 -1.6 2.2 -0.8 2.2 -0.2 3.3 0.6 4.4 -0 2.2 -0.6 2.2 -1.1 2.2 -1.7 2.2 -6.4 6.6 -5.4 6.3 -1.8 1.2 -0.9 0.1 -0.9 -0.1 -0.9 -0.4 -1.7 -1.5 -1.8 -2.1 -2.7 -3.9 -4.3 -7.3 -3 -6.6 -4.1 -12.1 -4.3 -11 -1.6 -5.5 -0.6 -3.3 -0.2 -3.3 0.2 -3.3 0.7 -3.3 0.7 -2.1 1 -2.2 2.1 -3.3 3 -3.3 2.4 -1.9 2 -1.4 4.3 -2.2 5.3 -1.9 8 -2.1 5.4 -0.4 1.7 -0.3 1.8 -0.8 1.4 -1.1 1.5 -2.2 0.6 -2.2 0.2 -2.2 -0.6 -5.5 -0 -2.2 0.4 -2.2 0.9 -2.2 2.3 -3.3 6.5 -6.6 4.7 -5.4z"/>
<path fill="#00e7ff" fill-rule="evenodd" d="M120.2 60.4l1.6 0.1 1.7 0.6 1.8 1.3 1.8 1.7 2.7 3.2 1.8 2.6 3.2 5.9 5.2 13.2 4.8 11 1.9 5.5 0.6 3.3 0.3 3.3 -0.3 3.2 -0.7 3.3 -0.9 2.2 -1.1 2.2 -2.3 3.3 -3.3 3.3 -4.6 3.3 -4.2 2.2 -4 1.5 -8.9 2.7 -7.2 1.3 -1.7 0.7 -1.8 1.3 -1.2 1.3 -0.7 1.1 -0.8 2.2 -0.3 2.2 0.1 5.5 -0.2 2.2 -0.8 2.2 -1.3 2.2 -1.9 2.2 -1.9 1.8 -6.2 5.3 -2.7 1.4 -1.8 0.3 -0.9 -0.1 -0.9 -0.3 -1.7 -1.1 -1.8 -1.7 -1.8 -2.1 -1.8 -2.5 -1.8 -3 -2.7 -5.7 -4.3 -12.1 -4.4 -11 -1.7 -5.5 -0.5 -3.3 -0.3 -3.3 0.2 -3.3 0.7 -3.3 0.8 -2.1 1 -2.2 2.1 -3.3 3.1 -3.3 2.4 -2 2.1 -1.3 4.4 -2.2 6.9 -2.4 4.5 -1.1 5.4 -0.5 1.7 -0.4 1.8 -0.7 1.8 -1.5 1.5 -2.2 0.7 -2.2 0.2 -2.2 -0.1 -5.5 0.3 -2.2 0.6 -2.2 1 -2.2 1.2 -1.6 1.8 -2 5.3 -4.8 3.6 -2.6 1.8 -0.8z"/>
<path fill="#04fffb" fill-rule="evenodd" d="M116.6 64.8l2.5 -0.8 1.8 -0.1 1.7 0.5 1.8 0.9 1.8 1.4 2.3 2.5 2.2 3.1 1.4 2.4 2.1 4.4 4.4 11 4 8.8 2.1 5.5 0.9 4.4 0.3 3.3 -0.2 3.2 -0.8 3.3 -0.9 2.2 -1.1 2.2 -2.3 3.3 -3.3 3.3 -4.7 3.3 -3.7 1.9 -3.4 1.4 -8.2 2.6 -7.2 1.5 -1.7 0.7 -1.8 1.1 -1.7 1.8 -0.6 1.1 -0.9 2.2 -0.4 2.2 -0.3 4.4 -0.3 2.2 -0.8 2.2 -1.3 2.2 -1.8 2.1 -1.7 1.7 -2.7 2.1 -1.8 1.2 -1.8 0.9 -1.8 0.5 -1.8 0 -0.9 -0.1 -0.9 -0.4 -1.7 -1 -1.8 -1.6 -2.6 -3.2 -1.9 -3.1 -2.1 -4.6 -4.1 -11 -4.1 -9.9 -1.9 -5.5 -1 -5.5 -0 -4.4 0.9 -4.4 0.7 -2.1 1 -2.2 2.2 -3.3 3.1 -3.3 3.5 -2.7 3.6 -1.9 5 -2 6.6 -1.9 7.1 -1 1.8 -0.8 1.8 -1.4 1.3 -1.5 1 -2.2 0.7 -3.3 0.6 -6.6 0.7 -2.2 1 -2.2 1.9 -2.5 2.6 -2.6 2.7 -2z"/>
<path fill="#20ffdf" fill-rule="evenodd" d="M117.7 67l2.3 -0.2 1.8 0.3 1.7 0.8 1.8 1.3 1.8 1.8 1.8 2.3 2.7 4.6 4.8 11.1 4.6 9.9 2 5.5 1 4.4 0.3 3.3 -0.3 3.2 -0.7 3.3 -0.9 2.2 -1.1 2.2 -2.4 3.3 -3.3 3.3 -2.9 2.2 -3.9 2.2 -4.4 1.9 -7.8 2.5 -6.5 1.5 -1.7 0.7 -1.9 1.1 -2.1 2.2 -1.2 2.2 -0.7 2.2 -1 5.5 -0.6 2.2 -1 2.2 -1.6 2.2 -1.5 1.6 -1.8 1.4 -1.8 1.2 -1.8 0.8 -2.7 0.7 -1.8 -0.1 -0.9 -0.3 -1.7 -0.9 -1.8 -1.4 -1.8 -2 -2.1 -3.2 -2.4 -4.9 -3.7 -9.4 -4.6 -11 -1.7 -5.5 -0.7 -3.3 -0.2 -2.2 0.2 -4.4 1.1 -4.3 1.4 -3.3 2.2 -3.3 3.1 -3.3 3.8 -2.8 3.6 -1.9 5.1 -1.9 4.7 -1.4 7.1 -1.2 1.8 -0.7 1.6 -1.1 1.9 -2.2 1.1 -2.2 0.6 -2.2 1 -5.5 0.6 -2.2 0.9 -2.2 1.3 -2.1 1.9 -2.3 2.5 -2 2.7 -1.6z"/>
<path fill="#3cffc3" fill-rule="evenodd" d="M115.2 70.3l2.1 -0.7 1.8 -0.1 1.8 0.2 1.7 0.7 1.8 1.2 1.8 1.7 1.8 2.4 1.4 2.3 9.9 20.9 2.1 5.5 1 4.4 0.3 3.3 -0.3 3.2 -0.7 3.3 -0.9 2.2 -1.1 2.2 -2.4 3.3 -3.3 3.3 -3 2.2 -3 1.7 -3.5 1.6 -7.2 2.5 -8 2.2 -1.8 0.8 -1.5 1.1 -2.1 2.2 -1.3 2.2 -0.8 2.2 -2.1 6.6 -1.2 2.3 -1.6 2.1 -1.9 1.8 -2.7 1.5 -2.7 0.8 -1.8 -0.1 -0.9 -0.2 -1.8 -0.7 -1.7 -1.4 -1.8 -1.9 -1.8 -2.7 -1.9 -3.7 -8.5 -19.8 -1.8 -5.5 -0.8 -4.4 0 -4.4 0.9 -4.4 0.7 -2.1 1.1 -2.2 2.2 -3.3 3.2 -3.3 2.9 -2.2 2.9 -1.6 3.8 -1.7 6.9 -2.2 6.2 -1.2 1.8 -0.7 2.1 -1.4 1.9 -2.2 1.1 -2.2 2.8 -8.8 1.6 -3.3 1.2 -1.6 1.7 -1.7 1.9 -1.4z"/>
<path fill="#57ffa8" fill-rule="evenodd" d="M116.2 72.5l1.1 -0.2 1.8 -0.1 1.8 0.4 1.7 0.9 1.8 1.4 1.8 2 2.7 4.4 8.3 16.5 1.5 3.3 1.2 3.3 1 4.4 0.2 3.3 -0.2 3.2 -0.8 3.3 -1.3 3.3 -1.4 2.2 -2.7 3.3 -2.4 2.2 -3 2.2 -4.9 2.6 -7.9 2.9 -6.4 1.8 -1.7 0.6 -1.8 1 -2.4 2.1 -1.6 2.2 -1.2 2.2 -2.9 6.6 -1.3 2.2 -1.3 1.6 -1.8 1.5 -2.7 1.3 -2.7 0.3 -1.8 -0.4 -1.8 -1 -1.7 -1.6 -1.4 -1.7 -1.3 -2 -1.8 -3.5 -6.2 -13.2 -2.3 -5.5 -1.7 -5.5 -0.5 -4.4 0.1 -4.4 1.1 -4.3 1.5 -3.3 2.2 -3.3 3.3 -3.3 3 -2.2 4.2 -2.2 5.1 -2 2.7 -0.8 5.4 -1 1.7 -0.6 1.8 -0.9 1.7 -1.3 1 -1.1 1.6 -2.2 3.8 -8.6 1.7 -3.2 1.2 -1.4 1.5 -1.5 1.8 -1.1z"/>
<path fill="#73ff8c" fill-rule="evenodd" d="M115 75.8l1.4 -0.5 1.8 -0.3 1.8 0.3 1.8 0.8 1.7 1.4 1.8 2.1 3.6 5.7 6.7 12.5 2 4.4 1.1 3.3 0.7 3.3 0.3 3.3 -0.3 3.2 -0.8 3.3 -1.4 3.3 -1.3 2.2 -2.7 3.3 -2.5 2.2 -3.1 2.2 -4.2 2.2 -5.5 2.2 -8.6 2.7 -2.7 1.4 -1.9 1.4 -2.1 2.2 -1.5 2.2 -4.3 7.2 -1.8 2.1 -1.8 1.4 -1.8 0.8 -1.8 0.2 -1.8 -0.3 -1.8 -0.8 -1.7 -1.6 -2.7 -3.6 -6.8 -13.1 -3 -6.6 -1.7 -5.5 -0.6 -4.4 0.2 -4.4 1.1 -4.3 1.5 -3.3 2.2 -3.3 2.1 -2.2 3.2 -2.5 3.2 -1.9 3 -1.4 5.3 -1.9 7.2 -1.8 1.8 -0.9 1.8 -1.3 1.5 -1.5 1.6 -2.2 4.1 -7 1.7 -2.7 1.8 -2z"/>
<path fill="#8fff70" fill-rule="evenodd" d="M114.7 79.1l1.7 -0.7 0.9 -0.2 1.8 0.1 1.8 0.7 1.7 1.3 1.8 1.9 1.8 2.5 6.3 10.2 2.1 4 1.5 3.3 1.1 3.3 0.5 2.2 0.5 3.3 0 2.2 -0.4 3.2 -0.6 2.2 -1.4 3.3 -2.2 3.3 -2.9 3.1 -2.7 2.2 -2.7 1.7 -3.7 1.8 -5.5 2.2 -6.8 2.3 -2.7 1.2 -1.8 1.3 -2 1.8 -2 2.2 -4.9 6.3 -1.8 1.7 -0.9 0.7 -1.8 0.8 -1.8 0.2 -1.8 -0.5 -0.9 -0.4 -1.8 -1.4 -1.7 -2.1 -1.8 -2.7 -5.4 -9.4 -2.1 -4.2 -1.3 -3.3 -1.3 -4.4 -0.6 -4.4 0.1 -4.4 1.1 -4.3 1.5 -3.3 1.5 -2.2 1.8 -2.2 2.5 -2.2 3.2 -2.2 4.4 -2.2 4.4 -1.7 7.1 -1.9 2.7 -1.4 3.1 -2.7 7.6 -9.8 1.8 -1.6z"/>
<path fill="#abff54" fill-rule="evenodd" d="M114.5 82.4l1.9 -0.7 1.8 -0.1 1.8 0.5 1.8 1.1 1.7 1.6 2.7 3.3 2.7 3.8 2.9 4.8 1.8 3.3 1.4 3.3 1 3.3 0.5 2.2 0.3 3.3 -0.1 2.1 -0.6 3.3 -0.8 2.2 -1.6 3.3 -1.6 2.2 -3.2 3.3 -2.9 2.2 -3.4 2 -2.7 1.3 -5.6 2.2 -5 1.7 -2.7 1.3 -3.6 2.5 -6.2 6 -2.7 2.2 -1.8 1 -0.9 0.3 -1.8 0.1 -0.9 -0.2 -0.9 -0.3 -1.8 -1.2 -1.7 -1.8 -1.8 -2.2 -4.5 -7 -1.9 -3.5 -1.5 -3.3 -1.8 -5.5 -0.6 -4.4 0.1 -4.4 0.5 -2.2 0.6 -2.1 1.6 -3.3 1.5 -2.2 1.9 -2.2 2.4 -2.2 3.4 -2.2 4.5 -2.2 3.6 -1.3 5.3 -1.6 1.8 -0.7 1.8 -0.9 2.7 -2.1 7.1 -7.3 1.8 -1.5z"/>
<path fill="#c7ff38" fill-rule="evenodd" d="M113.4 85.7l2.1 -0.9 1.8 -0.2 1.8 0.3 1.8 0.9 1.7 1.3 2.7 2.8 2.7 3.5 2.2 3.3 1.8 3.3 1.5 3.3 1.1 3.3 0.4 2.2 0.3 3.3 0 2.1 -0.6 3.3 -0.8 2.2 -1.7 3.3 -2.4 3.2 -2.4 2.3 -3 2.2 -2.6 1.6 -3.7 1.7 -9.7 3.8 -2.7 1.3 -2.3 1.5 -6.6 5 -2.7 1.7 -2.7 0.9 -1.8 0 -0.9 -0.2 -0.9 -0.4 -1.8 -1.2 -1.7 -1.7 -1.8 -2.1 -1.8 -2.5 -2.5 -3.9 -2.6 -5.5 -1.4 -4.4 -0.7 -4.4 0.1 -4.4 0.5 -2.2 0.7 -2.1 1.5 -3.3 1.5 -2.2 2 -2.2 2.5 -2.2 3.5 -2.2 2.9 -1.5 4.7 -1.8 5.1 -1.6 2.7 -1.3 2.2 -1.5 5.9 -4.9z"/>
<path fill="#e3ff1c" fill-rule="evenodd" d="M113.3 87.9l2.2 -0.6 1.8 -0.1 1.8 0.4 1.8 0.9 1.7 1.3 2.7 2.7 2.4 3.1 2.1 3.2 1.2 2.3 1.4 3.3 1 3 0.4 2.5 0.1 3.3 -0.2 2.1 -0.4 2.2 -0.8 2.2 -1.7 3.3 -2.6 3.3 -2.9 2.6 -3.5 2.4 -5.5 2.7 -9.7 4 -9 5.4 -2.6 1.4 -1.8 0.6 -1.8 0.3 -1.8 -0.2 -0.9 -0.3 -2.7 -1.5 -1.7 -1.7 -1.8 -2 -1.8 -2.5 -1.8 -2.8 -2.4 -5.1 -1.3 -4.4 -0.5 -4.4 0.4 -4.4 0.6 -2.2 0.8 -2.1 1.9 -3.3 1.7 -2.2 2.3 -2.2 2.7 -2 2.4 -1.3 3.9 -1.9 8.9 -3.3 2.5 -1.4 6.5 -4.6z"/>
<path fill="#feff01" fill-rule="evenodd" d="M112.2 90.1l2.4 -0.6 1.8 -0.1 1.8 0.3 1.8 0.7 1.8 1.1 2.6 2.4 1.8 2.1 1.8 2.5 1.5 2.6 1.5 3.3 1 3.3 0.4 2.2 0.1 3.3 -0.2 2.1 -0.4 2.2 -0.8 2.2 -1.7 3.3 -2.7 3.3 -3.9 3.3 -3.7 2.2 -4.6 2.2 -7 2.9 -8.1 4.2 -3.5 1.6 -1.8 0.5 -1.8 0.3 -1.8 -0.1 -1.8 -0.5 -2.7 -1.6 -1.7 -1.7 -1.8 -2.1 -3 -4.6 -2 -4.4 -1.2 -4.4 -0.3 -4.4 0.2 -2.2 0.5 -2.2 1.1 -3.2 1.9 -3.3 1.9 -2.2 2.3 -2.2 2.1 -1.5 5.4 -2.9 9.8 -3.9 7.2 -4.3z"/>
<path fill="#ffe400" fill-rule="evenodd" d="M110.1 92.3l2.7 -0.8 1.8 -0.2 1.8 0.1 1.8 0.4 2.7 1.3 1.7 1.4 1.8 1.7 1.8 2.3 1.7 2.6 1.1 2.2 0.9 2.2 0.9 3.3 0.4 3.3 -0.1 2.1 -0.6 3.3 -0.8 2.2 -1.8 3.3 -2.7 3.3 -3.4 2.9 -4.5 2.6 -11.6 5.1 -5.4 2.6 -3.5 1.4 -2.7 0.6 -1.8 0.1 -1.8 -0.2 -1.8 -0.6 -1.8 -1.1 -1.6 -1.3 -2.8 -3.2 -2.1 -3.4 -1.9 -4.4 -1 -4.4 -0.2 -3.3 0.2 -2.2 0.4 -2.2 1.2 -3.2 1.3 -2.2 1.6 -2.2 2.1 -2.2 2.9 -2.2 1.8 -1.1 4.4 -2.2 7.1 -2.8 7.2 -3.8z"/>
<path fill="#ffc800" fill-rule="evenodd" d="M111.5 93.4l2.2 -0.3 2.7 0.2 1.8 0.5 1.8 0.9 1.8 1.3 1.8 1.8 1.7 2 1.5 2.4 1.1 2.2 1 2.7 0.6 2.8 0.2 2.2 -0.1 2.1 -0.3 2.2 -0.6 2.2 -1 2.2 -2.1 3.3 -3.3 3.3 -4.1 2.8 -5.3 2.7 -11.7 5 -4.4 1.5 -2.7 0.4 -1.8 0 -1.8 -0.4 -1.8 -0.7 -2.7 -1.9 -2.6 -3 -1.4 -2 -1.2 -2.2 -1.2 -3.3 -0.7 -3.3 -0.1 -4.4 0.5 -3.3 1.4 -3.5 1.8 -2.8 1.8 -2.1 1.5 -1.4 3.1 -2.2 4 -2.2 8.3 -3.6 5.4 -2.5 2.7 -1z"/>
<path fill="#ffac00" fill-rule="evenodd" d="M108.9 95.6l2.1 -0.5 2.7 -0.1 1.8 0.2 1.8 0.5 1.8 0.8 1.8 1.2 1.7 1.7 1.4 1.7 1.4 2.2 1.1 2.2 0.8 2.2 0.5 2.2 0.2 3.3 -0.2 2.1 -0.5 2.2 -0.8 2.2 -1.9 3.3 -3 3.3 -4.3 3.2 -4.4 2.3 -9.9 4.2 -5.4 1.6 -2.6 0.3 -1.8 0 -1.8 -0.4 -1.8 -0.6 -2.7 -1.8 -2.6 -3 -2.2 -3.6 -1.1 -3.3 -0.6 -3.3 -0.1 -3.3 0.6 -3.3 1.3 -3.2 1.3 -2.2 1.8 -2.2 2.4 -2.2 3.3 -2.2 6.6 -3.3 8.1 -3.4z"/>
<path fill="#ff9000" fill-rule="evenodd" d="M106.2 97.8l2.2 -0.6 2.6 -0.4 3.6 0.2 1.8 0.5 1.8 0.8 1.8 1.2 1.6 1.6 1.7 2.2 1.3 2.2 0.8 2.2 0.6 2.2 0.2 2.2 0 2.1 -0.3 2.2 -0.7 2.2 -1.7 3.3 -2.7 3.3 -3.5 2.8 -4.7 2.7 -7.7 3.3 -5.5 1.7 -2.6 0.4 -1.8 0 -1.8 -0.2 -1.8 -0.4 -2.7 -1.5 -2.4 -2.2 -1.6 -2.2 -1.6 -3.3 -0.9 -3.3 -0.3 -3.3 0.4 -3.3 0.6 -2.2 1 -2.1 1.4 -2.2 1.9 -2.2 2.6 -2.2 3.4 -2.2 4.4 -2.2 5.4 -2.2z"/>
<path fill="#ff7400" fill-rule="evenodd" d="M107.8 98.9l2.3 -0.3 1.8 -0 1.8 0.2 1.8 0.5 1.8 0.8 1.8 1.2 1.8 1.8 0.9 1.2 1.7 3.4 0.6 2.2 0.3 2.2 0 2.1 -0.4 2.2 -1.1 3.3 -2.1 3.3 -1.7 1.8 -1.7 1.5 -3.3 2.2 -4.8 2.5 -5.4 2 -2.7 0.7 -2.7 0.5 -3.5 0.1 -1.8 -0.4 -1.8 -0.6 -2.3 -1.5 -2.2 -2.2 -1.4 -2.2 -1.2 -3.1 -0.5 -2.4 -0.1 -3.3 0.6 -3.1 0.8 -2.3 1.3 -2.2 1.7 -2.2 2.4 -2.2 2.7 -1.9 2.7 -1.5 4.7 -2.1 3.3 -1.2z"/>
<path fill="#ff5900" fill-rule="evenodd" d="M104.9 101.1l4.4 -0.7 3.5 0.2 1.8 0.5 1.8 0.9 1.7 1.3 1 0.9 1 1.3 1.2 2.2 1 3.3 0.2 2.2 -0.2 2.1 -0.9 3.3 -1.9 3.3 -2.2 2.5 -2.4 1.9 -1.7 1.1 -3.9 2.1 -4.5 1.7 -4.5 1.1 -3.5 0.2 -1.8 -0.2 -1.8 -0.5 -2.1 -1.1 -2.4 -2.1 -1.6 -2.3 -0.9 -2.2 -0.5 -2.2 -0.2 -3.3 0.3 -2.2 0.7 -2.2 1.1 -2.1 1.6 -2.2 2.2 -2.2 1.5 -1.1 3 -1.9 2.8 -1.4 2.7 -1.1z"/>
<path fill="#ff3d00" fill-rule="evenodd" d="M102.9 103.3l3.7 -0.9 3.5 -0.1 1.8 0.3 1.8 0.5 2.3 1.3 1.2 1.1 1 1.1 0.9 1.5 0.7 1.8 0.6 3.3 -0.1 2.1 -0.3 1.4 -1.3 3 -2.3 3.2 -2.7 2.3 -3.5 2.2 -4.5 1.9 -3.6 1 -3.6 0.3 -1.7 -0.1 -1.8 -0.3 -1.8 -0.8 -1.8 -1.2 -1.8 -1.9 -1.2 -2.2 -0.7 -2.2 -0.2 -2.2 0.1 -2.2 0.5 -2.2 1.6 -3.2 1.8 -2.2 1.7 -1.6 2.4 -1.7 1.9 -1.1 2.4 -1.1z"/>
<path fill="#ff2100" fill-rule="evenodd" d="M107 104.4l3.1 0.1 2.7 0.8 2 1.3 1.6 1.8 1.2 2.6 0.4 2.2 -0.3 3.2 -0.8 2.2 -1.4 2.3 -2.7 2.7 -2.7 1.8 -3.5 1.7 -3.6 1.1 -2.7 0.3 -2.7 -0.1 -1.7 -0.4 -1.4 -0.6 -1.6 -1.1 -1.5 -1.7 -0.9 -1.6 -0.6 -2.2 -0.2 -2.2 0.4 -2.2 1.3 -3.2 0.9 -1.3 1.9 -2 3.4 -2.5 1.8 -1 2.7 -1 2.7 -0.7z"/>
<path fill="#ff0500" fill-rule="evenodd" d="M101.9 107.7l2 -0.6 2.7 -0.4 2.7 0.3 1.9 0.7 1.7 1.1 1 1.1 0.7 1.1 0.6 2.2 -0 2.1 -0.6 2.2 -1.2 2.2 -1.5 1.7 -1.9 1.6 -2.5 1.5 -3.6 1.2 -2.7 0.4 -2.7 -0.1 -1.7 -0.6 -0.9 -0.4 -1.1 -0.9 -1 -1.1 -1.1 -2.2 -0.2 -1.1 -0 -2.2 0.5 -2.2 0.6 -1.1 1.5 -2.1 2.5 -2.3 1.8 -1.1z"/>
<path fill="#ea0000" fill-rule="evenodd" d="M105.3 109.9l1.3 0 1.8 0.4 1.2 0.7 1.1 1.1 0.6 1.1 0.3 1 0 1.1 -0.6 2.2 -0.6 1.1 -1.1 1.3 -1.8 1.4 -1.8 0.9 -1.8 0.6 -1.8 0.3 -1.8 -0.2 -1.8 -0.6 -0.9 -0.6 -0.8 -0.9 -0.5 -1.1 -0.3 -1.1 -0 -1.1 0.6 -2.2 1.5 -2.1 2.2 -1.8 2.7 -1.1z"/>
</g>
<path d="M489.2 806.65h3.5M709.5 806.65h-3.5M489.2 866.6h3.5M709.5 866.6h-3.5M489.2 926.55h3.5M709.5 926.55h-3.5M599.35 746.7v3.5M599.35 986.5v-3.5" stroke="#1a1a3a" stroke-width="1.6" fill="none" opacity="0.7"/>
<path d="M577.32 746.7V986.5M610.37 746.7V986.5M489.2 830.63H709.5M489.2 902.57H709.5" stroke="#fff" stroke-width="2.1" stroke-dasharray="21 13.2" fill="none"/>
</g>
<text x="477" y="760" text-anchor="end" fill="#262626">-1</text>
<text x="477" y="819.95" text-anchor="end" fill="#262626">-0.5</text>
<text x="477" y="879.9" text-anchor="end" fill="#262626">0</text>
<text x="477" y="939.85" text-anchor="end" fill="#262626">0.5</text>
<text x="477" y="999.8" text-anchor="end" fill="#262626">1</text>
<text x="489.2" y="1028.3" text-anchor="middle" fill="#262626">1.45</text>
<text x="599.35" y="1028.3" text-anchor="middle" fill="#262626">1.55</text>
<text x="709.5" y="1028.3" text-anchor="middle" fill="#262626">1.65</text>
<text x="597.55" y="1061.7" text-anchor="middle" fill="#262626">Wavelength (<tspan font-style="italic" font-size="34px" dx="2.5">μ</tspan><tspan dx="2.5">m)</tspan></text>
<text transform="translate(414.5 866.6) rotate(-90)" text-anchor="middle" fill="#262626">Time (ps)</text>
</g>
<g>
<rect x="876.8" y="746.7" width="220.3" height="239.8" fill="#00008f" stroke="#262626" stroke-width="2"/>
<g clip-path="url(#c22)">
<rect x="876.8" y="746.7" width="220.3" height="239.8" fill="#00008f"/>
<g filter="url(#b)" transform="translate(876.8 746.7)">
<path fill="#0000b4" fill-rule="evenodd" d="M119.6 20.9l1.6 -0.3 1.7 0.5 1.7 1.4 1.3 1.7 1.9 3.3 4.8 9.9 3.5 7.7 2 5.5 2.9 10.2 5.6 15 3.9 12.7 3.9 11.5 0.9 3.3 0.8 4.4 0.2 3.3 -0.3 3.2 -0.7 3.3 -0.8 2.2 -1.1 2.2 -1.3 2.2 -2.4 3 -1.8 1.8 -4.3 3.5 -0.8 0.4 -0.9 0.8 -0.9 0.3 -0.8 0.7 -1.4 0.5 -0.4 0.4 -0.8 0.4 -1.2 0.3 -0.6 0.6 -1.7 0.4 -0.8 0.7 -2.4 0.5 -1.1 0.7 -1.7 0.2 -1.8 0.9 -1.7 0.2 -1.7 0.9 -1.7 0.3 -0.9 0.7 -1.7 0.4 -0.9 0.7 -0.9 0.2 -0.8 0.8 -1.7 1 -0.9 -0.2 -0.9 -0.5 -0.8 -0.3 -0.9 0.3 -0.4 0.3 -0.5 1.1 0.2 1.1 0.7 0.7 1.7 0.7 2.6 2.5 1.7 0.8 2.8 0.8 1.9 1.1 0.9 1.1 0.4 1.1 -0.1 1.1 -0.4 1.1 -0.7 1.1 -2.1 2.2 -1.8 1.1 -6 3 -2.2 1.4 -1.5 1.1 -2.4 2.7 -0.9 1.7 -0.4 3.2 0.4 3.3 1.2 4.4 0 1.1 -0.6 2.2 -1.4 2.2 -5.8 6.6 -2.4 3.3 -1.3 2.2 -2.6 6.6 -1.1 2.2 -1.5 1.7 -1.7 0.7 -0.9 0.1 -1.7 -0.7 -0.9 -0.7 -1 -1.1 -1.4 -2.2 -6.6 -14.3 -2.7 -6.6 -1.6 -5.5 -1.4 -5.4 -1.7 -5.9 -4.7 -13.9 -3.1 -11.5 -3.7 -12.7 -0.9 -4.4 -0.3 -2.2 -0.1 -4.4 0.3 -3.3 0.8 -3.3 0.8 -2.1 1.7 -3.3 1.6 -2.2 2.4 -3 3.5 -3.1 0.9 -0.4 0.8 -0.8 0.9 -0.4 0.8 -0.8 0.9 -0.2 0.9 -0.8 0.8 -0.2 0.9 -0.6 0.9 -0.4 0.8 -0.2 0.9 -0.7 1.7 -0.3 0.9 -0.7 0.8 -0.3 1.8 -0.2 0.8 -0.8 2.6 -0.4 0.9 -0.7 1.7 -0.2 0.9 -0.8 1.7 -0.4 0.9 -0.7 0.8 -0.2 1.8 -1.1 1.7 -0.4 0.9 -0.4 0.5 -0.6 0.4 -1.1 -0.3 -1.1 -0.6 -1.1 -0.9 -0.7 -1.7 -1.1 -1.8 -0.7 -3.6 -0.8 -2 -1.1 -0.7 -1.1 -0.2 -1.1 0.1 -1.1 0.3 -1.1 1.6 -2.2 1.2 -1.1 2.5 -1.4 6 -2.8 0.9 -0.7 0.8 -0.4 2.6 -2.2 1.8 -2.2 0.9 -2.4 0.2 -2.2 -0.3 -2.3 -1.3 -4.2 -0.1 -1.1 0.2 -2.2 0.4 -1.1 1.4 -2.2 5.9 -6.6 2.2 -2.9 1.7 -3 2.5 -6.2 0.9 -1.9 1.8 -2z"/>
<path fill="#0000d0" fill-rule="evenodd" d="M118.7 23.1l1.6 -0.8 1.7 0.1 1.8 1 1.7 1.9 1.7 2.8 5.4 10.4 3.4 7.7 1.9 5.5 2.9 9.8 5.7 15.4 3 9.9 4.8 14.3 0.8 3.3 0.6 4.4 0.1 3.3 -0.4 3.2 -0.9 3.3 -1 2.2 -1.2 2.2 -1.5 2.2 -2 2.4 -2.6 2.4 -4.3 3.2 -4.3 2.4 -0.9 0.2 -4.3 2 -1.7 0.4 -0.9 0.6 -1.7 0.3 -1.8 0.8 -1.7 0.3 -1.7 0.8 -1.7 0.4 -0.9 0.5 -1.7 0.5 -3.5 1.9 -0.8 0.2 -1.8 -0.7 -0.8 -0.1 -0.9 0.2 -1.1 1.1 -0.4 1.1 0.1 1.1 0.5 1 7.7 5.6 1 1.1 0.4 1.1 0.1 1.1 -0.2 1.1 -1.1 2.2 -2.1 2.2 -1.5 1.1 -0.8 0.3 -4.3 2.8 -2.6 2.4 -0.9 1.1 -1.2 2.2 -0.5 2.1 0 2.2 1.4 6.6 -0.3 2.2 -0.4 1.1 -1.3 2.2 -5.8 6.6 -2.4 3.3 -1.9 3.3 -2.3 5.2 -0.8 1.4 -0.9 1 -0.9 0.6 -0.8 0.3 -0.9 0.1 -1.7 -0.7 -0.9 -0.7 -1.3 -1.7 -1.3 -2.1 -5.4 -11.1 -1.9 -4.4 -1.6 -4.4 -4 -14.2 -5.5 -16.5 -2.9 -11 -3.3 -11 -0.8 -3.3 -0.7 -4.4 -0.2 -3.3 0.3 -3.3 0.6 -3.3 1.1 -3.2 2.4 -4.4 2.9 -3.6 2.6 -2.4 2.6 -2.1 0.9 -0.4 0.8 -0.7 0.9 -0.3 0.9 -0.7 5.2 -2.4 0.8 -0.2 1.7 -0.9 1.8 -0.3 0.8 -0.6 2.6 -0.6 0.9 -0.6 1.7 -0.4 0.9 -0.5 1.7 -0.5 2.6 -1.4 3.5 -0.9 0.8 -0.8 0.4 -0.6 0.3 -1.1 -0.2 -1.1 -0.5 -1.1 -0.8 -1.1 -1.5 -1.1 -4.6 -2.1 -0.9 -0.8 -0.3 -0.4 -0.5 -1.1 0 -1.1 0.2 -1.1 1.2 -2.2 0.9 -1.1 1.3 -1.1 5 -2.7 3.5 -2.4 1.4 -1.5 1.6 -2.2 0.8 -2.2 0.3 -2.2 -0.3 -2.2 -0.8 -3.2 -0.4 -2.2 0.3 -2.2 0.4 -1.1 1.4 -2.2 5.6 -6.5 1.9 -2.3 2.6 -4.4 2.4 -5.3 0.9 -1.3z"/>
<path fill="#0000ec" fill-rule="evenodd" d="M119.4 24.2l0.9 -0.4 0.9 -0.1 1.6 0.5 1 0.7 1.7 2 1.7 2.7 4.3 7.8 2.7 5.5 1.6 4 4.9 15.7 4.7 12.1 4.8 15.4 3.8 11.4 0.9 4 0.4 3.3 -0 3.3 -0.3 3.2 -0.9 3.3 -0.9 2.2 -2.8 4.4 -4.2 4.5 -4.5 3.2 -4.1 2.4 -5.2 2.2 -11.2 3.7 -6.1 2.5 -0.8 0 -1.8 -0.5 -1.7 0.2 -0.9 0.5 -0.8 1.1 -0.3 1.1 0.1 1.1 0.4 1.1 0.6 0.8 2.6 2 3.1 2.7 0.8 1.1 0.4 1.1 0.2 1.1 -0.4 2.2 -1.4 2.2 -1 1.1 -2.8 2.2 -2.3 1.5 -2.6 2.4 -1.3 1.6 -1.1 2.2 -0.6 2.1 -0 2.2 1.2 6.6 -0.1 1.1 -0.6 2.2 -1.4 2.2 -5.6 6.6 -2.4 3.3 -1.4 2.2 -3.1 5.9 -0.9 1.1 -0.9 0.7 -0.8 0.4 -0.9 0 -1.3 -0.4 -1.3 -1 -0.8 -1 -1.8 -2.7 -5.1 -10.1 -1.8 -3.9 -1.7 -4.6 -3.9 -14 -4.9 -14.3 -3.9 -14.3 -3 -9.9 -0.8 -3.3 -0.8 -6.3 -0 -2.5 0.6 -4.4 1 -3.2 0.9 -2.2 2.7 -4.4 1.9 -2.2 2.2 -2.2 2.8 -2.2 3.6 -2.2 5.1 -2.5 2.5 -1 7.8 -2.6 5.2 -2.2 2.9 -0.5 0.6 -0.2 1.1 -0.9 0.7 -1.1 0.2 -1.1 -0.1 -1.1 -0.4 -1.1 -0.8 -1.1 -1 -1.1 -3.5 -2.2 -1.2 -1.1 -0.6 -1.1 -0.2 -1.1 0.1 -1.1 0.4 -1.1 1.5 -2.2 1.2 -1.1 6.9 -4.7 1.7 -1.9 1.6 -2.2 0.6 -1.1 0.6 -3.3 -1.3 -7.6 0.2 -2.2 0.5 -1.1 2.2 -3.3 3.4 -3.7 3.2 -4 2.2 -3.3 3.2 -5.9 0.9 -1.1z"/>
<path fill="#0008ff" fill-rule="evenodd" d="M120.1 26.4l1.1 -0.3 0.8 0.1 0.9 0.4 0.9 0.6 1.7 1.9 2.6 3.8 3.2 5.6 2 3.8 1.6 3.9 1.6 4.4 2.9 9.8 5.8 15.4 3.8 12.1 4 12.1 0.9 3.3 0.8 4.4 0.2 3.3 -0.2 3.2 -0.8 3.3 -0.8 2.2 -1.7 3.4 -2.5 3.2 -1.8 2.1 -4.3 3.4 -5.2 3.1 -5.4 2.4 -11 3.7 -5.2 2.1 -0.9 0.1 -2.6 -0.5 -1.7 0.2 -0.9 0.5 -0.8 0.9 -0.7 1.8 0.1 1.1 0.3 1.1 1.1 1.6 3.3 2.8 1.7 2.2 0.4 1.1 0.2 1.1 -0.4 2.2 -0.5 1.1 -1.6 2.2 -6.5 5.6 -2.4 3.2 -0.8 2.2 -0.3 2.1 0.1 2.2 0.7 4.4 0 2.2 -0.3 1.1 -0.9 2.2 -1.6 2.2 -6.5 7.7 -5.3 7.8 -0.9 0.7 -0.8 0.5 -0.9 0.1 -0.8 -0.2 -0.9 -0.5 -0.9 -0.7 -2.6 -3.4 -4.3 -7.8 -1.7 -3.6 -1.7 -4.4 -1.6 -5 -3 -10.9 -4.9 -14.3 -3 -11 -3.9 -13.2 -0.9 -4.4 -0.3 -3.3 0 -3.3 0.3 -3.5 0.9 -3.4 0.8 -2.2 0.9 -1.8 1.4 -2.2 1.7 -2.2 2 -2.2 4.1 -3.3 3.6 -2.2 4.5 -2.2 10.3 -3.7 5.2 -2 3.5 -0.6 0.8 -0.5 0.9 -0.9 0.5 -1.1 0.2 -1.1 0 -1.1 -0.4 -1.1 -1.2 -1.8 -4.1 -3.7 -0.7 -1.1 -0.3 -1.1 0.1 -1.1 0.3 -1.1 1.4 -2.2 1.1 -1.1 4.8 -3.6 2.6 -2.4 1.4 -1.7 1.1 -2.2 0.6 -2.2 0.1 -2.2 -0.9 -6.5 0.3 -2.1 0.4 -1.2 2.2 -3.3 6.6 -7.7 4.6 -6.7 0.9 -1z"/>
<path fill="#0024ff" fill-rule="evenodd" d="M119.5 29.7l0.8 -0.4 0.9 -0.2 0.8 0.1 1.8 0.8 1.7 1.7 1.7 2.1 2.6 3.9 2.6 4.8 1.7 3.8 1.6 4.3 3.6 11.5 5.6 14.8 7.8 24.2 1 4.4 0.4 3.3 0.1 3.3 -0.4 3.2 -0.9 3.3 -1 2.2 -1.2 2.2 -1.5 2.2 -1.9 2.2 -2.3 2.2 -4.5 3.3 -5.5 2.9 -5.2 2.1 -13.8 4.7 -0.9 0.1 -2.6 -0.4 -1.7 0.2 -0.9 0.5 -1 0.9 -0.6 1.1 -0.3 1.1 0.1 1.1 0.2 1.1 0.8 1.4 3 3 1.6 2.2 0.5 2.2 -0.3 2.2 -1.1 2.2 -0.9 1.1 -4.6 4.2 -2.2 2.4 -1.2 1.8 -0.7 1.5 -0.4 1.1 -0.4 2.1 0.5 7.7 -0.4 2.2 -1 2.2 -2.4 3.3 -9 10.6 -1.8 1.5 -0.8 0.4 -0.9 0.2 -0.8 -0.2 -1.8 -1 -0.8 -0.8 -1.8 -2.2 -1.7 -2.6 -3.4 -6.5 -2.4 -6 -3.8 -13.1 -5.3 -15.4 -6.9 -24.2 -0.9 -4.4 -0.4 -3.3 0 -3.3 0.3 -3.3 1.2 -4.3 2.2 -4.4 1.5 -2.2 1.8 -2.2 3.7 -3.3 4.6 -3.1 4.4 -2.1 13.8 -5.1 1.7 -0.5 2 -0.2 1.5 -0.4 1.1 -0.7 1 -1.1 0.5 -1.1 0.2 -1.1 -0.2 -2.2 -0.9 -1.6 -3.7 -3.9 -0.7 -1.1 -0.3 -1.1 0 -1.1 0.3 -1.1 1.3 -2.2 1.1 -1.1 6.3 -5.4 1.1 -1.2 1.4 -2.2 0.9 -2.2 0.4 -2.2 -0.1 -2.2 -0.5 -4.3 0.2 -2.2 0.3 -1.1 1 -2.2 2.4 -3.3 8.4 -9.7 1.8 -1.8z"/>
<path fill="#0040ff" fill-rule="evenodd" d="M119.7 31.9l1.5 -0.4 1.7 0.4 1.7 1.1 1.7 1.7 1.8 2.2 2.4 3.8 1.7 3.3 1.5 3.3 4.7 14.2 5.8 15.4 7.8 24.2 1 4.4 0.5 3.3 -0 3.3 -0.4 3.2 -0.9 3.3 -0.9 2.2 -1.2 2.2 -1.6 2.2 -1.8 2.2 -2.4 2.2 -4.5 3.3 -3.1 1.7 -3.3 1.6 -5.8 2.2 -5.6 1.8 -4.3 1.6 -1.7 0.3 -3.5 -0.2 -1.7 0.3 -1.2 0.6 -1.1 1.1 -0.6 1.1 -0.2 1.1 0.2 2.2 1.2 2.2 2.6 2.8 0.9 1.6 0.5 2.2 -0.2 2.2 -0.4 1.1 -1.5 2.2 -6.2 6.3 -1 1.4 -1.2 2.2 -0.7 3.2 0.2 6.6 -0.3 2.2 -0.7 2.2 -1.3 2.2 -3.7 4.5 -6 6.3 -1.8 1.2 -0.8 0.4 -1.7 -0.1 -1.8 -0.8 -0.8 -0.8 -1.8 -2 -1.7 -2.4 -2.8 -5.2 -2.6 -6.6 -3.6 -12 -5.3 -15.4 -6.9 -24.2 -0.9 -4.4 -0.4 -3.3 0.1 -4.4 0.4 -3.3 1.4 -4.3 1.1 -2.2 1.4 -2.2 1.6 -2.2 2.1 -2.2 4.1 -3.3 2.5 -1.6 3.3 -1.7 5.3 -2.2 9.6 -3.5 5.2 -0.9 1.7 -1.1 0.8 -1.1 0.7 -2.2 -0.2 -2.2 -1.1 -2.2 -2.8 -3.3 -0.6 -1.1 -0.3 -1.1 -0 -1.1 0.2 -1.1 0.5 -1.1 1.8 -2.2 4.4 -3.9 1.8 -1.8 1.5 -2 1.1 -2.2 0.8 -3.3 -0.1 -7.6 0.4 -2.2 1.1 -2.2 2.4 -3.3 5.7 -6.2 2.6 -2.5z"/>
<path fill="#005cff" fill-rule="evenodd" d="M119 34.1l1.3 -0.5 1.7 0 1.8 0.7 1.7 1.4 1.7 1.8 2.2 3.2 1.9 3.3 1.5 3.3 1.3 3.4 3.9 11.9 5.5 14.3 7.8 24.2 1.1 4.4 0.4 3.3 -0 3.3 -0.4 3.2 -0.9 3.3 -0.9 2.2 -1.2 2.2 -1.5 2.2 -1.9 2.2 -2.3 2.2 -4.6 3.3 -4 2.2 -2.4 1.1 -5.9 2.2 -10 3.2 -4.3 -0.1 -1.7 0.3 -1.7 1 -0.9 1 -0.6 1.2 -0.3 1.1 0.2 2.2 0.9 2.2 2.6 3.3 0.6 1.1 0.5 2.2 -0.3 2.2 -0.3 1.1 -1.4 2.2 -4.5 4.7 -1.6 1.9 -1.9 3.3 -0.8 3.2 -0.1 6.6 -0.3 2.2 -0.8 2.2 -1.3 2.2 -3.5 4.3 -4.4 4.2 -2.6 1.7 -1.7 0.3 -0.8 -0.2 -1.8 -0.8 -0.8 -0.7 -2.6 -3 -1.8 -2.7 -1.6 -3.1 -2.2 -5.5 -3.6 -12 -5.3 -15.4 -7 -24.2 -0.9 -4.4 -0.4 -3.3 -0 -4.4 0.5 -3.3 1.4 -4.3 1.1 -2.2 1.3 -2.2 1.7 -2.2 2.1 -2.2 4.1 -3.3 3.6 -2.2 2.2 -1.1 5.4 -2.2 8.9 -3.1 3.4 -0.4 1.8 -0.5 1.7 -1 0.8 -1 0.9 -1.7 0.2 -1.1 -0.1 -2.2 -1 -2.2 -2.4 -3.3 -0.5 -1.1 -0.3 -1.1 -0 -1.1 0.2 -1.1 0.4 -1.1 1.7 -2.2 4.4 -4.2 1.7 -1.9 1.2 -1.6 1.2 -2.2 0.8 -3.3 0.1 -7.6 0.6 -2.2 1.1 -2.2 2.4 -3.3 3 -3.2 3.4 -3.2z"/>
<path fill="#0078ff" fill-rule="evenodd" d="M117.8 36.3l1.6 -0.7 1.8 -0.3 1.7 0.4 1.7 1 1.7 1.6 2 2.4 2 3.3 1.6 3.3 1.4 3.4 4 11.9 5.5 14.1 7.7 23.9 1 3.8 0.6 4.4 0.1 3.3 -0.4 3.2 -0.9 3.3 -0.9 2.2 -1.2 2.2 -1.6 2.2 -1.9 2.2 -2.3 2.2 -4.6 3.3 -4.1 2.2 -2.4 1.1 -6 2.2 -8.2 2.5 -1.7 0.2 -3.5 0 -1.7 0.3 -1.7 1 -0.9 0.8 -0.9 1.8 -0.3 1.1 0.1 2.2 0.8 2.2 2 3.3 0.9 2.2 0.1 2.2 -0.5 2.2 -1.2 2.2 -5.7 6.6 -1.9 3.3 -0.9 3.2 -0.3 6.6 -0.4 2.2 -0.9 2.2 -1.3 2.2 -3.4 4 -3.5 3.1 -2.6 1.4 -1.7 0.2 -0.8 -0.2 -1.8 -0.8 -2.6 -2.5 -1.7 -2.4 -2.1 -3.9 -2.1 -5.5 -3.4 -10.9 -4.5 -12.5 -7 -23.8 -1.6 -6.4 -0.5 -3.5 -0.2 -3.3 0.2 -3.3 0.4 -2.2 1.4 -4.3 1.1 -2.2 1.3 -2.2 1.7 -2.2 2.1 -2.2 4.1 -3.3 3.7 -2.2 4.8 -2.2 9 -3.3 2.8 -0.6 2.6 -0.3 1.8 -0.5 1.4 -0.8 1.2 -1.1 0.7 -1.1 0.5 -1.1 0.2 -1.1 -0.1 -2.2 -0.7 -2.2 -2.5 -4.4 -0.3 -1.1 0.1 -2.2 1.1 -2.2 1.9 -2.2 4.3 -4.4 1.6 -2.2 1.2 -2.2 0.9 -3.3 0.5 -7.6 0.6 -2.2 1.1 -2.2 1.6 -2.2 1.9 -2.2 2.6 -2.5z"/>
<path fill="#0094ff" fill-rule="evenodd" d="M118.9 37.4l1.4 -0.3 1.7 0.1 1.8 0.7 1.7 1.3 1.7 1.9 1.7 2.5 2.6 5.1 4.9 13.9 5.5 13.8 7.8 23.6 1.1 4.4 0.6 3.9 0.1 3.8 -0.4 3.2 -0.6 2.2 -0.8 2.2 -1 2.2 -1.4 2.2 -1.7 2.2 -2.1 2.2 -4.1 3.3 -3.7 2.2 -2.2 1.1 -5.4 2.2 -10.4 3.1 -1.7 0.2 -3.5 0.2 -1.7 0.3 -1.3 0.6 -1.3 1.1 -0.8 1.1 -0.5 1.1 -0.3 2.2 0.4 2.2 2 4.4 0.7 2.2 -0 2.2 -0.8 3.3 -1.4 2.2 -4.7 5.5 -1.8 3.3 -1 3.2 -0.7 7.7 -0.7 2.2 -1.6 2.9 -2.6 3.1 -3.5 2.9 -2.6 1.2 -1.7 0.1 -0.8 -0.2 -2.3 -1.2 -2.1 -2.1 -1.7 -2.5 -1.7 -3.3 -1.7 -4.4 -3.1 -9.6 -5.6 -15.6 -6.9 -23.5 -0.9 -3.8 -0.6 -3.3 -0.3 -3.3 0.1 -3.3 0.5 -3.3 1.4 -4.3 2.5 -4.4 1.7 -2.2 2.1 -2.2 4.1 -3.3 3.7 -2.2 2.3 -1.1 5.5 -2.2 6.4 -2 4.3 -0.7 1.8 -0.5 1.7 -1 1.3 -1.3 1.1 -2.2 0.3 -2.2 -0.1 -1.4 -0.5 -1.9 -1.6 -3.3 -0.6 -2.2 0.1 -2.2 0.4 -1.1 1.3 -2.2 5 -5.5 2.3 -3.3 0.9 -2.2 0.6 -2.2 0.7 -7.6 0.7 -2.2 1 -1.9 1.9 -2.5 2.5 -2.5 2.5 -2z"/>
<path fill="#00afff" fill-rule="evenodd" d="M117.9 39.6l1.5 -0.5 1.8 -0.1 1.7 0.5 1.7 1.1 1.7 1.7 1.8 2.3 2.6 4.9 3.9 10.9 6.4 16 4.1 12.6 3.7 10.9 0.9 3.4 0.8 4.6 0.1 4.2 -0.4 3.2 -0.5 2.2 -0.9 2.5 -2.3 4.1 -1.8 2.2 -2.1 2.2 -4.1 3.3 -3.9 2.2 -5.1 2.2 -11.8 3.7 -5.2 0.5 -1.7 0.3 -1.7 0.9 -1.3 1.2 -0.8 1.1 -0.4 1.1 -0.4 2.2 0.3 2.2 1.6 4.4 0.5 2.2 0 2.2 -0.6 2.2 -1.7 3.3 -4.2 5.5 -1.9 3.3 -1 3.2 -1.1 7.7 -0.8 2.2 -1.2 2.1 -1.9 2.3 -2.4 2.2 -2.6 1.4 -1.7 0.3 -0.9 -0.1 -1.7 -0.5 -1.5 -1.1 -1.1 -1 -1.7 -2.3 -1.8 -3.1 -1.7 -4.3 -2.9 -9 -5.7 -15.4 -7.8 -26.6 -0.9 -5.1 -0.1 -2.4 0.1 -3.3 0.5 -3.3 1.3 -4.1 0.8 -1.8 1.7 -2.8 2.7 -3.3 3.8 -3.3 3.4 -2.2 2 -1.1 5.2 -2.2 7.1 -2.4 7 -1.5 1.7 -1 1.7 -1.7 1.1 -2.2 0.3 -2.2 -0.2 -2.2 -1.7 -5.5 0 -2.2 0.6 -2.2 1.2 -2.2 0.8 -1.1 4.6 -5.5 1.8 -3.3 0.8 -2.2 0.5 -2.2 0.5 -4.3 0.5 -2.2 1.3 -3.3 2.6 -3.3 2.6 -2.2z"/>
<path fill="#00cbff" fill-rule="evenodd" d="M117.3 42.9l1.3 -0.5 1.7 -0.2 1.7 0.3 1.8 0.9 1.7 1.6 0.9 1.2 1.7 2.6 1.3 2.9 3.9 9.8 6 14.2 8.1 24.3 1.2 4.4 0.6 4.4 0.1 3.3 -0.5 3.6 -1.3 4 -1 2.2 -1.4 2.2 -1.7 2.2 -2.2 2.2 -4.4 3.3 -5.3 2.8 -7.2 2.7 -6.6 2.1 -5.2 0.6 -1.7 0.4 -1.7 0.8 -1.7 1.6 -1.2 2.2 -0.3 2.2 0.1 2.2 1.3 4.4 0.3 2.2 -0.2 2.2 -0.8 2.2 -1.8 3.3 -4 5.5 -1.9 3.3 -1.1 3.2 -1.7 7.3 -0.6 1.5 -1.1 1.9 -1.7 2 -1.8 1.3 -0.8 0.5 -1.8 0.5 -1.7 -0.1 -1.7 -0.7 -1.7 -1.5 -1.4 -1.7 -1.3 -2.2 -1.7 -3.5 -3.5 -9.6 -5.5 -14.3 -6.9 -23.1 -1.2 -4.4 -0.5 -3.3 -0.3 -3.3 0.1 -3.3 0.5 -3.3 1.4 -4.3 1.3 -2.6 1.2 -1.8 2.7 -3.3 3.9 -3.3 3.5 -2.2 4.7 -2.2 8.1 -3 6.1 -1.4 1.7 -0.6 1.7 -1.2 1.4 -1.5 1 -2.2 0.4 -2.2 -0.2 -2.2 -1 -5.5 0 -1.1 0.4 -2.2 1.7 -3.3 5.1 -6.6 2 -3.3 1.1 -3.3 1.5 -6.5 1.3 -3.1 1.9 -2.4 1.6 -1.4z"/>
<path fill="#00e7ff" fill-rule="evenodd" d="M118.3 47.3l1.1 -0.3 0.9 0 1.7 0.5 1.8 1.3 1.7 2.1 2.6 4.7 8.4 18 2 5.5 6.3 18.7 1.7 5.5 0.6 3.3 0.3 3.3 -0.1 3.3 -0.5 3.2 -0.7 2.2 -0.9 2.2 -1.2 2.2 -1.6 2.2 -3.1 3.3 -4.3 3.3 -5.2 2.7 -7.4 2.8 -5.6 1.7 -6 1 -1.7 0.9 -1.8 1.4 -1 1.6 -0.4 1.1 -0.4 2.2 0.1 2.2 0.8 4.4 0.1 2.2 -0.4 2.2 -0.9 2.2 -1.3 2.3 -4.8 6.5 -1.4 2.2 -1.7 3.2 -2.4 6.6 -0.9 1.7 -1.4 1.6 -1.2 0.9 -0.9 0.3 -1.7 0.2 -1.7 -0.6 -1.1 -0.8 -1.5 -1.7 -1.6 -2.7 -7.1 -15.8 -2.8 -7.2 -6.8 -22 -1.5 -5.5 -0.6 -3.3 -0.3 -3.3 0.1 -3.3 0.5 -3.3 1.4 -4.3 1.1 -2.2 1.4 -2.2 2.8 -3.3 3.9 -3.3 3.6 -2.2 4.7 -2.2 6.3 -2.4 6.1 -1.6 1.7 -0.6 1.4 -0.9 1.2 -1.1 1.5 -2.2 0.7 -2.2 0.2 -2.2 -0.6 -6.6 0.1 -1.1 0.7 -2.2 1.9 -3.3 4.4 -5.5 2.2 -3.3 1.7 -3.3 2.6 -6.5 1 -1.9 1.7 -1.8z"/>
<path fill="#04fffb" fill-rule="evenodd" d="M117.8 53.9l1.6 -0.8 0.9 0 1.7 0.7 1.8 1.4 2.5 3.5 2.6 4.3 3.4 6.2 2.1 4.4 2.6 6.6 6.4 18.7 1.3 4.4 0.6 3.3 0.4 3.3 -0.1 3.3 -0.6 3.2 -0.7 2.2 -0.9 2.2 -1.9 3.3 -2.8 3.3 -4 3.3 -3.5 2.2 -4.7 2.2 -8.8 3.2 -6.9 1.4 -1.7 0.8 -1.8 1.4 -1.4 2 -0.7 2.2 -0.2 2.2 0.5 6.6 -0.4 2.2 -1.2 3 -1.7 2.8 -5.9 7.4 -5.4 7.9 -1.7 1.3 -0.9 0.3 -0.8 0 -0.9 -0.3 -1.7 -1.2 -1.7 -2.1 -1.8 -2.8 -5.1 -9.8 -3.2 -7.6 -6.6 -20.9 -1.5 -5.5 -0.6 -3.3 -0.3 -3.3 0.1 -3.3 0.5 -3.3 1.4 -4.3 1.8 -3.3 2.5 -3.3 3.5 -3.3 3.2 -2.2 4.2 -2.2 7.9 -3.2 6.1 -1.8 2.5 -1.4 1.4 -1.3 1.4 -2.2 0.7 -2.2 0.3 -2.2 0 -5.5 0.4 -2.2 0.8 -2.2 2.1 -3.3 7.2 -8.8 3.9 -5.8z"/>
<path fill="#20ffdf" fill-rule="evenodd" d="M118.5 59.3l1.8 -0.2 1.7 0.6 1.8 1.2 1.7 1.8 1.7 2.2 2.6 4 1.7 3.2 1.8 3.7 1.7 4.4 6.3 17.6 1.9 6.6 0.6 3.3 0.1 3.3 -0.2 3.2 -0.7 3.3 -0.8 2.2 -1.1 2.2 -2.2 3.3 -3.2 3.3 -2.7 2.2 -3.6 2.2 -4.7 2.2 -7 2.6 -6.9 1.6 -1.7 0.8 -1.8 1.3 -1.1 1.4 -1.1 2.2 -0.6 3.3 -0 4.4 -0.1 2.2 -0.6 2.2 -1.6 3.3 -3.5 4.5 -4.3 4.6 -2.6 2.5 -1.7 1.2 -0.9 0.4 -0.9 0.2 -1.7 -0.3 -0.8 -0.4 -1.8 -1.4 -1.7 -2 -1.7 -2.4 -3.5 -6.3 -2.9 -7.2 -6.1 -18.7 -1.8 -6.6 -0.5 -3.3 -0.1 -3.3 0.2 -3.3 0.6 -3.3 1.7 -4.3 2 -3.3 2.9 -3.3 2.5 -2.2 3.2 -2.2 4.2 -2.2 5.1 -2.2 8 -2.7 1.7 -1 1.8 -1.7 0.9 -1.2 1 -2.2 0.6 -2.2 0.7 -6.6 0.6 -2.2 1.4 -2.7 2.9 -3.9 5.7 -6 2.6 -2.4 1.7 -1.1z"/>
<path fill="#3cffc3" fill-rule="evenodd" d="M117.4 63.7l2 -0.3 1.8 0.3 1.7 0.8 1.7 1.5 1.7 1.9 1.8 2.3 1.7 2.9 1.9 3.8 1.8 4.4 6 16.5 2 6.6 0.6 3.3 0.2 3.3 -0.3 3.2 -0.7 3.3 -0.8 2.2 -1.1 2.2 -2.2 3.3 -3.2 3.3 -2.8 2.2 -3.6 2.2 -4.7 2.2 -5.8 2.2 -6.3 1.6 -1.7 0.8 -1.8 1.2 -1.6 1.9 -1.1 2.2 -0.5 2.2 -0.5 5.5 -0.5 2.2 -0.9 2.5 -1.8 2.9 -3.4 4 -2.6 2.4 -1.7 1.3 -2.6 1.3 -1.8 0.2 -0.8 -0.1 -1.7 -0.7 -0.9 -0.5 -1.7 -1.6 -1.8 -2.1 -1.7 -2.7 -1.3 -2.5 -2.8 -6.6 -5.9 -17.6 -1.8 -6.6 -0.5 -3.3 -0.2 -3.3 0.2 -3.3 0.7 -3.3 1.7 -4.3 2 -3.3 2.9 -3.3 2.5 -2.2 3.3 -2.2 4.2 -2.2 5 -2.2 4.7 -1.6 2.6 -1.1 2.6 -2.1 1.4 -1.8 1.1 -2.2 0.6 -2.2 1.4 -6.6 0.9 -2.2 1.2 -2.2 2 -2.6 3.5 -3.5 3.4 -2.6z"/>
<path fill="#57ffa8" fill-rule="evenodd" d="M116.9 67l1.7 -0.2 1.7 0.2 1.7 0.7 1.8 1.2 1.7 1.7 1.7 2.3 1.7 2.9 1.6 3.3 7.3 18.7 2 6.6 0.6 3.3 0.2 3.3 -0.2 3.2 -0.8 3.3 -0.8 2.2 -1 2.2 -2.3 3.3 -3.2 3.3 -2.8 2.2 -3.7 2.2 -4.7 2.2 -5.1 2 -6.1 1.8 -1.7 0.9 -1 0.8 -2 2.2 -1.1 2.2 -0.6 2.2 -1.4 6.6 -1.5 3.3 -1.9 2.8 -2.6 2.7 -1.7 1.4 -1.7 1.1 -2.6 0.9 -1.8 0.1 -0.8 -0.2 -1.7 -0.8 -1.9 -1.4 -1.8 -2.2 -2.1 -3.3 -2.9 -6.5 -5.1 -14.4 -2.1 -6.6 -1 -5.5 -0.2 -3.3 0.1 -2.2 0.8 -4.4 1.1 -3.2 1.8 -3.3 2.6 -3.3 2.9 -2.7 2.4 -1.7 3.7 -2.2 4.6 -2.2 7.4 -2.9 1.7 -1 2 -1.6 1.8 -2.2 1.1 -2.2 2.4 -7.7 1 -2.2 1.3 -2.2 1.7 -2.2 2.6 -2.5 2.6 -1.8z"/>
<path fill="#73ff8c" fill-rule="evenodd" d="M115.7 70.3l2 -0.4 1.7 0.1 1.8 0.6 1.7 1.1 1.7 1.7 1.7 2.3 2.6 4.7 6.8 16.3 1.6 4.4 0.9 3.3 0.6 3.3 0.2 3.3 -0.2 3.2 -0.8 3.3 -1.3 3.3 -2 3.3 -2.9 3.3 -2.5 2.2 -3.3 2.2 -4.2 2.2 -5.1 2.2 -6.8 2.2 -1.7 0.9 -1.6 1.3 -1.1 1.1 -1.4 2.2 -0.9 2.2 -1.7 5.5 -0.9 2.2 -1.2 2.2 -1.6 2.2 -2.5 2.5 -2.6 1.6 -2.6 0.7 -1.8 -0.1 -1.7 -0.7 -1.7 -1.2 -1.7 -1.9 -1.8 -2.6 -2.6 -5.3 -5.3 -13.9 -2.1 -6.6 -1.1 -5.5 -0.2 -3.3 0.1 -2.2 0.8 -4.4 1.2 -3.2 1.8 -3.3 2.7 -3.3 2.3 -2.2 3 -2.2 3.8 -2.2 4.5 -2.2 6.7 -2.8 1.7 -1.1 1.8 -1.6 0.9 -1.1 1.5 -2.2 3.6 -8.3 2.2 -3.8 1.2 -1.5 1.8 -1.6 1.7 -1.3z"/>
<path fill="#8fff70" fill-rule="evenodd" d="M114.6 73.6l2.2 -0.6 1.8 0 1.7 0.5 1.7 1.1 1.8 1.6 1.3 1.8 3 5.2 5.9 13.5 1.7 4.4 0.9 3.3 0.6 3.3 0.2 3.3 -0.2 3.2 -0.8 3.3 -1.3 3.3 -1.2 2.2 -2.6 3.3 -2.3 2.2 -3 2.2 -3.7 2.2 -5.5 2.6 -6.9 2.5 -2.6 1.5 -2.4 2.2 -1.4 2.2 -3.9 8.5 -2.6 3.8 -2.2 2 -2.1 1.2 -2.6 0.5 -1.8 -0.2 -1.7 -0.9 -1.7 -1.5 -2.6 -3.5 -2.6 -5.3 -5.4 -13.4 -1.7 -5.5 -0.9 -5.5 0 -4.4 0.8 -4.4 1.2 -3.2 1.8 -3.3 2.7 -3.3 2.4 -2.2 3 -2.2 3.8 -2.2 10.4 -5 1.8 -1.2 1.6 -1.5 2.5 -3.3 3.6 -6.6 2.1 -3.3 2.3 -2.4 1.7 -1.3z"/>
<path fill="#abff54" fill-rule="evenodd" d="M114.2 76.9l1.8 -0.6 1.7 -0.1 1.7 0.4 1.8 1 1.7 1.6 1.7 2.3 3.5 6.1 4.7 10.2 1.6 4.4 0.8 3.3 0.5 3.3 0.1 3.3 -0.4 3.2 -0.5 2.2 -1.3 3.3 -1.3 2.2 -2.6 3.3 -2.4 2.2 -3 2.2 -3.8 2.2 -4.5 2.2 -6.1 2.4 -2.6 1.4 -2 1.7 -1.9 2.2 -4.7 7.8 -2.6 3.3 -1.7 1.5 -1.7 0.9 -1.8 0.4 -1.7 -0.2 -1.7 -0.7 -1.7 -1.4 -2.6 -3.5 -3.5 -6.8 -4.3 -10.1 -1.6 -5.5 -0.8 -5.5 0.2 -4.4 1 -4.4 1.5 -3.2 1.3 -2.2 1.7 -2.2 2.2 -2.2 2.7 -2.2 3.5 -2.2 4 -2.2 5.9 -2.8 3.4 -2.3 1.6 -1.5 1.9 -2.2 5.2 -7.3 1.7 -2.1 1.7 -1.6z"/>
<path fill="#c7ff38" fill-rule="evenodd" d="M114.3 80.2l1.7 -0.5 1.7 0 1.7 0.6 1.8 1.2 1.7 1.8 1.7 2.4 2.6 4.3 2.6 5 1.8 3.9 1.2 3.3 1.3 5.5 0.2 3.3 -0.1 2.2 -0.5 3.2 -0.7 2.2 -1.6 3.3 -1.5 2.2 -1.9 2.2 -2.3 2.2 -3.1 2.2 -3.8 2.2 -4.5 2.2 -4.4 1.8 -3.4 2 -3 2.8 -6.5 8.1 -2.6 2.3 -1.7 0.8 -0.9 0.3 -1.7 -0 -0.9 -0.3 -0.9 -0.3 -1.7 -1.3 -1.7 -2 -1.7 -2.6 -3.5 -6.5 -3.1 -7.3 -1.6 -5.5 -0.5 -4.4 0.1 -4.4 1.1 -4.4 1.4 -3.2 1.4 -2.2 1.7 -2.2 2.2 -2.2 4.5 -3.3 3.8 -2.2 7.1 -3.7 2.7 -1.8 3.7 -3.3 6.6 -7.3 1.7 -1.5z"/>
<path fill="#e3ff1c" fill-rule="evenodd" d="M114.3 83.5l1.7 -0.4 1.7 0.2 1.7 0.7 1.8 1.3 1.7 1.8 1.7 2.4 2.6 4.1 1.7 3.3 1.4 3.1 1.2 3.3 0.8 3.3 0.3 2.2 0.2 3.3 -0.2 2.1 -0.5 2.2 -0.7 2.2 -1.6 3.3 -1.5 2.2 -3 3.3 -2.8 2.2 -5.4 3.3 -8 3.8 -2.6 1.5 -3 2.4 -5.7 5.7 -1.7 1.4 -1.7 1.2 -1.7 0.7 -0.9 0.1 -1.7 -0.1 -0.9 -0.3 -0.9 -0.5 -1.7 -1.4 -1.7 -2 -1.7 -2.5 -3.2 -5.6 -2.3 -5.5 -1.2 -4.4 -0.6 -4.4 0.2 -4.4 0.4 -2.2 0.6 -2.2 1.5 -3.2 1.4 -2.2 1.7 -2.2 2.3 -2.2 4.5 -3.3 9.3 -5.2 2.6 -1.6 4 -3.1 6.4 -5.6 1.7 -1.2z"/>
<path fill="#feff01" fill-rule="evenodd" d="M113.3 86.8l1.8 -0.4 1.7 0 1.8 0.6 1.7 1.1 1.7 1.5 1.8 2.1 1.7 2.5 2.1 3.6 2.3 5.5 0.8 3.3 0.4 2.2 0.1 3.3 -0.2 2.1 -0.4 2.2 -0.7 2.2 -1.6 3.3 -1.6 2.2 -2.9 3.2 -3 2.3 -5.5 3.3 -8.8 4.5 -2.9 2.1 -4.9 4 -2.6 1.7 -1.7 0.8 -1.7 0.5 -1.8 0 -0.8 -0.3 -1.8 -0.8 -0.8 -0.7 -1.7 -1.7 -1.8 -2.2 -2.7 -4.6 -2.4 -5.5 -1.2 -4.4 -0.4 -4.4 0.3 -4.4 1.2 -4.1 1.2 -2.4 2.3 -3.3 2.1 -2.2 2.6 -2.2 5.1 -3.3 8.3 -4.8 9.5 -6.7z"/>
<path fill="#ffe400" fill-rule="evenodd" d="M111 90.1l2.4 -0.8 1.7 -0.2 1.7 0.2 1.8 0.7 1.7 1.2 1.7 1.6 1.8 2.1 1.7 2.6 1.3 2.5 1.4 3.3 0.7 2.3 0.6 3.2 0.2 3.3 -0.2 2.1 -0.4 2.2 -0.8 2.2 -1.6 3.3 -2.5 3.3 -3 2.8 -3.9 2.7 -10.8 5.9 -6.9 4.5 -2.6 1.5 -1.7 0.7 -1.8 0.4 -1.7 0 -1.7 -0.4 -2.6 -1.7 -2.6 -2.8 -2.6 -4.1 -2.2 -5.1 -1.1 -4.4 -0.3 -3.3 0.4 -4.4 0.9 -3.3 1.5 -3.2 1.5 -2.2 1.9 -2.2 2.6 -2.4 2.8 -2 3.5 -2.2 6.6 -3.8 6.9 -4.2z"/>
<path fill="#ffc800" fill-rule="evenodd" d="M110.5 92.3l2 -0.6 1.8 -0.1 1.7 0.2 1.7 0.5 1.7 1.1 1.8 1.5 1.7 1.9 1.4 2.1 2.2 4.4 0.7 2.2 0.7 3.3 0.2 3.3 -0.2 2.1 -0.4 2.2 -0.8 2.2 -1.7 3.3 -2.5 3.3 -3.1 2.7 -4 2.8 -14.1 7.9 -3.5 1.7 -2.5 0.8 -1.8 0.2 -1.7 -0.2 -1.7 -0.6 -2.6 -1.8 -2.6 -3 -2.3 -3.9 -1.2 -3.3 -0.9 -3.3 -0.3 -4.4 0.6 -4.4 1.1 -3.2 1.9 -3.3 1.7 -2.2 2.2 -2.2 2.8 -2.2 5.2 -3.3 8.2 -4.6 3.4 -1.8z"/>
<path fill="#ffac00" fill-rule="evenodd" d="M109.6 94.5l2.1 -0.5 1.7 -0.1 1.7 0.2 1.7 0.5 1.8 0.9 1.7 1.5 2.6 3.2 1.2 2 0.9 2.2 0.7 2.2 0.6 3.3 0.1 2.2 -0.2 2.1 -0.4 2.2 -0.7 2.2 -1.8 3.3 -2.7 3.3 -3.9 3.3 -5.3 3.3 -9.2 4.9 -4.4 1.7 -1.7 0.4 -1.7 0.2 -1.7 -0.2 -1.8 -0.5 -2.6 -1.7 -2.3 -2.6 -2 -3.3 -1.3 -3.3 -0.8 -4.4 -0.1 -3.3 0.6 -3.3 1.1 -3.2 1.9 -3.3 1.9 -2.2 2.3 -2.2 2.9 -2.2 3.4 -2.2 6.3 -3.4 4.3 -2.1z"/>
<path fill="#ff9000" fill-rule="evenodd" d="M108.3 96.7l3.4 -0.6 1.7 -0 1.7 0.3 1.7 0.8 1.8 1.1 2.6 2.8 1.3 2.2 1 2.2 0.7 2.2 0.4 2.2 0.1 2.2 -0.2 2.1 -0.4 2.2 -0.8 2.2 -1.8 3.3 -2.8 3.3 -4.1 3.3 -5.5 3.3 -6.1 3 -4.3 1.5 -3.4 0.5 -1.8 -0.1 -1.7 -0.5 -2.6 -1.6 -1.7 -1.8 -1.7 -2.6 -1.3 -2.8 -0.8 -3.3 -0.3 -3.3 0.3 -3.3 1 -3.3 1.7 -3.2 1.7 -2.2 2.2 -2.2 2.4 -2 3.7 -2.4 4 -2.3 4.4 -2z"/>
<path fill="#ff7400" fill-rule="evenodd" d="M106.8 98.9l2.3 -0.6 1.7 -0.1 1.7 -0 1.8 0.4 2.5 1.2 1.6 1.3 1 1.1 2 3.3 0.8 2.2 0.5 2.2 0.1 2.2 -0.1 2.1 -0.4 2.2 -0.8 2.2 -1.9 3.3 -3 3.3 -4.1 3.1 -4 2.4 -4.6 2.2 -4.3 1.4 -3.5 0.4 -1.7 -0.1 -1.7 -0.5 -2 -1.2 -2.2 -2.2 -1.4 -2.2 -1.3 -3.3 -0.6 -3.3 0 -2.2 0.5 -3.3 0.8 -2.2 1.1 -2.1 1.5 -2.2 2 -2.2 2.6 -2.2 3.3 -2.2 3.4 -1.9 3.5 -1.5z"/>
<path fill="#ff5900" fill-rule="evenodd" d="M105.4 101.1l3.7 -0.8 1.7 0 1.7 0.2 2.6 1 1 0.7 1.6 1.4 1.9 3 1 3.3 0.3 2.2 -0.1 2.1 -0.8 3.3 -1.7 3.3 -2.3 2.8 -3.1 2.7 -3.8 2.5 -4.3 2.1 -4.4 1.3 -3.4 0.4 -1.7 -0.2 -1.8 -0.5 -1.7 -1 -1.7 -1.7 -1.3 -1.8 -1 -2.2 -0.5 -2.2 -0.3 -2.2 0.3 -3.3 0.6 -2.2 1 -2.1 1.4 -2.2 1.9 -2.2 2.2 -2 1.8 -1.3 3.4 -2 2.7 -1.3z"/>
<path fill="#ff3d00" fill-rule="evenodd" d="M104.4 103.3l3.8 -0.8 2.6 0.1 2.6 0.8 1.5 1 1.1 1 1.5 2.3 1.1 3.3 0 3.2 -0.8 3.3 -1.8 3.3 -1.8 2.2 -2.6 2.2 -3.4 2.2 -3.4 1.6 -3.5 1.1 -3.5 0.3 -2.5 -0.5 -1.8 -0.8 -1.7 -1.5 -1 -1.3 -1 -2.2 -0.6 -2.2 -0.1 -2.2 0.2 -2.2 0.7 -2.2 0.9 -2 0.9 -1.4 1.7 -2 1.8 -1.7 2.2 -1.6 2.1 -1.3 2.6 -1.2z"/>
<path fill="#ff2100" fill-rule="evenodd" d="M104.4 105.5l2.9 -0.5 2.6 0.1 1.3 0.4 1.3 0.6 1.8 1.5 1.3 2.3 0.6 2.2 -0.1 3.2 -0.7 2.2 -1.2 2.2 -1.8 2.2 -2.5 2.2 -2.6 1.6 -3.4 1.5 -2.6 0.6 -2.6 0.1 -2.3 -0.5 -1.9 -1.1 -1 -0.9 -0.9 -1.3 -0.5 -1.1 -0.3 -1.1 -0.3 -2.2 0.2 -2.2 0.6 -2.2 1.2 -2.1 0.7 -1.1 2.8 -2.8 3.4 -2.3z"/>
<path fill="#ff0500" fill-rule="evenodd" d="M102.5 108.8l2.3 -0.7 1.7 -0.3 1.7 0.2 2.2 0.8 1.3 1 0.8 1.3 0.6 2.1 0 2.1 -0.7 2.2 -0.7 1.3 -1.7 2 -1.8 1.6 -2.6 1.5 -1.7 0.6 -2.6 0.5 -1.7 0 -1.8 -0.5 -0.8 -0.5 -1.1 -1 -0.6 -0.9 -0.8 -2.4 0.1 -2.2 0.6 -2.2 0.6 -1.1 1.7 -2.1 2.8 -2.2z"/>
<path fill="#f10000" fill-rule="evenodd" d="M102 113.2l1.9 -0.8 1.7 -0.2 1.7 0.7 1 1.3 0.2 1.1 -0.2 1.1 -1 1.7 -1.8 1.6 -2.5 0.9 -1.7 0 -0.9 -0.4 -0.5 -0.5 -0.7 -1.1 -0.1 -1.1 0.2 -1.1 0.5 -1.1 0.8 -1.1z"/>
</g>
<path d="M876.8 806.65h3.5M1097.1 806.65h-3.5M876.8 866.6h3.5M1097.1 866.6h-3.5M876.8 926.55h3.5M1097.1 926.55h-3.5M986.95 746.7v3.5M986.95 986.5v-3.5" stroke="#1a1a3a" stroke-width="1.6" fill="none" opacity="0.7"/>
<path d="M964.92 746.7V986.5M997.97 746.7V986.5M876.8 830.63H1097.1M876.8 902.57H1097.1" stroke="#fff" stroke-width="2.1" stroke-dasharray="21 13.2" fill="none"/>
</g>
<text x="864.6" y="760" text-anchor="end" fill="#262626">-1</text>
<text x="864.6" y="819.95" text-anchor="end" fill="#262626">-0.5</text>
<text x="864.6" y="879.9" text-anchor="end" fill="#262626">0</text>
<text x="864.6" y="939.85" text-anchor="end" fill="#262626">0.5</text>
<text x="864.6" y="999.8" text-anchor="end" fill="#262626">1</text>
<text x="876.8" y="1028.3" text-anchor="middle" fill="#262626">1.45</text>
<text x="986.95" y="1028.3" text-anchor="middle" fill="#262626">1.55</text>
<text x="1097.1" y="1028.3" text-anchor="middle" fill="#262626">1.65</text>
<text x="985.15" y="1061.7" text-anchor="middle" fill="#262626">Wavelength (<tspan font-style="italic" font-size="34px" dx="2.5">μ</tspan><tspan dx="2.5">m)</tspan></text>
<text transform="translate(802.1 866.6) rotate(-90)" text-anchor="middle" fill="#262626">Time (ps)</text>
</g>
<g>
<rect x="1266.8" y="746.7" width="220.3" height="239.8" fill="#00008f" stroke="#262626" stroke-width="2"/>
<g clip-path="url(#c23)">
<rect x="1266.8" y="746.7" width="220.3" height="239.8" fill="#00008f"/>
<g filter="url(#b)" transform="translate(1266.8 746.7)">
<path fill="#0000b4" fill-rule="evenodd" d="M119.6 13.2l1.7 -0.3 0.9 0.1 1.7 0.6 1.8 1.4 2.1 2.6 1.9 3.3 1.4 3.3 3.3 9 3.8 9.7 2.6 7.7 4 14.2 4.9 14.3 5.1 18.7 1 4.4 0.6 4.4 0.1 3.3 -0.2 2.2 -0.5 3.2 -0.8 2.2 -2 4.4 -3 4 -3.5 3.3 -2 1.5 -0.6 0.6 -1.1 0.5 -0.6 0.7 -0.9 0.2 -0.9 0.8 -1.4 0.5 -1.2 0.8 -0.8 0.2 -0.9 0.7 -1.7 0.4 -0.9 0.8 -1.8 0.3 -0.8 0.8 -1.8 0.2 -0.4 0.2 -0.4 0.5 -1.8 0.4 -0.5 0.2 -0.3 0.5 -1.8 0.4 -0.9 0.8 -0.8 0.2 -0.9 0.8 -1.3 0.6 -2 2.2 -0.7 1.1 -0.1 1.1 0.7 1.1 0.9 1.1 0.8 0.7 2.3 1.5 1.1 1.1 0.7 1.1 0.3 1.1 -0.1 1.1 -0.2 1.1 -1.3 2.2 -1 1.1 -3 2.2 -3.2 1.8 -3.5 2.3 -2.3 2.5 -1.2 1.7 -0.8 2.5 -0.1 1.2 0.1 1.3 1.7 6.4 0.1 1.1 -0.3 2.2 -1.2 2.2 -5.6 6.6 -2.6 4 -0.8 1.7 -0.9 2.4 -1.4 6.2 -0.6 2.2 -1.6 3.3 -1.6 2.2 -1.8 1.8 -1.7 1.2 -1.7 0.5 -0.9 0.1 -1.8 -0.5 -1.7 -1.1 -1.7 -2 -2 -3.3 -1.9 -4.4 -8 -23.1 -3.8 -15 -4.8 -15.7 -4.3 -17.6 -1 -4.4 -0.8 -5.5 -0.2 -4.4 0.3 -3.3 1 -4.4 0.8 -2.1 1.6 -3.3 1.6 -2.2 2.3 -2.9 3.5 -3.1 0.9 -0.4 0.8 -0.9 0.9 -0.3 0.9 -0.9 0.8 -0.2 0.9 -0.8 0.9 -0.2 0.9 -0.7 0.8 -0.3 0.9 -0.2 0.9 -0.8 1.7 -0.3 0.9 -0.8 1.7 -0.3 0.9 -0.8 1.7 -0.3 0.9 -0.8 1.4 -0.4 0.3 -0.5 1.6 -0.6 1.5 -1.1 2.2 -2.1 0.8 -0.4 1.6 1.4 1 0.2 0.9 -0.5 0.5 -0.8 -0 -1.1 -0.5 -0.8 -0.9 -0.5 -1.7 0.1 -0.9 -0.2 -2.6 -2.6 -2.5 -1.5 -1.1 -1.1 -0.7 -1.1 -0.2 -1.1 -0 -1.1 0.3 -1.1 1.2 -2.2 1 -1.1 1.4 -1.1 4.1 -2.7 0.9 -0.3 0.8 -0.7 0.9 -0.4 0.9 -0.8 0.9 -0.5 2.1 -2.3 1.3 -2.1 0.6 -2.3 -0 -2.2 -0.4 -2.2 -1.3 -4.3 -0.1 -1.1 0.1 -1.1 0.7 -2.2 1.5 -2.2 5 -5.9 2.7 -4 1.7 -4.4 1.5 -6.6 0.8 -2.2 1.2 -2.2 1.7 -2.4 1.7 -1.6 1.8 -1.2zM113.5 143.9l-0.9 0.2 -0.7 0.9 -0.1 1.1 0.8 1.1 0.9 0.2 0.9 -0.2 0.8 -1.1 -0.2 -1.1 -0.7 -0.7z"/>
<path fill="#0000d0" fill-rule="evenodd" d="M119.2 14.3l2.1 -0.4 0.9 0.1 1.7 0.7 1.8 1.4 2 2.6 1.4 2.5 1.4 3 7.6 19.8 1.9 5.5 3.7 13.1 4.9 14.3 6.1 22 0.9 4.4 0.4 4.4 0 3.3 -0.4 3.2 -0.9 3.3 -1 2.2 -2.7 4.4 -1.9 2.2 -2.6 2.6 -4.3 3.1 -3.5 1.9 -0.9 0.6 -0.8 0.2 -1.8 1 -0.8 0.2 -0.9 0.6 -1.8 0.5 -0.8 0.5 -1.8 0.5 -1.7 0.9 -0.9 0.2 -1.7 0.9 -0.9 0.2 -3.5 2 -2.6 2.2 -0.9 0.5 -0.8 -0.1 -0.9 -0.9 -0.9 -0.5 -0.8 -0.1 -0.9 0.2 -0.9 0.6 -0.4 0.9 -0.1 1.1 0.5 1.2 0.9 0.7 0.9 0.3 1.7 -0.1 0.9 0.2 3.3 3.2 0.9 1.1 0.6 1.1 0.2 1.1 -0.1 2.2 -1 2.2 -1.7 2.2 -2.7 2.2 -3.9 2.7 -1.7 1.5 -1.8 2.4 -1 2.2 -0.2 2.1 0.2 2.2 1.4 5.5 0 2.2 -0.8 2.2 -1.5 2.2 -5 6.1 -1.9 2.7 -1.9 4.4 -2.3 8.7 -1.7 3.4 -1.8 2.2 -1.7 1.5 -1.8 0.9 -1.7 0.2 -1.8 -0.5 -1.7 -1.2 -1.7 -2.1 -1.9 -3.2 -1.8 -4.4 -6.3 -17.6 -1.7 -5.5 -3.7 -14.2 -5 -16.5 -4.3 -17.6 -0.9 -4.4 -0.7 -5.5 -0.1 -2.2 0.1 -3.3 0.6 -3.3 0.9 -3.3 0.9 -2.1 1.9 -3.3 2.8 -3.5 2.6 -2.5 2.6 -2.1 0.9 -0.3 0.9 -0.8 0.8 -0.3 0.9 -0.7 1.8 -0.7 0.8 -0.6 0.9 -0.3 0.9 -0.6 1.7 -0.5 0.9 -0.7 1.7 -0.4 0.9 -0.7 1.7 -0.4 0.9 -0.7 1.7 -0.7 5.3 -3.2 0.8 -0.1 1.8 0.8 0.8 0 0.9 -0.3 0.9 -1 0.2 -0.6 0.1 -1.1 -0.5 -1.1 -0.7 -0.7 -2.6 -0.9 -0.9 -0.5 -2.8 -2.3 -0.9 -1.1 -0.6 -1.1 -0.3 -1.1 0.1 -2.2 1 -2.2 1.8 -2.2 1.2 -1.1 5.8 -3.9 2.4 -2.7 1.4 -2.2 0.6 -2.2 0.1 -1.1 -0.2 -1.7 -1.4 -5.9 0 -2.2 0.3 -1.1 1.9 -3.3 5.5 -6.6 2 -3.3 1.4 -3.3 2 -7.7 1.4 -3.3 1.5 -2.2 1.1 -1.2 1.7 -1.4z"/>
<path fill="#0000ec" fill-rule="evenodd" d="M118.6 15.4l1 -0.3 1.7 -0.3 1.7 0.4 2 1.3 2.4 2.9 0.9 1.5 1.7 3.5 7.8 20 1.8 5.1 4.1 14.2 3.8 11 1.7 5.5 4.3 15.6 1 4.2 0.9 4.4 0.2 4.4 -0.2 4.4 -1 4.1 -1.6 3.5 -1 1.7 -2.1 2.7 -2 2.2 -4.1 3.3 -5.8 3.5 -5.2 2.3 -8.7 3.5 -3.1 1.7 -3 1.9 -0.9 0.3 -2.4 -1.1 -1 -0.1 -0.9 0.2 -1.3 1 -0.5 1.1 -0.1 1.1 0.4 1.1 0.6 1 0.9 0.6 2.6 0.6 0.9 0.5 1.7 1.7 0.7 1.1 0.6 1.1 0.2 1.1 -0.1 2.2 -0.3 1.1 -0.4 1.1 -1.6 2.2 -2.3 2.2 -4.6 3.8 -2.1 2.8 -1 2.2 -0.2 2.1 0.1 2.2 1.2 5.5 -0.1 2.2 -0.5 1.9 -1.6 2.5 -5.3 6.6 -2.1 3.3 -1 2.2 -0.7 2.2 -1.5 6 -0.9 2.3 -0.9 1.7 -1.7 2.3 -1.7 1.4 -1.8 0.9 -1.7 0.2 -1.8 -0.4 -1.7 -1.3 -1.7 -2.1 -1.8 -3.1 -1.7 -4.3 -3.2 -9.1 -2.1 -5.5 -2.6 -7.7 -4 -15.3 -4.7 -15.4 -4.5 -18.7 -0.9 -4.4 -0.5 -5.5 -0 -3.3 0.6 -4.4 0.9 -3.3 1 -2.1 2.6 -4.3 2 -2.3 2.3 -2.4 2.7 -2 1.7 -1.2 4.3 -2.4 8.7 -3.6 7 -3.8 0.9 -0.4 2.6 0.7 0.8 -0.1 0.9 -0.2 1.2 -1.1 0.4 -1.1 0.1 -1.1 -0.8 -1.8 -0.9 -0.8 -2.6 -1.2 -0.9 -0.7 -2.1 -2.1 -0.5 -1.1 -0.4 -1.1 -0 -1.1 0.4 -2.2 0.5 -1.1 1.6 -2.2 2.5 -2.2 3.3 -2.4 1.7 -1.7 1.1 -1.4 1.3 -2.2 0.6 -2.2 0.1 -2.2 -1.4 -5.8 -0.1 -1.8 0.1 -1.3 0.8 -2 1.4 -2.2 5.4 -6.6 1.4 -2.2 1.2 -2.2 0.8 -2.2 2.1 -7.6 1.6 -3.4 1.9 -2.4 0.9 -0.9z"/>
<path fill="#0008ff" fill-rule="evenodd" d="M119.2 16.5l2.1 -0.3 1.7 0.4 1.6 1 1.1 1 1.7 2.4 2.6 5.3 7.6 18.8 1.8 5.5 3.1 10.9 5.5 16.5 5.5 19.6 0.9 3.8 0.7 5.2 0.1 3.3 -0.3 3.3 -0.5 2.5 -0.9 2.6 -1.8 3.6 -3.4 4.4 -3.5 3.2 -1.7 1.2 -5.5 3.3 -5 2.3 -8.7 3.5 -6.1 3.3 -0.9 0.1 -1.7 -0.7 -1.7 -0.2 -1.6 0.5 -1.1 1.1 -0.4 1.1 -0.1 1.1 0.3 1.1 0.6 1.1 1.4 1.2 2.6 1 1.2 1.1 0.8 1.1 0.7 2.2 0.1 1.1 -0.3 2.2 -1 2.2 -0.8 1.1 -2.2 2.2 -3.7 3.3 -1.8 2.2 -1.2 2.2 -0.4 1.1 -0.3 2.1 0.1 2.2 0.9 5.5 -0.1 2.2 -0.3 1.1 -0.5 1.1 -1.3 2.2 -4.4 5.5 -2.8 4.4 -1.4 3.3 -2.2 7.2 -0.9 2.1 -1.7 2.6 -1.3 1.3 -1.8 1.1 -1.2 0.3 -0.9 0 -1.8 -0.5 -1.7 -1.4 -1.4 -1.7 -1.2 -2.1 -2.6 -6.1 -5.2 -13.8 -1.8 -5.2 -3.8 -14.5 -5.6 -18.7 -4.5 -18.6 -0.8 -4.5 -0.4 -4.4 0.1 -3.3 0.3 -3.3 0.8 -3.3 0.9 -2.3 1.7 -3.3 3.3 -4.2 3.6 -3.3 3.1 -2.2 3.9 -2.2 8.7 -3.7 6.1 -3.2 1.8 -0.6 2.6 0.5 0.8 0 1.6 -0.7 0.9 -1.1 0.4 -1.1 0.1 -1.1 -0.3 -1.1 -0.6 -1.1 -1.2 -1.1 -2 -1.1 -1.3 -1.1 -0.9 -1.1 -0.6 -1.1 -0.4 -2.2 0.3 -2.2 1.1 -2.2 0.9 -1.1 6.4 -5.8 2.2 -3 1 -2.2 0.3 -2.2 -0.1 -2.2 -1 -5.4 0 -1.1 0.4 -2.2 1.8 -3.3 5 -6.4 2.3 -3.5 1.8 -4.4 2 -6.5 1.1 -2.3 1.5 -2.1 0.8 -0.9z"/>
<path fill="#0024ff" fill-rule="evenodd" d="M118.6 18.7l1.8 -0.6 1.8 0.1 0.8 0.4 1.8 1.2 1.7 2.2 2.6 4.8 7.3 17.2 1.9 5.5 3.9 13.1 5.5 16.5 5.2 18.7 1 4.4 0.6 4.4 0.1 3.3 -0.3 3.3 -0.4 2.1 -1.1 3.3 -1.1 2.2 -1.3 2.2 -1.7 2.2 -2.1 2.2 -4.1 3.3 -3.5 2.2 -3.8 2 -11.3 4.7 -5.2 2.6 -0.9 0.3 -0.9 0 -1.7 -0.5 -1.7 -0.2 -1.8 0.7 -1.2 1.4 -0.5 1.1 0 1.1 0.2 1.1 0.5 1.1 1 1.3 3.3 2 1 1.1 0.5 1.1 0.4 2.2 -0.3 2.2 -0.9 2.2 -0.8 1.1 -6.3 6.6 -1.2 1.6 -0.9 1.7 -0.6 2.2 -0.2 2.1 0.7 5.5 0.1 2.2 -0.5 2.2 -0.5 1.1 -1.3 2.2 -5 6.6 -2 3.3 -1.5 3.3 -2.3 6.6 -1.7 3.1 -1.1 1.3 -1.5 1.2 -0.9 0.4 -1.7 0.1 -1.8 -0.6 -1.7 -1.5 -1.3 -1.8 -1.3 -2.3 -6.3 -15.3 -2.7 -7.7 -4.1 -14.9 -4.8 -15.8 -5.1 -20.9 -0.8 -4.4 -0.4 -4.4 0 -3.3 0.4 -3.3 1.2 -4.4 2.1 -4.3 1.5 -2.2 1.9 -2.2 3.6 -3.3 3.2 -2.2 3.3 -1.9 8.7 -3.9 6.1 -2.9 0.9 -0.4 0.9 0 1.7 0.3 1.7 0 1.8 -0.8 0.9 -0.9 0.6 -1.6 0.1 -1.1 -0.3 -1.1 -0.4 -1.1 -0.9 -1.1 -3 -2.2 -1 -1.1 -0.6 -1.1 -0.3 -1.1 -0.1 -1.1 0.3 -2.2 1 -2.2 0.8 -1.1 5.7 -5.5 1.5 -1.8 1 -1.5 0.9 -2.2 0.4 -2.2 -0.1 -2.2 -0.7 -5.4 0.2 -2.2 0.3 -1.1 1.8 -3.3 5 -6.6 2.1 -3.3 1.5 -3.3 1.9 -5.5 1.4 -3 1.7 -2.3z"/>
<path fill="#0040ff" fill-rule="evenodd" d="M118.3 20.9l1.3 -0.7 0.8 -0.2 1.8 0.2 1.7 1 1.8 1.8 1.7 2.8 1.7 3.4 4.4 9.6 2.6 6.3 1.9 5.5 3.6 12 5.2 15.4 5.2 18.7 1.1 4.4 0.7 4.4 0.2 4.4 -0.3 3.3 -0.8 3.2 -0.7 2.2 -1.1 2.2 -1.4 2.2 -1.6 2.2 -2.1 2.2 -4.1 3.3 -3.5 2.2 -3.2 1.7 -11.3 4.7 -5.2 2.5 -0.9 0.2 -3.5 -0.6 -1.7 0.3 -1.7 1.1 -0.8 1.1 -0.4 1.1 -0.1 1.1 0.2 1.1 0.4 1.1 0.7 1 0.8 1 3 2.4 0.7 1.1 0.4 2.2 -0.2 2.2 -0.3 1.1 -0.5 1.1 -1.6 2.2 -5.2 5.5 -1.9 3.3 -0.7 2.2 -0.2 2.1 0.5 5.5 0 2.2 -0.5 2.2 -1.1 2.2 -5.6 7.7 -2.1 3.3 -1.6 3.3 -2.2 5.6 -1.1 2.1 -1.5 1.8 -0.9 0.7 -0.9 0.4 -1.7 0.1 -1.8 -0.7 -0.8 -0.6 -1.4 -1.7 -1.2 -1.9 -1.8 -3.6 -4.3 -10.2 -2 -5.2 -1.5 -4.4 -3.9 -14.2 -5 -16.5 -4.6 -18.7 -0.9 -4.4 -0.5 -4.4 0 -4.4 0.4 -3.3 0.8 -3.3 0.8 -2.1 1 -2.2 1.4 -2.2 2.7 -3.4 2.2 -2.1 2.1 -1.7 2.5 -1.6 3.9 -2.2 12.8 -5.8 1.7 -0.6 2.6 0.3 1.7 -0.1 1.2 -0.4 1.5 -1.1 0.6 -1.1 0.3 -1.1 -0.1 -2.2 -0.4 -1.1 -0.7 -1.1 -3.2 -3 -0.9 -1.4 -0.5 -2.2 0.2 -2.2 1 -2.2 0.7 -1.1 5.6 -5.7 2.2 -3.1 0.9 -2.2 0.5 -2.2 0 -2.2 -0.5 -5.4 0.2 -2.2 0.3 -1.1 1.8 -3.3 6.4 -8.8 1.8 -3.3 3.3 -7.7 1.3 -2z"/>
<path fill="#005cff" fill-rule="evenodd" d="M118.4 23.1l1.2 -0.7 0.8 -0.2 1.8 0.2 1.7 1 1.8 2 1.7 2.7 2.6 5.1 3.5 7.3 1.9 4.6 1.9 5.5 3.6 12 5.3 15.4 5.5 19.8 1 4.4 0.6 4.4 0.1 3.3 -0.3 3.3 -0.7 3.2 -0.8 2.2 -1.1 2.2 -1.3 2.2 -1.7 2.2 -2.1 2.2 -4.1 3.3 -3.5 2.2 -4.3 2.2 -9.6 4 -3.5 1.6 -1.7 0.6 -0.9 0.1 -2.6 -0.3 -1.7 0 -1.8 0.6 -1.3 1.1 -0.7 1.1 -0.3 1.1 0 2.2 0.6 1.6 0.9 1.3 2.5 2.6 0.8 1.1 0.5 2.2 -0.1 2.2 -0.3 1.1 -1 2.2 -5.8 6.6 -1.9 3.3 -0.7 2.2 -0.2 2.1 0.3 5.5 -0.1 2.2 -0.6 2.2 -1 2.2 -7 9.9 -5.5 10.5 -1.7 1.8 -0.9 0.5 -0.8 0.2 -0.9 0 -1.8 -0.7 -0.8 -0.8 -0.9 -1 -1.7 -2.7 -5.3 -11.1 -1.7 -4.4 -2 -5.5 -3.9 -14.2 -4.8 -15.4 -5 -20.3 -0.9 -5 -0.4 -3.3 0 -4.4 0.4 -3.3 1.2 -4.4 2.1 -4.3 1.5 -2.2 1.9 -2.2 3.8 -3.5 3 -2 4 -2.2 12.2 -5.5 1.7 -0.4 2.6 0.2 1.7 -0.1 1.8 -0.7 1.2 -1.2 0.7 -1.1 0.3 -1.1 -0.1 -2.2 -0.4 -1.2 -0.8 -1.5 -2.6 -2.8 -0.8 -1.1 -0.5 -2.2 0.2 -2.2 0.3 -1.1 1.2 -2.2 5.6 -6.1 1.9 -2.7 0.9 -2.2 0.4 -2.2 0.1 -2.2 -0.3 -5.4 0.3 -2.2 0.8 -2.2 2.1 -3.3 5.6 -7.7 1.9 -3.3 2.9 -5.9 0.8 -1.3z"/>
<path fill="#0078ff" fill-rule="evenodd" d="M118.8 25.3l1.6 -0.8 1.8 0.2 1.7 1.1 1.8 2 2.6 4.1 2.6 5 2.6 5.4 1.7 4.2 1.8 5.1 3.3 11 5.4 15.7 5.2 18.7 1 4.1 0.7 4.7 0.2 4.1 -0.3 3.3 -0.7 3.2 -0.8 2.2 -1.1 2.2 -1.4 2.2 -1.6 2.2 -2.1 2.2 -4.1 3.3 -3.5 2.2 -4.4 2.2 -10.6 4.5 -2.6 1 -0.9 0.1 -4.4 -0.1 -1.7 0.4 -1.5 0.7 -1.1 1.1 -0.6 1.1 -0.3 1.1 0 2.2 0.9 2.4 2.4 3.1 0.7 1.1 0.4 1.1 0.2 2.2 -0.3 2.2 -0.4 1.1 -1.3 2.2 -4.7 5.5 -1.9 3.3 -0.7 2.2 -0.3 2.1 0.1 5.5 -0.1 2.2 -0.6 2.2 -1 2.2 -7 9.9 -3.8 6.5 -1.7 2.5 -1.8 1.4 -0.8 0.3 -0.9 0 -1.8 -0.8 -0.8 -0.8 -1.8 -2.2 -1.7 -3 -4.4 -9 -1.7 -4.3 -1.7 -4.9 -3.3 -12 -5.4 -17.7 -4.6 -18.6 -0.9 -4.4 -0.5 -4.4 -0.1 -4.4 0.4 -3.3 1.2 -4.4 0.9 -2.1 1.2 -2.2 1.5 -2.2 1.9 -2.2 3.7 -3.3 3.2 -2.2 4 -2.2 8.9 -3.9 0.9 -0.5 2.6 -0.8 5.2 -0.3 1.8 -0.7 1.6 -1.5 0.6 -1.1 0.3 -1.1 0 -2.2 -0.8 -2.2 -2.4 -3.3 -0.7 -1.1 -0.4 -1.1 -0.2 -2.2 0.4 -2.2 1.1 -2.2 5.7 -6.5 2 -3.4 0.7 -2.2 0.3 -2.2 -0.2 -5.4 0.2 -2.2 1.1 -3.3 2 -3.3 5.7 -7.7 4.7 -7.9z"/>
<path fill="#0094ff" fill-rule="evenodd" d="M119.4 27.5l1 -0.4 1.8 0.1 1.7 1.1 1.8 1.9 1.7 2.4 2.6 4.5 2.6 5.1 1.8 4.1 1.7 4.9 3.9 12.5 4.8 13.9 5.2 18.4 1.2 5.1 0.8 4.4 0.2 4.4 -0.4 3.9 -0.7 2.6 -0.8 2.2 -1 2.2 -1.4 2.2 -1.7 2.2 -2.1 2.2 -4 3.3 -5.6 3.3 -10.4 4.4 -2.9 1.1 -2.5 0.7 -4.4 0.1 -1.7 0.3 -1.7 0.9 -1.3 1.3 -0.5 1.1 -0.4 1.1 0 2.2 0.7 2.2 2 3.3 1 2.2 0.2 2.2 -0.7 3.3 -1 2.2 -4.4 5.5 -1.9 3.3 -0.7 2.2 -0.3 2.1 -0.1 5.5 -0.2 2.2 -0.7 2.2 -1 2.2 -1.4 2.2 -10.2 14.1 -1.8 1.4 -0.8 0.3 -0.9 0 -0.9 -0.2 -1.7 -1.3 -1.8 -2.1 -1.7 -2.8 -2.6 -4.9 -1.8 -3.7 -2.6 -7 -3.8 -13.5 -4.9 -15.6 -5.1 -20.7 -1 -5.4 -0.2 -3.4 0 -3.3 0.4 -3.3 1.2 -4.4 2.1 -4.3 1.5 -2.2 1.9 -2.2 3.7 -3.3 5.1 -3.3 7 -3.3 5.7 -2.2 2.1 -0.4 3.5 -0.1 1.7 -0.5 1.8 -1 1.1 -1.3 0.8 -2.2 0.1 -2.2 -0.7 -2.2 -2.5 -4.4 -0.4 -1.1 -0.1 -2.2 0.7 -3.3 1.3 -2.2 4.6 -5.5 1.9 -3.3 0.9 -3.3 0.2 -2.2 0 -4.3 0.2 -2.2 0.6 -2.2 0.8 -1.7 1.7 -2.7 5 -6.6 4.6 -6.5 0.9 -1z"/>
<path fill="#00afff" fill-rule="evenodd" d="M118.4 30.8l1.2 -0.7 1.7 -0.4 1.7 0.6 1.8 1.4 1.7 2 2.6 3.9 2.6 4.8 1.8 3.9 1.7 4.8 4 12.6 4.7 13.4 6.1 21.6 1 4.6 0.4 4.4 0 3.3 -0.4 3.2 -0.9 3.3 -0.9 2.2 -2 3.3 -1.7 2.2 -2.1 2.2 -4.1 3.3 -5.6 3.3 -5.1 2.2 -6 2.2 -3.9 1.2 -4.4 0.3 -1.7 0.3 -1.7 0.9 -1.6 1.7 -0.9 2.2 -0.1 2.2 0.6 2.2 2.2 4.4 0.3 1.1 0.1 1.1 -0.1 2.2 -0.6 2.2 -1 2.2 -4.7 6.6 -1.5 3.3 -0.7 3.2 -0.4 6.6 -0.8 3.3 -1.1 2.2 -1.4 2.2 -7.5 9.8 -2.6 2.6 -1.7 0.7 -0.9 0.1 -0.9 -0.3 -1.7 -1.1 -1.8 -2 -1.7 -2.5 -2.6 -4.8 -1.8 -3.8 -2.6 -7.4 -3.1 -11 -4.7 -14.8 -5.2 -20.7 -0.9 -4.4 -0.5 -5.2 -0 -3.3 0.5 -3.9 0.7 -2.7 0.8 -2.1 2 -3.7 3.1 -4 3.7 -3.3 5.2 -3.3 7.5 -3.3 4.9 -1.7 1.7 -0.4 3.5 -0.3 1.7 -0.4 1.8 -1 1.4 -1.7 0.9 -2.2 -0 -2.2 -0.6 -2.5 -1.5 -3 -0.7 -2.2 -0.1 -2.2 0.8 -3.3 1.1 -2.2 4.2 -5.5 1.9 -3.3 0.9 -3.3 0.4 -6.5 0.3 -2.2 0.5 -1.8 0.9 -1.9 1.7 -2.8 2.7 -3.5 5.2 -6.4z"/>
<path fill="#00cbff" fill-rule="evenodd" d="M119.5 33l1.8 -0.3 1.7 0.5 1.8 1.3 1.7 1.8 1.8 2.5 1.7 2.8 1.7 3.4 1.8 4.3 3.9 12.2 5.7 15.7 6.1 21.6 0.8 4 0.5 4.9 0 3.3 -0.5 3.7 -0.8 2.8 -0.9 2.2 -2.6 4.2 -2.1 2.4 -2.3 2.2 -3 2.2 -3.7 2.2 -2.3 1.1 -11 4.3 -2.6 0.8 -5.2 0.6 -1.8 0.5 -1.7 1.3 -0.9 1 -0.7 1.4 -0.3 1.1 -0.1 2.2 0.4 2.2 1.4 3.3 0.6 2.2 0.1 1.1 -0.3 2.2 -0.7 2.2 -1 2.2 -4.2 6.6 -1.5 3.3 -0.3 1.1 -0.6 3.2 -0.6 6.2 -0.8 2.6 -1 1.9 -1.7 2.7 -5.2 6.4 -1.8 1.7 -1.7 1.3 -0.9 0.4 -1.7 0.2 -1 -0.3 -1.6 -1 -1.8 -1.8 -1.7 -2.4 -1.7 -3 -1.8 -3.6 -2.6 -7.2 -3.1 -10.6 -4.7 -14.6 -5.3 -20.5 -0.9 -4.5 -0.5 -5.5 -0 -3.3 0.6 -4.4 0.8 -3 0.9 -2 1.8 -3.1 3.1 -3.9 3.7 -3.3 3.5 -2.2 2.1 -1.1 7.9 -3.3 4 -1.4 4.4 -0.6 1.7 -0.5 1.8 -0.9 1 -1 0.7 -0.9 0.9 -2.4 0.1 -2.2 -0.4 -2.2 -1.2 -3.3 -0.6 -2.2 -0.1 -1.1 0.3 -2.2 0.8 -2.2 1.1 -2.1 3.7 -5.6 1.8 -3.3 1.1 -3.3 0.6 -6.5 0.7 -3.3 1.6 -3.5 3.5 -4.7 4.4 -4.8 1.7 -1.5z"/>
<path fill="#00e7ff" fill-rule="evenodd" d="M117.3 38.5l1.4 -0.7 1.7 -0.4 1.8 0.3 1.7 0.9 1.8 1.5 2.1 2.8 1.9 3.3 1.6 3.3 9.9 27.4 5.7 19.8 1.3 5.5 0.6 4.4 0.1 4.4 -0.5 3.2 -1.3 4.4 -1.1 2.2 -1.3 2.2 -2.8 3.3 -3.8 3.3 -5.4 3.3 -4.9 2.2 -8.8 3.3 -6.4 1.2 -1.7 0.8 -1.8 1.6 -1 1.9 -0.4 1.1 -0.1 2.2 0.3 2.2 1.1 3.3 0.4 2.2 0 1.1 -0.4 2.2 -0.8 2.1 -0.8 1.8 -3.9 6 -1.7 3.3 -1.1 3.2 -1.2 6.6 -1 3.3 -1 2.2 -1.4 2.2 -1.8 2.2 -1.7 1.7 -1.8 1.4 -1.7 0.9 -1.7 0.4 -0.9 -0.1 -1.8 -0.7 -0.8 -0.6 -1.8 -1.7 -1.7 -2.5 -1.7 -3.2 -2.3 -5.5 -3.4 -10.9 -3.9 -11.3 -2.8 -9.6 -4.3 -17.6 -0.5 -3.3 -0.3 -3.3 0.1 -3.3 0.3 -3.3 1.2 -4.4 1 -2.1 1.2 -2.2 2.5 -3.3 3.5 -3.3 5 -3.3 7.1 -3.3 5.1 -1.9 5.2 -1 1.8 -0.7 1.3 -0.8 1.3 -1.5 1 -1.8 0.4 -2.2 -0.1 -2.2 -1.1 -4.4 -0.4 -2.2 0.2 -2.2 0.7 -2.2 1 -2.2 4.4 -6.6 1.8 -3.3 1.1 -3.3 1.5 -7.6 0.7 -2.2 1 -2.1 1.5 -2.3 2 -2.4 1.7 -1.6z"/>
<path fill="#04fffb" fill-rule="evenodd" d="M117.5 42.9l1.2 -0.5 1.7 -0.1 1.8 0.4 1.7 1.1 1.8 1.7 1.2 1.8 1.4 2.3 1.7 3.8 9.1 23.5 1.8 5.5 4 14.3 1.4 5.5 0.6 4.4 0 4.4 -0.4 3.2 -1.4 4.4 -1 2.2 -1.4 2.2 -2.7 3.3 -3.8 3.3 -3.5 2.2 -4.3 2.2 -8.8 3.6 -7 1.6 -1.7 0.8 -2 1.7 -1.2 2.2 -0.5 2.2 0.1 2.2 0.9 4.4 0.2 2.2 -0.3 2.2 -0.7 2.2 -1.8 3.2 -3.7 5.6 -1.8 3.3 -1.3 3.2 -1.9 6.8 -0.8 2.2 -1.2 2 -1.7 2.2 -2.4 1.9 -1.7 0.8 -0.9 0.1 -1.7 -0.1 -1.8 -0.9 -1.7 -1.6 -1.7 -2.4 -1.2 -2.2 -2.3 -5.6 -7.8 -21.8 -4.7 -17.6 -1.7 -7.7 -0.5 -3.3 -0.2 -3.3 0.2 -3.3 0.5 -3.3 1.4 -4.3 1.8 -3.3 2.4 -3.3 3.5 -3.3 5.1 -3.3 7 -3.3 3.4 -1.3 5.2 -1.2 1.8 -0.7 1.7 -1.2 1.1 -1.1 1.1 -2.2 0.5 -2.2 0 -2.2 -0.9 -5.5 0.1 -2.2 0.7 -2.5 1.5 -3 4.5 -6.6 1.9 -3.3 1.3 -3.3 2.2 -7.3 1.1 -2.5 2.3 -3.2 1.8 -1.5z"/>
<path fill="#20ffdf" fill-rule="evenodd" d="M116.7 48.4l2 -1 1.7 0 0.9 0.2 1.4 0.8 2.1 2 1.7 2.7 1.8 3.4 6.2 13.8 2.1 5.5 1.9 5.5 5.4 18.7 0.8 4.4 0.3 3.3 -0 3.3 -0.4 3.2 -1.4 4.4 -1 2.2 -1.4 2.2 -2.7 3.3 -3.9 3.3 -5.4 3.3 -7.2 3.3 -2.9 1.1 -5.2 1.2 -1.8 0.6 -1.7 1.1 -1.5 1.5 -1.2 2.2 -0.5 2.2 0 2.2 0.6 4.4 0 1.7 -0.6 2.7 -0.9 2.2 -1.2 2.2 -4.5 6.6 -2 3.3 -3.9 8.8 -1.2 2.1 -1.4 1.7 -1.7 1.1 -1.8 0.5 -0.8 -0.1 -1.8 -0.8 -1.5 -1.3 -1.1 -1.4 -1.7 -3 -6.1 -14.2 -3.3 -8.8 -4.6 -16.5 -2 -8.8 -0.5 -3.3 -0.2 -3.3 0.2 -3.3 0.5 -3.3 1.4 -4.3 1.8 -3.3 2.5 -3.3 3.5 -3.3 4.2 -2.8 5.3 -2.7 4.2 -1.8 5.2 -1.4 1.8 -0.7 1.7 -1.1 1.5 -1.6 1.1 -2.2 0.5 -2.2 0.1 -2.2 -0.4 -5.5 0.4 -2.2 0.8 -2.2 1.7 -3.3 4.7 -6.6 2 -3.3 4.6 -9.8 1.3 -2z"/>
<path fill="#3cffc3" fill-rule="evenodd" d="M118 53.9l1.6 -0.5 1.7 0.4 1.7 1.2 1.8 2.1 2.6 4 2.6 4.8 2.6 5.4 1.8 4.1 1.7 4.8 2.1 6.6 2.9 9.9 1.4 5.5 0.5 3.3 0.2 3.3 -0.1 3.3 -0.6 3.2 -1.6 4.4 -1.9 3.3 -2.8 3.3 -3.8 3.3 -3.4 2.2 -6.6 3.3 -4.6 1.9 -4.3 1.1 -1.8 0.6 -1.7 1.1 -1.8 1.7 -0.8 1.3 -0.8 2.2 -0.3 2.2 0.1 6.6 -0.8 2.8 -1.2 2.7 -1.4 2.2 -5.6 7.7 -4 6 -1.7 2.3 -1.7 1.5 -1.8 0.5 -0.8 -0.2 -0.9 -0.3 -1.8 -1.4 -1.7 -2.2 -1.7 -2.9 -4.4 -8.8 -1.9 -4.4 -1.6 -4.5 -4.3 -15.3 -2.1 -8.8 -0.5 -3.3 -0.2 -3.3 0.1 -3.3 0.6 -3.3 1.4 -4.3 1.8 -3.3 2.5 -3.3 3.3 -3.2 3.4 -2.3 6.2 -3.3 2.6 -1.2 5.2 -1.6 1.8 -0.7 1.7 -1.1 1.8 -1.8 0.8 -1.3 0.8 -2.2 0.3 -2.2 0 -4.4 0.2 -2.2 0.6 -2.2 1 -2.2 2 -3.3 5.8 -7.7 5 -7.4 1.7 -1.8z"/>
<path fill="#57ffa8" fill-rule="evenodd" d="M116.7 60.4l2 -0.8 1.7 0 1.8 0.8 1.7 1.4 1.8 2.1 2.6 3.8 1.7 3.1 1.9 3.9 1.8 4.4 1.8 5.5 3.4 11 1.5 5.5 0.8 4.4 0.2 3.3 -0.1 3.3 -0.6 3.2 -0.7 2.2 -0.9 2.2 -2 3.3 -2.7 3.3 -2.5 2.2 -3 2.2 -3.8 2.2 -6.9 3.3 -6.5 2.1 -1.7 1 -1.5 1.3 -1.5 2.2 -0.9 2.2 -0.3 2.2 -0.4 5.5 -0.6 2.2 -0.9 2.3 -1.7 2.9 -4.4 5.6 -5.2 5.6 -1.8 1.3 -0.8 0.5 -1.8 0.3 -0.8 -0.1 -1.8 -0.9 -1.7 -1.6 -1.8 -2.3 -1.7 -2.7 -1.7 -3.3 -1.8 -3.8 -2.6 -7.1 -4.1 -14.3 -1.7 -7.7 -0.4 -3.3 -0.2 -3.3 0.3 -3.3 0.7 -3.3 1.2 -3.2 1.7 -3.3 2.6 -3.3 3.4 -3.2 3.4 -2.3 6 -3.3 2.6 -1.1 5.4 -1.9 1.7 -1.1 1.5 -1.4 1.5 -2.2 0.9 -2.2 1 -7.7 0.7 -2.2 1.5 -3.3 2.5 -3.6 3.5 -4.2 4.3 -4.6z"/>
<path fill="#73ff8c" fill-rule="evenodd" d="M116.2 64.8l1.6 -0.5 1.8 -0.1 1.7 0.5 1.7 1.1 1.8 1.7 2.2 2.8 1.9 3.3 1.7 3.3 2 5.1 2.6 7.8 2.2 6.9 1.4 5.5 0.6 3.3 0.2 3.3 -0.1 3.3 -0.6 3.2 -1.1 3.3 -1.7 3.3 -2.5 3.3 -3.5 3.3 -3 2.2 -3.8 2.2 -5.5 2.7 -6.1 2.2 -1.7 1 -1.8 1.5 -1.1 1.4 -1.1 2.2 -0.7 2.2 -0.6 4.4 -0.9 3.3 -1.6 3.3 -1.8 2.7 -3.5 4 -2.6 2.4 -1.7 1.3 -2.6 1.1 -1.8 0.1 -0.8 -0.2 -1.8 -0.9 -0.9 -0.7 -1.7 -1.9 -1.7 -2.4 -2.9 -5.5 -2.9 -7.7 -3.9 -13.2 -1.1 -4.4 -0.6 -3.3 -0.3 -3.3 -0 -3.3 0.4 -3.3 0.5 -2.2 1.2 -3.2 1.8 -3.3 2.6 -3.3 2.2 -2.2 2.9 -2.2 5.5 -3.3 2.2 -1.1 4.5 -1.8 2.7 -1.2 1.7 -1.3 1.2 -1.2 0.8 -1.1 1.1 -2.2 0.7 -2.2 1.4 -6.4 1 -2.4 1.6 -2.9 2.6 -3.5 2.7 -2.7 2.6 -2.3z"/>
<path fill="#8fff70" fill-rule="evenodd" d="M116.9 68.1l1.8 -0.1 1.7 0.4 1.8 0.9 1.7 1.5 1.8 2.1 1.2 1.8 1.4 2.5 1.7 3.7 1.8 4.8 3.1 8.8 1.3 4.4 1 4.4 0.5 3.3 0.1 3.3 -0.2 3.3 -0.8 3.2 -1.3 3.3 -2 3.3 -2.8 3.3 -2.4 2.2 -3.1 2.2 -3.6 2.2 -4.3 2.2 -6.4 2.7 -2.7 1.9 -0.8 1 -1.5 2.1 -0.9 2.2 -2 7 -1.7 3.5 -1.9 2.7 -2.5 2.8 -1.7 1.5 -1.8 1.2 -2.6 1.1 -1.7 0.1 -0.9 -0.1 -1.7 -0.8 -1.8 -1.3 -2.6 -3.2 -2.6 -4.9 -2.8 -7.4 -3.4 -11 -1.1 -4.4 -0.6 -3.3 -0.4 -3.3 0 -3.3 0.4 -3.3 0.5 -2.2 1.2 -3.2 1.8 -3.3 2.6 -3.3 2.3 -2.2 2.9 -2.2 3.5 -2.2 4.1 -2.2 5.6 -2.5 2.6 -2 0.9 -1 1.4 -2.2 1 -2.2 2.1 -6.6 1.5 -3 1.8 -2.7 2.6 -3.1 2.6 -2.2 2.6 -1.6z"/>
<path fill="#abff54" fill-rule="evenodd" d="M114 72.5l2.1 -0.8 1.7 -0.2 1.8 0.3 1.7 0.8 1.7 1.5 1.8 2 1.7 2.7 1.3 2.5 2.2 5.2 2.6 7 1.8 5.4 1 4.4 0.5 3.3 0.2 3.3 -0.3 3.3 -0.7 3.2 -1.3 3.3 -1.3 2.2 -2.5 3.3 -2.2 2.2 -2.8 2.2 -3.3 2.2 -3.9 2.2 -6.1 2.8 -1.7 0.9 -2.6 2.2 -2.1 2.9 -3.1 7.6 -0.9 1.7 -1.8 2.8 -2.6 3 -2.6 2.1 -1.7 0.9 -2.6 0.5 -1.8 -0.3 -1.7 -1 -1.8 -1.5 -2.6 -3.7 -2.6 -5.6 -3.5 -9.8 -2.2 -7.7 -0.9 -5.5 -0.1 -3.3 0.1 -2.2 0.8 -4.4 1.2 -3.2 1.2 -2.2 2.3 -3.3 2.1 -2.2 2.6 -2.2 3.2 -2.2 3.6 -2.2 6.2 -3 1.7 -1.2 1.7 -1.6 2.2 -3 3.1 -6.8 2.6 -4.5 1.7 -2.3 1.8 -1.8 1.7 -1.4z"/>
<path fill="#c7ff38" fill-rule="evenodd" d="M114 75.8l2.1 -0.7 1.7 0 1.8 0.5 1.7 1.1 1.7 1.7 1.4 1.8 1.3 2 1.7 3.5 4 9.9 1.4 4.4 0.9 3.3 0.5 3.3 0.1 3.3 -0.2 3.3 -0.8 3.2 -1.3 3.3 -1.2 2.2 -2.6 3.3 -2.2 2.2 -2.8 2.2 -3.3 2.2 -3.8 2.2 -5.2 2.6 -1.8 1.1 -2.1 1.8 -2.5 3.3 -4.1 7.5 -1.7 2.4 -1.8 2 -2.6 2 -1.7 0.8 -1.8 0.3 -1.7 -0.2 -1.7 -0.9 -1.8 -1.5 -1.2 -1.4 -1.4 -2.2 -2.6 -5.5 -3.3 -8.8 -1.6 -5.5 -1 -5.5 -0.1 -3.3 0.1 -2.2 0.8 -4.4 1.3 -3.2 1.1 -2.2 1.5 -2.2 1.9 -2.2 2.3 -2.2 2.9 -2.2 3.4 -2.2 7.2 -4 2.6 -2.1 2.3 -2.7 4.7 -7.8 2.6 -3.6 2.6 -2.6z"/>
<path fill="#e3ff1c" fill-rule="evenodd" d="M114.6 79.1l1.5 -0.3 1.7 0.2 1.8 0.7 1.7 1.3 2.6 3.3 1.8 2.9 1.7 3.6 1.7 4 1.5 4.1 1 3.3 0.7 3.3 0.3 3.3 0 2.2 -0.4 3.2 -0.6 2.2 -1.3 3.3 -1.3 2.2 -2.6 3.3 -2.3 2.2 -2.7 2.2 -3.3 2.2 -8.1 4.6 -2.7 2 -3 3.3 -3 4.3 -2.6 3.4 -2.6 2.6 -1.8 1.2 -1.7 0.7 -1.8 0.2 -1.3 -0.3 -1.3 -0.6 -1.7 -1.5 -2.6 -3.5 -1.8 -3.3 -1.7 -3.9 -2.6 -7 -1.3 -5.5 -0.5 -4.4 0.2 -4.4 1.1 -4.4 1.4 -3.2 1.4 -2.2 1.7 -2.2 2.1 -2.2 2.7 -2.2 3.1 -2.2 6.4 -3.8 3.4 -2.5 2.5 -2.5 5.4 -7.1 2.6 -3 2.6 -2.1z"/>
<path fill="#feff01" fill-rule="evenodd" d="M112.9 83.5l1.4 -0.6 1.8 -0.2 1.7 0.3 1.8 0.9 1.7 1.6 1.7 2.2 1.8 2.7 1.7 3.3 2.6 6.4 0.9 3.2 0.6 3.3 0.2 3.3 -0.1 2.2 -0.5 3.2 -0.7 2.2 -1.6 3.3 -1.5 2.2 -2.5 2.9 -3 2.6 -4.6 3.3 -6.3 3.8 -2.6 1.8 -2.4 2.1 -6.3 6.8 -2.6 2.3 -1.8 1 -1.7 0.5 -1.8 -0 -0.8 -0.2 -1.8 -1 -0.8 -0.7 -2.7 -3.3 -2.8 -5.4 -2.6 -6.6 -1.1 -4.4 -0.5 -4.4 0.2 -4.4 1 -4.4 1.5 -3.2 1.4 -2.2 1.7 -2.2 2.2 -2.2 4.1 -3.3 8 -5.2 1.7 -1.3 2.6 -2.3 7 -7.1 1.8 -1.5z"/>
<path fill="#ffe400" fill-rule="evenodd" d="M113.3 86.8l1 -0.3 1.8 0 1.7 0.5 1.8 1.1 1.7 1.7 1.7 2.3 2.7 4.6 2.1 5.5 0.8 3.3 0.3 2.2 0.1 3.3 -0.2 2.2 -0.4 2.1 -0.7 2.2 -1.6 3.3 -2.4 3.3 -2.4 2.5 -3.7 3 -10.2 6.7 -7.9 6.6 -2.6 1.9 -1.7 1 -1.8 0.5 -1.7 0.1 -1.7 -0.6 -1.4 -0.8 -1.2 -1.1 -2.7 -3.4 -2.6 -5.1 -1.6 -4.7 -1 -4.4 -0.2 -4.4 0.6 -4.4 1.1 -3.3 1.7 -3.2 1.6 -2.2 2 -2.2 2.5 -2.2 2.9 -2.2 8.7 -6 8.7 -7.1 2.6 -1.7z"/>
<path fill="#ffc800" fill-rule="evenodd" d="M112.6 90.1l1.7 -0.3 1.8 0.2 1.7 0.7 0.9 0.6 1.7 1.5 1.4 1.7 1.2 1.7 1.5 2.7 1.2 2.7 0.8 2.8 0.7 4.4 -0.1 4.4 -0.5 2.1 -0.7 2.2 -1.6 3.3 -2.5 3.3 -3.4 3.3 -4.3 3.3 -7.6 5.1 -6.1 4.3 -2.6 1.6 -1.7 0.8 -1.8 0.5 -1.7 -0 -1.8 -0.4 -1.5 -0.9 -1.1 -0.8 -2.6 -3.2 -2 -3.7 -1.6 -4.4 -0.9 -4.4 -0.1 -3.3 0.6 -4.4 1.1 -3.3 1.8 -3.2 1.6 -2.2 2.1 -2.2 2.4 -2.2 2.9 -2.2 13 -9.1 3.5 -2z"/>
<path fill="#ffac00" fill-rule="evenodd" d="M110.1 93.4l1.6 -0.5 1.8 -0.2 1.7 0.2 1.7 0.6 2.7 1.9 1.1 1.3 1.5 2.2 1.2 2.2 0.8 2.2 0.7 2.2 0.5 3.3 0.1 2.2 -0.2 2.2 -0.4 2.1 -0.7 2.2 -1.7 3.3 -2.5 3.3 -3.5 3.3 -4.4 3.3 -9.1 5.9 -4.3 2.4 -1.8 0.7 -1.7 0.4 -1.8 0.1 -1.7 -0.4 -2.4 -1.4 -1.9 -2 -1.8 -2.7 -1.8 -4.1 -0.8 -3.3 -0.4 -4.4 0.4 -3.3 0.9 -3.3 1.6 -3.2 1.5 -2.2 1.9 -2.2 2.3 -2.2 4.3 -3.3 6.7 -4.5 4.3 -2.6z"/>
<path fill="#ff9000" fill-rule="evenodd" d="M110.6 95.6l2 -0.2 1.7 0.1 2.6 1.1 1.5 1.2 1.2 1.2 2 3.2 0.9 2.2 0.7 2.2 0.4 2.2 0.1 2.2 -0.2 2.2 -0.4 2.1 -1.2 3.3 -2 3.3 -3 3.3 -3.9 3.3 -6.6 4.4 -5.1 2.9 -3.5 1.3 -1.7 0.4 -1.8 -0 -2.6 -0.7 -2.3 -1.7 -2 -2.5 -1.5 -3 -1.1 -3.3 -0.4 -3.3 0.1 -3.3 0.7 -3.3 0.9 -2.2 1.9 -3.2 1.8 -2.2 2.1 -2.2 2.7 -2.2 4.7 -3.3 4.6 -2.8 3.5 -1.7z"/>
<path fill="#ff7400" fill-rule="evenodd" d="M106.8 98.9l3.2 -0.9 1.7 -0.1 1.8 0.2 2.6 1.1 1.7 1.5 0.9 1 1 1.6 1 2.2 0.6 2.2 0.4 2.2 0 2.2 -0.3 2.1 -1 3.3 -1.8 3.3 -2.5 3.2 -2.6 2.4 -4.5 3.2 -5.1 3 -4.4 1.8 -1.7 0.4 -1.7 0.2 -2.7 -0.4 -1.7 -0.9 -2 -1.9 -1.5 -2.2 -1.3 -3.3 -0.5 -2.2 -0.1 -3.3 0.2 -2.2 1 -3.3 1 -2.1 1.4 -2.2 1.9 -2.2 2.3 -2.2 2.8 -2.2 3.5 -2.3 3.5 -2z"/>
<path fill="#ff5900" fill-rule="evenodd" d="M106.7 101.1l3.3 -0.6 2.6 0.2 1 0.4 1.6 0.9 1.4 1.3 0.9 1.1 0.6 1.1 0.9 2.2 0.6 3.3 -0.3 3.2 -1 3.3 -1.8 3.3 -2.2 2.6 -3.3 2.9 -3.6 2.5 -4.4 2.2 -3.5 1.2 -2.6 0.2 -2.6 -0.5 -1.7 -0.9 -1.8 -1.7 -1.1 -1.9 -0.9 -2.2 -0.4 -2.2 -0.1 -2.2 0.4 -3.3 0.8 -2.2 1.1 -2.1 1.5 -2.2 2 -2.2 2 -1.8 2 -1.5 3.2 -2.1 2.6 -1.3z"/>
<path fill="#ff3d00" fill-rule="evenodd" d="M107.7 103.3l2.3 -0.1 2.6 0.7 1.7 1.2 1.3 1.5 1 2.2 0.3 1.2 0.3 2.1 -0.3 2.4 -0.9 3 -1.7 2.9 -2.3 2.6 -2.6 2.2 -3.4 2.2 -3 1.4 -3.5 0.9 -2.6 -0.1 -1.7 -0.5 -1.8 -1.2 -0.8 -1 -1 -1.7 -0.8 -2.2 -0.2 -2.2 0.2 -2.2 0.9 -3.3 1.2 -2.1 1.7 -2.2 3.5 -3.3 2.3 -1.6 2.6 -1.4 2.6 -1z"/>
<path fill="#ff2100" fill-rule="evenodd" d="M105.3 106.6l2.1 -0.4 2.6 0.3 1.7 0.9 0.9 0.9 1 1.6 0.6 2.2 0 2.1 -0.7 2.6 -0.9 1.8 -1.7 2.3 -2.3 2.1 -3 2 -2.6 1.1 -1.7 0.4 -2.6 0.1 -1.8 -0.5 -1.3 -0.9 -1 -1.1 -0.9 -2.2 -0.2 -1.1 0 -2.2 1 -3.3 0.7 -1.3 1.4 -1.9 2.3 -2.2 3.3 -2.1z"/>
<path fill="#ff0b00" fill-rule="evenodd" d="M103.2 111l1.6 -0.5 1.7 -0.2 0.9 0.2 1.1 0.5 1.1 1.1 0.4 0.8 0.2 1.3 -0.1 1.1 -0.8 2.2 -0.8 1.1 -2.2 2.2 -1.5 0.9 -1.8 0.7 -1.7 0.2 -0.9 -0.1 -1.4 -0.6 -1 -1.1 -0.5 -1.1 0 -2.2 0.8 -2.2 1.2 -1.7 1.8 -1.5z"/>
</g>
<path d="M1266.8 806.65h3.5M1487.1 806.65h-3.5M1266.8 866.6h3.5M1487.1 866.6h-3.5M1266.8 926.55h3.5M1487.1 926.55h-3.5M1376.95 746.7v3.5M1376.95 986.5v-3.5" stroke="#1a1a3a" stroke-width="1.6" fill="none" opacity="0.7"/>
<path d="M1354.92 746.7V986.5M1387.97 746.7V986.5M1266.8 830.63H1487.1M1266.8 902.57H1487.1" stroke="#fff" stroke-width="2.1" stroke-dasharray="21 13.2" fill="none"/>
</g>
<text x="1254.6" y="760" text-anchor="end" fill="#262626">-1</text>
<text x="1254.6" y="819.95" text-anchor="end" fill="#262626">-0.5</text>
<text x="1254.6" y="879.9" text-anchor="end" fill="#262626">0</text>
<text x="1254.6" y="939.85" text-anchor="end" fill="#262626">0.5</text>
<text x="1254.6" y="999.8" text-anchor="end" fill="#262626">1</text>
<text x="1266.8" y="1028.3" text-anchor="middle" fill="#262626">1.45</text>
<text x="1376.95" y="1028.3" text-anchor="middle" fill="#262626">1.55</text>
<text x="1487.1" y="1028.3" text-anchor="middle" fill="#262626">1.65</text>
<text x="1375.15" y="1061.7" text-anchor="middle" fill="#262626">Wavelength (<tspan font-style="italic" font-size="34px" dx="2.5">μ</tspan><tspan dx="2.5">m)</tspan></text>
<text transform="translate(1192.1 866.6) rotate(-90)" text-anchor="middle" fill="#262626">Time (ps)</text>
</g>
<g>
<rect x="1654.4" y="746.7" width="220.3" height="239.8" fill="#00008f" stroke="#262626" stroke-width="2"/>
<g clip-path="url(#c24)">
<rect x="1654.4" y="746.7" width="220.3" height="239.8" fill="#00008f"/>
<g filter="url(#b)" transform="translate(1654.4 746.7)">
<path fill="#0000b4" fill-rule="evenodd" d="M118.8 -2.2l1.3 -0.7 0.9 -0.1 1.7 0.4 1.7 1.4 1.7 2.2 2 3.4 3.6 7.7 2.5 6.6 1.8 5.5 2.1 7.8 5.4 18.6 3.1 13 3.9 14.4 1.7 7.7 1.7 9.9 0.5 6.6 0.1 3.3 -0.5 5.5 -0.9 3.2 -1.7 4.4 -2.1 3.3 -1.8 2.4 -3.5 3.6 -0.8 0.5 -1.7 1.6 -1.2 0.7 -0.5 0.6 -0.9 0.3 -0.8 0.9 -0.9 0.2 -0.8 0.9 -0.9 0.2 -0.9 0.9 -0.8 0.2 -0.9 0.8 -0.8 0.2 -0.9 0.9 -0.8 0.3 -0.9 0.8 -0.8 0.4 -1.3 1.2 -1.7 2.2 -0.8 2.2 0 1.1 0.8 4.4 0.2 2.2 -0.3 2.2 -0.4 1.1 -1.1 2.2 -1.7 2.2 -6.5 6.1 -1.8 2.2 -0.9 1.6 -0.8 2.7 0 1.7 1.3 6.5 0.1 2.2 -0.2 1.1 -0.7 2.2 -2 3.3 -4.4 6.3 -1.8 3.4 -0.8 2.7 -1.5 8.5 -0.6 2.2 -1.8 4.4 -6.9 13.2 -2 3.3 -1.7 2 -0.9 0.6 -0.8 0.3 -0.9 0.1 -0.9 -0.2 -0.8 -0.4 -1.7 -1.5 -1.7 -2.5 -1.5 -2.8 -1.5 -3.3 -2.6 -6.6 -1.6 -4.4 -1.9 -6.6 -2 -8.4 -3.8 -13.6 -1.8 -7.7 -1.3 -6.7 -0.3 -0.9 -1.4 -6.5 -0.4 -1.2 -0.4 -2.4 -0.4 -0.9 -1.7 -7.7 -1.8 -11 -0.8 -6.6 -0.2 -5.5 0.2 -4.4 0.7 -4.4 1 -3.3 0.9 -2.2 1.7 -3.2 1.5 -2.2 2.3 -2.8 3.4 -3.2 0.9 -0.5 0.8 -0.9 0.9 -0.3 1.7 -1.5 1.3 -0.7 0.4 -0.5 1.2 -0.6 0.5 -0.6 0.8 -0.3 0.9 -0.9 0.9 -0.3 1.7 -1.7 0.8 -0.5 1 -1.2 0.7 -1.4 0.4 -0.8 0.2 -2.2 -1.1 -4.4 -0.2 -2.2 0.2 -2.2 0.4 -1.1 1 -2.2 1.7 -2.2 6.8 -6.3 1.9 -2.5 0.7 -1.4 0.4 -1.9 0.2 -2.2 -0.5 -3.3 -0.7 -3.2 -0.1 -2.2 0.4 -2.2 1.7 -3.3 4.6 -6.4 1.9 -3.5 0.6 -1.7 0.9 -3.1 1.2 -7.3 1 -3.3 0.9 -2.2 8.3 -15.4 1.4 -2.2zM91.9 87.8l-0.8 0.6 -0.4 0.6 0.1 1.1 1.1 0.8 0.9 -0.1 0.7 -0.7 0.1 -1.1 -0.8 -1zM112.4 141.6l-0.5 1.2 0.4 1.1 1 0.4 0.8 -0.3 0.5 -1.2 -0.5 -1.1 -0.8 -0.3z"/>
<path fill="#0000d0" fill-rule="evenodd" d="M118.9 -1.1l1.2 -0.6 0.9 -0.1 1.7 0.4 1.7 1.4 1.7 2.2 2 3.3 2.6 5.5 2.6 6.6 1.6 4.4 7.7 26.4 3.7 15.3 4.9 18.7 1.6 8.8 0.9 6.6 0.4 6.6 -0.3 5.5 -1 4.3 -0.8 2.2 -1 2.2 -1.8 3 -2.9 3.6 -1.4 1.5 -2.6 2.3 -2.5 1.9 -1.7 1.2 -0.9 0.4 -0.8 0.7 -0.9 0.3 -6.8 4.5 -2.8 2.6 -1.5 2.2 -0.8 2.2 -0.2 7.7 -0.9 3.3 -1.1 2.2 -1.6 2.2 -5.7 6.6 -1.3 2.2 -0.6 2.2 -0.1 3.2 1.2 6.6 -0.3 2.2 -0.6 2 -1.3 2.4 -4.6 6.9 -1.8 3.2 -1.1 3.1 -1.9 9.9 -1.2 3.3 -1.5 3.3 -6.2 11.4 -1.7 2.8 -1.7 1.9 -0.9 0.6 -0.8 0.4 -0.9 0.1 -0.9 -0.2 -0.8 -0.4 -0.9 -0.7 -1.7 -2 -2.5 -4.6 -2.2 -4.9 -2.5 -6.6 -1.7 -5.5 -5.9 -22 -1.6 -6.6 -3 -14.2 -2.2 -8.8 -2.6 -13.2 -0.8 -5.5 -0.8 -8.8 0 -4.4 0.6 -5.5 0.9 -3.3 1.7 -4.3 2 -3.3 1.8 -2.4 3.4 -3.6 2.6 -2.2 0.9 -0.4 0.8 -0.7 5.1 -3.4 0.9 -0.8 0.9 -0.4 1.8 -1.5 1.2 -1.1 1.7 -2.2 0.9 -2.2 0.2 -1.1 -0.4 -6.6 0.2 -2.2 0.7 -2.2 1.1 -2.2 1.6 -2.2 3.8 -3.8 2.3 -2.8 1.3 -2.2 0.3 -1.1 0.5 -2.2 0 -1.1 -1.3 -7.6 0.2 -2.2 0.7 -2.2 1.3 -2.2 5.2 -7.7 1.6 -3.3 0.9 -3.3 1.2 -6.6 0.8 -3.3 1.9 -4.4 7.9 -14.1 1.7 -2.3zM91.1 87.3l-0.8 0.6 -0.4 1.1 0.1 1.1 1.1 1.2 0.8 0.3 0.9 -0.1 0.8 -0.6 0.5 -0.8 0 -1.1 -0.4 -1.1 -0.9 -0.6 -0.9 -0.2zM112.4 141l-0.8 0.9 -0.3 0.9 0.3 1.1 0.8 0.9 0.9 0.3 0.8 -0.2 1.1 -1 0.2 -1.1 -0.4 -1.1 -0.9 -0.7 -0.8 -0.2z"/>
<path fill="#0000ec" fill-rule="evenodd" d="M118.9 0l1.2 -0.5 0.9 -0.2 1.7 0.5 1.7 1.3 1.7 2.1 2.6 4.5 2.5 5.6 1.8 4.3 1.6 5 7.7 26.2 3.9 16 3.1 11 1.6 6.9 1.8 9.6 0.8 6.6 0.3 5.5 -0.3 5.5 -0.9 3.9 -1.7 4.3 -1.7 3 -3.2 4.1 -3.7 3.5 -1.7 1.2 -4.4 3 -5.8 3.6 -2.7 1.9 -2.5 2.2 -0.9 1.1 -1.4 2.2 -0.8 2.2 -0.7 7.7 -0.9 3.3 -1.8 3.3 -5 6.6 -1.2 2.2 -0.7 2.2 -0.1 3.2 0.7 4.3 0.2 2.3 -0.4 3.3 -1.5 3.3 -3.8 5.5 -2.4 4.4 -1.2 3.3 -2 9.9 -1.6 4.4 -1.7 3.3 -4.4 7.8 -2.5 4.2 -1 1.2 -1.2 1.1 -1.2 0.6 -0.9 0 -0.9 -0.1 -1 -0.5 -1.2 -1.1 -1.2 -1.5 -1.7 -2.9 -2.6 -5.5 -2.5 -6.6 -1.7 -5.5 -6 -22.2 -1.8 -7.5 -2.1 -9.8 -3.9 -16.5 -1.6 -8.8 -1 -6.6 -0.6 -8.8 -0 -3.3 0.6 -5.5 0.8 -3.3 1.8 -4.3 1.8 -3 1.9 -2.5 3.2 -3.5 2.6 -2.1 8.6 -5.8 2.2 -1.8 2.2 -2.2 1.6 -2.2 0.9 -2.2 0.1 -1.1 -0.2 -4.4 0 -2.2 0.4 -2.2 0.8 -2.2 1.9 -3.3 5.5 -6.6 1.3 -2.2 0.7 -2.2 0.1 -1.1 0 -2.2 -1.1 -6.5 0.1 -1.1 0.5 -2.6 0.9 -2 5.7 -8.6 1.6 -3.3 1 -3.3 1.1 -6.4 0.9 -3.2 0.8 -2.3 1.7 -3.5 6.9 -11.9 1.7 -2.3zM91.1 86.5l-0.9 0.3 -1 1.1 -0.3 1.1 0.3 1.1 0.7 1.1 1.2 0.7 0.8 0.2 0.9 -0.1 1.1 -0.8 0.6 -1 0 -1.6 -0.3 -0.7 -1.1 -1.1 -1.2 -0.4zM112.4 140.5l-1.2 1.2 -0.3 1.1 0.2 1.1 0.5 0.8 0.8 0.7 0.9 0.2 0.8 0 0.9 -0.3 0.4 -0.3 0.6 -1.1 0.1 -1.1 -0.4 -1.1 -0.7 -0.7 -0.9 -0.5 -0.8 -0.2z"/>
<path fill="#0008ff" fill-rule="evenodd" d="M119.9 1.1l1.1 -0.2 0.8 0.1 1.7 0.9 1.8 1.8 1.7 2.4 1.7 3.1 2.5 5.5 1.7 4.3 1.7 5.2 7.5 25.3 3.2 13.1 4.7 18.1 1.7 8.4 0.9 5.3 0.6 5.6 0.2 4.4 -0.2 4.4 -0.8 4.4 -1.6 4.3 -1.8 3.3 -2.4 3.3 -3.3 3.3 -2.7 2.2 -3.1 2.2 -8.8 5.5 -2.9 2.2 -2.3 2.2 -2.4 3.3 -0.6 1.1 -0.2 1.1 -0.6 7.7 -0.8 3.3 -1.8 3.3 -3.9 5.5 -1.5 3.3 -0.5 3.3 0.7 7.6 -0.2 2.2 -0.6 2.2 -1.7 3.3 -3.6 5.5 -1.7 3.3 -0.9 2.2 -0.8 3.3 -1.3 6.6 -0.6 2.2 -1.9 4.4 -4.1 7.3 -3.4 5.4 -0.9 1 -1.7 1.4 -1.7 0.4 -1.7 -0.5 -0.9 -0.7 -1.7 -2 -1.7 -2.8 -2.5 -5.3 -1.8 -4.3 -1.7 -5.2 -6.6 -24.4 -4.7 -20.8 -2.3 -9.5 -2.4 -12.5 -1 -7.7 -0.4 -5.5 0 -4.4 0.4 -4.4 0.8 -3.7 1 -2.9 1.6 -3.2 3.1 -4.4 2.8 -3.1 2.9 -2.4 8.3 -5.7 3.9 -3.1 3 -3.3 1.6 -2.2 0 -0.4 1.4 2.6 0.8 1.1 1.6 1.1 1.3 0.2 0.9 -0.1 0.8 -0.4 0.9 -0.9 0.4 -1 0 -1.1 -0.4 -1.4 -0.9 -1 -0.8 -0.5 -1.7 -0.4 -1.7 0.4 -1.5 0.7 -0.2 0.4 -0.9 -1 -0.5 -4.9 0.1 -2.2 0.5 -2.2 0.8 -2.2 1.3 -2.2 4.6 -5.8 1.7 -3 0.7 -2.2 0.2 -1.1 0 -2.2 -0.8 -6.5 0.4 -3.3 1.6 -3.3 3.6 -5.5 2.4 -4.4 1.2 -3.3 1.9 -9 1.7 -4.7 2.5 -4.9 5.2 -8.3 1.7 -2.2 1.7 -1.4zM111.6 140.6l-0.8 1.1 -0.2 1.1 0.1 1.1 0.9 1.4 0.8 0.6 1.7 0.4 0.9 -0.2 0.9 -0.4 0.7 -0.7 0.5 -1.1 -0.2 -1.1 -0.5 -1.1 -1 -1.1 -1.3 -0.6 -0.8 -0.1 -0.9 0.2z"/>
<path fill="#0024ff" fill-rule="evenodd" d="M119.7 3.3l1.3 -0.2 0.8 0.1 1.7 0.8 1.8 1.7 1.7 2.4 1.7 3 2 4.3 1.8 4.4 1.8 5.5 6.9 23.1 8.7 34 1.7 8.8 1 7.7 0.3 5.5 -0.4 5.5 -0.4 2.2 -0.9 3.2 -1.5 3.3 -1.2 2.2 -1.6 2.2 -1.9 2.2 -2.2 2.2 -2.7 2.2 -3.1 2.2 -8.8 5.5 -3.1 2.2 -3.3 2.9 -1.7 1 -0.8 0.2 -0.9 -0.4 -2.2 -2.6 -2.1 -1 -0.8 -0.1 -0.9 0.2 -0.8 0.5 -0.9 1 -0.4 1.6 0.1 1.1 0.5 1.1 0.7 0.9 1.7 0.9 1.7 0.1 1.7 0 0.9 0.2 0.6 1.2 0.3 3.3 -0.3 4.4 -0.7 3.3 -1.2 2.2 -3.9 5.9 -0.8 1.8 -0.6 2.2 -0.3 3.2 0.6 6.6 -0.5 3.3 -1.4 3.3 -4.1 6.6 -1.7 3.3 -1.5 4.4 -2 8.8 -0.8 2.2 -1.5 3.3 -3.3 5.8 -3.4 4.9 -1.7 1.8 -0.9 0.5 -1.7 0.4 -1.7 -0.5 -0.9 -0.7 -1.7 -1.9 -1.7 -2.7 -2.5 -5.3 -1.8 -4.4 -1.4 -4.5 -6.4 -23.1 -7.2 -30.7 -2.2 -12.1 -1.1 -7.7 -0.4 -5.5 0 -4.4 0.4 -4.4 0.7 -3.3 0.7 -2.2 2 -4.3 1.4 -2.2 1.7 -2.2 2 -2.2 2.4 -2.2 2.9 -2.2 8 -5.5 5.9 -5.1 0.9 -0.1 2.7 1.9 1.6 0.6 0.8 -0 1.7 -0.5 1.2 -1.2 0.4 -1.1 0.1 -1.1 -0.3 -1.1 -0.6 -1.1 -0.8 -0.8 -0.8 -0.5 -3.7 -0.9 -0.6 -0.4 -0.5 -0.7 -0.4 -1.1 -0.1 -2.2 0.1 -2.2 0.6 -2.2 1.5 -3.3 4.9 -6.6 1.6 -3.3 0.5 -3.3 -0.7 -7.6 0.5 -3.3 1.5 -3.3 4.2 -6.6 1.7 -3.3 1.5 -4.4 1.7 -7.7 1.6 -4.4 2.3 -4.4 4 -6.3 2.6 -3.2 0.8 -0.7z"/>
<path fill="#0040ff" fill-rule="evenodd" d="M119.1 5.5l1 -0.4 0.9 -0.1 1.7 0.4 1.7 1.3 1.7 2 2.1 3.4 2.2 4.3 1.7 4.3 1.7 5 7.2 23.8 8.4 32.9 1.6 8.8 1.1 7.7 0.3 5.5 -0.4 5.5 -0.7 3.3 -0.7 2.1 -1.4 3.3 -1.2 2.2 -1.6 2.2 -1.9 2.2 -2.2 2.2 -2.7 2.2 -3.1 2.2 -8.9 5.5 -5.8 4 -1.7 0.5 -0.8 0.1 -0.9 -0.3 -2.5 -1.8 -1.8 -0.6 -1.7 0.2 -0.8 0.4 -0.9 0.8 -0.5 1.1 -0.2 1.1 0.1 1.1 0.4 1.1 1.1 1.4 0.8 0.5 3.7 1.4 0.8 1.1 0.3 1.1 0.2 2.2 -0.4 4.4 -0.8 3.3 -4.5 7.7 -1.2 3.3 -0.2 3.2 0.3 6.6 -0.5 3.3 -1.4 3.3 -4 6.6 -1.6 3.3 -1.5 4.4 -2.2 8.8 -0.8 2.2 -1.5 3.3 -3.5 5.6 -2.5 3.4 -1.7 1.6 -0.9 0.5 -1.7 0.4 -1.7 -0.6 -0.9 -0.6 -1.7 -1.9 -1.7 -2.6 -2.5 -5.3 -2.9 -8.2 -5.9 -20.9 -7.5 -31.8 -1.9 -9.9 -1 -6.6 -0.7 -6.6 -0.2 -5.5 0.3 -4.4 0.6 -3.3 0.6 -2.2 1.3 -3.3 1.1 -2.1 1.4 -2.2 1.7 -2.2 3.7 -3.8 3.5 -2.8 8.1 -5.5 4.6 -3.7 0.8 -0.3 0.9 0 3.4 1.5 1.7 0.2 1.7 -0.5 0.9 -0.7 0.7 -0.9 0.3 -1.1 0.1 -1.1 -0.2 -1.1 -0.5 -1.1 -1.3 -1.4 -3.7 -1.9 -0.8 -1.1 -0.3 -1.1 -0.2 -2.2 0.4 -3.3 1.4 -3.3 4.1 -5.7 1.7 -3.1 0.6 -2.2 0.3 -2.2 -0.5 -7.6 0.6 -3.3 1.4 -3.3 4.1 -6.6 1.7 -3.3 1.2 -3.3 1.8 -7.7 1.5 -4.4 2.2 -4.4 3 -4.7 2.6 -3.2z"/>
<path fill="#005cff" fill-rule="evenodd" d="M118.3 7.7l1.8 -0.8 1.7 0.1 1.7 0.8 1.8 1.6 1.7 2.3 2.5 4.7 1.7 3.9 1.7 4.8 7.2 23.3 8.7 34 1.7 8.8 1.1 7.7 0.3 5.5 -0.4 5.5 -0.6 2.9 -0.8 2.5 -1.4 3.3 -1.3 2.2 -1.5 2.2 -1.9 2.2 -2.2 2.2 -2.7 2.2 -3.6 2.5 -12 7.5 -1.7 0.7 -1.7 0.5 -0.8 0 -0.9 -0.2 -3.4 -1.6 -1.7 -0.1 -1.7 0.6 -1.2 1.1 -0.5 1.1 -0.2 1.1 0.1 1.1 0.3 1.1 0.6 1 0.9 0.9 2.5 1.4 1.4 1.1 0.6 1.1 0.2 1.1 0 2.2 -0.3 3.3 -0.7 3.3 -0.9 2.2 -3.2 5.5 -1.1 3.3 -0.3 3.2 0.2 6.6 -0.5 3.3 -1.4 3.3 -3.9 6.6 -1.6 3.3 -1.6 4.4 -2.2 8.8 -0.9 2.2 -1.6 3.3 -2.7 4.2 -2.5 3.2 -1.7 1.5 -0.9 0.4 -1.7 0.4 -1.7 -0.6 -0.9 -0.6 -1.7 -1.9 -1.7 -2.6 -2 -4 -1.4 -3.6 -1.7 -5.1 -6 -20.9 -7.2 -30.8 -2 -9.9 -1.1 -7.7 -0.6 -5.5 -0.1 -5.5 0.3 -4.4 1.2 -5.5 1.8 -4.3 2.7 -4.4 1.9 -2.2 2.3 -2.3 4 -3.2 12.2 -8.4 1.7 -0.2 3.4 1 1.7 0.2 1.7 -0.5 1.2 -0.9 0.7 -1.1 0.3 -1.1 0.1 -1.1 -0.2 -1.1 -0.4 -1.1 -0.8 -1.1 -0.9 -0.8 -2.5 -1.8 -0.7 -0.7 -0.5 -1.1 -0.2 -1.1 0 -2.2 0.5 -3.3 0.9 -2.2 4.2 -6.3 1.3 -2.5 0.7 -2.2 0.2 -2.2 -0.3 -7.6 0.6 -3.3 1.5 -3.3 4 -6.6 1.6 -3.3 1.2 -3.3 2.3 -8.8 1.2 -3.3 2 -3.8 2.5 -3.9 2.6 -3z"/>
<path fill="#0078ff" fill-rule="evenodd" d="M119.5 8.8l1.5 -0.2 0.8 0.1 1.7 0.9 0.9 0.7 1.7 1.9 2.6 4.2 1.7 3.7 1.7 4.6 6 18.6 2.1 7.3 6.5 25.2 2.5 10.8 1.1 6.8 0.8 6.6 0.2 5.5 -0.3 4.4 -0.7 3.3 -0.7 2.1 -1.3 3.1 -1.4 2.4 -1.5 2.2 -1.9 2.2 -2.3 2.2 -2.6 2.2 -6.7 4.4 -5.8 3.5 -3.4 1.6 -1.7 0.6 -1.7 0.3 -0.9 -0.2 -3.4 -1.1 -1.7 -0.1 -1.7 0.5 -0.9 0.7 -0.6 0.8 -0.5 1.1 -0.2 1.1 0.1 1.1 0.3 1.1 0.9 1.6 0.9 0.8 2.7 2 0.7 1.1 0.3 1.1 0.1 2.2 -0.3 3.3 -1 4.4 -3.3 6.6 -1.1 3.3 -0.4 3.2 0.1 6.6 -0.6 3.3 -1.3 3.3 -3.8 6.6 -1.7 3.3 -1.2 3.3 -2.8 9.9 -1.9 4.4 -2.5 3.9 -2.5 3 -1.7 1.4 -0.9 0.4 -1.7 0.3 -1.7 -0.6 -1.7 -1.4 -2.6 -3.6 -1.7 -3.5 -2.8 -7.6 -6.6 -22.8 -6.8 -29.1 -2.1 -10.7 -1.1 -7.7 -0.5 -5.5 0 -5.5 0.4 -4.4 0.7 -3.3 0.7 -2.2 2 -4.3 1.4 -2.2 1.7 -2.2 2 -2.2 2.4 -2.2 4.4 -3.3 9.3 -6.2 0.9 -0.3 1.7 -0.2 4.3 0.7 1.7 -0.2 1.7 -0.9 0.6 -0.6 0.7 -1.1 0.3 -1.1 0.1 -1.1 -0.5 -2.2 -1.2 -1.8 -2.9 -2.6 -0.6 -1.1 -0.3 -1.1 -0.1 -2.2 0.5 -3.3 0.7 -2.2 4.1 -6.6 1.5 -3.3 0.6 -3.3 -0.2 -7.6 0.7 -3.3 1.4 -3.3 3.9 -6.6 1.7 -3.3 1.2 -3.3 2.4 -8.8 0.8 -2.2 1.6 -3.3 1.8 -2.8 2.6 -3.3 1.7 -1.6z"/>
<path fill="#0094ff" fill-rule="evenodd" d="M118.3 11l1.8 -0.7 1.7 0.2 0.9 0.3 1.8 1.3 2.5 3.1 1.7 3.1 1.7 3.8 1.7 4.7 4.3 13.1 3.4 11.3 6.8 26.2 1.7 7.5 1.5 8.5 0.8 6.6 0.2 5.5 -0.4 4.4 -0.4 2.2 -0.9 3.2 -1.4 3.3 -1.3 2.2 -1.5 2.2 -1.9 2.2 -2.3 2.2 -2.7 2.2 -3.1 2.2 -5.4 3.3 -4.2 2.2 -2.6 1 -1.7 0.6 -1.7 0.3 -1.7 -0.2 -2.6 -0.7 -1.7 -0.1 -1.7 0.6 -1 0.7 -0.8 1.1 -0.5 1.1 -0.2 1.1 0.3 2.2 1.3 2.1 2.5 2.3 0.8 1.1 0.4 1.1 0.2 2.2 -0.6 4.4 -1.1 4.4 -2.6 5.5 -1.1 3.3 -0.4 3.2 0 6.6 -0.6 3.3 -1.4 3.3 -3.7 6.6 -1.6 3.3 -1.3 3.3 -2.5 8.8 -0.9 2.2 -1.5 3 -1.7 2.7 -2.5 3 -1.7 1.3 -0.9 0.4 -1.7 0.2 -1.7 -0.6 -0.9 -0.6 -1.5 -1.7 -1.9 -2.9 -1.7 -3.5 -2.6 -7.1 -5.9 -20.2 -6.9 -28.9 -2.5 -12.8 -1 -7 -0.6 -6.6 0 -4.4 0.5 -4.4 1.1 -4.6 0.8 -2.3 1.5 -2.9 1.4 -2.2 1.7 -2.2 2 -2.2 2.4 -2.2 4.4 -3.3 8 -5 1.7 -0.7 1.7 -0.3 4.3 0.4 1.7 -0.2 1.7 -0.9 1 -1 0.6 -1.1 0.4 -2.2 -0.5 -2.2 -0.7 -1.3 -2.7 -3.1 -0.7 -1.1 -0.3 -1.1 -0.1 -2.2 0.4 -2.7 0.7 -2.8 1 -2.2 3.3 -5.5 1.2 -3.3 0.3 -2.2 0 -6.5 0.4 -3.3 0.7 -2.2 1 -2.2 3.9 -6.6 1.6 -3.3 1.6 -4.4 2.3 -7.7 1.7 -3.9 1.7 -2.9 1.7 -2.3 1.7 -1.8z"/>
<path fill="#00afff" fill-rule="evenodd" d="M120.1 12.1l1.7 0.2 1.8 0.9 1.2 1.1 1.3 1.6 1.7 2.8 1.7 3.5 1.7 4.5 6.9 20.6 7.7 29 2.5 11.6 0.9 5.5 0.8 6.6 0.2 5.5 -0.3 4.4 -0.7 3.3 -0.9 2.7 -0.8 2 -1.7 2.9 -1.5 2.2 -1.9 2.2 -2.3 2.2 -2.7 2.2 -3.1 2.2 -5.6 3.3 -6 2.5 -1.7 0.6 -1.7 0.3 -4.3 -0.6 -1.7 0 -1.7 0.6 -0.9 0.6 -1.2 1.5 -0.6 2.2 0.2 2.2 1.2 2.2 2.8 3.3 0.4 1.1 0.2 2.2 -0.4 3.3 -0.9 3.9 -1.2 3.8 -1.9 4.4 -0.6 2.2 -0.4 3.2 -0.2 6.6 -0.6 3.3 -1.9 4.4 -3.1 5.5 -1.7 3.3 -1.6 4.4 -2.1 7.2 -0.9 2.1 -1.4 2.8 -2 3 -2.5 2.5 -1.8 0.9 -1.7 0.2 -1.7 -0.7 -1.7 -1.4 -1.7 -2.3 -1.8 -3.3 -1.6 -4.1 -1.8 -5.1 -5.9 -20 -6.9 -28.8 -1.7 -9 -1.2 -7.7 -0.6 -6.6 -0.1 -5.5 0.5 -4.4 0.6 -2.8 0.8 -2.7 0.9 -2.2 1.7 -3.1 1.6 -2.3 1.8 -2.2 3.5 -3.3 6.2 -4.4 4.8 -2.8 2.6 -1.1 1.7 -0.4 4.3 0.2 1.7 -0.3 0.8 -0.3 1.3 -0.8 1.3 -1.8 0.5 -1.5 0.1 -1.1 -0.4 -2.2 -1.1 -2 -1.8 -2.4 -0.7 -1.1 -0.3 -1.1 -0.1 -2.2 0.6 -3.3 1 -3.3 0.4 -1.1 3 -5.5 1.2 -3.3 0.4 -3.3 0.2 -6.5 0.6 -3.3 1.4 -3.3 3.8 -6.6 1.7 -3.3 1.2 -3.3 2.8 -8.8 1.7 -3.7 1.7 -2.7 2.1 -2.4 2.2 -1.6z"/>
<path fill="#00cbff" fill-rule="evenodd" d="M119.1 14.3l1.9 -0.2 1.7 0.6 0.8 0.5 1.4 1.3 2.1 2.9 1.7 3.4 1.7 4.1 6.8 20 7.7 28.6 2.6 11.2 0.9 5.6 1 7.7 0.2 5.5 -0.4 4.8 -0.9 3.7 -0.8 2.4 -1.7 3.5 -3.1 4.2 -2 2.2 -2.5 2.2 -3 2.2 -3.6 2.2 -8.1 3.6 -2.5 1 -1.7 0.4 -5.2 -0.4 -1.7 0.3 -1.7 0.9 -0.8 0.8 -0.7 1.1 -0.6 2.2 0.2 2.2 1.1 2.3 2.4 3.2 0.4 1.1 0.2 2.2 -0.2 2.2 -0.7 3.3 -3.4 9.9 -0.8 3.3 -0.5 8.5 -0.7 3.5 -1.8 4.4 -3.1 5.5 -1.6 3.3 -1.7 4.4 -2.2 6.9 -1.7 3.6 -1.7 2.7 -2.2 2.2 -2.1 1.2 -1.7 0.1 -1.7 -0.7 -1.7 -1.6 -1.7 -2.4 -1.7 -3.3 -1.7 -4.3 -1.8 -5.2 -5.1 -16.6 -6.8 -28.4 -1.7 -8.2 -0.9 -5.1 -0.8 -6.4 -0.5 -5.9 0 -4.4 0.4 -4.4 0.8 -3.3 0.7 -2.2 2 -4.4 3.1 -4.3 2 -2.2 2.5 -2.2 4.6 -3.3 6.6 -3.5 1.7 -0.8 1.7 -0.4 4.3 -0.1 1.7 -0.3 1.7 -0.9 0.8 -0.7 0.9 -1.1 0.8 -2.1 0 -2.2 -0.8 -2.5 -2.5 -4.1 -0.3 -1.1 -0.1 -2.2 0.4 -2.2 0.9 -3.3 1.3 -3.3 2.6 -5.5 0.7 -2.2 0.4 -3.3 0.3 -6.5 0.6 -2.8 1.5 -3.8 3.7 -6.6 2.2 -4.4 2.8 -8.4 1.7 -4.1 1.7 -2.9 1.8 -2.1 1.7 -1.5z"/>
<path fill="#00e7ff" fill-rule="evenodd" d="M117.7 17.6l1.6 -0.7 0.8 -0.1 1.7 0.2 1.1 0.6 1.3 1.1 1.9 2.4 1.7 3.1 1.7 3.9 6 16.5 2.6 8.6 2.9 11.6 3 10.8 2.6 11.1 0.9 4.8 1 8.5 0.2 5.5 -0.4 4.9 -0.8 3.7 -0.9 2.3 -1.7 3.5 -3.1 4.2 -2 2.2 -2.6 2.2 -5.2 3.3 -9.5 4.4 -3.2 1.1 -5.2 -0.1 -1.7 0.3 -1.7 0.9 -1.1 1.1 -0.6 0.9 -0.5 1.3 -0.2 1.1 0.2 2.2 0.9 2.2 2.1 3.3 0.4 1.1 0.2 2.2 -0.3 2.2 -0.8 3.3 -3.1 8.8 -1 3.3 -0.4 3.2 -0.6 6.6 -0.6 3.3 -1.4 3.8 -4.8 9.4 -3.8 10 -1.7 3.5 -1.7 2.4 -1.7 1.6 -1.7 0.8 -1.7 0.1 -1.7 -0.8 -1.7 -1.7 -1.7 -2.5 -1.7 -3.6 -1.7 -4.4 -3.5 -10.1 -3.4 -11.6 -3.1 -13.3 -2.9 -11.4 -2.5 -13.1 -0.9 -6.1 -0.5 -6.8 0 -4.4 0.5 -5.2 0.9 -3.5 0.8 -2.3 1.7 -3.4 1.7 -2.5 2.4 -2.8 3.6 -3.3 5.1 -3.3 6.9 -3.5 1.7 -0.6 5.1 -0.5 1.7 -0.5 1.7 -1.2 1.2 -1.4 0.8 -2.2 0 -2.2 -0.6 -2.2 -2.2 -4.4 -0.2 -1.1 0 -2.2 1 -4.5 3.8 -8.7 1 -3.3 1.4 -12 0.7 -2.3 0.9 -2.1 5.3 -9.9 4.9 -12.2 2.1 -3.2z"/>
<path fill="#04fffb" fill-rule="evenodd" d="M119.1 23.1l1 -0.2 0.9 0.1 1.7 0.8 1.7 1.7 1.7 2.6 2.6 5 2.5 6 3.8 10.4 7.6 27.4 2.4 11 1.3 7.7 0.6 5.5 -0 5.5 -0.5 4.4 -0.8 3.2 -0.8 2.2 -2.2 4.4 -1.6 2.2 -2 2.2 -3.8 3.3 -5.2 3.3 -8.2 4 -1.7 0.6 -1.7 0.4 -4.3 -0 -1.7 0.4 -1.7 0.8 -0.8 0.7 -0.9 1.1 -0.8 1.9 -0.2 2.2 0.5 2.2 2.2 4.4 0.4 1.1 0.2 1.1 -0.2 2.2 -1.2 5 -3.3 8.2 -1 3.3 -0.6 3.2 -0.9 6.6 -0.8 3.3 -2 4.8 -3.9 7.3 -3.8 7.6 -1.3 2.3 -1.2 1.7 -1.7 1.3 -0.9 0.4 -1.7 -0.1 -1.7 -0.9 -0.9 -0.9 -1.7 -2.4 -1.7 -3.3 -4.3 -10.5 -1.7 -5.1 -1.5 -5.5 -6.4 -25.2 -2.2 -11 -1.1 -7.7 -0.5 -5.5 -0.1 -5.5 0.5 -4.4 1 -4.4 1.8 -4.3 1.3 -2.2 1.6 -2.2 3 -3.3 4.2 -3.3 5.5 -3.3 3.2 -1.7 1.7 -0.6 5.1 -0.8 1.7 -0.6 1.7 -1.1 1.5 -1.8 0.8 -2.2 0.1 -2.2 -0.5 -2.2 -1.9 -4.4 -0.2 -1.1 0.1 -2.2 1.2 -4.4 3.5 -7.7 1.3 -3.3 0.8 -3.3 1.1 -7.6 0.8 -3.3 2 -4.4 4.2 -7.7 4.9 -9.4 1.7 -2.2 0.9 -0.8z"/>
<path fill="#20ffdf" fill-rule="evenodd" d="M118.6 30.8l1.5 -0.3 1.7 0.4 1.7 1.3 1.8 2.1 1.7 2.6 2.5 5 1.7 4.1 1.7 4.8 7.3 25 1.4 5.5 1.4 6.6 1.3 7.7 0.6 5.5 0 5.5 -0.5 4.4 -1.1 4.3 -2.1 4.4 -1.4 2.2 -1.7 2.2 -3.4 3.3 -4.7 3.3 -3.9 2.2 -4.3 2.1 -3.4 1.2 -4.3 0.3 -1.7 0.3 -1.7 0.9 -0.9 0.7 -0.9 1.1 -1 2.2 -0.2 2.2 0.5 2.4 1.8 4.2 0.3 1.1 0.1 1.1 -0.2 2.2 -1.2 4.4 -4.5 11 -0.9 3.3 -1.2 6.5 -0.9 3.3 -1 2.7 -1.7 3.4 -5.2 8.1 -1.7 2.2 -1.7 1.7 -1.7 0.8 -0.8 0.1 -0.9 -0.2 -1.7 -1 -1.7 -1.9 -1.7 -2.6 -1.7 -3.4 -1.9 -4.4 -1.6 -4.4 -1.7 -5.5 -6 -23 -2.4 -12.1 -1.1 -7.7 -0.5 -5.5 0 -4.4 0.4 -4.4 1.1 -4.4 1.8 -4.3 1.3 -2.2 1.6 -2.2 3 -3.3 4.2 -3.3 3.4 -2.2 4 -2.2 2.1 -0.8 5.1 -1 1.7 -0.8 1.7 -1.5 1 -1.4 0.7 -2.2 0.1 -2.2 -0.4 -2.2 -1.4 -4.4 -0.2 -1.1 0.2 -2.2 1.4 -4.4 3.7 -7.7 1.4 -3.3 0.9 -3.3 1.3 -6.5 0.9 -3.3 0.9 -2.2 1.5 -3 4.2 -6.8 3.5 -4.5 1.7 -1.6z"/>
<path fill="#3cffc3" fill-rule="evenodd" d="M118 37.4l1.3 -0.4 1.7 0.2 1.7 0.9 1.7 1.6 1.7 2.3 1.7 3 1.7 3.8 1.7 4.6 6.9 22.4 1.5 5.5 1.4 6.6 1.3 7.7 0.6 5.5 0.1 5.5 -0.5 4.4 -1.2 4.3 -2 4.4 -1.4 2.2 -1.8 2.2 -3.4 3.3 -4.5 3.3 -5.9 3.3 -2.5 1.1 -1.4 0.4 -4.3 0.6 -2.5 0.7 -1.7 1.1 -1.4 1.6 -0.9 2.2 -0.2 2.2 0.3 2.2 1.6 4.4 0.2 1.1 0.1 1.1 -0.3 2.2 -1.4 4.4 -4.9 11 -3.5 12 -0.8 2.2 -1.6 3.1 -1.8 2.6 -1.7 2.2 -1.7 1.7 -1.7 1.2 -1.7 0.6 -0.8 -0.1 -1.8 -0.6 -2.1 -1.9 -2.1 -3.1 -1.7 -3.4 -2.8 -7.8 -5.6 -19.7 -2.6 -11 -2 -12.1 -0.4 -4.4 -0.1 -4.4 0.2 -3.3 0.5 -3.3 1.2 -4.4 2.1 -4.3 2.2 -3.3 3.1 -3.3 4.1 -3.3 5.2 -3.3 2.6 -1.2 5.9 -1.7 1.7 -1 1.8 -1.9 0.9 -1.9 0.4 -2.2 -0.1 -2.2 -1.1 -4.4 -0.2 -2.2 0.3 -2.2 0.6 -2.2 1.5 -3.3 3.5 -6.6 1.4 -3.3 1.1 -3.3 2.1 -7.6 1.8 -4.4 2.3 -3.8 2.5 -3.2 1.8 -1.6z"/>
<path fill="#57ffa8" fill-rule="evenodd" d="M117.9 42.9l1.4 -0.2 0.8 0 1.7 0.8 1.9 1.6 2.4 3.4 1.7 3.4 1.6 4.1 5.2 15.5 2 6.5 1.4 5.5 1.4 6.6 0.9 5.5 0.5 4.4 0.3 4.4 -0.2 4.4 -0.6 3.3 -1.3 4.3 -2.3 4.4 -2.5 3.3 -3.4 3.3 -4.5 3.3 -5.7 3.3 -3 1.1 -4.3 0.7 -2.6 1.1 -1.7 1.5 -0.8 1.1 -0.9 2.2 -0.3 2.2 0.3 2.2 1.2 4.4 0.1 2.2 -0.4 2.4 -1.1 3.1 -5.4 11 -1.3 3.3 -2.5 7.4 -2.2 4.6 -2.1 2.8 -1.7 1.6 -1.7 1 -0.8 0.3 -1.7 -0.1 -1.8 -0.8 -1.7 -1.6 -1.7 -2.5 -1.7 -3.4 -2.5 -7.1 -5.4 -17.6 -2.5 -11 -1.7 -11 -0.4 -7.7 0.2 -3.3 0.5 -3.3 1.2 -4.4 2.1 -4.3 2.2 -3.3 3.1 -3.3 2.5 -2.2 4.7 -3.3 2.9 -1.6 4.2 -1.3 2.6 -1.1 1.7 -1.3 1.1 -1.3 1 -2.2 0.5 -2.2 -0.1 -2.2 -0.8 -5.5 0.2 -2.2 1.1 -3.3 1.3 -2.6 5.1 -9.5 1.4 -3.3 2.9 -8.2 1.7 -3.4 1.7 -2.4 1.7 -1.8 1.7 -1.2z"/>
<path fill="#73ff8c" fill-rule="evenodd" d="M115.9 49.5l1.7 -0.9 0.8 -0.2 1.7 0.2 1.7 0.9 1.7 1.8 1.8 2.7 1.7 3.4 5.1 13.2 2.1 6.3 1.5 5.5 1.5 6.6 1.2 6.6 0.5 4.4 0.2 4.4 -0.2 4.4 -0.5 3.3 -1.3 4.3 -2.3 4.4 -2.5 3.3 -3.3 3.3 -4.5 3.3 -3.5 2.2 -3.4 1.5 -4.3 1 -1.7 0.7 -1.7 1 -1.7 1.8 -0.9 1.7 -0.6 2.2 0 2.2 0.8 4.4 0.2 2.2 -0.3 2.2 -1.2 3.3 -1.5 3.1 -4.8 9 -3.7 8 -1.7 3.2 -1.5 1.9 -1.1 1.1 -1.7 0.9 -1.7 0.2 -1.7 -0.7 -1.7 -1.5 -1.5 -2.2 -1.1 -1.9 -1.7 -3.9 -2.5 -6.9 -3.8 -11.4 -2.3 -9.9 -1.7 -11 -0.4 -4.4 -0.1 -3.3 0.2 -3.3 0.5 -3.3 1.2 -4.4 1.5 -3.2 2 -3.3 2.8 -3.3 2.3 -2.2 4.3 -3.3 3.6 -2.2 4.4 -1.6 1.7 -0.9 1.7 -1.2 1.5 -1.8 1 -2.2 0.5 -2.2 0 -2.2 -0.3 -3.3 0 -2.2 0.4 -2.2 0.9 -2.2 2 -4 5.3 -9.2 4.9 -10.1 1.7 -2.5z"/>
<path fill="#8fff70" fill-rule="evenodd" d="M117.4 54.9l1 -0.2 1.7 0.4 1.7 1.2 1.7 2 1.8 2.8 2.5 5.1 2.6 6.1 1.6 4.6 1.3 4.4 1.4 5.5 1.1 5.5 0.9 5.5 0.4 4.4 0.1 3.3 -0.2 3.3 -0.5 3.3 -1.3 4.3 -1.6 3.3 -2.3 3.3 -3 3.3 -2.5 2.2 -4.7 3.3 -3.5 1.9 -6 1.9 -1.7 1 -1.8 1.8 -1.2 2.2 -0.6 2.2 -0.1 2.2 0.6 4.4 -0.1 2.2 -0.5 2.2 -1.5 3.4 -2.5 4.6 -6.9 11 -1.7 2.4 -1.7 1.8 -0.8 0.6 -1.7 0.5 -0.9 -0.1 -0.8 -0.3 -1.8 -1.3 -1.7 -2.2 -1.7 -3.1 -3.7 -8.5 -1.5 -4.4 -1.6 -5.3 -2.3 -10.1 -1.4 -9.9 -0.2 -6.6 0.3 -3.3 0.6 -3.3 1 -3.3 1.4 -3.2 2.1 -3.3 2.7 -3.3 2.3 -2.2 4.2 -3.3 3 -1.9 5.1 -2.3 1.7 -1.2 1.7 -2 0.8 -1.4 0.8 -2.2 0.2 -2.2 0.1 -5.5 0.7 -2.7 1.2 -2.8 2.2 -4 9.4 -14.4 1.7 -2 0.9 -0.7z"/>
<path fill="#abff54" fill-rule="evenodd" d="M116.3 61.5l1.3 -0.4 1.7 0.1 1.7 0.9 1.7 1.6 1.7 2.3 1.9 3.2 2.1 4.4 1.7 4.4 1.4 4.4 1.4 5.5 1.1 5.5 0.9 5.5 0.4 4.4 0 3.3 -0.3 3.3 -0.6 3.3 -1.1 3.2 -1.6 3.3 -2.3 3.3 -2.9 3.3 -2.5 2.2 -4.6 3.3 -1.9 1.1 -5.1 1.9 -1.7 0.8 -1.7 1.3 -1.4 1.5 -1.1 2.2 -0.6 2.2 -0.2 2.2 0.2 4.4 -0.4 2.2 -0.8 2.3 -1.7 3.4 -4.2 6.4 -2.6 3.3 -2.6 2.8 -1.7 1.3 -0.8 0.4 -1.7 0.3 -0.9 -0.1 -1.7 -1 -0.9 -0.8 -1.7 -2.1 -1.7 -2.9 -3 -6.7 -2.4 -7.7 -2.2 -9.9 -1.2 -8.8 -0.1 -6.6 0.8 -5.5 1 -3.3 1.5 -3.2 2 -3.3 2.8 -3.3 3.5 -3.3 2.8 -2.2 1.6 -1.1 5.7 -3.1 1.6 -1.3 1 -1.1 1.3 -2.2 0.8 -2.2 1 -7.7 0.7 -2.2 1.3 -2.7 3.5 -5.4 4.2 -5.5 3.4 -3.6z"/>
<path fill="#c7ff38" fill-rule="evenodd" d="M114.9 67l1.8 -0.6 1.7 0 1.7 0.6 1.7 1.4 1.7 1.9 1.8 2.7 1.4 2.8 1.4 3.3 1.5 4.4 1.5 5.5 1.1 5.5 0.7 4.4 0.4 4.4 0.1 3.3 -0.3 3.3 -0.6 3.3 -1.1 3.2 -1.6 3.3 -2.2 3.3 -3 3.3 -3.8 3.3 -3.1 2.2 -2 1.1 -4.1 1.7 -1.7 1 -1.9 1.7 -1.5 2.2 -0.8 2.2 -0.5 2.2 -0.4 5.5 -0.7 2.2 -1.1 2.4 -1.7 2.9 -3.4 4.4 -3.4 3.4 -2.6 1.5 -1.7 0.4 -0.8 -0.1 -0.9 -0.3 -1.7 -1 -1.7 -1.9 -1.3 -1.8 -1.3 -2.3 -1.4 -3.2 -2.3 -6.6 -2 -8.8 -1.3 -8.8 -0.2 -3.3 0.1 -3.3 0.7 -5.5 1 -3.3 1.5 -3.2 2.1 -3.3 1.7 -2.2 2.1 -2.2 3.7 -3.3 3 -2.2 4.1 -2.5 1.8 -1.3 1.4 -1.7 0.7 -1.1 1 -2.2 2 -8.3 0.8 -2 1.6 -2.9 2.7 -3.8 2.6 -3 2.5 -2.5z"/>
<path fill="#e3ff1c" fill-rule="evenodd" d="M114.4 71.4l1.5 -0.4 1.7 -0.1 1.7 0.6 1.7 1.2 1.7 1.8 1.5 2.4 2.6 5.5 1.5 4.4 1.1 4.4 1 4.4 0.7 4.4 0.3 3.3 0.1 3.3 -0.3 3.3 -0.6 3.3 -1.1 3.2 -1.6 3.3 -2.2 3.3 -1.9 2.2 -3.5 3.3 -2.7 2.2 -1.7 1.1 -5.2 2.7 -1.7 1.2 -1.6 1.6 -0.8 1.1 -0.7 1.1 -0.8 2.2 -1.2 6.1 -0.9 2.5 -1.7 3.1 -2.5 3.5 -2.6 2.6 -2.6 1.8 -1.7 0.6 -0.8 0.1 -1.7 -0.3 -1.7 -0.9 -0.9 -0.7 -1.6 -1.9 -1 -1.5 -2.3 -5.1 -2.1 -6.6 -1.7 -7.7 -1 -7.7 0.1 -5.5 0.5 -3.3 0.5 -2.2 1.2 -3.3 1 -2.1 2.1 -3.3 1.7 -2.2 2 -2.2 3.6 -3.3 6.4 -4.6 2.6 -2.6 1.1 -1.6 1 -2.2 2.1 -6.6 2.6 -4.7 1.7 -2.4 2.6 -2.8 2.5 -2.2z"/>
<path fill="#feff01" fill-rule="evenodd" d="M113.5 75.8l1.5 -0.5 1.7 0 1.7 0.5 1.7 1.1 1.1 1.1 1.5 2.1 1.3 2.3 1.3 2.9 1.2 3.7 1.3 4.6 0.9 4.2 0.6 4.4 0.2 3.3 -0.1 3.3 -0.5 3.3 -0.6 2.1 -1.2 3.3 -1.2 2.2 -2.2 3.3 -1.9 2.2 -4.6 4.4 -3.1 2.2 -4.2 2.6 -1.7 1.4 -1.5 1.5 -0.8 1.1 -1.1 2.2 -1.8 5.5 -0.8 2.1 -1.7 2.9 -1.7 2.2 -2.6 2.5 -1.7 1.1 -1.7 0.6 -0.9 0.1 -1.7 -0.2 -1.7 -0.8 -0.8 -0.7 -1.8 -2.1 -0.8 -1.4 -1.9 -4.1 -2.1 -6.6 -1.4 -6.6 -0.8 -6.6 0.2 -5.5 0.9 -4.4 1.2 -3.3 1 -2.1 2.9 -4.4 1.9 -2.2 3.3 -3.3 2.5 -2.2 3.4 -2.6 2.6 -2.4 1.9 -2.7 3.2 -6.9 2.6 -4.2 1.7 -2.2 1.7 -1.8 1.7 -1.4z"/>
<path fill="#ffe400" fill-rule="evenodd" d="M112.9 80.2l1.2 -0.4 1.8 -0.1 1.7 0.5 1.6 1.1 1 1.1 1.6 2.3 2.1 4.3 1.2 3.3 1 3.7 0.8 4 0.4 3.3 0.1 5.5 -0.5 3.3 -0.5 2.1 -1.3 3.3 -1.1 2.2 -2.3 3.3 -1.8 2.2 -4.6 4.4 -7.1 5.4 -2.2 2.3 -1.5 2.2 -3.2 6.4 -2.5 3.5 -2.6 2.4 -1.7 0.9 -1.7 0.4 -1.7 -0.1 -1.7 -0.9 -0.9 -0.7 -0.8 -0.9 -1.5 -2.2 -2 -4.2 -1.7 -5.4 -1.2 -5.8 -0.5 -5.5 0.2 -4.4 0.8 -4.4 1.2 -3.3 1.1 -2.1 2.9 -4.4 3.9 -4.4 7 -6.3 1.7 -1.8 2.2 -2.9 3.8 -6.2 2.6 -3.3 2.5 -2.4z"/>
<path fill="#ffc800" fill-rule="evenodd" d="M112.3 84.6l1 -0.3 1.7 -0.1 1.7 0.5 1.5 1 1.1 1.1 1.5 2.2 1.9 3.9 1.8 6 0.9 5.5 0.1 3.3 -0.2 2.2 -0.9 4.3 -0.8 2.2 -1.6 3.3 -3.1 4.4 -3 3.3 -2.3 2.2 -4.6 3.7 -2.5 2.3 -2.3 2.8 -2.9 4.3 -1.7 2.2 -2.5 2.3 -1.8 1 -1.7 0.5 -1.7 -0.2 -0.8 -0.3 -1.5 -1 -1.9 -2.4 -1.8 -3.3 -1.8 -5.3 -0.9 -4.4 -0.5 -5.5 0.3 -4.4 1 -4.4 0.9 -2.2 1.7 -3.2 1.4 -2.2 2.7 -3.3 3.1 -3.3 5.8 -5.7 6 -7.3 2.6 -2.8 2.5 -2.1z"/>
<path fill="#ffac00" fill-rule="evenodd" d="M110.6 89l1 -0.5 1.7 -0.4 1.7 0.2 0.9 0.3 1.7 1.1 0.8 0.9 1.2 1.7 1.2 2.2 1 2.5 0.9 2.9 0.8 4.5 0.2 3.3 -0.2 2.2 -0.8 4.3 -1.3 3.3 -1.8 3.3 -2.5 3.3 -3 3.3 -7.6 6.9 -5.2 5.8 -2.5 2.4 -1.7 1.2 -1.8 0.8 -1.7 0.2 -0.8 -0.1 -1.6 -0.7 -1 -0.8 -1.7 -2.1 -1.7 -3.4 -1.2 -3.6 -0.9 -4.4 -0.3 -4.4 0.4 -4.4 0.9 -3.3 1.1 -2.7 1.5 -2.7 1.4 -2.2 2.7 -3.3 14.1 -14.4 2.5 -2.2z"/>
<path fill="#ff9000" fill-rule="evenodd" d="M111.1 92.3l2.2 -0.3 1.2 0.3 1.4 0.6 1.6 1.6 0.8 1.1 1.8 3.6 1.2 4.1 0.4 4.4 -0.4 4.4 -1.2 4.2 -1.1 2.3 -1.3 2.2 -3.4 4.4 -4.3 4.4 -8.7 7.9 -2.5 1.9 -2.6 1.2 -1.7 0.2 -1.7 -0.4 -1.7 -1.1 -1.7 -2.2 -1.5 -3.1 -1.1 -3.6 -0.5 -4.1 0 -3.3 0.5 -3.3 1 -3.3 1.6 -3.2 1.4 -2.2 2.5 -3.3 3 -3.3 9.3 -8.8 3.4 -2.4z"/>
<path fill="#ff7400" fill-rule="evenodd" d="M108.3 96.7l2.4 -0.8 1.7 -0.1 0.9 0.2 1.4 0.7 1.2 0.9 1.7 2.3 1.3 3.4 0.5 2.2 0.2 2.2 -0.3 4.4 -0.8 3.2 -1.5 3.3 -2.1 3.3 -2.7 3.3 -4.4 4.4 -4.8 4 -3.4 2.3 -2.5 1 -1.8 0.2 -0.8 -0.2 -1.7 -0.8 -1.7 -1.8 -1.4 -2.5 -0.8 -2.2 -0.6 -3.3 -0 -3.3 0.2 -2.2 0.8 -3.3 0.9 -2.2 1.8 -3.2 1.6 -2.4 2.6 -3 3.4 -3.4 3.4 -3 2.6 -2z"/>
<path fill="#ff5900" fill-rule="evenodd" d="M108.1 100l2.6 -0.5 1.7 0.4 1.9 1.2 1.6 2.2 1.1 3.3 0.3 3.3 -0.4 3.3 -1 3.2 -1.7 3.3 -2.4 3.3 -3.1 3.3 -3.1 2.8 -3.4 2.4 -2.6 1.3 -2.5 0.5 -1.8 -0.2 -1.7 -1.1 -1.1 -1.3 -1.1 -2.2 -0.6 -2.2 -0.3 -2.2 0.1 -2.2 0.5 -3 0.8 -2.5 1 -2.2 1.6 -2.6 2.2 -2.8 2.1 -2.2 2.5 -2.4 2.6 -1.9 2.6 -1.6z"/>
<path fill="#ff3d00" fill-rule="evenodd" d="M105.7 104.4l2.5 -0.8 1.7 -0 1.7 0.7 1.2 1.2 1.2 2.2 0.4 2.2 -0.2 3.3 -0.5 2.1 -1.3 2.9 -1.7 2.6 -1.8 2.2 -2.4 2.4 -2.6 1.9 -2.6 1.4 -2.5 0.6 -1.7 -0.2 -1.2 -0.6 -1.1 -1.1 -1.2 -2.4 -0.4 -3.1 0.2 -2.2 0.6 -2.2 0.9 -2.2 1.2 -2.1 2.5 -3.3 3.6 -3.3z"/>
<path fill="#ff2500" fill-rule="evenodd" d="M105.4 108.8l1.1 -0.3 1.7 0.1 0.8 0.5 0.9 0.9 0.4 1 0.2 2.2 -0.1 1 -0.6 2.2 -2 3.3 -1.3 1.5 -1.8 1.5 -1.7 1 -1.7 0.6 -0.8 0.1 -1.4 -0.3 -1.3 -1.1 -0.5 -1.1 -0.2 -1.1 0.1 -2.2 0.6 -2.2 1.2 -2.2 1.7 -2.1 2.3 -2.1z"/>
</g>
<path d="M1654.4 806.65h3.5M1874.7 806.65h-3.5M1654.4 866.6h3.5M1874.7 866.6h-3.5M1654.4 926.55h3.5M1874.7 926.55h-3.5M1764.55 746.7v3.5M1764.55 986.5v-3.5" stroke="#1a1a3a" stroke-width="1.6" fill="none" opacity="0.7"/>
<path d="M1742.52 746.7V986.5M1775.57 746.7V986.5M1654.4 830.63H1874.7M1654.4 902.57H1874.7" stroke="#fff" stroke-width="2.1" stroke-dasharray="21 13.2" fill="none"/>
</g>
<text x="1642.2" y="760" text-anchor="end" fill="#262626">-1</text>
<text x="1642.2" y="819.95" text-anchor="end" fill="#262626">-0.5</text>
<text x="1642.2" y="879.9" text-anchor="end" fill="#262626">0</text>
<text x="1642.2" y="939.85" text-anchor="end" fill="#262626">0.5</text>
<text x="1642.2" y="999.8" text-anchor="end" fill="#262626">1</text>
<text x="1654.4" y="1028.3" text-anchor="middle" fill="#262626">1.45</text>
<text x="1764.55" y="1028.3" text-anchor="middle" fill="#262626">1.55</text>
<text x="1874.7" y="1028.3" text-anchor="middle" fill="#262626">1.65</text>
<text x="1762.75" y="1061.7" text-anchor="middle" fill="#262626">Wavelength (<tspan font-style="italic" font-size="34px" dx="2.5">μ</tspan><tspan dx="2.5">m)</tspan></text>
<text transform="translate(1579.7 866.6) rotate(-90)" text-anchor="middle" fill="#262626">Time (ps)</text>
</g>
<g>
<rect x="102.2" y="1114.4" width="220.3" height="240.1" fill="#fff" stroke="#262626" stroke-width="2"/>
<path d="M102.2 1194.43h4M322.5 1194.43h-4M102.2 1274.47h4M322.5 1274.47h-4M212.35 1114.4v4M212.35 1354.5v-4" stroke="#262626" stroke-width="2" fill="none"/>
<path d="M102.2 1277.81 104.4 1277.8 106.61 1277.79 108.81 1277.77 111.01 1277.76 113.21 1277.74 115.42 1277.72 117.62 1277.69 119.82 1277.67 122.03 1277.64 124.23 1277.62 126.43 1277.59 128.64 1277.56 130.84 1277.53 133.04 1277.5 135.25 1277.46 137.45 1277.43 139.65 1277.38 141.85 1277.33 144.06 1277.25 146.26 1277.14 148.46 1277 150.67 1276.84 152.87 1276.67 155.07 1276.51 157.27 1276.32 157.83 1276.27 158.38 1276.21 158.93 1276.14 159.48 1276.07 160.03 1275.98 160.58 1275.89 161.13 1275.78 161.68 1275.66 162.23 1275.53 162.78 1275.39 163.33 1275.23 163.88 1275.05 164.43 1274.86 164.99 1274.64 165.54 1274.41 166.09 1274.16 166.64 1273.9 167.19 1273.62 167.74 1273.32 168.29 1273.02 168.84 1272.7 169.39 1272.36 169.94 1272.01 170.49 1271.65 171.04 1271.27 171.59 1270.88 172.15 1270.48 172.7 1270.07 173.25 1269.66 173.8 1269.24 174.35 1268.81 174.9 1268.39 175.45 1267.95 176 1267.52 176.55 1267.11 177.1 1266.7 177.65 1266.32 178.2 1265.96 178.75 1265.62 179.31 1265.29 179.86 1264.99 180.41 1264.71 180.96 1264.47 181.51 1264.27 182.06 1264.13 182.61 1264.03 183.16 1263.99 183.71 1263.99 184.26 1264.01 184.81 1264.06 185.36 1264.12 185.91 1264.18 186.46 1264.21 187.02 1264.2 187.57 1264.11 188.12 1263.87 188.67 1263.44 189.22 1262.75 189.77 1261.77 190.32 1260.47 190.87 1258.86 191.42 1256.94 191.97 1254.73 192.52 1252.25 193.07 1249.51 193.62 1246.54 194.18 1243.37 194.73 1240.02 195.28 1236.52 195.83 1232.88 196.38 1229.15 196.93 1225.34 197.48 1221.48 198.03 1217.59 198.58 1213.71 199.13 1209.85 199.68 1206.03 200.23 1202.29 200.78 1198.64 201.34 1195.1 201.89 1191.68 202.44 1188.41 202.99 1185.3 203.54 1182.36 204.09 1179.6 204.64 1177.03 205.19 1174.67 205.74 1172.5 206.29 1170.54 206.84 1168.79 207.39 1167.25 207.94 1165.91 208.49 1164.77 209.05 1163.82 209.6 1163.06 210.15 1162.46 210.7 1162.03 211.25 1161.73 211.8 1161.56 212.35 1161.51 212.9 1161.56 213.45 1161.73 214 1162.03 214.55 1162.46 215.1 1163.06 215.65 1163.82 216.21 1164.77 216.76 1165.91 217.31 1167.25 217.86 1168.79 218.41 1170.54 218.96 1172.5 219.51 1174.67 220.06 1177.03 220.61 1179.6 221.16 1182.36 221.71 1185.3 222.26 1188.41 222.81 1191.68 223.36 1195.1 223.92 1198.64 224.47 1202.29 225.02 1206.03 225.57 1209.85 226.12 1213.71 226.67 1217.59 227.22 1221.48 227.77 1225.34 228.32 1229.15 228.87 1232.88 229.42 1236.52 229.97 1240.02 230.52 1243.37 231.08 1246.54 231.63 1249.51 232.18 1252.25 232.73 1254.73 233.28 1256.94 233.83 1258.86 234.38 1260.47 234.93 1261.77 235.48 1262.75 236.03 1263.44 236.58 1263.87 237.13 1264.11 237.68 1264.2 238.24 1264.21 238.79 1264.18 239.34 1264.12 239.89 1264.06 240.44 1264.01 240.99 1263.99 241.54 1263.99 242.09 1264.03 242.64 1264.13 243.19 1264.27 243.74 1264.47 244.29 1264.71 244.84 1264.99 245.4 1265.29 245.95 1265.62 246.5 1265.96 247.05 1266.32 247.6 1266.7 248.15 1267.11 248.7 1267.52 249.25 1267.95 249.8 1268.39 250.35 1268.81 250.9 1269.24 251.45 1269.66 252 1270.07 252.55 1270.48 253.11 1270.88 253.66 1271.27 254.21 1271.65 254.76 1272.01 255.31 1272.36 255.86 1272.7 256.41 1273.02 256.96 1273.32 257.51 1273.62 258.06 1273.9 258.61 1274.16 259.16 1274.41 259.71 1274.64 260.27 1274.86 260.82 1275.05 261.37 1275.23 261.92 1275.39 262.47 1275.53 263.02 1275.66 263.57 1275.78 264.12 1275.89 264.67 1275.98 265.22 1276.07 265.77 1276.14 266.32 1276.21 266.87 1276.27 267.43 1276.32 269.63 1276.51 271.83 1276.67 274.03 1276.84 276.24 1277 278.44 1277.14 280.64 1277.25 282.85 1277.33 285.05 1277.38 287.25 1277.43 289.45 1277.46 291.66 1277.5 293.86 1277.53 296.06 1277.56 298.27 1277.59 300.47 1277.62 302.67 1277.64 304.88 1277.67 307.08 1277.69 309.28 1277.72 311.49 1277.74 313.69 1277.76 315.89 1277.77 318.09 1277.79 320.3 1277.8 322.5 1277.81" stroke="#0072bd" stroke-width="2" fill="none" stroke-linejoin="round"/>
<text x="90.2" y="1127" text-anchor="end" fill="#262626">1</text>
<text x="90.2" y="1207.03" text-anchor="end" fill="#262626">0.98</text>
<text x="90.2" y="1287.07" text-anchor="end" fill="#262626">0.96</text>
<text x="90.2" y="1367.1" text-anchor="end" fill="#262626">0.94</text>
<text x="101.6" y="1396" text-anchor="middle" fill="#262626">-1</text>
<text x="212.35" y="1396" text-anchor="middle" fill="#262626">0</text>
<text x="322.5" y="1396" text-anchor="middle" fill="#262626">1</text>
<text x="212.35" y="1431.3" text-anchor="middle" fill="#262626">Time (ps)</text>
<text transform="translate(22.6 1235.45) rotate(-90)" text-anchor="middle" fill="#262626">Transmission (%)</text>
<text x="112.5" y="1346.2" fill="#000">10fs<tspan dy="-13" font-size="25.6px">2</tspan><tspan dy="13">/mm</tspan></text>
</g>
<g>
<rect x="489.2" y="1114.4" width="220.3" height="240.1" fill="#fff" stroke="#262626" stroke-width="2"/>
<path d="M489.2 1194.43h4M709.5 1194.43h-4M489.2 1274.47h4M709.5 1274.47h-4M599.35 1114.4v4M599.35 1354.5v-4" stroke="#262626" stroke-width="2" fill="none"/>
<path d="M489.2 1277.81 491.4 1277.8 493.61 1277.79 495.81 1277.78 498.01 1277.75 500.22 1277.73 502.42 1277.7 504.62 1277.67 506.82 1277.63 509.03 1277.59 511.23 1277.56 513.43 1277.52 515.64 1277.47 517.84 1277.41 520.04 1277.35 522.25 1277.28 524.45 1277.2 526.65 1277.11 528.85 1277.01 531.06 1276.9 533.26 1276.77 535.46 1276.6 537.67 1276.4 539.87 1276.15 542.07 1275.85 544.27 1275.49 544.83 1275.38 545.38 1275.27 545.93 1275.14 546.48 1275 547.03 1274.83 547.58 1274.65 548.13 1274.45 548.68 1274.22 549.23 1273.99 549.78 1273.73 550.33 1273.47 550.88 1273.19 551.43 1272.9 551.99 1272.6 552.54 1272.29 553.09 1271.98 553.64 1271.66 554.19 1271.33 554.74 1271 555.29 1270.65 555.84 1270.29 556.39 1269.91 556.94 1269.51 557.49 1269.09 558.04 1268.66 558.59 1268.21 559.15 1267.75 559.7 1267.29 560.25 1266.83 560.8 1266.38 561.35 1265.94 561.9 1265.51 562.45 1265.1 563 1264.69 563.55 1264.29 564.1 1263.88 564.65 1263.48 565.2 1263.07 565.75 1262.67 566.31 1262.29 566.86 1261.93 567.41 1261.6 567.96 1261.32 568.51 1261.08 569.06 1260.9 569.61 1260.77 570.16 1260.69 570.71 1260.66 571.26 1260.66 571.81 1260.68 572.36 1260.71 572.91 1260.74 573.46 1260.75 574.02 1260.71 574.57 1260.57 575.12 1260.29 575.67 1259.82 576.22 1259.1 576.77 1258.11 577.32 1256.84 577.87 1255.28 578.42 1253.45 578.97 1251.35 579.52 1249.02 580.07 1246.46 580.62 1243.7 581.18 1240.75 581.73 1237.65 582.28 1234.42 582.83 1231.07 583.38 1227.63 583.93 1224.13 584.48 1220.58 585.03 1217.01 585.58 1213.44 586.13 1209.9 586.68 1206.4 587.23 1202.97 587.78 1199.61 588.34 1196.36 588.89 1193.22 589.44 1190.21 589.99 1187.35 590.54 1184.64 591.09 1182.09 591.64 1179.72 592.19 1177.53 592.74 1175.52 593.29 1173.71 593.84 1172.08 594.39 1170.64 594.94 1169.39 595.49 1168.33 596.05 1167.44 596.6 1166.72 597.15 1166.16 597.7 1165.75 598.25 1165.47 598.8 1165.31 599.35 1165.26 599.9 1165.31 600.45 1165.47 601 1165.75 601.55 1166.16 602.1 1166.72 602.65 1167.44 603.21 1168.33 603.76 1169.39 604.31 1170.64 604.86 1172.08 605.41 1173.71 605.96 1175.52 606.51 1177.53 607.06 1179.72 607.61 1182.09 608.16 1184.64 608.71 1187.35 609.26 1190.21 609.81 1193.22 610.37 1196.36 610.92 1199.61 611.47 1202.97 612.02 1206.4 612.57 1209.9 613.12 1213.44 613.67 1217.01 614.22 1220.58 614.77 1224.13 615.32 1227.63 615.87 1231.07 616.42 1234.42 616.97 1237.65 617.52 1240.75 618.08 1243.7 618.63 1246.46 619.18 1249.02 619.73 1251.35 620.28 1253.45 620.83 1255.28 621.38 1256.84 621.93 1258.11 622.48 1259.1 623.03 1259.82 623.58 1260.29 624.13 1260.57 624.68 1260.71 625.24 1260.75 625.79 1260.74 626.34 1260.71 626.89 1260.68 627.44 1260.66 627.99 1260.66 628.54 1260.69 629.09 1260.77 629.64 1260.9 630.19 1261.08 630.74 1261.32 631.29 1261.6 631.84 1261.93 632.39 1262.29 632.95 1262.67 633.5 1263.07 634.05 1263.48 634.6 1263.88 635.15 1264.29 635.7 1264.69 636.25 1265.1 636.8 1265.51 637.35 1265.94 637.9 1266.38 638.45 1266.83 639 1267.29 639.55 1267.75 640.11 1268.21 640.66 1268.66 641.21 1269.09 641.76 1269.51 642.31 1269.91 642.86 1270.29 643.41 1270.65 643.96 1271 644.51 1271.33 645.06 1271.66 645.61 1271.98 646.16 1272.29 646.71 1272.6 647.27 1272.9 647.82 1273.19 648.37 1273.47 648.92 1273.73 649.47 1273.99 650.02 1274.22 650.57 1274.45 651.12 1274.65 651.67 1274.83 652.22 1275 652.77 1275.14 653.32 1275.27 653.87 1275.38 654.43 1275.49 656.63 1275.85 658.83 1276.15 661.03 1276.4 663.24 1276.6 665.44 1276.77 667.64 1276.9 669.85 1277.01 672.05 1277.11 674.25 1277.2 676.46 1277.28 678.66 1277.35 680.86 1277.41 683.06 1277.47 685.27 1277.52 687.47 1277.56 689.67 1277.59 691.88 1277.63 694.08 1277.67 696.28 1277.7 698.49 1277.73 700.69 1277.75 702.89 1277.78 705.09 1277.79 707.3 1277.8 709.5 1277.81" stroke="#0072bd" stroke-width="2" fill="none" stroke-linejoin="round"/>
<text x="477.2" y="1127" text-anchor="end" fill="#262626">1</text>
<text x="477.2" y="1207.03" text-anchor="end" fill="#262626">0.98</text>
<text x="477.2" y="1287.07" text-anchor="end" fill="#262626">0.96</text>
<text x="477.2" y="1367.1" text-anchor="end" fill="#262626">0.94</text>
<text x="488.6" y="1396" text-anchor="middle" fill="#262626">-1</text>
<text x="599.35" y="1396" text-anchor="middle" fill="#262626">0</text>
<text x="709.5" y="1396" text-anchor="middle" fill="#262626">1</text>
<text x="599.35" y="1431.3" text-anchor="middle" fill="#262626">Time (ps)</text>
<text transform="translate(409.6 1235.45) rotate(-90)" text-anchor="middle" fill="#262626">Transmission (%)</text>
<text x="499.5" y="1346.2" fill="#000">12fs<tspan dy="-13" font-size="25.6px">2</tspan><tspan dy="13">/mm</tspan></text>
</g>
<g>
<rect x="876.8" y="1114.4" width="220.3" height="240.1" fill="#fff" stroke="#262626" stroke-width="2"/>
<path d="M876.8 1194.43h4M1097.1 1194.43h-4M876.8 1274.47h4M1097.1 1274.47h-4M986.95 1114.4v4M986.95 1354.5v-4" stroke="#262626" stroke-width="2" fill="none"/>
<path d="M876.8 1277.71 879 1277.7 881.21 1277.68 883.41 1277.66 885.61 1277.62 887.81 1277.58 890.02 1277.53 892.22 1277.48 894.42 1277.43 896.63 1277.37 898.83 1277.31 901.03 1277.24 903.24 1277.16 905.44 1277.06 907.64 1276.95 909.84 1276.83 912.05 1276.7 914.25 1276.55 916.45 1276.38 918.66 1276.2 920.86 1275.99 923.06 1275.75 925.27 1275.45 927.47 1275.09 929.67 1274.67 931.87 1274.16 932.43 1274.02 932.98 1273.86 933.53 1273.68 934.08 1273.48 934.63 1273.26 935.18 1273.01 935.73 1272.74 936.28 1272.44 936.83 1272.13 937.38 1271.79 937.93 1271.44 938.48 1271.08 939.03 1270.7 939.59 1270.31 940.14 1269.92 940.69 1269.52 941.24 1269.11 941.79 1268.7 942.34 1268.28 942.89 1267.85 943.44 1267.41 943.99 1266.95 944.54 1266.48 945.09 1265.98 945.64 1265.47 946.19 1264.95 946.75 1264.42 947.3 1263.89 947.85 1263.36 948.4 1262.84 948.95 1262.33 949.5 1261.84 950.05 1261.35 950.6 1260.88 951.15 1260.41 951.7 1259.93 952.25 1259.46 952.8 1258.98 953.35 1258.5 953.9 1258.04 954.46 1257.59 955.01 1257.18 955.56 1256.8 956.11 1256.47 956.66 1256.19 957.21 1255.97 957.76 1255.81 958.31 1255.71 958.86 1255.66 959.41 1255.66 959.96 1255.68 960.51 1255.71 961.06 1255.75 961.62 1255.78 962.17 1255.79 962.72 1255.77 963.27 1255.67 963.82 1255.46 964.37 1255.09 964.92 1254.49 965.47 1253.63 966.02 1252.48 966.57 1251.05 967.12 1249.32 967.67 1247.33 968.22 1245.09 968.78 1242.62 969.33 1239.94 969.88 1237.07 970.43 1234.05 970.98 1230.89 971.53 1227.63 972.08 1224.28 972.63 1220.88 973.18 1217.44 973.73 1213.99 974.28 1210.56 974.83 1207.17 975.38 1203.85 975.93 1200.6 976.49 1197.45 977.04 1194.42 977.59 1191.53 978.14 1188.78 978.69 1186.2 979.24 1183.78 979.79 1181.55 980.34 1179.5 980.89 1177.64 981.44 1175.98 981.99 1174.5 982.54 1173.23 983.09 1172.14 983.65 1171.23 984.2 1170.5 984.75 1169.93 985.3 1169.51 985.85 1169.22 986.4 1169.06 986.95 1169.01 987.5 1169.06 988.05 1169.22 988.6 1169.51 989.15 1169.93 989.7 1170.5 990.25 1171.23 990.81 1172.14 991.36 1173.23 991.91 1174.5 992.46 1175.98 993.01 1177.64 993.56 1179.5 994.11 1181.55 994.66 1183.78 995.21 1186.2 995.76 1188.78 996.31 1191.53 996.86 1194.42 997.41 1197.45 997.96 1200.6 998.52 1203.85 999.07 1207.17 999.62 1210.56 1000.17 1213.99 1000.72 1217.44 1001.27 1220.88 1001.82 1224.28 1002.37 1227.63 1002.92 1230.89 1003.47 1234.05 1004.02 1237.07 1004.57 1239.94 1005.12 1242.62 1005.68 1245.09 1006.23 1247.33 1006.78 1249.32 1007.33 1251.05 1007.88 1252.48 1008.43 1253.63 1008.98 1254.49 1009.53 1255.09 1010.08 1255.46 1010.63 1255.67 1011.18 1255.77 1011.73 1255.79 1012.28 1255.78 1012.84 1255.75 1013.39 1255.71 1013.94 1255.68 1014.49 1255.66 1015.04 1255.66 1015.59 1255.71 1016.14 1255.81 1016.69 1255.97 1017.24 1256.19 1017.79 1256.47 1018.34 1256.8 1018.89 1257.18 1019.44 1257.59 1019.99 1258.04 1020.55 1258.5 1021.1 1258.98 1021.65 1259.46 1022.2 1259.93 1022.75 1260.41 1023.3 1260.88 1023.85 1261.35 1024.4 1261.84 1024.95 1262.33 1025.5 1262.84 1026.05 1263.36 1026.6 1263.89 1027.15 1264.42 1027.71 1264.95 1028.26 1265.47 1028.81 1265.98 1029.36 1266.48 1029.91 1266.95 1030.46 1267.41 1031.01 1267.85 1031.56 1268.28 1032.11 1268.7 1032.66 1269.11 1033.21 1269.52 1033.76 1269.92 1034.31 1270.31 1034.87 1270.7 1035.42 1271.08 1035.97 1271.44 1036.52 1271.79 1037.07 1272.13 1037.62 1272.44 1038.17 1272.74 1038.72 1273.01 1039.27 1273.26 1039.82 1273.48 1040.37 1273.68 1040.92 1273.86 1041.47 1274.02 1042.02 1274.16 1044.23 1274.67 1046.43 1275.09 1048.63 1275.45 1050.84 1275.75 1053.04 1275.99 1055.24 1276.2 1057.45 1276.38 1059.65 1276.55 1061.85 1276.7 1064.05 1276.83 1066.26 1276.95 1068.46 1277.06 1070.66 1277.16 1072.87 1277.24 1075.07 1277.31 1077.27 1277.37 1079.48 1277.43 1081.68 1277.48 1083.88 1277.53 1086.09 1277.58 1088.29 1277.62 1090.49 1277.66 1092.69 1277.68 1094.9 1277.7 1097.1 1277.71" stroke="#0072bd" stroke-width="2" fill="none" stroke-linejoin="round"/>
<text x="864.8" y="1127" text-anchor="end" fill="#262626">1</text>
<text x="864.8" y="1207.03" text-anchor="end" fill="#262626">0.98</text>
<text x="864.8" y="1287.07" text-anchor="end" fill="#262626">0.96</text>
<text x="864.8" y="1367.1" text-anchor="end" fill="#262626">0.94</text>
<text x="876.2" y="1396" text-anchor="middle" fill="#262626">-1</text>
<text x="986.95" y="1396" text-anchor="middle" fill="#262626">0</text>
<text x="1097.1" y="1396" text-anchor="middle" fill="#262626">1</text>
<text x="986.95" y="1431.3" text-anchor="middle" fill="#262626">Time (ps)</text>
<text transform="translate(797.2 1235.45) rotate(-90)" text-anchor="middle" fill="#262626">Transmission (%)</text>
<text x="887.1" y="1346.2" fill="#000">14fs<tspan dy="-13" font-size="25.6px">2</tspan><tspan dy="13">/mm</tspan></text>
</g>
<g>
<rect x="1266.8" y="1114.4" width="220.3" height="240.1" fill="#fff" stroke="#262626" stroke-width="2"/>
<path d="M1266.8 1194.43h4M1487.1 1194.43h-4M1266.8 1274.47h4M1487.1 1274.47h-4M1376.95 1114.4v4M1376.95 1354.5v-4" stroke="#262626" stroke-width="2" fill="none"/>
<path d="M1266.8 1277.3 1269 1277.28 1271.21 1277.24 1273.41 1277.19 1275.61 1277.14 1277.81 1277.08 1280.02 1277.01 1282.22 1276.94 1284.42 1276.87 1286.63 1276.78 1288.83 1276.68 1291.03 1276.57 1293.24 1276.45 1295.44 1276.31 1297.64 1276.16 1299.84 1276 1302.05 1275.81 1304.25 1275.59 1306.45 1275.33 1308.66 1275.01 1310.86 1274.61 1313.06 1274.12 1315.27 1273.55 1317.47 1272.92 1319.67 1272.18 1321.87 1271.28 1322.43 1271.03 1322.98 1270.77 1323.53 1270.5 1324.08 1270.22 1324.63 1269.93 1325.18 1269.63 1325.73 1269.31 1326.28 1268.97 1326.83 1268.62 1327.38 1268.25 1327.93 1267.86 1328.48 1267.45 1329.03 1267.02 1329.59 1266.57 1330.14 1266.09 1330.69 1265.6 1331.24 1265.09 1331.79 1264.57 1332.34 1264.05 1332.89 1263.52 1333.44 1262.99 1333.99 1262.45 1334.54 1261.91 1335.09 1261.37 1335.64 1260.83 1336.19 1260.28 1336.75 1259.72 1337.3 1259.15 1337.85 1258.57 1338.4 1257.98 1338.95 1257.38 1339.5 1256.76 1340.05 1256.12 1340.6 1255.49 1341.15 1254.87 1341.7 1254.26 1342.25 1253.68 1342.8 1253.13 1343.35 1252.61 1343.9 1252.12 1344.46 1251.66 1345.01 1251.24 1345.56 1250.88 1346.11 1250.6 1346.66 1250.4 1347.21 1250.29 1347.76 1250.27 1348.31 1250.3 1348.86 1250.39 1349.41 1250.5 1349.96 1250.6 1350.51 1250.7 1351.06 1250.77 1351.62 1250.81 1352.17 1250.82 1352.72 1250.79 1353.27 1250.7 1353.82 1250.51 1354.37 1250.18 1354.92 1249.65 1355.47 1248.89 1356.02 1247.88 1356.57 1246.61 1357.12 1245.1 1357.67 1243.35 1358.22 1241.37 1358.78 1239.19 1359.33 1236.84 1359.88 1234.32 1360.43 1231.65 1360.98 1228.88 1361.53 1226 1362.08 1223.06 1362.63 1220.06 1363.18 1217.03 1363.73 1214 1364.28 1210.98 1364.83 1208 1365.38 1205.07 1365.93 1202.21 1366.49 1199.44 1367.04 1196.78 1367.59 1194.23 1368.14 1191.81 1368.69 1189.54 1369.24 1187.41 1369.79 1185.44 1370.34 1183.64 1370.89 1182.01 1371.44 1180.54 1371.99 1179.25 1372.54 1178.12 1373.09 1177.16 1373.65 1176.36 1374.2 1175.72 1374.75 1175.22 1375.3 1174.85 1375.85 1174.6 1376.4 1174.45 1376.95 1174.41 1377.5 1174.45 1378.05 1174.6 1378.6 1174.85 1379.15 1175.22 1379.7 1175.72 1380.25 1176.36 1380.81 1177.16 1381.36 1178.12 1381.91 1179.25 1382.46 1180.54 1383.01 1182.01 1383.56 1183.64 1384.11 1185.44 1384.66 1187.41 1385.21 1189.54 1385.76 1191.81 1386.31 1194.23 1386.86 1196.78 1387.41 1199.44 1387.96 1202.21 1388.52 1205.07 1389.07 1208 1389.62 1210.98 1390.17 1214 1390.72 1217.03 1391.27 1220.06 1391.82 1223.06 1392.37 1226 1392.92 1228.88 1393.47 1231.65 1394.02 1234.32 1394.57 1236.84 1395.12 1239.19 1395.68 1241.37 1396.23 1243.35 1396.78 1245.1 1397.33 1246.61 1397.88 1247.88 1398.43 1248.89 1398.98 1249.65 1399.53 1250.18 1400.08 1250.51 1400.63 1250.7 1401.18 1250.79 1401.73 1250.82 1402.28 1250.81 1402.84 1250.77 1403.39 1250.7 1403.94 1250.6 1404.49 1250.5 1405.04 1250.39 1405.59 1250.3 1406.14 1250.27 1406.69 1250.29 1407.24 1250.4 1407.79 1250.6 1408.34 1250.88 1408.89 1251.24 1409.44 1251.66 1409.99 1252.12 1410.55 1252.61 1411.1 1253.13 1411.65 1253.68 1412.2 1254.26 1412.75 1254.87 1413.3 1255.49 1413.85 1256.12 1414.4 1256.76 1414.95 1257.38 1415.5 1257.98 1416.05 1258.57 1416.6 1259.15 1417.15 1259.72 1417.71 1260.28 1418.26 1260.83 1418.81 1261.37 1419.36 1261.91 1419.91 1262.45 1420.46 1262.99 1421.01 1263.52 1421.56 1264.05 1422.11 1264.57 1422.66 1265.09 1423.21 1265.6 1423.76 1266.09 1424.31 1266.57 1424.87 1267.02 1425.42 1267.45 1425.97 1267.86 1426.52 1268.25 1427.07 1268.62 1427.62 1268.97 1428.17 1269.31 1428.72 1269.63 1429.27 1269.93 1429.82 1270.22 1430.37 1270.5 1430.92 1270.77 1431.47 1271.03 1432.02 1271.28 1434.23 1272.18 1436.43 1272.92 1438.63 1273.55 1440.84 1274.12 1443.04 1274.61 1445.24 1275.01 1447.45 1275.33 1449.65 1275.59 1451.85 1275.81 1454.05 1276 1456.26 1276.16 1458.46 1276.31 1460.66 1276.45 1462.87 1276.57 1465.07 1276.68 1467.27 1276.78 1469.48 1276.87 1471.68 1276.94 1473.88 1277.01 1476.08 1277.08 1478.29 1277.14 1480.49 1277.19 1482.69 1277.24 1484.9 1277.28 1487.1 1277.3" stroke="#0072bd" stroke-width="2" fill="none" stroke-linejoin="round"/>
<text x="1254.8" y="1127" text-anchor="end" fill="#262626">1</text>
<text x="1254.8" y="1207.03" text-anchor="end" fill="#262626">0.98</text>
<text x="1254.8" y="1287.07" text-anchor="end" fill="#262626">0.96</text>
<text x="1254.8" y="1367.1" text-anchor="end" fill="#262626">0.94</text>
<text x="1266.2" y="1396" text-anchor="middle" fill="#262626">-1</text>
<text x="1376.95" y="1396" text-anchor="middle" fill="#262626">0</text>
<text x="1487.1" y="1396" text-anchor="middle" fill="#262626">1</text>
<text x="1376.95" y="1431.3" text-anchor="middle" fill="#262626">Time (ps)</text>
<text transform="translate(1187.2 1235.45) rotate(-90)" text-anchor="middle" fill="#262626">Transmission (%)</text>
<text x="1277.1" y="1346.2" fill="#000">16fs<tspan dy="-13" font-size="25.6px">2</tspan><tspan dy="13">/mm</tspan></text>
</g>
<g>
<rect x="1654.4" y="1114.4" width="220.3" height="240.1" fill="#fff" stroke="#262626" stroke-width="2"/>
<path d="M1654.4 1194.43h4M1874.7 1194.43h-4M1654.4 1274.47h4M1874.7 1274.47h-4M1764.55 1114.4v4M1764.55 1354.5v-4" stroke="#262626" stroke-width="2" fill="none"/>
<path d="M1654.4 1276.69 1656.6 1276.65 1658.81 1276.57 1661.01 1276.48 1663.21 1276.37 1665.42 1276.25 1667.62 1276.12 1669.82 1275.98 1672.02 1275.83 1674.23 1275.66 1676.43 1275.47 1678.63 1275.25 1680.84 1275.01 1683.04 1274.74 1685.24 1274.44 1687.45 1274.09 1689.65 1273.66 1691.85 1273.16 1694.05 1272.61 1696.26 1272.04 1698.46 1271.44 1700.66 1270.8 1702.87 1270.07 1705.07 1269.21 1707.27 1268.11 1709.48 1266.63 1710.03 1266.2 1710.58 1265.75 1711.13 1265.29 1711.68 1264.82 1712.23 1264.34 1712.78 1263.85 1713.33 1263.35 1713.88 1262.83 1714.43 1262.29 1714.98 1261.73 1715.53 1261.16 1716.08 1260.58 1716.63 1259.98 1717.19 1259.36 1717.74 1258.72 1718.29 1258.07 1718.84 1257.4 1719.39 1256.73 1719.94 1256.06 1720.49 1255.4 1721.04 1254.74 1721.59 1254.11 1722.14 1253.48 1722.69 1252.85 1723.24 1252.22 1723.79 1251.59 1724.35 1250.94 1724.9 1250.29 1725.45 1249.64 1726 1249 1726.55 1248.37 1727.1 1247.75 1727.65 1247.16 1728.2 1246.6 1728.75 1246.08 1729.3 1245.61 1729.85 1245.19 1730.4 1244.82 1730.95 1244.52 1731.51 1244.29 1732.06 1244.13 1732.61 1244.05 1733.16 1244.05 1733.71 1244.12 1734.26 1244.27 1734.81 1244.48 1735.36 1244.75 1735.91 1245.06 1736.46 1245.42 1737.01 1245.8 1737.56 1246.19 1738.11 1246.58 1738.66 1246.96 1739.22 1247.32 1739.77 1247.64 1740.32 1247.9 1740.87 1248.1 1741.42 1248.22 1741.97 1248.21 1742.52 1248.06 1743.07 1247.73 1743.62 1247.19 1744.17 1246.42 1744.72 1245.41 1745.27 1244.18 1745.82 1242.72 1746.38 1241.06 1746.93 1239.2 1747.48 1237.18 1748.03 1235.01 1748.58 1232.71 1749.13 1230.31 1749.68 1227.81 1750.23 1225.25 1750.78 1222.65 1751.33 1220.02 1751.88 1217.39 1752.43 1214.78 1752.98 1212.21 1753.54 1209.69 1754.09 1207.23 1754.64 1204.87 1755.19 1202.6 1755.74 1200.45 1756.29 1198.42 1756.84 1196.52 1757.39 1194.76 1757.94 1193.14 1758.49 1191.68 1759.04 1190.37 1759.59 1189.21 1760.14 1188.21 1760.69 1187.35 1761.25 1186.64 1761.8 1186.07 1762.35 1185.62 1762.9 1185.3 1763.45 1185.08 1764 1184.95 1764.55 1184.91 1765.1 1184.95 1765.65 1185.08 1766.2 1185.3 1766.75 1185.62 1767.3 1186.07 1767.85 1186.64 1768.41 1187.35 1768.96 1188.21 1769.51 1189.21 1770.06 1190.37 1770.61 1191.68 1771.16 1193.14 1771.71 1194.76 1772.26 1196.52 1772.81 1198.42 1773.36 1200.45 1773.91 1202.6 1774.46 1204.87 1775.01 1207.23 1775.57 1209.69 1776.12 1212.21 1776.67 1214.78 1777.22 1217.39 1777.77 1220.02 1778.32 1222.65 1778.87 1225.25 1779.42 1227.81 1779.97 1230.31 1780.52 1232.71 1781.07 1235.01 1781.62 1237.18 1782.17 1239.2 1782.72 1241.06 1783.28 1242.72 1783.83 1244.18 1784.38 1245.41 1784.93 1246.42 1785.48 1247.19 1786.03 1247.73 1786.58 1248.06 1787.13 1248.21 1787.68 1248.22 1788.23 1248.1 1788.78 1247.9 1789.33 1247.64 1789.88 1247.32 1790.44 1246.96 1790.99 1246.58 1791.54 1246.19 1792.09 1245.8 1792.64 1245.42 1793.19 1245.06 1793.74 1244.75 1794.29 1244.48 1794.84 1244.27 1795.39 1244.12 1795.94 1244.05 1796.49 1244.05 1797.04 1244.13 1797.6 1244.29 1798.15 1244.52 1798.7 1244.82 1799.25 1245.19 1799.8 1245.61 1800.35 1246.08 1800.9 1246.6 1801.45 1247.16 1802 1247.75 1802.55 1248.37 1803.1 1249 1803.65 1249.64 1804.2 1250.29 1804.75 1250.94 1805.31 1251.59 1805.86 1252.22 1806.41 1252.85 1806.96 1253.48 1807.51 1254.11 1808.06 1254.74 1808.61 1255.4 1809.16 1256.06 1809.71 1256.73 1810.26 1257.4 1810.81 1258.07 1811.36 1258.72 1811.91 1259.36 1812.47 1259.98 1813.02 1260.58 1813.57 1261.16 1814.12 1261.73 1814.67 1262.29 1815.22 1262.83 1815.77 1263.35 1816.32 1263.85 1816.87 1264.34 1817.42 1264.82 1817.97 1265.29 1818.52 1265.75 1819.07 1266.2 1819.63 1266.63 1821.83 1268.11 1824.03 1269.21 1826.23 1270.07 1828.44 1270.8 1830.64 1271.44 1832.84 1272.04 1835.05 1272.61 1837.25 1273.16 1839.45 1273.66 1841.66 1274.09 1843.86 1274.44 1846.06 1274.74 1848.26 1275.01 1850.47 1275.25 1852.67 1275.47 1854.87 1275.66 1857.08 1275.83 1859.28 1275.98 1861.48 1276.12 1863.69 1276.25 1865.89 1276.37 1868.09 1276.48 1870.29 1276.57 1872.5 1276.65 1874.7 1276.69" stroke="#0072bd" stroke-width="2" fill="none" stroke-linejoin="round"/>
<text x="1642.4" y="1127" text-anchor="end" fill="#262626">1</text>
<text x="1642.4" y="1207.03" text-anchor="end" fill="#262626">0.98</text>
<text x="1642.4" y="1287.07" text-anchor="end" fill="#262626">0.96</text>
<text x="1642.4" y="1367.1" text-anchor="end" fill="#262626">0.94</text>
<text x="1653.8" y="1396" text-anchor="middle" fill="#262626">-1</text>
<text x="1764.55" y="1396" text-anchor="middle" fill="#262626">0</text>
<text x="1874.7" y="1396" text-anchor="middle" fill="#262626">1</text>
<text x="1764.55" y="1431.3" text-anchor="middle" fill="#262626">Time (ps)</text>
<text transform="translate(1574.8 1235.45) rotate(-90)" text-anchor="middle" fill="#262626">Transmission (%)</text>
<text x="1664.7" y="1346.2" fill="#000">18fs<tspan dy="-13" font-size="25.6px">2</tspan><tspan dy="13">/mm</tspan></text>
</g>
</svg></body></html>
